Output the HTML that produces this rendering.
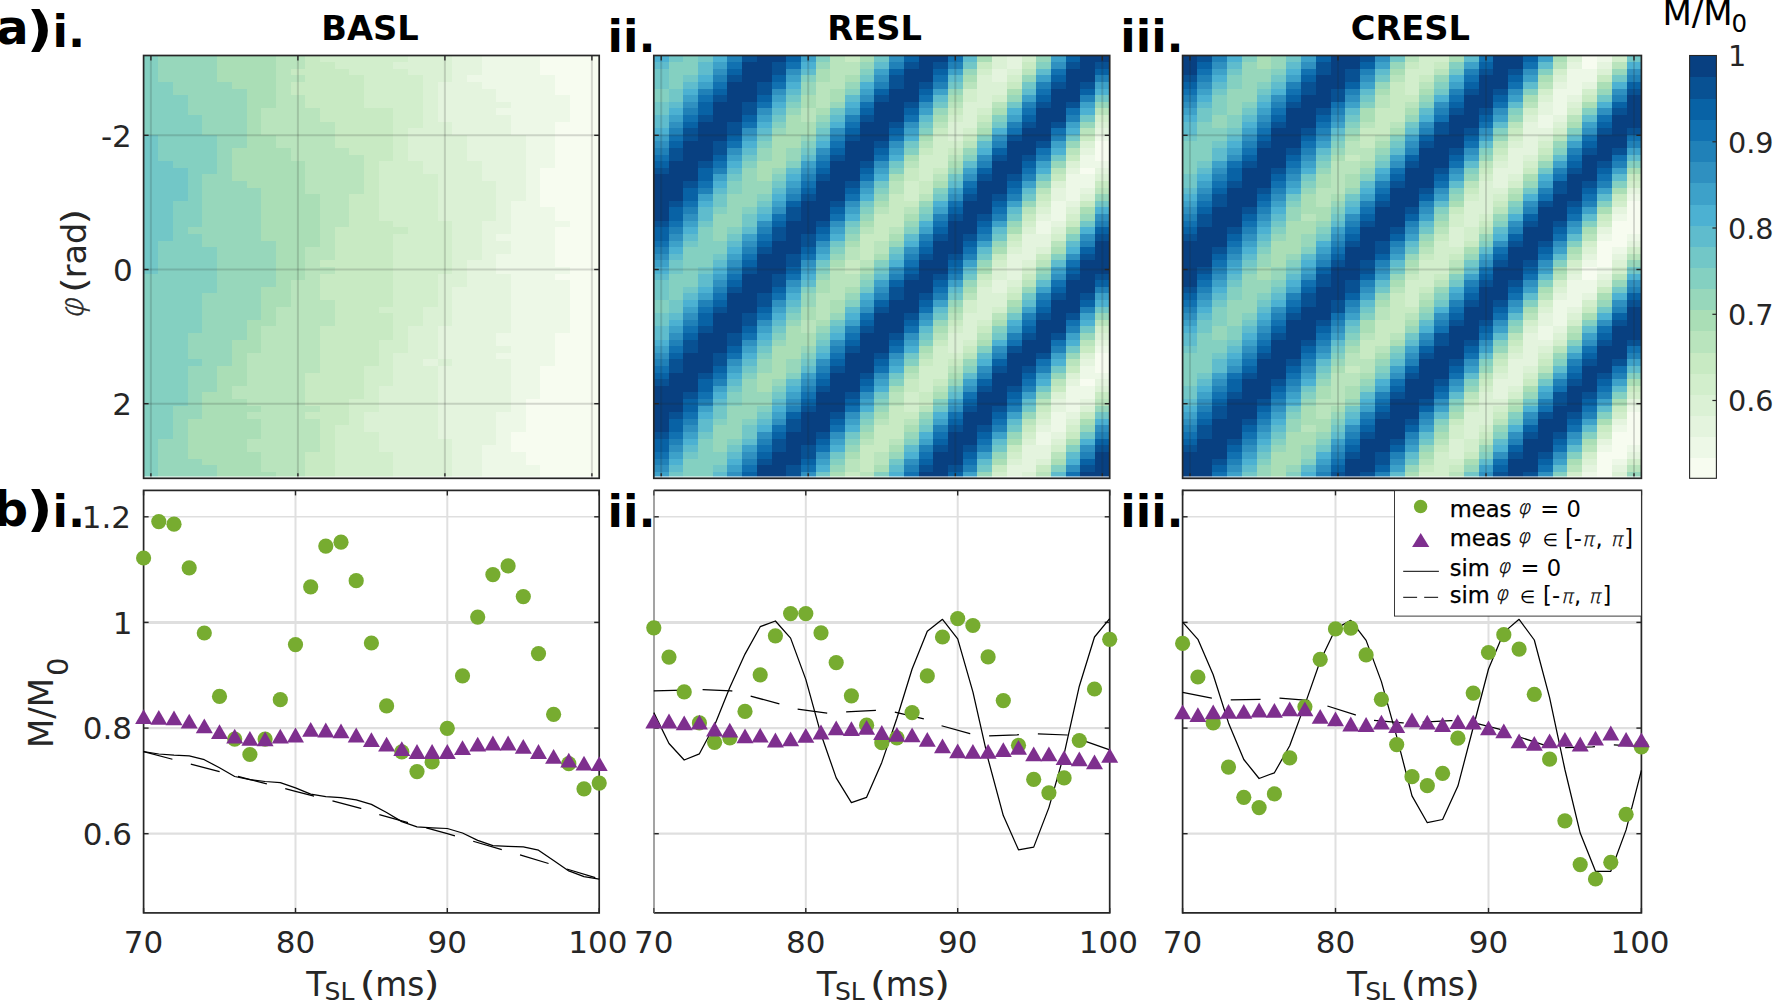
<!DOCTYPE html>
<html lang="en"><head><meta charset="utf-8"><title>Spin-lock figure</title>
<style>html,body{margin:0;padding:0;background:#fff}body{width:1773px;height:1003px;overflow:hidden}svg{display:block}text{font-family:'DejaVu Sans','Liberation Sans',sans-serif}</style>
</head><body>
<svg width="1773" height="1003" viewBox="0 0 1773 1003">
<rect width="1773" height="1003" fill="#fff"/>
<!-- heatmap BASL -->
<g shape-rendering="crispEdges">
<rect x="143.6" y="55.5" width="15.0" height="6.9" fill="#84d0c1"/>
<rect x="158.3" y="55.5" width="59.1" height="6.9" fill="#97d7bb"/>
<rect x="217.1" y="55.5" width="59.1" height="6.9" fill="#aadeb6"/>
<rect x="275.9" y="55.5" width="29.7" height="6.9" fill="#b9e4bd"/>
<rect x="305.3" y="55.5" width="15.0" height="6.9" fill="#c8eac3"/>
<rect x="320.0" y="55.5" width="88.5" height="6.9" fill="#d2eecc"/>
<rect x="408.1" y="55.5" width="44.4" height="6.9" fill="#dbf1d5"/>
<rect x="452.2" y="55.5" width="29.7" height="6.9" fill="#e4f4de"/>
<rect x="481.6" y="55.5" width="59.1" height="6.9" fill="#edf8e7"/>
<rect x="540.4" y="55.5" width="59.1" height="6.9" fill="#f7fcf0"/>
<rect x="143.6" y="62.1" width="15.0" height="6.9" fill="#84d0c1"/>
<rect x="158.3" y="62.1" width="59.1" height="6.9" fill="#97d7bb"/>
<rect x="217.1" y="62.1" width="59.1" height="6.9" fill="#aadeb6"/>
<rect x="275.9" y="62.1" width="29.7" height="6.9" fill="#b9e4bd"/>
<rect x="305.3" y="62.1" width="29.7" height="6.9" fill="#c8eac3"/>
<rect x="334.7" y="62.1" width="59.1" height="6.9" fill="#d2eecc"/>
<rect x="393.4" y="62.1" width="59.1" height="6.9" fill="#dbf1d5"/>
<rect x="452.2" y="62.1" width="29.7" height="6.9" fill="#e4f4de"/>
<rect x="481.6" y="62.1" width="59.1" height="6.9" fill="#edf8e7"/>
<rect x="540.4" y="62.1" width="59.1" height="6.9" fill="#f7fcf0"/>
<rect x="143.6" y="68.7" width="15.0" height="6.9" fill="#84d0c1"/>
<rect x="158.3" y="68.7" width="59.1" height="6.9" fill="#97d7bb"/>
<rect x="217.1" y="68.7" width="59.1" height="6.9" fill="#aadeb6"/>
<rect x="275.9" y="68.7" width="15.0" height="6.9" fill="#b9e4bd"/>
<rect x="290.6" y="68.7" width="59.1" height="6.9" fill="#c8eac3"/>
<rect x="349.4" y="68.7" width="59.1" height="6.9" fill="#d2eecc"/>
<rect x="408.1" y="68.7" width="44.4" height="6.9" fill="#dbf1d5"/>
<rect x="452.2" y="68.7" width="29.7" height="6.9" fill="#e4f4de"/>
<rect x="481.6" y="68.7" width="59.1" height="6.9" fill="#edf8e7"/>
<rect x="540.4" y="68.7" width="59.1" height="6.9" fill="#f7fcf0"/>
<rect x="143.6" y="75.3" width="15.0" height="6.9" fill="#84d0c1"/>
<rect x="158.3" y="75.3" width="59.1" height="6.9" fill="#97d7bb"/>
<rect x="217.1" y="75.3" width="59.1" height="6.9" fill="#aadeb6"/>
<rect x="275.9" y="75.3" width="29.7" height="6.9" fill="#b9e4bd"/>
<rect x="305.3" y="75.3" width="59.1" height="6.9" fill="#c8eac3"/>
<rect x="364.1" y="75.3" width="59.1" height="6.9" fill="#d2eecc"/>
<rect x="422.8" y="75.3" width="29.7" height="6.9" fill="#dbf1d5"/>
<rect x="452.2" y="75.3" width="15.0" height="6.9" fill="#e4f4de"/>
<rect x="466.9" y="75.3" width="88.5" height="6.9" fill="#edf8e7"/>
<rect x="555.1" y="75.3" width="44.4" height="6.9" fill="#f7fcf0"/>
<rect x="143.6" y="81.9" width="29.7" height="6.9" fill="#84d0c1"/>
<rect x="173.0" y="81.9" width="59.1" height="6.9" fill="#97d7bb"/>
<rect x="231.8" y="81.9" width="44.4" height="6.9" fill="#aadeb6"/>
<rect x="275.9" y="81.9" width="15.0" height="6.9" fill="#b9e4bd"/>
<rect x="290.6" y="81.9" width="73.8" height="6.9" fill="#c8eac3"/>
<rect x="364.1" y="81.9" width="59.1" height="6.9" fill="#d2eecc"/>
<rect x="422.8" y="81.9" width="15.0" height="6.9" fill="#dbf1d5"/>
<rect x="437.5" y="81.9" width="44.4" height="6.9" fill="#e4f4de"/>
<rect x="481.6" y="81.9" width="73.8" height="6.9" fill="#edf8e7"/>
<rect x="555.1" y="81.9" width="44.4" height="6.9" fill="#f7fcf0"/>
<rect x="143.6" y="88.5" width="29.7" height="6.9" fill="#84d0c1"/>
<rect x="173.0" y="88.5" width="73.8" height="6.9" fill="#97d7bb"/>
<rect x="246.5" y="88.5" width="29.7" height="6.9" fill="#aadeb6"/>
<rect x="275.9" y="88.5" width="15.0" height="6.9" fill="#b9e4bd"/>
<rect x="290.6" y="88.5" width="73.8" height="6.9" fill="#c8eac3"/>
<rect x="364.1" y="88.5" width="59.1" height="6.9" fill="#d2eecc"/>
<rect x="422.8" y="88.5" width="15.0" height="6.9" fill="#dbf1d5"/>
<rect x="437.5" y="88.5" width="59.1" height="6.9" fill="#e4f4de"/>
<rect x="496.3" y="88.5" width="59.1" height="6.9" fill="#edf8e7"/>
<rect x="555.1" y="88.5" width="44.4" height="6.9" fill="#f7fcf0"/>
<rect x="143.6" y="95.1" width="44.4" height="6.9" fill="#84d0c1"/>
<rect x="187.7" y="95.1" width="59.1" height="6.9" fill="#97d7bb"/>
<rect x="246.5" y="95.1" width="29.7" height="6.9" fill="#aadeb6"/>
<rect x="275.9" y="95.1" width="29.7" height="6.9" fill="#b9e4bd"/>
<rect x="305.3" y="95.1" width="59.1" height="6.9" fill="#c8eac3"/>
<rect x="364.1" y="95.1" width="59.1" height="6.9" fill="#d2eecc"/>
<rect x="422.8" y="95.1" width="15.0" height="6.9" fill="#dbf1d5"/>
<rect x="437.5" y="95.1" width="59.1" height="6.9" fill="#e4f4de"/>
<rect x="496.3" y="95.1" width="73.8" height="6.9" fill="#edf8e7"/>
<rect x="569.8" y="95.1" width="29.7" height="6.9" fill="#f7fcf0"/>
<rect x="143.6" y="101.7" width="44.4" height="6.9" fill="#84d0c1"/>
<rect x="187.7" y="101.7" width="59.1" height="6.9" fill="#97d7bb"/>
<rect x="246.5" y="101.7" width="29.7" height="6.9" fill="#aadeb6"/>
<rect x="275.9" y="101.7" width="29.7" height="6.9" fill="#b9e4bd"/>
<rect x="305.3" y="101.7" width="59.1" height="6.9" fill="#c8eac3"/>
<rect x="364.1" y="101.7" width="59.1" height="6.9" fill="#d2eecc"/>
<rect x="422.8" y="101.7" width="15.0" height="6.9" fill="#dbf1d5"/>
<rect x="437.5" y="101.7" width="73.8" height="6.9" fill="#e4f4de"/>
<rect x="511.0" y="101.7" width="59.1" height="6.9" fill="#edf8e7"/>
<rect x="569.8" y="101.7" width="29.7" height="6.9" fill="#f7fcf0"/>
<rect x="143.6" y="108.3" width="44.4" height="6.9" fill="#84d0c1"/>
<rect x="187.7" y="108.3" width="59.1" height="6.9" fill="#97d7bb"/>
<rect x="246.5" y="108.3" width="15.0" height="6.9" fill="#aadeb6"/>
<rect x="261.2" y="108.3" width="59.1" height="6.9" fill="#b9e4bd"/>
<rect x="320.0" y="108.3" width="73.8" height="6.9" fill="#c8eac3"/>
<rect x="393.4" y="108.3" width="29.7" height="6.9" fill="#d2eecc"/>
<rect x="422.8" y="108.3" width="15.0" height="6.9" fill="#dbf1d5"/>
<rect x="437.5" y="108.3" width="59.1" height="6.9" fill="#e4f4de"/>
<rect x="496.3" y="108.3" width="73.8" height="6.9" fill="#edf8e7"/>
<rect x="569.8" y="108.3" width="29.7" height="6.9" fill="#f7fcf0"/>
<rect x="143.6" y="115.0" width="59.1" height="6.9" fill="#84d0c1"/>
<rect x="202.4" y="115.0" width="44.4" height="6.9" fill="#97d7bb"/>
<rect x="246.5" y="115.0" width="15.0" height="6.9" fill="#aadeb6"/>
<rect x="261.2" y="115.0" width="59.1" height="6.9" fill="#b9e4bd"/>
<rect x="320.0" y="115.0" width="73.8" height="6.9" fill="#c8eac3"/>
<rect x="393.4" y="115.0" width="29.7" height="6.9" fill="#d2eecc"/>
<rect x="422.8" y="115.0" width="15.0" height="6.9" fill="#dbf1d5"/>
<rect x="437.5" y="115.0" width="73.8" height="6.9" fill="#e4f4de"/>
<rect x="511.0" y="115.0" width="59.1" height="6.9" fill="#edf8e7"/>
<rect x="569.8" y="115.0" width="29.7" height="6.9" fill="#f7fcf0"/>
<rect x="143.6" y="121.6" width="59.1" height="6.9" fill="#84d0c1"/>
<rect x="202.4" y="121.6" width="44.4" height="6.9" fill="#97d7bb"/>
<rect x="246.5" y="121.6" width="15.0" height="6.9" fill="#aadeb6"/>
<rect x="261.2" y="121.6" width="73.8" height="6.9" fill="#b9e4bd"/>
<rect x="334.7" y="121.6" width="59.1" height="6.9" fill="#c8eac3"/>
<rect x="393.4" y="121.6" width="29.7" height="6.9" fill="#d2eecc"/>
<rect x="422.8" y="121.6" width="29.7" height="6.9" fill="#dbf1d5"/>
<rect x="452.2" y="121.6" width="59.1" height="6.9" fill="#e4f4de"/>
<rect x="511.0" y="121.6" width="44.4" height="6.9" fill="#edf8e7"/>
<rect x="555.1" y="121.6" width="44.4" height="6.9" fill="#f7fcf0"/>
<rect x="143.6" y="128.2" width="59.1" height="6.9" fill="#84d0c1"/>
<rect x="202.4" y="128.2" width="44.4" height="6.9" fill="#97d7bb"/>
<rect x="246.5" y="128.2" width="15.0" height="6.9" fill="#aadeb6"/>
<rect x="261.2" y="128.2" width="73.8" height="6.9" fill="#b9e4bd"/>
<rect x="334.7" y="128.2" width="59.1" height="6.9" fill="#c8eac3"/>
<rect x="393.4" y="128.2" width="15.0" height="6.9" fill="#d2eecc"/>
<rect x="408.1" y="128.2" width="44.4" height="6.9" fill="#dbf1d5"/>
<rect x="452.2" y="128.2" width="59.1" height="6.9" fill="#e4f4de"/>
<rect x="511.0" y="128.2" width="44.4" height="6.9" fill="#edf8e7"/>
<rect x="555.1" y="128.2" width="44.4" height="6.9" fill="#f7fcf0"/>
<rect x="143.6" y="134.8" width="15.0" height="6.9" fill="#72c7c7"/>
<rect x="158.3" y="134.8" width="59.1" height="6.9" fill="#84d0c1"/>
<rect x="217.1" y="134.8" width="29.7" height="6.9" fill="#97d7bb"/>
<rect x="246.5" y="134.8" width="29.7" height="6.9" fill="#aadeb6"/>
<rect x="275.9" y="134.8" width="59.1" height="6.9" fill="#b9e4bd"/>
<rect x="334.7" y="134.8" width="59.1" height="6.9" fill="#c8eac3"/>
<rect x="393.4" y="134.8" width="15.0" height="6.9" fill="#d2eecc"/>
<rect x="408.1" y="134.8" width="59.1" height="6.9" fill="#dbf1d5"/>
<rect x="466.9" y="134.8" width="59.1" height="6.9" fill="#e4f4de"/>
<rect x="525.7" y="134.8" width="29.7" height="6.9" fill="#edf8e7"/>
<rect x="555.1" y="134.8" width="44.4" height="6.9" fill="#f7fcf0"/>
<rect x="143.6" y="141.4" width="15.0" height="6.9" fill="#72c7c7"/>
<rect x="158.3" y="141.4" width="59.1" height="6.9" fill="#84d0c1"/>
<rect x="217.1" y="141.4" width="29.7" height="6.9" fill="#97d7bb"/>
<rect x="246.5" y="141.4" width="29.7" height="6.9" fill="#aadeb6"/>
<rect x="275.9" y="141.4" width="59.1" height="6.9" fill="#b9e4bd"/>
<rect x="334.7" y="141.4" width="59.1" height="6.9" fill="#c8eac3"/>
<rect x="393.4" y="141.4" width="15.0" height="6.9" fill="#d2eecc"/>
<rect x="408.1" y="141.4" width="59.1" height="6.9" fill="#dbf1d5"/>
<rect x="466.9" y="141.4" width="59.1" height="6.9" fill="#e4f4de"/>
<rect x="525.7" y="141.4" width="29.7" height="6.9" fill="#edf8e7"/>
<rect x="555.1" y="141.4" width="44.4" height="6.9" fill="#f7fcf0"/>
<rect x="143.6" y="148.0" width="15.0" height="6.9" fill="#72c7c7"/>
<rect x="158.3" y="148.0" width="59.1" height="6.9" fill="#84d0c1"/>
<rect x="217.1" y="148.0" width="15.0" height="6.9" fill="#97d7bb"/>
<rect x="231.8" y="148.0" width="59.1" height="6.9" fill="#aadeb6"/>
<rect x="290.6" y="148.0" width="59.1" height="6.9" fill="#b9e4bd"/>
<rect x="349.4" y="148.0" width="44.4" height="6.9" fill="#c8eac3"/>
<rect x="393.4" y="148.0" width="15.0" height="6.9" fill="#d2eecc"/>
<rect x="408.1" y="148.0" width="59.1" height="6.9" fill="#dbf1d5"/>
<rect x="466.9" y="148.0" width="59.1" height="6.9" fill="#e4f4de"/>
<rect x="525.7" y="148.0" width="29.7" height="6.9" fill="#edf8e7"/>
<rect x="555.1" y="148.0" width="44.4" height="6.9" fill="#f7fcf0"/>
<rect x="143.6" y="154.6" width="15.0" height="6.9" fill="#72c7c7"/>
<rect x="158.3" y="154.6" width="59.1" height="6.9" fill="#84d0c1"/>
<rect x="217.1" y="154.6" width="15.0" height="6.9" fill="#97d7bb"/>
<rect x="231.8" y="154.6" width="59.1" height="6.9" fill="#aadeb6"/>
<rect x="290.6" y="154.6" width="73.8" height="6.9" fill="#b9e4bd"/>
<rect x="364.1" y="154.6" width="29.7" height="6.9" fill="#c8eac3"/>
<rect x="393.4" y="154.6" width="15.0" height="6.9" fill="#d2eecc"/>
<rect x="408.1" y="154.6" width="59.1" height="6.9" fill="#dbf1d5"/>
<rect x="466.9" y="154.6" width="59.1" height="6.9" fill="#e4f4de"/>
<rect x="525.7" y="154.6" width="29.7" height="6.9" fill="#edf8e7"/>
<rect x="555.1" y="154.6" width="44.4" height="6.9" fill="#f7fcf0"/>
<rect x="143.6" y="161.2" width="29.7" height="6.9" fill="#72c7c7"/>
<rect x="173.0" y="161.2" width="44.4" height="6.9" fill="#84d0c1"/>
<rect x="217.1" y="161.2" width="15.0" height="6.9" fill="#97d7bb"/>
<rect x="231.8" y="161.2" width="73.8" height="6.9" fill="#aadeb6"/>
<rect x="305.3" y="161.2" width="59.1" height="6.9" fill="#b9e4bd"/>
<rect x="364.1" y="161.2" width="15.0" height="6.9" fill="#c8eac3"/>
<rect x="378.7" y="161.2" width="44.4" height="6.9" fill="#d2eecc"/>
<rect x="422.8" y="161.2" width="59.1" height="6.9" fill="#dbf1d5"/>
<rect x="481.6" y="161.2" width="44.4" height="6.9" fill="#e4f4de"/>
<rect x="525.7" y="161.2" width="29.7" height="6.9" fill="#edf8e7"/>
<rect x="555.1" y="161.2" width="44.4" height="6.9" fill="#f7fcf0"/>
<rect x="143.6" y="167.8" width="44.4" height="6.9" fill="#72c7c7"/>
<rect x="187.7" y="167.8" width="29.7" height="6.9" fill="#84d0c1"/>
<rect x="217.1" y="167.8" width="15.0" height="6.9" fill="#97d7bb"/>
<rect x="231.8" y="167.8" width="73.8" height="6.9" fill="#aadeb6"/>
<rect x="305.3" y="167.8" width="59.1" height="6.9" fill="#b9e4bd"/>
<rect x="364.1" y="167.8" width="15.0" height="6.9" fill="#c8eac3"/>
<rect x="378.7" y="167.8" width="44.4" height="6.9" fill="#d2eecc"/>
<rect x="422.8" y="167.8" width="59.1" height="6.9" fill="#dbf1d5"/>
<rect x="481.6" y="167.8" width="44.4" height="6.9" fill="#e4f4de"/>
<rect x="525.7" y="167.8" width="15.0" height="6.9" fill="#edf8e7"/>
<rect x="540.4" y="167.8" width="59.1" height="6.9" fill="#f7fcf0"/>
<rect x="143.6" y="174.4" width="44.4" height="6.9" fill="#72c7c7"/>
<rect x="187.7" y="174.4" width="15.0" height="6.9" fill="#84d0c1"/>
<rect x="202.4" y="174.4" width="29.7" height="6.9" fill="#97d7bb"/>
<rect x="231.8" y="174.4" width="73.8" height="6.9" fill="#aadeb6"/>
<rect x="305.3" y="174.4" width="59.1" height="6.9" fill="#b9e4bd"/>
<rect x="364.1" y="174.4" width="15.0" height="6.9" fill="#c8eac3"/>
<rect x="378.7" y="174.4" width="59.1" height="6.9" fill="#d2eecc"/>
<rect x="437.5" y="174.4" width="44.4" height="6.9" fill="#dbf1d5"/>
<rect x="481.6" y="174.4" width="44.4" height="6.9" fill="#e4f4de"/>
<rect x="525.7" y="174.4" width="15.0" height="6.9" fill="#edf8e7"/>
<rect x="540.4" y="174.4" width="59.1" height="6.9" fill="#f7fcf0"/>
<rect x="143.6" y="181.0" width="44.4" height="6.9" fill="#72c7c7"/>
<rect x="187.7" y="181.0" width="15.0" height="6.9" fill="#84d0c1"/>
<rect x="202.4" y="181.0" width="44.4" height="6.9" fill="#97d7bb"/>
<rect x="246.5" y="181.0" width="59.1" height="6.9" fill="#aadeb6"/>
<rect x="305.3" y="181.0" width="59.1" height="6.9" fill="#b9e4bd"/>
<rect x="364.1" y="181.0" width="15.0" height="6.9" fill="#c8eac3"/>
<rect x="378.7" y="181.0" width="59.1" height="6.9" fill="#d2eecc"/>
<rect x="437.5" y="181.0" width="59.1" height="6.9" fill="#dbf1d5"/>
<rect x="496.3" y="181.0" width="29.7" height="6.9" fill="#e4f4de"/>
<rect x="525.7" y="181.0" width="15.0" height="6.9" fill="#edf8e7"/>
<rect x="540.4" y="181.0" width="59.1" height="6.9" fill="#f7fcf0"/>
<rect x="143.6" y="187.6" width="44.4" height="6.9" fill="#72c7c7"/>
<rect x="187.7" y="187.6" width="15.0" height="6.9" fill="#84d0c1"/>
<rect x="202.4" y="187.6" width="59.1" height="6.9" fill="#97d7bb"/>
<rect x="261.2" y="187.6" width="44.4" height="6.9" fill="#aadeb6"/>
<rect x="305.3" y="187.6" width="59.1" height="6.9" fill="#b9e4bd"/>
<rect x="364.1" y="187.6" width="15.0" height="6.9" fill="#c8eac3"/>
<rect x="378.7" y="187.6" width="59.1" height="6.9" fill="#d2eecc"/>
<rect x="437.5" y="187.6" width="59.1" height="6.9" fill="#dbf1d5"/>
<rect x="496.3" y="187.6" width="29.7" height="6.9" fill="#e4f4de"/>
<rect x="525.7" y="187.6" width="15.0" height="6.9" fill="#edf8e7"/>
<rect x="540.4" y="187.6" width="59.1" height="6.9" fill="#f7fcf0"/>
<rect x="143.6" y="194.2" width="44.4" height="6.9" fill="#72c7c7"/>
<rect x="187.7" y="194.2" width="15.0" height="6.9" fill="#84d0c1"/>
<rect x="202.4" y="194.2" width="59.1" height="6.9" fill="#97d7bb"/>
<rect x="261.2" y="194.2" width="59.1" height="6.9" fill="#aadeb6"/>
<rect x="320.0" y="194.2" width="29.7" height="6.9" fill="#b9e4bd"/>
<rect x="349.4" y="194.2" width="29.7" height="6.9" fill="#c8eac3"/>
<rect x="378.7" y="194.2" width="59.1" height="6.9" fill="#d2eecc"/>
<rect x="437.5" y="194.2" width="59.1" height="6.9" fill="#dbf1d5"/>
<rect x="496.3" y="194.2" width="29.7" height="6.9" fill="#e4f4de"/>
<rect x="525.7" y="194.2" width="15.0" height="6.9" fill="#edf8e7"/>
<rect x="540.4" y="194.2" width="59.1" height="6.9" fill="#f7fcf0"/>
<rect x="143.6" y="200.8" width="29.7" height="6.9" fill="#72c7c7"/>
<rect x="173.0" y="200.8" width="29.7" height="6.9" fill="#84d0c1"/>
<rect x="202.4" y="200.8" width="59.1" height="6.9" fill="#97d7bb"/>
<rect x="261.2" y="200.8" width="59.1" height="6.9" fill="#aadeb6"/>
<rect x="320.0" y="200.8" width="29.7" height="6.9" fill="#b9e4bd"/>
<rect x="349.4" y="200.8" width="29.7" height="6.9" fill="#c8eac3"/>
<rect x="378.7" y="200.8" width="59.1" height="6.9" fill="#d2eecc"/>
<rect x="437.5" y="200.8" width="59.1" height="6.9" fill="#dbf1d5"/>
<rect x="496.3" y="200.8" width="15.0" height="6.9" fill="#e4f4de"/>
<rect x="511.0" y="200.8" width="29.7" height="6.9" fill="#edf8e7"/>
<rect x="540.4" y="200.8" width="59.1" height="6.9" fill="#f7fcf0"/>
<rect x="143.6" y="207.4" width="29.7" height="6.9" fill="#72c7c7"/>
<rect x="173.0" y="207.4" width="29.7" height="6.9" fill="#84d0c1"/>
<rect x="202.4" y="207.4" width="59.1" height="6.9" fill="#97d7bb"/>
<rect x="261.2" y="207.4" width="59.1" height="6.9" fill="#aadeb6"/>
<rect x="320.0" y="207.4" width="29.7" height="6.9" fill="#b9e4bd"/>
<rect x="349.4" y="207.4" width="29.7" height="6.9" fill="#c8eac3"/>
<rect x="378.7" y="207.4" width="59.1" height="6.9" fill="#d2eecc"/>
<rect x="437.5" y="207.4" width="59.1" height="6.9" fill="#dbf1d5"/>
<rect x="496.3" y="207.4" width="15.0" height="6.9" fill="#e4f4de"/>
<rect x="511.0" y="207.4" width="44.4" height="6.9" fill="#edf8e7"/>
<rect x="555.1" y="207.4" width="44.4" height="6.9" fill="#f7fcf0"/>
<rect x="143.6" y="214.1" width="29.7" height="6.9" fill="#72c7c7"/>
<rect x="173.0" y="214.1" width="29.7" height="6.9" fill="#84d0c1"/>
<rect x="202.4" y="214.1" width="59.1" height="6.9" fill="#97d7bb"/>
<rect x="261.2" y="214.1" width="59.1" height="6.9" fill="#aadeb6"/>
<rect x="320.0" y="214.1" width="29.7" height="6.9" fill="#b9e4bd"/>
<rect x="349.4" y="214.1" width="29.7" height="6.9" fill="#c8eac3"/>
<rect x="378.7" y="214.1" width="59.1" height="6.9" fill="#d2eecc"/>
<rect x="437.5" y="214.1" width="59.1" height="6.9" fill="#dbf1d5"/>
<rect x="496.3" y="214.1" width="15.0" height="6.9" fill="#e4f4de"/>
<rect x="511.0" y="214.1" width="44.4" height="6.9" fill="#edf8e7"/>
<rect x="555.1" y="214.1" width="44.4" height="6.9" fill="#f7fcf0"/>
<rect x="143.6" y="220.7" width="29.7" height="6.9" fill="#72c7c7"/>
<rect x="173.0" y="220.7" width="29.7" height="6.9" fill="#84d0c1"/>
<rect x="202.4" y="220.7" width="59.1" height="6.9" fill="#97d7bb"/>
<rect x="261.2" y="220.7" width="59.1" height="6.9" fill="#aadeb6"/>
<rect x="320.0" y="220.7" width="29.7" height="6.9" fill="#b9e4bd"/>
<rect x="349.4" y="220.7" width="44.4" height="6.9" fill="#c8eac3"/>
<rect x="393.4" y="220.7" width="59.1" height="6.9" fill="#d2eecc"/>
<rect x="452.2" y="220.7" width="29.7" height="6.9" fill="#dbf1d5"/>
<rect x="481.6" y="220.7" width="29.7" height="6.9" fill="#e4f4de"/>
<rect x="511.0" y="220.7" width="59.1" height="6.9" fill="#edf8e7"/>
<rect x="569.8" y="220.7" width="29.7" height="6.9" fill="#f7fcf0"/>
<rect x="143.6" y="227.3" width="29.7" height="6.9" fill="#72c7c7"/>
<rect x="173.0" y="227.3" width="15.0" height="6.9" fill="#84d0c1"/>
<rect x="187.7" y="227.3" width="73.8" height="6.9" fill="#97d7bb"/>
<rect x="261.2" y="227.3" width="59.1" height="6.9" fill="#aadeb6"/>
<rect x="320.0" y="227.3" width="15.0" height="6.9" fill="#b9e4bd"/>
<rect x="334.7" y="227.3" width="73.8" height="6.9" fill="#c8eac3"/>
<rect x="408.1" y="227.3" width="44.4" height="6.9" fill="#d2eecc"/>
<rect x="452.2" y="227.3" width="29.7" height="6.9" fill="#dbf1d5"/>
<rect x="481.6" y="227.3" width="29.7" height="6.9" fill="#e4f4de"/>
<rect x="511.0" y="227.3" width="44.4" height="6.9" fill="#edf8e7"/>
<rect x="555.1" y="227.3" width="44.4" height="6.9" fill="#f7fcf0"/>
<rect x="143.6" y="233.9" width="29.7" height="6.9" fill="#72c7c7"/>
<rect x="173.0" y="233.9" width="29.7" height="6.9" fill="#84d0c1"/>
<rect x="202.4" y="233.9" width="59.1" height="6.9" fill="#97d7bb"/>
<rect x="261.2" y="233.9" width="59.1" height="6.9" fill="#aadeb6"/>
<rect x="320.0" y="233.9" width="15.0" height="6.9" fill="#b9e4bd"/>
<rect x="334.7" y="233.9" width="59.1" height="6.9" fill="#c8eac3"/>
<rect x="393.4" y="233.9" width="59.1" height="6.9" fill="#d2eecc"/>
<rect x="452.2" y="233.9" width="29.7" height="6.9" fill="#dbf1d5"/>
<rect x="481.6" y="233.9" width="15.0" height="6.9" fill="#e4f4de"/>
<rect x="496.3" y="233.9" width="59.1" height="6.9" fill="#edf8e7"/>
<rect x="555.1" y="233.9" width="44.4" height="6.9" fill="#f7fcf0"/>
<rect x="143.6" y="240.5" width="15.0" height="6.9" fill="#72c7c7"/>
<rect x="158.3" y="240.5" width="44.4" height="6.9" fill="#84d0c1"/>
<rect x="202.4" y="240.5" width="73.8" height="6.9" fill="#97d7bb"/>
<rect x="275.9" y="240.5" width="44.4" height="6.9" fill="#aadeb6"/>
<rect x="320.0" y="240.5" width="15.0" height="6.9" fill="#b9e4bd"/>
<rect x="334.7" y="240.5" width="59.1" height="6.9" fill="#c8eac3"/>
<rect x="393.4" y="240.5" width="59.1" height="6.9" fill="#d2eecc"/>
<rect x="452.2" y="240.5" width="29.7" height="6.9" fill="#dbf1d5"/>
<rect x="481.6" y="240.5" width="29.7" height="6.9" fill="#e4f4de"/>
<rect x="511.0" y="240.5" width="44.4" height="6.9" fill="#edf8e7"/>
<rect x="555.1" y="240.5" width="44.4" height="6.9" fill="#f7fcf0"/>
<rect x="143.6" y="247.1" width="15.0" height="6.9" fill="#72c7c7"/>
<rect x="158.3" y="247.1" width="59.1" height="6.9" fill="#84d0c1"/>
<rect x="217.1" y="247.1" width="59.1" height="6.9" fill="#97d7bb"/>
<rect x="275.9" y="247.1" width="29.7" height="6.9" fill="#aadeb6"/>
<rect x="305.3" y="247.1" width="29.7" height="6.9" fill="#b9e4bd"/>
<rect x="334.7" y="247.1" width="59.1" height="6.9" fill="#c8eac3"/>
<rect x="393.4" y="247.1" width="59.1" height="6.9" fill="#d2eecc"/>
<rect x="452.2" y="247.1" width="29.7" height="6.9" fill="#dbf1d5"/>
<rect x="481.6" y="247.1" width="29.7" height="6.9" fill="#e4f4de"/>
<rect x="511.0" y="247.1" width="44.4" height="6.9" fill="#edf8e7"/>
<rect x="555.1" y="247.1" width="44.4" height="6.9" fill="#f7fcf0"/>
<rect x="143.6" y="253.7" width="15.0" height="6.9" fill="#72c7c7"/>
<rect x="158.3" y="253.7" width="59.1" height="6.9" fill="#84d0c1"/>
<rect x="217.1" y="253.7" width="59.1" height="6.9" fill="#97d7bb"/>
<rect x="275.9" y="253.7" width="29.7" height="6.9" fill="#aadeb6"/>
<rect x="305.3" y="253.7" width="29.7" height="6.9" fill="#b9e4bd"/>
<rect x="334.7" y="253.7" width="59.1" height="6.9" fill="#c8eac3"/>
<rect x="393.4" y="253.7" width="59.1" height="6.9" fill="#d2eecc"/>
<rect x="452.2" y="253.7" width="29.7" height="6.9" fill="#dbf1d5"/>
<rect x="481.6" y="253.7" width="15.0" height="6.9" fill="#e4f4de"/>
<rect x="496.3" y="253.7" width="59.1" height="6.9" fill="#edf8e7"/>
<rect x="555.1" y="253.7" width="44.4" height="6.9" fill="#f7fcf0"/>
<rect x="143.6" y="260.3" width="15.0" height="6.9" fill="#72c7c7"/>
<rect x="158.3" y="260.3" width="59.1" height="6.9" fill="#84d0c1"/>
<rect x="217.1" y="260.3" width="59.1" height="6.9" fill="#97d7bb"/>
<rect x="275.9" y="260.3" width="29.7" height="6.9" fill="#aadeb6"/>
<rect x="305.3" y="260.3" width="15.0" height="6.9" fill="#b9e4bd"/>
<rect x="320.0" y="260.3" width="73.8" height="6.9" fill="#c8eac3"/>
<rect x="393.4" y="260.3" width="59.1" height="6.9" fill="#d2eecc"/>
<rect x="452.2" y="260.3" width="15.0" height="6.9" fill="#dbf1d5"/>
<rect x="466.9" y="260.3" width="29.7" height="6.9" fill="#e4f4de"/>
<rect x="496.3" y="260.3" width="59.1" height="6.9" fill="#edf8e7"/>
<rect x="555.1" y="260.3" width="44.4" height="6.9" fill="#f7fcf0"/>
<rect x="143.6" y="266.9" width="15.0" height="6.9" fill="#72c7c7"/>
<rect x="158.3" y="266.9" width="59.1" height="6.9" fill="#84d0c1"/>
<rect x="217.1" y="266.9" width="59.1" height="6.9" fill="#97d7bb"/>
<rect x="275.9" y="266.9" width="29.7" height="6.9" fill="#aadeb6"/>
<rect x="305.3" y="266.9" width="29.7" height="6.9" fill="#b9e4bd"/>
<rect x="334.7" y="266.9" width="59.1" height="6.9" fill="#c8eac3"/>
<rect x="393.4" y="266.9" width="59.1" height="6.9" fill="#d2eecc"/>
<rect x="452.2" y="266.9" width="15.0" height="6.9" fill="#dbf1d5"/>
<rect x="466.9" y="266.9" width="29.7" height="6.9" fill="#e4f4de"/>
<rect x="496.3" y="266.9" width="73.8" height="6.9" fill="#edf8e7"/>
<rect x="569.8" y="266.9" width="29.7" height="6.9" fill="#f7fcf0"/>
<rect x="143.6" y="273.5" width="73.8" height="6.9" fill="#84d0c1"/>
<rect x="217.1" y="273.5" width="59.1" height="6.9" fill="#97d7bb"/>
<rect x="275.9" y="273.5" width="29.7" height="6.9" fill="#aadeb6"/>
<rect x="305.3" y="273.5" width="15.0" height="6.9" fill="#b9e4bd"/>
<rect x="320.0" y="273.5" width="73.8" height="6.9" fill="#c8eac3"/>
<rect x="393.4" y="273.5" width="44.4" height="6.9" fill="#d2eecc"/>
<rect x="437.5" y="273.5" width="29.7" height="6.9" fill="#dbf1d5"/>
<rect x="466.9" y="273.5" width="44.4" height="6.9" fill="#e4f4de"/>
<rect x="511.0" y="273.5" width="44.4" height="6.9" fill="#edf8e7"/>
<rect x="555.1" y="273.5" width="44.4" height="6.9" fill="#f7fcf0"/>
<rect x="143.6" y="280.1" width="73.8" height="6.9" fill="#84d0c1"/>
<rect x="217.1" y="280.1" width="59.1" height="6.9" fill="#97d7bb"/>
<rect x="275.9" y="280.1" width="15.0" height="6.9" fill="#aadeb6"/>
<rect x="290.6" y="280.1" width="29.7" height="6.9" fill="#b9e4bd"/>
<rect x="320.0" y="280.1" width="73.8" height="6.9" fill="#c8eac3"/>
<rect x="393.4" y="280.1" width="44.4" height="6.9" fill="#d2eecc"/>
<rect x="437.5" y="280.1" width="29.7" height="6.9" fill="#dbf1d5"/>
<rect x="466.9" y="280.1" width="44.4" height="6.9" fill="#e4f4de"/>
<rect x="511.0" y="280.1" width="59.1" height="6.9" fill="#edf8e7"/>
<rect x="569.8" y="280.1" width="29.7" height="6.9" fill="#f7fcf0"/>
<rect x="143.6" y="286.7" width="73.8" height="6.9" fill="#84d0c1"/>
<rect x="217.1" y="286.7" width="44.4" height="6.9" fill="#97d7bb"/>
<rect x="261.2" y="286.7" width="29.7" height="6.9" fill="#aadeb6"/>
<rect x="290.6" y="286.7" width="29.7" height="6.9" fill="#b9e4bd"/>
<rect x="320.0" y="286.7" width="73.8" height="6.9" fill="#c8eac3"/>
<rect x="393.4" y="286.7" width="44.4" height="6.9" fill="#d2eecc"/>
<rect x="437.5" y="286.7" width="15.0" height="6.9" fill="#dbf1d5"/>
<rect x="452.2" y="286.7" width="59.1" height="6.9" fill="#e4f4de"/>
<rect x="511.0" y="286.7" width="59.1" height="6.9" fill="#edf8e7"/>
<rect x="569.8" y="286.7" width="29.7" height="6.9" fill="#f7fcf0"/>
<rect x="143.6" y="293.3" width="59.1" height="6.9" fill="#84d0c1"/>
<rect x="202.4" y="293.3" width="59.1" height="6.9" fill="#97d7bb"/>
<rect x="261.2" y="293.3" width="29.7" height="6.9" fill="#aadeb6"/>
<rect x="290.6" y="293.3" width="29.7" height="6.9" fill="#b9e4bd"/>
<rect x="320.0" y="293.3" width="73.8" height="6.9" fill="#c8eac3"/>
<rect x="393.4" y="293.3" width="44.4" height="6.9" fill="#d2eecc"/>
<rect x="437.5" y="293.3" width="15.0" height="6.9" fill="#dbf1d5"/>
<rect x="452.2" y="293.3" width="59.1" height="6.9" fill="#e4f4de"/>
<rect x="511.0" y="293.3" width="59.1" height="6.9" fill="#edf8e7"/>
<rect x="569.8" y="293.3" width="29.7" height="6.9" fill="#f7fcf0"/>
<rect x="143.6" y="299.9" width="59.1" height="6.9" fill="#84d0c1"/>
<rect x="202.4" y="299.9" width="59.1" height="6.9" fill="#97d7bb"/>
<rect x="261.2" y="299.9" width="29.7" height="6.9" fill="#aadeb6"/>
<rect x="290.6" y="299.9" width="44.4" height="6.9" fill="#b9e4bd"/>
<rect x="334.7" y="299.9" width="59.1" height="6.9" fill="#c8eac3"/>
<rect x="393.4" y="299.9" width="44.4" height="6.9" fill="#d2eecc"/>
<rect x="437.5" y="299.9" width="15.0" height="6.9" fill="#dbf1d5"/>
<rect x="452.2" y="299.9" width="59.1" height="6.9" fill="#e4f4de"/>
<rect x="511.0" y="299.9" width="59.1" height="6.9" fill="#edf8e7"/>
<rect x="569.8" y="299.9" width="29.7" height="6.9" fill="#f7fcf0"/>
<rect x="143.6" y="306.5" width="59.1" height="6.9" fill="#84d0c1"/>
<rect x="202.4" y="306.5" width="59.1" height="6.9" fill="#97d7bb"/>
<rect x="261.2" y="306.5" width="15.0" height="6.9" fill="#aadeb6"/>
<rect x="275.9" y="306.5" width="59.1" height="6.9" fill="#b9e4bd"/>
<rect x="334.7" y="306.5" width="44.4" height="6.9" fill="#c8eac3"/>
<rect x="378.7" y="306.5" width="44.4" height="6.9" fill="#d2eecc"/>
<rect x="422.8" y="306.5" width="29.7" height="6.9" fill="#dbf1d5"/>
<rect x="452.2" y="306.5" width="59.1" height="6.9" fill="#e4f4de"/>
<rect x="511.0" y="306.5" width="59.1" height="6.9" fill="#edf8e7"/>
<rect x="569.8" y="306.5" width="29.7" height="6.9" fill="#f7fcf0"/>
<rect x="143.6" y="313.1" width="59.1" height="6.9" fill="#84d0c1"/>
<rect x="202.4" y="313.1" width="59.1" height="6.9" fill="#97d7bb"/>
<rect x="261.2" y="313.1" width="15.0" height="6.9" fill="#aadeb6"/>
<rect x="275.9" y="313.1" width="59.1" height="6.9" fill="#b9e4bd"/>
<rect x="334.7" y="313.1" width="59.1" height="6.9" fill="#c8eac3"/>
<rect x="393.4" y="313.1" width="29.7" height="6.9" fill="#d2eecc"/>
<rect x="422.8" y="313.1" width="29.7" height="6.9" fill="#dbf1d5"/>
<rect x="452.2" y="313.1" width="59.1" height="6.9" fill="#e4f4de"/>
<rect x="511.0" y="313.1" width="59.1" height="6.9" fill="#edf8e7"/>
<rect x="569.8" y="313.1" width="29.7" height="6.9" fill="#f7fcf0"/>
<rect x="143.6" y="319.8" width="59.1" height="6.9" fill="#84d0c1"/>
<rect x="202.4" y="319.8" width="44.4" height="6.9" fill="#97d7bb"/>
<rect x="246.5" y="319.8" width="29.7" height="6.9" fill="#aadeb6"/>
<rect x="275.9" y="319.8" width="59.1" height="6.9" fill="#b9e4bd"/>
<rect x="334.7" y="319.8" width="59.1" height="6.9" fill="#c8eac3"/>
<rect x="393.4" y="319.8" width="29.7" height="6.9" fill="#d2eecc"/>
<rect x="422.8" y="319.8" width="29.7" height="6.9" fill="#dbf1d5"/>
<rect x="452.2" y="319.8" width="59.1" height="6.9" fill="#e4f4de"/>
<rect x="511.0" y="319.8" width="59.1" height="6.9" fill="#edf8e7"/>
<rect x="569.8" y="319.8" width="29.7" height="6.9" fill="#f7fcf0"/>
<rect x="143.6" y="326.4" width="59.1" height="6.9" fill="#84d0c1"/>
<rect x="202.4" y="326.4" width="44.4" height="6.9" fill="#97d7bb"/>
<rect x="246.5" y="326.4" width="15.0" height="6.9" fill="#aadeb6"/>
<rect x="261.2" y="326.4" width="59.1" height="6.9" fill="#b9e4bd"/>
<rect x="320.0" y="326.4" width="73.8" height="6.9" fill="#c8eac3"/>
<rect x="393.4" y="326.4" width="15.0" height="6.9" fill="#d2eecc"/>
<rect x="408.1" y="326.4" width="29.7" height="6.9" fill="#dbf1d5"/>
<rect x="437.5" y="326.4" width="73.8" height="6.9" fill="#e4f4de"/>
<rect x="511.0" y="326.4" width="59.1" height="6.9" fill="#edf8e7"/>
<rect x="569.8" y="326.4" width="29.7" height="6.9" fill="#f7fcf0"/>
<rect x="143.6" y="333.0" width="44.4" height="6.9" fill="#84d0c1"/>
<rect x="187.7" y="333.0" width="59.1" height="6.9" fill="#97d7bb"/>
<rect x="246.5" y="333.0" width="15.0" height="6.9" fill="#aadeb6"/>
<rect x="261.2" y="333.0" width="59.1" height="6.9" fill="#b9e4bd"/>
<rect x="320.0" y="333.0" width="73.8" height="6.9" fill="#c8eac3"/>
<rect x="393.4" y="333.0" width="15.0" height="6.9" fill="#d2eecc"/>
<rect x="408.1" y="333.0" width="29.7" height="6.9" fill="#dbf1d5"/>
<rect x="437.5" y="333.0" width="59.1" height="6.9" fill="#e4f4de"/>
<rect x="496.3" y="333.0" width="59.1" height="6.9" fill="#edf8e7"/>
<rect x="555.1" y="333.0" width="44.4" height="6.9" fill="#f7fcf0"/>
<rect x="143.6" y="339.6" width="44.4" height="6.9" fill="#84d0c1"/>
<rect x="187.7" y="339.6" width="44.4" height="6.9" fill="#97d7bb"/>
<rect x="231.8" y="339.6" width="29.7" height="6.9" fill="#aadeb6"/>
<rect x="261.2" y="339.6" width="59.1" height="6.9" fill="#b9e4bd"/>
<rect x="320.0" y="339.6" width="59.1" height="6.9" fill="#c8eac3"/>
<rect x="378.7" y="339.6" width="29.7" height="6.9" fill="#d2eecc"/>
<rect x="408.1" y="339.6" width="29.7" height="6.9" fill="#dbf1d5"/>
<rect x="437.5" y="339.6" width="59.1" height="6.9" fill="#e4f4de"/>
<rect x="496.3" y="339.6" width="59.1" height="6.9" fill="#edf8e7"/>
<rect x="555.1" y="339.6" width="44.4" height="6.9" fill="#f7fcf0"/>
<rect x="143.6" y="346.2" width="44.4" height="6.9" fill="#84d0c1"/>
<rect x="187.7" y="346.2" width="44.4" height="6.9" fill="#97d7bb"/>
<rect x="231.8" y="346.2" width="29.7" height="6.9" fill="#aadeb6"/>
<rect x="261.2" y="346.2" width="59.1" height="6.9" fill="#b9e4bd"/>
<rect x="320.0" y="346.2" width="59.1" height="6.9" fill="#c8eac3"/>
<rect x="378.7" y="346.2" width="29.7" height="6.9" fill="#d2eecc"/>
<rect x="408.1" y="346.2" width="29.7" height="6.9" fill="#dbf1d5"/>
<rect x="437.5" y="346.2" width="73.8" height="6.9" fill="#e4f4de"/>
<rect x="511.0" y="346.2" width="44.4" height="6.9" fill="#edf8e7"/>
<rect x="555.1" y="346.2" width="44.4" height="6.9" fill="#f7fcf0"/>
<rect x="143.6" y="352.8" width="44.4" height="6.9" fill="#84d0c1"/>
<rect x="187.7" y="352.8" width="44.4" height="6.9" fill="#97d7bb"/>
<rect x="231.8" y="352.8" width="15.0" height="6.9" fill="#aadeb6"/>
<rect x="246.5" y="352.8" width="73.8" height="6.9" fill="#b9e4bd"/>
<rect x="320.0" y="352.8" width="59.1" height="6.9" fill="#c8eac3"/>
<rect x="378.7" y="352.8" width="15.0" height="6.9" fill="#d2eecc"/>
<rect x="393.4" y="352.8" width="44.4" height="6.9" fill="#dbf1d5"/>
<rect x="437.5" y="352.8" width="59.1" height="6.9" fill="#e4f4de"/>
<rect x="496.3" y="352.8" width="59.1" height="6.9" fill="#edf8e7"/>
<rect x="555.1" y="352.8" width="44.4" height="6.9" fill="#f7fcf0"/>
<rect x="143.6" y="359.4" width="59.1" height="6.9" fill="#84d0c1"/>
<rect x="202.4" y="359.4" width="29.7" height="6.9" fill="#97d7bb"/>
<rect x="231.8" y="359.4" width="15.0" height="6.9" fill="#aadeb6"/>
<rect x="246.5" y="359.4" width="73.8" height="6.9" fill="#b9e4bd"/>
<rect x="320.0" y="359.4" width="59.1" height="6.9" fill="#c8eac3"/>
<rect x="378.7" y="359.4" width="15.0" height="6.9" fill="#d2eecc"/>
<rect x="393.4" y="359.4" width="29.7" height="6.9" fill="#dbf1d5"/>
<rect x="422.8" y="359.4" width="15.0" height="6.9" fill="#e4f4de"/>
<rect x="437.5" y="359.4" width="15.0" height="6.9" fill="#dbf1d5"/>
<rect x="452.2" y="359.4" width="59.1" height="6.9" fill="#e4f4de"/>
<rect x="511.0" y="359.4" width="44.4" height="6.9" fill="#edf8e7"/>
<rect x="555.1" y="359.4" width="44.4" height="6.9" fill="#f7fcf0"/>
<rect x="143.6" y="366.0" width="44.4" height="6.9" fill="#84d0c1"/>
<rect x="187.7" y="366.0" width="29.7" height="6.9" fill="#97d7bb"/>
<rect x="217.1" y="366.0" width="29.7" height="6.9" fill="#aadeb6"/>
<rect x="246.5" y="366.0" width="73.8" height="6.9" fill="#b9e4bd"/>
<rect x="320.0" y="366.0" width="44.4" height="6.9" fill="#c8eac3"/>
<rect x="364.1" y="366.0" width="29.7" height="6.9" fill="#d2eecc"/>
<rect x="393.4" y="366.0" width="44.4" height="6.9" fill="#dbf1d5"/>
<rect x="437.5" y="366.0" width="73.8" height="6.9" fill="#e4f4de"/>
<rect x="511.0" y="366.0" width="29.7" height="6.9" fill="#edf8e7"/>
<rect x="540.4" y="366.0" width="59.1" height="6.9" fill="#f7fcf0"/>
<rect x="143.6" y="372.6" width="44.4" height="6.9" fill="#84d0c1"/>
<rect x="187.7" y="372.6" width="29.7" height="6.9" fill="#97d7bb"/>
<rect x="217.1" y="372.6" width="29.7" height="6.9" fill="#aadeb6"/>
<rect x="246.5" y="372.6" width="59.1" height="6.9" fill="#b9e4bd"/>
<rect x="305.3" y="372.6" width="59.1" height="6.9" fill="#c8eac3"/>
<rect x="364.1" y="372.6" width="29.7" height="6.9" fill="#d2eecc"/>
<rect x="393.4" y="372.6" width="44.4" height="6.9" fill="#dbf1d5"/>
<rect x="437.5" y="372.6" width="73.8" height="6.9" fill="#e4f4de"/>
<rect x="511.0" y="372.6" width="29.7" height="6.9" fill="#edf8e7"/>
<rect x="540.4" y="372.6" width="59.1" height="6.9" fill="#f7fcf0"/>
<rect x="143.6" y="379.2" width="44.4" height="6.9" fill="#84d0c1"/>
<rect x="187.7" y="379.2" width="29.7" height="6.9" fill="#97d7bb"/>
<rect x="217.1" y="379.2" width="29.7" height="6.9" fill="#aadeb6"/>
<rect x="246.5" y="379.2" width="59.1" height="6.9" fill="#b9e4bd"/>
<rect x="305.3" y="379.2" width="59.1" height="6.9" fill="#c8eac3"/>
<rect x="364.1" y="379.2" width="29.7" height="6.9" fill="#d2eecc"/>
<rect x="393.4" y="379.2" width="44.4" height="6.9" fill="#dbf1d5"/>
<rect x="437.5" y="379.2" width="73.8" height="6.9" fill="#e4f4de"/>
<rect x="511.0" y="379.2" width="29.7" height="6.9" fill="#edf8e7"/>
<rect x="540.4" y="379.2" width="59.1" height="6.9" fill="#f7fcf0"/>
<rect x="143.6" y="385.8" width="44.4" height="6.9" fill="#84d0c1"/>
<rect x="187.7" y="385.8" width="29.7" height="6.9" fill="#97d7bb"/>
<rect x="217.1" y="385.8" width="15.0" height="6.9" fill="#aadeb6"/>
<rect x="231.8" y="385.8" width="73.8" height="6.9" fill="#b9e4bd"/>
<rect x="305.3" y="385.8" width="59.1" height="6.9" fill="#c8eac3"/>
<rect x="364.1" y="385.8" width="15.0" height="6.9" fill="#d2eecc"/>
<rect x="378.7" y="385.8" width="59.1" height="6.9" fill="#dbf1d5"/>
<rect x="437.5" y="385.8" width="73.8" height="6.9" fill="#e4f4de"/>
<rect x="511.0" y="385.8" width="29.7" height="6.9" fill="#edf8e7"/>
<rect x="540.4" y="385.8" width="59.1" height="6.9" fill="#f7fcf0"/>
<rect x="143.6" y="392.4" width="44.4" height="6.9" fill="#84d0c1"/>
<rect x="187.7" y="392.4" width="15.0" height="6.9" fill="#97d7bb"/>
<rect x="202.4" y="392.4" width="29.7" height="6.9" fill="#aadeb6"/>
<rect x="231.8" y="392.4" width="73.8" height="6.9" fill="#b9e4bd"/>
<rect x="305.3" y="392.4" width="59.1" height="6.9" fill="#c8eac3"/>
<rect x="364.1" y="392.4" width="15.0" height="6.9" fill="#d2eecc"/>
<rect x="378.7" y="392.4" width="59.1" height="6.9" fill="#dbf1d5"/>
<rect x="437.5" y="392.4" width="73.8" height="6.9" fill="#e4f4de"/>
<rect x="511.0" y="392.4" width="29.7" height="6.9" fill="#edf8e7"/>
<rect x="540.4" y="392.4" width="59.1" height="6.9" fill="#f7fcf0"/>
<rect x="143.6" y="399.0" width="44.4" height="6.9" fill="#84d0c1"/>
<rect x="187.7" y="399.0" width="15.0" height="6.9" fill="#97d7bb"/>
<rect x="202.4" y="399.0" width="44.4" height="6.9" fill="#aadeb6"/>
<rect x="246.5" y="399.0" width="59.1" height="6.9" fill="#b9e4bd"/>
<rect x="305.3" y="399.0" width="44.4" height="6.9" fill="#c8eac3"/>
<rect x="349.4" y="399.0" width="29.7" height="6.9" fill="#d2eecc"/>
<rect x="378.7" y="399.0" width="59.1" height="6.9" fill="#dbf1d5"/>
<rect x="437.5" y="399.0" width="73.8" height="6.9" fill="#e4f4de"/>
<rect x="511.0" y="399.0" width="15.0" height="6.9" fill="#edf8e7"/>
<rect x="525.7" y="399.0" width="73.8" height="6.9" fill="#f7fcf0"/>
<rect x="143.6" y="405.6" width="29.7" height="6.9" fill="#84d0c1"/>
<rect x="173.0" y="405.6" width="29.7" height="6.9" fill="#97d7bb"/>
<rect x="202.4" y="405.6" width="59.1" height="6.9" fill="#aadeb6"/>
<rect x="261.2" y="405.6" width="59.1" height="6.9" fill="#b9e4bd"/>
<rect x="320.0" y="405.6" width="29.7" height="6.9" fill="#c8eac3"/>
<rect x="349.4" y="405.6" width="29.7" height="6.9" fill="#d2eecc"/>
<rect x="378.7" y="405.6" width="59.1" height="6.9" fill="#dbf1d5"/>
<rect x="437.5" y="405.6" width="73.8" height="6.9" fill="#e4f4de"/>
<rect x="511.0" y="405.6" width="15.0" height="6.9" fill="#edf8e7"/>
<rect x="525.7" y="405.6" width="73.8" height="6.9" fill="#f7fcf0"/>
<rect x="143.6" y="412.2" width="29.7" height="6.9" fill="#84d0c1"/>
<rect x="173.0" y="412.2" width="29.7" height="6.9" fill="#97d7bb"/>
<rect x="202.4" y="412.2" width="44.4" height="6.9" fill="#aadeb6"/>
<rect x="246.5" y="412.2" width="59.1" height="6.9" fill="#b9e4bd"/>
<rect x="305.3" y="412.2" width="44.4" height="6.9" fill="#c8eac3"/>
<rect x="349.4" y="412.2" width="15.0" height="6.9" fill="#d2eecc"/>
<rect x="364.1" y="412.2" width="73.8" height="6.9" fill="#dbf1d5"/>
<rect x="437.5" y="412.2" width="59.1" height="6.9" fill="#e4f4de"/>
<rect x="496.3" y="412.2" width="29.7" height="6.9" fill="#edf8e7"/>
<rect x="525.7" y="412.2" width="73.8" height="6.9" fill="#f7fcf0"/>
<rect x="143.6" y="418.8" width="29.7" height="6.9" fill="#84d0c1"/>
<rect x="173.0" y="418.8" width="15.0" height="6.9" fill="#97d7bb"/>
<rect x="187.7" y="418.8" width="73.8" height="6.9" fill="#aadeb6"/>
<rect x="261.2" y="418.8" width="59.1" height="6.9" fill="#b9e4bd"/>
<rect x="320.0" y="418.8" width="29.7" height="6.9" fill="#c8eac3"/>
<rect x="349.4" y="418.8" width="15.0" height="6.9" fill="#d2eecc"/>
<rect x="364.1" y="418.8" width="73.8" height="6.9" fill="#dbf1d5"/>
<rect x="437.5" y="418.8" width="59.1" height="6.9" fill="#e4f4de"/>
<rect x="496.3" y="418.8" width="29.7" height="6.9" fill="#edf8e7"/>
<rect x="525.7" y="418.8" width="73.8" height="6.9" fill="#f7fcf0"/>
<rect x="143.6" y="425.4" width="29.7" height="6.9" fill="#84d0c1"/>
<rect x="173.0" y="425.4" width="15.0" height="6.9" fill="#97d7bb"/>
<rect x="187.7" y="425.4" width="73.8" height="6.9" fill="#aadeb6"/>
<rect x="261.2" y="425.4" width="59.1" height="6.9" fill="#b9e4bd"/>
<rect x="320.0" y="425.4" width="15.0" height="6.9" fill="#c8eac3"/>
<rect x="334.7" y="425.4" width="29.7" height="6.9" fill="#d2eecc"/>
<rect x="364.1" y="425.4" width="73.8" height="6.9" fill="#dbf1d5"/>
<rect x="437.5" y="425.4" width="59.1" height="6.9" fill="#e4f4de"/>
<rect x="496.3" y="425.4" width="29.7" height="6.9" fill="#edf8e7"/>
<rect x="525.7" y="425.4" width="73.8" height="6.9" fill="#f7fcf0"/>
<rect x="143.6" y="432.1" width="29.7" height="6.9" fill="#84d0c1"/>
<rect x="173.0" y="432.1" width="15.0" height="6.9" fill="#97d7bb"/>
<rect x="187.7" y="432.1" width="73.8" height="6.9" fill="#aadeb6"/>
<rect x="261.2" y="432.1" width="59.1" height="6.9" fill="#b9e4bd"/>
<rect x="320.0" y="432.1" width="15.0" height="6.9" fill="#c8eac3"/>
<rect x="334.7" y="432.1" width="44.4" height="6.9" fill="#d2eecc"/>
<rect x="378.7" y="432.1" width="59.1" height="6.9" fill="#dbf1d5"/>
<rect x="437.5" y="432.1" width="59.1" height="6.9" fill="#e4f4de"/>
<rect x="496.3" y="432.1" width="15.0" height="6.9" fill="#edf8e7"/>
<rect x="511.0" y="432.1" width="88.5" height="6.9" fill="#f7fcf0"/>
<rect x="143.6" y="438.7" width="15.0" height="6.9" fill="#84d0c1"/>
<rect x="158.3" y="438.7" width="29.7" height="6.9" fill="#97d7bb"/>
<rect x="187.7" y="438.7" width="59.1" height="6.9" fill="#aadeb6"/>
<rect x="246.5" y="438.7" width="73.8" height="6.9" fill="#b9e4bd"/>
<rect x="320.0" y="438.7" width="15.0" height="6.9" fill="#c8eac3"/>
<rect x="334.7" y="438.7" width="44.4" height="6.9" fill="#d2eecc"/>
<rect x="378.7" y="438.7" width="73.8" height="6.9" fill="#dbf1d5"/>
<rect x="452.2" y="438.7" width="44.4" height="6.9" fill="#e4f4de"/>
<rect x="496.3" y="438.7" width="15.0" height="6.9" fill="#edf8e7"/>
<rect x="511.0" y="438.7" width="88.5" height="6.9" fill="#f7fcf0"/>
<rect x="143.6" y="445.3" width="15.0" height="6.9" fill="#84d0c1"/>
<rect x="158.3" y="445.3" width="29.7" height="6.9" fill="#97d7bb"/>
<rect x="187.7" y="445.3" width="59.1" height="6.9" fill="#aadeb6"/>
<rect x="246.5" y="445.3" width="73.8" height="6.9" fill="#b9e4bd"/>
<rect x="320.0" y="445.3" width="15.0" height="6.9" fill="#c8eac3"/>
<rect x="334.7" y="445.3" width="44.4" height="6.9" fill="#d2eecc"/>
<rect x="378.7" y="445.3" width="73.8" height="6.9" fill="#dbf1d5"/>
<rect x="452.2" y="445.3" width="29.7" height="6.9" fill="#e4f4de"/>
<rect x="481.6" y="445.3" width="29.7" height="6.9" fill="#edf8e7"/>
<rect x="511.0" y="445.3" width="88.5" height="6.9" fill="#f7fcf0"/>
<rect x="143.6" y="451.9" width="15.0" height="6.9" fill="#84d0c1"/>
<rect x="158.3" y="451.9" width="29.7" height="6.9" fill="#97d7bb"/>
<rect x="187.7" y="451.9" width="73.8" height="6.9" fill="#aadeb6"/>
<rect x="261.2" y="451.9" width="44.4" height="6.9" fill="#b9e4bd"/>
<rect x="305.3" y="451.9" width="29.7" height="6.9" fill="#c8eac3"/>
<rect x="334.7" y="451.9" width="59.1" height="6.9" fill="#d2eecc"/>
<rect x="393.4" y="451.9" width="59.1" height="6.9" fill="#dbf1d5"/>
<rect x="452.2" y="451.9" width="29.7" height="6.9" fill="#e4f4de"/>
<rect x="481.6" y="451.9" width="44.4" height="6.9" fill="#edf8e7"/>
<rect x="525.7" y="451.9" width="73.8" height="6.9" fill="#f7fcf0"/>
<rect x="143.6" y="458.5" width="15.0" height="6.9" fill="#84d0c1"/>
<rect x="158.3" y="458.5" width="44.4" height="6.9" fill="#97d7bb"/>
<rect x="202.4" y="458.5" width="59.1" height="6.9" fill="#aadeb6"/>
<rect x="261.2" y="458.5" width="44.4" height="6.9" fill="#b9e4bd"/>
<rect x="305.3" y="458.5" width="29.7" height="6.9" fill="#c8eac3"/>
<rect x="334.7" y="458.5" width="59.1" height="6.9" fill="#d2eecc"/>
<rect x="393.4" y="458.5" width="59.1" height="6.9" fill="#dbf1d5"/>
<rect x="452.2" y="458.5" width="29.7" height="6.9" fill="#e4f4de"/>
<rect x="481.6" y="458.5" width="44.4" height="6.9" fill="#edf8e7"/>
<rect x="525.7" y="458.5" width="73.8" height="6.9" fill="#f7fcf0"/>
<rect x="143.6" y="465.1" width="15.0" height="6.9" fill="#84d0c1"/>
<rect x="158.3" y="465.1" width="59.1" height="6.9" fill="#97d7bb"/>
<rect x="217.1" y="465.1" width="44.4" height="6.9" fill="#aadeb6"/>
<rect x="261.2" y="465.1" width="44.4" height="6.9" fill="#b9e4bd"/>
<rect x="305.3" y="465.1" width="29.7" height="6.9" fill="#c8eac3"/>
<rect x="334.7" y="465.1" width="59.1" height="6.9" fill="#d2eecc"/>
<rect x="393.4" y="465.1" width="59.1" height="6.9" fill="#dbf1d5"/>
<rect x="452.2" y="465.1" width="29.7" height="6.9" fill="#e4f4de"/>
<rect x="481.6" y="465.1" width="59.1" height="6.9" fill="#edf8e7"/>
<rect x="540.4" y="465.1" width="59.1" height="6.9" fill="#f7fcf0"/>
<rect x="143.6" y="471.7" width="15.0" height="6.9" fill="#84d0c1"/>
<rect x="158.3" y="471.7" width="59.1" height="6.9" fill="#97d7bb"/>
<rect x="217.1" y="471.7" width="59.1" height="6.9" fill="#aadeb6"/>
<rect x="275.9" y="471.7" width="29.7" height="6.9" fill="#b9e4bd"/>
<rect x="305.3" y="471.7" width="29.7" height="6.9" fill="#c8eac3"/>
<rect x="334.7" y="471.7" width="59.1" height="6.9" fill="#d2eecc"/>
<rect x="393.4" y="471.7" width="59.1" height="6.9" fill="#dbf1d5"/>
<rect x="452.2" y="471.7" width="29.7" height="6.9" fill="#e4f4de"/>
<rect x="481.6" y="471.7" width="59.1" height="6.9" fill="#edf8e7"/>
<rect x="540.4" y="471.7" width="59.1" height="6.9" fill="#f7fcf0"/>
</g>
<line x1="150.9" y1="55.5" x2="150.9" y2="478.3" stroke="#262626" stroke-opacity="0.17" stroke-width="2"/>
<line x1="150.9" y1="478.3" x2="150.9" y2="473.3" stroke="#262626" stroke-width="1.4"/>
<line x1="150.9" y1="55.5" x2="150.9" y2="60.5" stroke="#262626" stroke-width="1.4"/>
<line x1="297.9" y1="55.5" x2="297.9" y2="478.3" stroke="#262626" stroke-opacity="0.17" stroke-width="2"/>
<line x1="297.9" y1="478.3" x2="297.9" y2="473.3" stroke="#262626" stroke-width="1.4"/>
<line x1="297.9" y1="55.5" x2="297.9" y2="60.5" stroke="#262626" stroke-width="1.4"/>
<line x1="444.9" y1="55.5" x2="444.9" y2="478.3" stroke="#262626" stroke-opacity="0.17" stroke-width="2"/>
<line x1="444.9" y1="478.3" x2="444.9" y2="473.3" stroke="#262626" stroke-width="1.4"/>
<line x1="444.9" y1="55.5" x2="444.9" y2="60.5" stroke="#262626" stroke-width="1.4"/>
<line x1="591.9" y1="55.5" x2="591.9" y2="478.3" stroke="#262626" stroke-opacity="0.17" stroke-width="2"/>
<line x1="591.9" y1="478.3" x2="591.9" y2="473.3" stroke="#262626" stroke-width="1.4"/>
<line x1="591.9" y1="55.5" x2="591.9" y2="60.5" stroke="#262626" stroke-width="1.4"/>
<line x1="143.6" y1="135.3" x2="599.2" y2="135.3" stroke="#262626" stroke-opacity="0.17" stroke-width="2"/>
<line x1="143.6" y1="135.3" x2="148.6" y2="135.3" stroke="#262626" stroke-width="1.4"/>
<line x1="599.2" y1="135.3" x2="594.2" y2="135.3" stroke="#262626" stroke-width="1.4"/>
<text x="131.8" y="146.8" text-anchor="end" font-size="31" fill="#262626">-2</text>
<line x1="143.6" y1="269.5" x2="599.2" y2="269.5" stroke="#262626" stroke-opacity="0.17" stroke-width="2"/>
<line x1="143.6" y1="269.5" x2="148.6" y2="269.5" stroke="#262626" stroke-width="1.4"/>
<line x1="599.2" y1="269.5" x2="594.2" y2="269.5" stroke="#262626" stroke-width="1.4"/>
<text x="132.7" y="281.0" text-anchor="end" font-size="31" fill="#262626">0</text>
<line x1="143.6" y1="403.7" x2="599.2" y2="403.7" stroke="#262626" stroke-opacity="0.17" stroke-width="2"/>
<line x1="143.6" y1="403.7" x2="148.6" y2="403.7" stroke="#262626" stroke-width="1.4"/>
<line x1="599.2" y1="403.7" x2="594.2" y2="403.7" stroke="#262626" stroke-width="1.4"/>
<text x="132.1" y="415.2" text-anchor="end" font-size="31" fill="#262626">2</text>
<line x1="143.6" y1="477.1" x2="599.2" y2="477.1" stroke="#fff" stroke-width="1.2"/>
<rect x="143.6" y="55.5" width="455.6" height="422.8" fill="none" stroke="#262626" stroke-width="1.7"/>
<text x="370.1" y="40.4" text-anchor="middle" font-size="33.7" font-weight="bold" fill="#000">BASL</text>
<!-- heatmap RESL -->
<g shape-rendering="crispEdges">
<rect x="653.8" y="55.5" width="15.0" height="6.9" fill="#4cb1d2"/>
<rect x="668.5" y="55.5" width="15.0" height="6.9" fill="#72c7c7"/>
<rect x="683.2" y="55.5" width="15.0" height="6.9" fill="#84d0c1"/>
<rect x="697.9" y="55.5" width="15.0" height="6.9" fill="#72c7c7"/>
<rect x="712.6" y="55.5" width="15.0" height="6.9" fill="#4cb1d2"/>
<rect x="727.3" y="55.5" width="15.0" height="6.9" fill="#2081b8"/>
<rect x="742.0" y="55.5" width="15.0" height="6.9" fill="#085193"/>
<rect x="756.7" y="55.5" width="29.7" height="6.9" fill="#084081"/>
<rect x="786.2" y="55.5" width="15.0" height="6.9" fill="#0862a5"/>
<rect x="800.9" y="55.5" width="15.0" height="6.9" fill="#3da1c9"/>
<rect x="815.6" y="55.5" width="15.0" height="6.9" fill="#84d0c1"/>
<rect x="830.3" y="55.5" width="15.0" height="6.9" fill="#b9e4bd"/>
<rect x="845.0" y="55.5" width="15.0" height="6.9" fill="#c8eac3"/>
<rect x="859.7" y="55.5" width="15.0" height="6.9" fill="#aadeb6"/>
<rect x="874.4" y="55.5" width="15.0" height="6.9" fill="#72c7c7"/>
<rect x="889.1" y="55.5" width="15.0" height="6.9" fill="#2f90c0"/>
<rect x="903.8" y="55.5" width="15.0" height="6.9" fill="#0862a5"/>
<rect x="918.5" y="55.5" width="29.7" height="6.9" fill="#084081"/>
<rect x="947.9" y="55.5" width="15.0" height="6.9" fill="#1171b1"/>
<rect x="962.6" y="55.5" width="15.0" height="6.9" fill="#5fbccd"/>
<rect x="977.3" y="55.5" width="15.0" height="6.9" fill="#aadeb6"/>
<rect x="992.0" y="55.5" width="15.0" height="6.9" fill="#dbf1d5"/>
<rect x="1006.8" y="55.5" width="15.0" height="6.9" fill="#e4f4de"/>
<rect x="1021.5" y="55.5" width="15.0" height="6.9" fill="#d2eecc"/>
<rect x="1036.2" y="55.5" width="15.0" height="6.9" fill="#97d7bb"/>
<rect x="1050.9" y="55.5" width="15.0" height="6.9" fill="#3da1c9"/>
<rect x="1065.6" y="55.5" width="15.0" height="6.9" fill="#0862a5"/>
<rect x="1080.3" y="55.5" width="29.7" height="6.9" fill="#084081"/>
<rect x="653.8" y="62.1" width="15.0" height="6.9" fill="#5fbccd"/>
<rect x="668.5" y="62.1" width="29.7" height="6.9" fill="#84d0c1"/>
<rect x="697.9" y="62.1" width="15.0" height="6.9" fill="#5fbccd"/>
<rect x="712.6" y="62.1" width="15.0" height="6.9" fill="#3da1c9"/>
<rect x="727.3" y="62.1" width="15.0" height="6.9" fill="#1171b1"/>
<rect x="742.0" y="62.1" width="29.7" height="6.9" fill="#084081"/>
<rect x="771.5" y="62.1" width="15.0" height="6.9" fill="#085193"/>
<rect x="786.2" y="62.1" width="15.0" height="6.9" fill="#1171b1"/>
<rect x="800.9" y="62.1" width="15.0" height="6.9" fill="#4cb1d2"/>
<rect x="815.6" y="62.1" width="15.0" height="6.9" fill="#97d7bb"/>
<rect x="830.3" y="62.1" width="29.7" height="6.9" fill="#b9e4bd"/>
<rect x="859.7" y="62.1" width="15.0" height="6.9" fill="#97d7bb"/>
<rect x="874.4" y="62.1" width="15.0" height="6.9" fill="#5fbccd"/>
<rect x="889.1" y="62.1" width="15.0" height="6.9" fill="#2081b8"/>
<rect x="903.8" y="62.1" width="15.0" height="6.9" fill="#085193"/>
<rect x="918.5" y="62.1" width="15.0" height="6.9" fill="#084081"/>
<rect x="933.2" y="62.1" width="15.0" height="6.9" fill="#085193"/>
<rect x="947.9" y="62.1" width="15.0" height="6.9" fill="#2081b8"/>
<rect x="962.6" y="62.1" width="15.0" height="6.9" fill="#72c7c7"/>
<rect x="977.3" y="62.1" width="15.0" height="6.9" fill="#c8eac3"/>
<rect x="992.0" y="62.1" width="15.0" height="6.9" fill="#dbf1d5"/>
<rect x="1006.8" y="62.1" width="15.0" height="6.9" fill="#e4f4de"/>
<rect x="1021.5" y="62.1" width="15.0" height="6.9" fill="#c8eac3"/>
<rect x="1036.2" y="62.1" width="15.0" height="6.9" fill="#84d0c1"/>
<rect x="1050.9" y="62.1" width="15.0" height="6.9" fill="#2f90c0"/>
<rect x="1065.6" y="62.1" width="15.0" height="6.9" fill="#085193"/>
<rect x="1080.3" y="62.1" width="15.0" height="6.9" fill="#084081"/>
<rect x="1095.0" y="62.1" width="15.0" height="6.9" fill="#085193"/>
<rect x="653.8" y="68.7" width="15.0" height="6.9" fill="#72c7c7"/>
<rect x="668.5" y="68.7" width="29.7" height="6.9" fill="#84d0c1"/>
<rect x="697.9" y="68.7" width="15.0" height="6.9" fill="#5fbccd"/>
<rect x="712.6" y="68.7" width="15.0" height="6.9" fill="#2f90c0"/>
<rect x="727.3" y="68.7" width="15.0" height="6.9" fill="#0862a5"/>
<rect x="742.0" y="68.7" width="29.7" height="6.9" fill="#084081"/>
<rect x="771.5" y="68.7" width="15.0" height="6.9" fill="#085193"/>
<rect x="786.2" y="68.7" width="15.0" height="6.9" fill="#2f90c0"/>
<rect x="800.9" y="68.7" width="15.0" height="6.9" fill="#5fbccd"/>
<rect x="815.6" y="68.7" width="15.0" height="6.9" fill="#aadeb6"/>
<rect x="830.3" y="68.7" width="29.7" height="6.9" fill="#b9e4bd"/>
<rect x="859.7" y="68.7" width="15.0" height="6.9" fill="#84d0c1"/>
<rect x="874.4" y="68.7" width="15.0" height="6.9" fill="#3da1c9"/>
<rect x="889.1" y="68.7" width="15.0" height="6.9" fill="#0862a5"/>
<rect x="903.8" y="68.7" width="29.7" height="6.9" fill="#084081"/>
<rect x="933.2" y="68.7" width="15.0" height="6.9" fill="#0862a5"/>
<rect x="947.9" y="68.7" width="15.0" height="6.9" fill="#3da1c9"/>
<rect x="962.6" y="68.7" width="15.0" height="6.9" fill="#97d7bb"/>
<rect x="977.3" y="68.7" width="15.0" height="6.9" fill="#d2eecc"/>
<rect x="992.0" y="68.7" width="15.0" height="6.9" fill="#e4f4de"/>
<rect x="1006.8" y="68.7" width="15.0" height="6.9" fill="#dbf1d5"/>
<rect x="1021.5" y="68.7" width="15.0" height="6.9" fill="#b9e4bd"/>
<rect x="1036.2" y="68.7" width="15.0" height="6.9" fill="#5fbccd"/>
<rect x="1050.9" y="68.7" width="15.0" height="6.9" fill="#1171b1"/>
<rect x="1065.6" y="68.7" width="29.7" height="6.9" fill="#084081"/>
<rect x="1095.0" y="68.7" width="15.0" height="6.9" fill="#0862a5"/>
<rect x="653.8" y="75.3" width="15.0" height="6.9" fill="#72c7c7"/>
<rect x="668.5" y="75.3" width="15.0" height="6.9" fill="#84d0c1"/>
<rect x="683.2" y="75.3" width="15.0" height="6.9" fill="#72c7c7"/>
<rect x="697.9" y="75.3" width="15.0" height="6.9" fill="#4cb1d2"/>
<rect x="712.6" y="75.3" width="15.0" height="6.9" fill="#2081b8"/>
<rect x="727.3" y="75.3" width="15.0" height="6.9" fill="#085193"/>
<rect x="742.0" y="75.3" width="29.7" height="6.9" fill="#084081"/>
<rect x="771.5" y="75.3" width="15.0" height="6.9" fill="#0862a5"/>
<rect x="786.2" y="75.3" width="15.0" height="6.9" fill="#3da1c9"/>
<rect x="800.9" y="75.3" width="15.0" height="6.9" fill="#84d0c1"/>
<rect x="815.6" y="75.3" width="15.0" height="6.9" fill="#aadeb6"/>
<rect x="830.3" y="75.3" width="15.0" height="6.9" fill="#b9e4bd"/>
<rect x="845.0" y="75.3" width="15.0" height="6.9" fill="#aadeb6"/>
<rect x="859.7" y="75.3" width="15.0" height="6.9" fill="#72c7c7"/>
<rect x="874.4" y="75.3" width="15.0" height="6.9" fill="#2f90c0"/>
<rect x="889.1" y="75.3" width="15.0" height="6.9" fill="#085193"/>
<rect x="903.8" y="75.3" width="29.7" height="6.9" fill="#084081"/>
<rect x="933.2" y="75.3" width="15.0" height="6.9" fill="#1171b1"/>
<rect x="947.9" y="75.3" width="15.0" height="6.9" fill="#5fbccd"/>
<rect x="962.6" y="75.3" width="15.0" height="6.9" fill="#aadeb6"/>
<rect x="977.3" y="75.3" width="15.0" height="6.9" fill="#dbf1d5"/>
<rect x="992.0" y="75.3" width="15.0" height="6.9" fill="#e4f4de"/>
<rect x="1006.8" y="75.3" width="15.0" height="6.9" fill="#d2eecc"/>
<rect x="1021.5" y="75.3" width="15.0" height="6.9" fill="#97d7bb"/>
<rect x="1036.2" y="75.3" width="15.0" height="6.9" fill="#3da1c9"/>
<rect x="1050.9" y="75.3" width="15.0" height="6.9" fill="#0862a5"/>
<rect x="1065.6" y="75.3" width="29.7" height="6.9" fill="#084081"/>
<rect x="1095.0" y="75.3" width="15.0" height="6.9" fill="#2081b8"/>
<rect x="653.8" y="81.9" width="15.0" height="6.9" fill="#72c7c7"/>
<rect x="668.5" y="81.9" width="15.0" height="6.9" fill="#84d0c1"/>
<rect x="683.2" y="81.9" width="15.0" height="6.9" fill="#5fbccd"/>
<rect x="697.9" y="81.9" width="15.0" height="6.9" fill="#3da1c9"/>
<rect x="712.6" y="81.9" width="15.0" height="6.9" fill="#1171b1"/>
<rect x="727.3" y="81.9" width="29.7" height="6.9" fill="#084081"/>
<rect x="756.7" y="81.9" width="15.0" height="6.9" fill="#085193"/>
<rect x="771.5" y="81.9" width="15.0" height="6.9" fill="#1171b1"/>
<rect x="786.2" y="81.9" width="15.0" height="6.9" fill="#4cb1d2"/>
<rect x="800.9" y="81.9" width="15.0" height="6.9" fill="#97d7bb"/>
<rect x="815.6" y="81.9" width="29.7" height="6.9" fill="#b9e4bd"/>
<rect x="845.0" y="81.9" width="15.0" height="6.9" fill="#97d7bb"/>
<rect x="859.7" y="81.9" width="15.0" height="6.9" fill="#4cb1d2"/>
<rect x="874.4" y="81.9" width="15.0" height="6.9" fill="#2081b8"/>
<rect x="889.1" y="81.9" width="15.0" height="6.9" fill="#085193"/>
<rect x="903.8" y="81.9" width="15.0" height="6.9" fill="#084081"/>
<rect x="918.5" y="81.9" width="15.0" height="6.9" fill="#085193"/>
<rect x="933.2" y="81.9" width="15.0" height="6.9" fill="#2081b8"/>
<rect x="947.9" y="81.9" width="15.0" height="6.9" fill="#72c7c7"/>
<rect x="962.6" y="81.9" width="15.0" height="6.9" fill="#b9e4bd"/>
<rect x="977.3" y="81.9" width="29.7" height="6.9" fill="#dbf1d5"/>
<rect x="1006.8" y="81.9" width="15.0" height="6.9" fill="#c8eac3"/>
<rect x="1021.5" y="81.9" width="15.0" height="6.9" fill="#72c7c7"/>
<rect x="1036.2" y="81.9" width="15.0" height="6.9" fill="#2081b8"/>
<rect x="1050.9" y="81.9" width="15.0" height="6.9" fill="#085193"/>
<rect x="1065.6" y="81.9" width="15.0" height="6.9" fill="#084081"/>
<rect x="1080.3" y="81.9" width="15.0" height="6.9" fill="#085193"/>
<rect x="1095.0" y="81.9" width="15.0" height="6.9" fill="#3da1c9"/>
<rect x="653.8" y="88.5" width="15.0" height="6.9" fill="#84d0c1"/>
<rect x="668.5" y="88.5" width="15.0" height="6.9" fill="#72c7c7"/>
<rect x="683.2" y="88.5" width="15.0" height="6.9" fill="#4cb1d2"/>
<rect x="697.9" y="88.5" width="15.0" height="6.9" fill="#2081b8"/>
<rect x="712.6" y="88.5" width="15.0" height="6.9" fill="#0862a5"/>
<rect x="727.3" y="88.5" width="29.7" height="6.9" fill="#084081"/>
<rect x="756.7" y="88.5" width="15.0" height="6.9" fill="#085193"/>
<rect x="771.5" y="88.5" width="15.0" height="6.9" fill="#2f90c0"/>
<rect x="786.2" y="88.5" width="15.0" height="6.9" fill="#5fbccd"/>
<rect x="800.9" y="88.5" width="15.0" height="6.9" fill="#97d7bb"/>
<rect x="815.6" y="88.5" width="15.0" height="6.9" fill="#b9e4bd"/>
<rect x="830.3" y="88.5" width="15.0" height="6.9" fill="#aadeb6"/>
<rect x="845.0" y="88.5" width="15.0" height="6.9" fill="#84d0c1"/>
<rect x="859.7" y="88.5" width="15.0" height="6.9" fill="#3da1c9"/>
<rect x="874.4" y="88.5" width="15.0" height="6.9" fill="#0862a5"/>
<rect x="889.1" y="88.5" width="29.7" height="6.9" fill="#084081"/>
<rect x="918.5" y="88.5" width="15.0" height="6.9" fill="#0862a5"/>
<rect x="933.2" y="88.5" width="15.0" height="6.9" fill="#3da1c9"/>
<rect x="947.9" y="88.5" width="15.0" height="6.9" fill="#97d7bb"/>
<rect x="962.6" y="88.5" width="15.0" height="6.9" fill="#d2eecc"/>
<rect x="977.3" y="88.5" width="29.7" height="6.9" fill="#dbf1d5"/>
<rect x="1006.8" y="88.5" width="15.0" height="6.9" fill="#aadeb6"/>
<rect x="1021.5" y="88.5" width="15.0" height="6.9" fill="#5fbccd"/>
<rect x="1036.2" y="88.5" width="15.0" height="6.9" fill="#1171b1"/>
<rect x="1050.9" y="88.5" width="29.7" height="6.9" fill="#084081"/>
<rect x="1080.3" y="88.5" width="15.0" height="6.9" fill="#0862a5"/>
<rect x="1095.0" y="88.5" width="15.0" height="6.9" fill="#4cb1d2"/>
<rect x="653.8" y="95.1" width="15.0" height="6.9" fill="#84d0c1"/>
<rect x="668.5" y="95.1" width="15.0" height="6.9" fill="#72c7c7"/>
<rect x="683.2" y="95.1" width="15.0" height="6.9" fill="#3da1c9"/>
<rect x="697.9" y="95.1" width="15.0" height="6.9" fill="#1171b1"/>
<rect x="712.6" y="95.1" width="15.0" height="6.9" fill="#085193"/>
<rect x="727.3" y="95.1" width="29.7" height="6.9" fill="#084081"/>
<rect x="756.7" y="95.1" width="15.0" height="6.9" fill="#0862a5"/>
<rect x="771.5" y="95.1" width="15.0" height="6.9" fill="#3da1c9"/>
<rect x="786.2" y="95.1" width="15.0" height="6.9" fill="#72c7c7"/>
<rect x="800.9" y="95.1" width="15.0" height="6.9" fill="#aadeb6"/>
<rect x="815.6" y="95.1" width="15.0" height="6.9" fill="#b9e4bd"/>
<rect x="830.3" y="95.1" width="15.0" height="6.9" fill="#aadeb6"/>
<rect x="845.0" y="95.1" width="15.0" height="6.9" fill="#5fbccd"/>
<rect x="859.7" y="95.1" width="15.0" height="6.9" fill="#2f90c0"/>
<rect x="874.4" y="95.1" width="15.0" height="6.9" fill="#085193"/>
<rect x="889.1" y="95.1" width="29.7" height="6.9" fill="#084081"/>
<rect x="918.5" y="95.1" width="15.0" height="6.9" fill="#1171b1"/>
<rect x="933.2" y="95.1" width="15.0" height="6.9" fill="#5fbccd"/>
<rect x="947.9" y="95.1" width="15.0" height="6.9" fill="#aadeb6"/>
<rect x="962.6" y="95.1" width="15.0" height="6.9" fill="#d2eecc"/>
<rect x="977.3" y="95.1" width="15.0" height="6.9" fill="#dbf1d5"/>
<rect x="992.0" y="95.1" width="15.0" height="6.9" fill="#d2eecc"/>
<rect x="1006.8" y="95.1" width="15.0" height="6.9" fill="#97d7bb"/>
<rect x="1021.5" y="95.1" width="15.0" height="6.9" fill="#3da1c9"/>
<rect x="1036.2" y="95.1" width="15.0" height="6.9" fill="#0862a5"/>
<rect x="1050.9" y="95.1" width="29.7" height="6.9" fill="#084081"/>
<rect x="1080.3" y="95.1" width="15.0" height="6.9" fill="#2081b8"/>
<rect x="1095.0" y="95.1" width="15.0" height="6.9" fill="#72c7c7"/>
<rect x="653.8" y="101.7" width="15.0" height="6.9" fill="#72c7c7"/>
<rect x="668.5" y="101.7" width="15.0" height="6.9" fill="#5fbccd"/>
<rect x="683.2" y="101.7" width="15.0" height="6.9" fill="#2f90c0"/>
<rect x="697.9" y="101.7" width="15.0" height="6.9" fill="#0862a5"/>
<rect x="712.6" y="101.7" width="29.7" height="6.9" fill="#084081"/>
<rect x="742.0" y="101.7" width="15.0" height="6.9" fill="#085193"/>
<rect x="756.7" y="101.7" width="15.0" height="6.9" fill="#1171b1"/>
<rect x="771.5" y="101.7" width="15.0" height="6.9" fill="#4cb1d2"/>
<rect x="786.2" y="101.7" width="15.0" height="6.9" fill="#84d0c1"/>
<rect x="800.9" y="101.7" width="15.0" height="6.9" fill="#aadeb6"/>
<rect x="815.6" y="101.7" width="15.0" height="6.9" fill="#b9e4bd"/>
<rect x="830.3" y="101.7" width="15.0" height="6.9" fill="#97d7bb"/>
<rect x="845.0" y="101.7" width="15.0" height="6.9" fill="#4cb1d2"/>
<rect x="859.7" y="101.7" width="15.0" height="6.9" fill="#1171b1"/>
<rect x="874.4" y="101.7" width="29.7" height="6.9" fill="#084081"/>
<rect x="903.8" y="101.7" width="15.0" height="6.9" fill="#085193"/>
<rect x="918.5" y="101.7" width="15.0" height="6.9" fill="#2f90c0"/>
<rect x="933.2" y="101.7" width="15.0" height="6.9" fill="#72c7c7"/>
<rect x="947.9" y="101.7" width="15.0" height="6.9" fill="#b9e4bd"/>
<rect x="962.6" y="101.7" width="29.7" height="6.9" fill="#dbf1d5"/>
<rect x="992.0" y="101.7" width="15.0" height="6.9" fill="#b9e4bd"/>
<rect x="1006.8" y="101.7" width="15.0" height="6.9" fill="#72c7c7"/>
<rect x="1021.5" y="101.7" width="15.0" height="6.9" fill="#2081b8"/>
<rect x="1036.2" y="101.7" width="15.0" height="6.9" fill="#085193"/>
<rect x="1050.9" y="101.7" width="15.0" height="6.9" fill="#084081"/>
<rect x="1065.6" y="101.7" width="15.0" height="6.9" fill="#085193"/>
<rect x="1080.3" y="101.7" width="15.0" height="6.9" fill="#3da1c9"/>
<rect x="1095.0" y="101.7" width="15.0" height="6.9" fill="#97d7bb"/>
<rect x="653.8" y="108.3" width="15.0" height="6.9" fill="#72c7c7"/>
<rect x="668.5" y="108.3" width="15.0" height="6.9" fill="#4cb1d2"/>
<rect x="683.2" y="108.3" width="15.0" height="6.9" fill="#2081b8"/>
<rect x="697.9" y="108.3" width="15.0" height="6.9" fill="#0862a5"/>
<rect x="712.6" y="108.3" width="29.7" height="6.9" fill="#084081"/>
<rect x="742.0" y="108.3" width="15.0" height="6.9" fill="#085193"/>
<rect x="756.7" y="108.3" width="15.0" height="6.9" fill="#2f90c0"/>
<rect x="771.5" y="108.3" width="15.0" height="6.9" fill="#5fbccd"/>
<rect x="786.2" y="108.3" width="15.0" height="6.9" fill="#97d7bb"/>
<rect x="800.9" y="108.3" width="15.0" height="6.9" fill="#b9e4bd"/>
<rect x="815.6" y="108.3" width="15.0" height="6.9" fill="#aadeb6"/>
<rect x="830.3" y="108.3" width="15.0" height="6.9" fill="#72c7c7"/>
<rect x="845.0" y="108.3" width="15.0" height="6.9" fill="#3da1c9"/>
<rect x="859.7" y="108.3" width="15.0" height="6.9" fill="#0862a5"/>
<rect x="874.4" y="108.3" width="29.7" height="6.9" fill="#084081"/>
<rect x="903.8" y="108.3" width="15.0" height="6.9" fill="#0862a5"/>
<rect x="918.5" y="108.3" width="15.0" height="6.9" fill="#3da1c9"/>
<rect x="933.2" y="108.3" width="15.0" height="6.9" fill="#97d7bb"/>
<rect x="947.9" y="108.3" width="15.0" height="6.9" fill="#c8eac3"/>
<rect x="962.6" y="108.3" width="15.0" height="6.9" fill="#dbf1d5"/>
<rect x="977.3" y="108.3" width="15.0" height="6.9" fill="#d2eecc"/>
<rect x="992.0" y="108.3" width="15.0" height="6.9" fill="#aadeb6"/>
<rect x="1006.8" y="108.3" width="15.0" height="6.9" fill="#4cb1d2"/>
<rect x="1021.5" y="108.3" width="15.0" height="6.9" fill="#1171b1"/>
<rect x="1036.2" y="108.3" width="29.7" height="6.9" fill="#084081"/>
<rect x="1065.6" y="108.3" width="15.0" height="6.9" fill="#1171b1"/>
<rect x="1080.3" y="108.3" width="15.0" height="6.9" fill="#4cb1d2"/>
<rect x="1095.0" y="108.3" width="15.0" height="6.9" fill="#b9e4bd"/>
<rect x="653.8" y="115.0" width="15.0" height="6.9" fill="#5fbccd"/>
<rect x="668.5" y="115.0" width="15.0" height="6.9" fill="#3da1c9"/>
<rect x="683.2" y="115.0" width="15.0" height="6.9" fill="#1171b1"/>
<rect x="697.9" y="115.0" width="15.0" height="6.9" fill="#085193"/>
<rect x="712.6" y="115.0" width="29.7" height="6.9" fill="#084081"/>
<rect x="742.0" y="115.0" width="15.0" height="6.9" fill="#0862a5"/>
<rect x="756.7" y="115.0" width="15.0" height="6.9" fill="#3da1c9"/>
<rect x="771.5" y="115.0" width="15.0" height="6.9" fill="#72c7c7"/>
<rect x="786.2" y="115.0" width="15.0" height="6.9" fill="#aadeb6"/>
<rect x="800.9" y="115.0" width="15.0" height="6.9" fill="#b9e4bd"/>
<rect x="815.6" y="115.0" width="15.0" height="6.9" fill="#97d7bb"/>
<rect x="830.3" y="115.0" width="15.0" height="6.9" fill="#5fbccd"/>
<rect x="845.0" y="115.0" width="15.0" height="6.9" fill="#2081b8"/>
<rect x="859.7" y="115.0" width="15.0" height="6.9" fill="#085193"/>
<rect x="874.4" y="115.0" width="29.7" height="6.9" fill="#084081"/>
<rect x="903.8" y="115.0" width="15.0" height="6.9" fill="#1171b1"/>
<rect x="918.5" y="115.0" width="15.0" height="6.9" fill="#5fbccd"/>
<rect x="933.2" y="115.0" width="15.0" height="6.9" fill="#aadeb6"/>
<rect x="947.9" y="115.0" width="15.0" height="6.9" fill="#d2eecc"/>
<rect x="962.6" y="115.0" width="15.0" height="6.9" fill="#dbf1d5"/>
<rect x="977.3" y="115.0" width="15.0" height="6.9" fill="#c8eac3"/>
<rect x="992.0" y="115.0" width="15.0" height="6.9" fill="#84d0c1"/>
<rect x="1006.8" y="115.0" width="15.0" height="6.9" fill="#3da1c9"/>
<rect x="1021.5" y="115.0" width="15.0" height="6.9" fill="#0862a5"/>
<rect x="1036.2" y="115.0" width="29.7" height="6.9" fill="#084081"/>
<rect x="1065.6" y="115.0" width="15.0" height="6.9" fill="#2081b8"/>
<rect x="1080.3" y="115.0" width="15.0" height="6.9" fill="#72c7c7"/>
<rect x="1095.0" y="115.0" width="15.0" height="6.9" fill="#d2eecc"/>
<rect x="653.8" y="121.6" width="15.0" height="6.9" fill="#5fbccd"/>
<rect x="668.5" y="121.6" width="15.0" height="6.9" fill="#2f90c0"/>
<rect x="683.2" y="121.6" width="15.0" height="6.9" fill="#0862a5"/>
<rect x="697.9" y="121.6" width="29.7" height="6.9" fill="#084081"/>
<rect x="727.3" y="121.6" width="15.0" height="6.9" fill="#085193"/>
<rect x="742.0" y="121.6" width="15.0" height="6.9" fill="#1171b1"/>
<rect x="756.7" y="121.6" width="15.0" height="6.9" fill="#4cb1d2"/>
<rect x="771.5" y="121.6" width="15.0" height="6.9" fill="#84d0c1"/>
<rect x="786.2" y="121.6" width="29.7" height="6.9" fill="#aadeb6"/>
<rect x="815.6" y="121.6" width="15.0" height="6.9" fill="#84d0c1"/>
<rect x="830.3" y="121.6" width="15.0" height="6.9" fill="#4cb1d2"/>
<rect x="845.0" y="121.6" width="15.0" height="6.9" fill="#1171b1"/>
<rect x="859.7" y="121.6" width="29.7" height="6.9" fill="#084081"/>
<rect x="889.1" y="121.6" width="15.0" height="6.9" fill="#085193"/>
<rect x="903.8" y="121.6" width="15.0" height="6.9" fill="#2f90c0"/>
<rect x="918.5" y="121.6" width="15.0" height="6.9" fill="#72c7c7"/>
<rect x="933.2" y="121.6" width="15.0" height="6.9" fill="#b9e4bd"/>
<rect x="947.9" y="121.6" width="29.7" height="6.9" fill="#dbf1d5"/>
<rect x="977.3" y="121.6" width="15.0" height="6.9" fill="#b9e4bd"/>
<rect x="992.0" y="121.6" width="15.0" height="6.9" fill="#72c7c7"/>
<rect x="1006.8" y="121.6" width="15.0" height="6.9" fill="#2081b8"/>
<rect x="1021.5" y="121.6" width="15.0" height="6.9" fill="#085193"/>
<rect x="1036.2" y="121.6" width="15.0" height="6.9" fill="#084081"/>
<rect x="1050.9" y="121.6" width="15.0" height="6.9" fill="#085193"/>
<rect x="1065.6" y="121.6" width="15.0" height="6.9" fill="#3da1c9"/>
<rect x="1080.3" y="121.6" width="15.0" height="6.9" fill="#97d7bb"/>
<rect x="1095.0" y="121.6" width="15.0" height="6.9" fill="#dbf1d5"/>
<rect x="653.8" y="128.2" width="15.0" height="6.9" fill="#4cb1d2"/>
<rect x="668.5" y="128.2" width="15.0" height="6.9" fill="#2081b8"/>
<rect x="683.2" y="128.2" width="15.0" height="6.9" fill="#085193"/>
<rect x="697.9" y="128.2" width="29.7" height="6.9" fill="#084081"/>
<rect x="727.3" y="128.2" width="15.0" height="6.9" fill="#085193"/>
<rect x="742.0" y="128.2" width="15.0" height="6.9" fill="#2f90c0"/>
<rect x="756.7" y="128.2" width="15.0" height="6.9" fill="#5fbccd"/>
<rect x="771.5" y="128.2" width="15.0" height="6.9" fill="#97d7bb"/>
<rect x="786.2" y="128.2" width="29.7" height="6.9" fill="#aadeb6"/>
<rect x="815.6" y="128.2" width="15.0" height="6.9" fill="#72c7c7"/>
<rect x="830.3" y="128.2" width="15.0" height="6.9" fill="#2f90c0"/>
<rect x="845.0" y="128.2" width="15.0" height="6.9" fill="#0862a5"/>
<rect x="859.7" y="128.2" width="29.7" height="6.9" fill="#084081"/>
<rect x="889.1" y="128.2" width="15.0" height="6.9" fill="#0862a5"/>
<rect x="903.8" y="128.2" width="15.0" height="6.9" fill="#3da1c9"/>
<rect x="918.5" y="128.2" width="15.0" height="6.9" fill="#84d0c1"/>
<rect x="933.2" y="128.2" width="15.0" height="6.9" fill="#c8eac3"/>
<rect x="947.9" y="128.2" width="15.0" height="6.9" fill="#dbf1d5"/>
<rect x="962.6" y="128.2" width="15.0" height="6.9" fill="#d2eecc"/>
<rect x="977.3" y="128.2" width="15.0" height="6.9" fill="#aadeb6"/>
<rect x="992.0" y="128.2" width="15.0" height="6.9" fill="#4cb1d2"/>
<rect x="1006.8" y="128.2" width="15.0" height="6.9" fill="#1171b1"/>
<rect x="1021.5" y="128.2" width="29.7" height="6.9" fill="#084081"/>
<rect x="1050.9" y="128.2" width="15.0" height="6.9" fill="#1171b1"/>
<rect x="1065.6" y="128.2" width="15.0" height="6.9" fill="#4cb1d2"/>
<rect x="1080.3" y="128.2" width="15.0" height="6.9" fill="#b9e4bd"/>
<rect x="1095.0" y="128.2" width="15.0" height="6.9" fill="#e4f4de"/>
<rect x="653.8" y="134.8" width="15.0" height="6.9" fill="#3da1c9"/>
<rect x="668.5" y="134.8" width="15.0" height="6.9" fill="#1171b1"/>
<rect x="683.2" y="134.8" width="15.0" height="6.9" fill="#085193"/>
<rect x="697.9" y="134.8" width="29.7" height="6.9" fill="#084081"/>
<rect x="727.3" y="134.8" width="15.0" height="6.9" fill="#0862a5"/>
<rect x="742.0" y="134.8" width="15.0" height="6.9" fill="#3da1c9"/>
<rect x="756.7" y="134.8" width="15.0" height="6.9" fill="#72c7c7"/>
<rect x="771.5" y="134.8" width="29.7" height="6.9" fill="#aadeb6"/>
<rect x="800.9" y="134.8" width="15.0" height="6.9" fill="#97d7bb"/>
<rect x="815.6" y="134.8" width="15.0" height="6.9" fill="#5fbccd"/>
<rect x="830.3" y="134.8" width="15.0" height="6.9" fill="#2081b8"/>
<rect x="845.0" y="134.8" width="15.0" height="6.9" fill="#085193"/>
<rect x="859.7" y="134.8" width="29.7" height="6.9" fill="#084081"/>
<rect x="889.1" y="134.8" width="15.0" height="6.9" fill="#1171b1"/>
<rect x="903.8" y="134.8" width="15.0" height="6.9" fill="#4cb1d2"/>
<rect x="918.5" y="134.8" width="15.0" height="6.9" fill="#aadeb6"/>
<rect x="933.2" y="134.8" width="15.0" height="6.9" fill="#d2eecc"/>
<rect x="947.9" y="134.8" width="15.0" height="6.9" fill="#dbf1d5"/>
<rect x="962.6" y="134.8" width="15.0" height="6.9" fill="#c8eac3"/>
<rect x="977.3" y="134.8" width="15.0" height="6.9" fill="#84d0c1"/>
<rect x="992.0" y="134.8" width="15.0" height="6.9" fill="#2f90c0"/>
<rect x="1006.8" y="134.8" width="15.0" height="6.9" fill="#085193"/>
<rect x="1021.5" y="134.8" width="29.7" height="6.9" fill="#084081"/>
<rect x="1050.9" y="134.8" width="15.0" height="6.9" fill="#2081b8"/>
<rect x="1065.6" y="134.8" width="15.0" height="6.9" fill="#72c7c7"/>
<rect x="1080.3" y="134.8" width="15.0" height="6.9" fill="#c8eac3"/>
<rect x="1095.0" y="134.8" width="15.0" height="6.9" fill="#edf8e7"/>
<rect x="653.8" y="141.4" width="15.0" height="6.9" fill="#2f90c0"/>
<rect x="668.5" y="141.4" width="15.0" height="6.9" fill="#0862a5"/>
<rect x="683.2" y="141.4" width="29.7" height="6.9" fill="#084081"/>
<rect x="712.6" y="141.4" width="15.0" height="6.9" fill="#085193"/>
<rect x="727.3" y="141.4" width="15.0" height="6.9" fill="#1171b1"/>
<rect x="742.0" y="141.4" width="15.0" height="6.9" fill="#4cb1d2"/>
<rect x="756.7" y="141.4" width="15.0" height="6.9" fill="#84d0c1"/>
<rect x="771.5" y="141.4" width="29.7" height="6.9" fill="#aadeb6"/>
<rect x="800.9" y="141.4" width="15.0" height="6.9" fill="#84d0c1"/>
<rect x="815.6" y="141.4" width="15.0" height="6.9" fill="#4cb1d2"/>
<rect x="830.3" y="141.4" width="15.0" height="6.9" fill="#1171b1"/>
<rect x="845.0" y="141.4" width="29.7" height="6.9" fill="#084081"/>
<rect x="874.4" y="141.4" width="15.0" height="6.9" fill="#085193"/>
<rect x="889.1" y="141.4" width="15.0" height="6.9" fill="#2f90c0"/>
<rect x="903.8" y="141.4" width="15.0" height="6.9" fill="#72c7c7"/>
<rect x="918.5" y="141.4" width="15.0" height="6.9" fill="#b9e4bd"/>
<rect x="933.2" y="141.4" width="29.7" height="6.9" fill="#d2eecc"/>
<rect x="962.6" y="141.4" width="15.0" height="6.9" fill="#b9e4bd"/>
<rect x="977.3" y="141.4" width="15.0" height="6.9" fill="#5fbccd"/>
<rect x="992.0" y="141.4" width="15.0" height="6.9" fill="#2081b8"/>
<rect x="1006.8" y="141.4" width="29.7" height="6.9" fill="#084081"/>
<rect x="1036.2" y="141.4" width="15.0" height="6.9" fill="#085193"/>
<rect x="1050.9" y="141.4" width="15.0" height="6.9" fill="#3da1c9"/>
<rect x="1065.6" y="141.4" width="15.0" height="6.9" fill="#97d7bb"/>
<rect x="1080.3" y="141.4" width="15.0" height="6.9" fill="#dbf1d5"/>
<rect x="1095.0" y="141.4" width="15.0" height="6.9" fill="#f7fcf0"/>
<rect x="653.8" y="148.0" width="15.0" height="6.9" fill="#2081b8"/>
<rect x="668.5" y="148.0" width="15.0" height="6.9" fill="#085193"/>
<rect x="683.2" y="148.0" width="29.7" height="6.9" fill="#084081"/>
<rect x="712.6" y="148.0" width="15.0" height="6.9" fill="#085193"/>
<rect x="727.3" y="148.0" width="15.0" height="6.9" fill="#2f90c0"/>
<rect x="742.0" y="148.0" width="15.0" height="6.9" fill="#5fbccd"/>
<rect x="756.7" y="148.0" width="15.0" height="6.9" fill="#97d7bb"/>
<rect x="771.5" y="148.0" width="15.0" height="6.9" fill="#aadeb6"/>
<rect x="786.2" y="148.0" width="15.0" height="6.9" fill="#97d7bb"/>
<rect x="800.9" y="148.0" width="15.0" height="6.9" fill="#72c7c7"/>
<rect x="815.6" y="148.0" width="15.0" height="6.9" fill="#2f90c0"/>
<rect x="830.3" y="148.0" width="15.0" height="6.9" fill="#0862a5"/>
<rect x="845.0" y="148.0" width="29.7" height="6.9" fill="#084081"/>
<rect x="874.4" y="148.0" width="15.0" height="6.9" fill="#0862a5"/>
<rect x="889.1" y="148.0" width="15.0" height="6.9" fill="#3da1c9"/>
<rect x="903.8" y="148.0" width="15.0" height="6.9" fill="#84d0c1"/>
<rect x="918.5" y="148.0" width="15.0" height="6.9" fill="#c8eac3"/>
<rect x="933.2" y="148.0" width="15.0" height="6.9" fill="#d2eecc"/>
<rect x="947.9" y="148.0" width="15.0" height="6.9" fill="#c8eac3"/>
<rect x="962.6" y="148.0" width="15.0" height="6.9" fill="#97d7bb"/>
<rect x="977.3" y="148.0" width="15.0" height="6.9" fill="#4cb1d2"/>
<rect x="992.0" y="148.0" width="15.0" height="6.9" fill="#0862a5"/>
<rect x="1006.8" y="148.0" width="29.7" height="6.9" fill="#084081"/>
<rect x="1036.2" y="148.0" width="15.0" height="6.9" fill="#1171b1"/>
<rect x="1050.9" y="148.0" width="15.0" height="6.9" fill="#4cb1d2"/>
<rect x="1065.6" y="148.0" width="15.0" height="6.9" fill="#b9e4bd"/>
<rect x="1080.3" y="148.0" width="15.0" height="6.9" fill="#e4f4de"/>
<rect x="1095.0" y="148.0" width="15.0" height="6.9" fill="#f7fcf0"/>
<rect x="653.8" y="154.6" width="15.0" height="6.9" fill="#1171b1"/>
<rect x="668.5" y="154.6" width="15.0" height="6.9" fill="#085193"/>
<rect x="683.2" y="154.6" width="29.7" height="6.9" fill="#084081"/>
<rect x="712.6" y="154.6" width="15.0" height="6.9" fill="#0862a5"/>
<rect x="727.3" y="154.6" width="15.0" height="6.9" fill="#3da1c9"/>
<rect x="742.0" y="154.6" width="15.0" height="6.9" fill="#72c7c7"/>
<rect x="756.7" y="154.6" width="15.0" height="6.9" fill="#97d7bb"/>
<rect x="771.5" y="154.6" width="15.0" height="6.9" fill="#aadeb6"/>
<rect x="786.2" y="154.6" width="15.0" height="6.9" fill="#97d7bb"/>
<rect x="800.9" y="154.6" width="15.0" height="6.9" fill="#5fbccd"/>
<rect x="815.6" y="154.6" width="15.0" height="6.9" fill="#2081b8"/>
<rect x="830.3" y="154.6" width="15.0" height="6.9" fill="#085193"/>
<rect x="845.0" y="154.6" width="29.7" height="6.9" fill="#084081"/>
<rect x="874.4" y="154.6" width="15.0" height="6.9" fill="#1171b1"/>
<rect x="889.1" y="154.6" width="15.0" height="6.9" fill="#4cb1d2"/>
<rect x="903.8" y="154.6" width="15.0" height="6.9" fill="#aadeb6"/>
<rect x="918.5" y="154.6" width="29.7" height="6.9" fill="#d2eecc"/>
<rect x="947.9" y="154.6" width="15.0" height="6.9" fill="#b9e4bd"/>
<rect x="962.6" y="154.6" width="15.0" height="6.9" fill="#84d0c1"/>
<rect x="977.3" y="154.6" width="15.0" height="6.9" fill="#2f90c0"/>
<rect x="992.0" y="154.6" width="15.0" height="6.9" fill="#085193"/>
<rect x="1006.8" y="154.6" width="15.0" height="6.9" fill="#084081"/>
<rect x="1021.5" y="154.6" width="15.0" height="6.9" fill="#085193"/>
<rect x="1036.2" y="154.6" width="15.0" height="6.9" fill="#2081b8"/>
<rect x="1050.9" y="154.6" width="15.0" height="6.9" fill="#72c7c7"/>
<rect x="1065.6" y="154.6" width="15.0" height="6.9" fill="#c8eac3"/>
<rect x="1080.3" y="154.6" width="15.0" height="6.9" fill="#edf8e7"/>
<rect x="1095.0" y="154.6" width="15.0" height="6.9" fill="#f7fcf0"/>
<rect x="653.8" y="161.2" width="15.0" height="6.9" fill="#0862a5"/>
<rect x="668.5" y="161.2" width="29.7" height="6.9" fill="#084081"/>
<rect x="697.9" y="161.2" width="15.0" height="6.9" fill="#085193"/>
<rect x="712.6" y="161.2" width="15.0" height="6.9" fill="#1171b1"/>
<rect x="727.3" y="161.2" width="15.0" height="6.9" fill="#4cb1d2"/>
<rect x="742.0" y="161.2" width="15.0" height="6.9" fill="#84d0c1"/>
<rect x="756.7" y="161.2" width="29.7" height="6.9" fill="#aadeb6"/>
<rect x="786.2" y="161.2" width="15.0" height="6.9" fill="#84d0c1"/>
<rect x="800.9" y="161.2" width="15.0" height="6.9" fill="#3da1c9"/>
<rect x="815.6" y="161.2" width="15.0" height="6.9" fill="#1171b1"/>
<rect x="830.3" y="161.2" width="29.7" height="6.9" fill="#084081"/>
<rect x="859.7" y="161.2" width="15.0" height="6.9" fill="#085193"/>
<rect x="874.4" y="161.2" width="15.0" height="6.9" fill="#2f90c0"/>
<rect x="889.1" y="161.2" width="15.0" height="6.9" fill="#72c7c7"/>
<rect x="903.8" y="161.2" width="15.0" height="6.9" fill="#b9e4bd"/>
<rect x="918.5" y="161.2" width="29.7" height="6.9" fill="#d2eecc"/>
<rect x="947.9" y="161.2" width="15.0" height="6.9" fill="#aadeb6"/>
<rect x="962.6" y="161.2" width="15.0" height="6.9" fill="#5fbccd"/>
<rect x="977.3" y="161.2" width="15.0" height="6.9" fill="#2081b8"/>
<rect x="992.0" y="161.2" width="29.7" height="6.9" fill="#084081"/>
<rect x="1021.5" y="161.2" width="15.0" height="6.9" fill="#0862a5"/>
<rect x="1036.2" y="161.2" width="15.0" height="6.9" fill="#3da1c9"/>
<rect x="1050.9" y="161.2" width="15.0" height="6.9" fill="#97d7bb"/>
<rect x="1065.6" y="161.2" width="15.0" height="6.9" fill="#dbf1d5"/>
<rect x="1080.3" y="161.2" width="29.7" height="6.9" fill="#edf8e7"/>
<rect x="653.8" y="167.8" width="15.0" height="6.9" fill="#085193"/>
<rect x="668.5" y="167.8" width="29.7" height="6.9" fill="#084081"/>
<rect x="697.9" y="167.8" width="15.0" height="6.9" fill="#0862a5"/>
<rect x="712.6" y="167.8" width="15.0" height="6.9" fill="#2081b8"/>
<rect x="727.3" y="167.8" width="15.0" height="6.9" fill="#5fbccd"/>
<rect x="742.0" y="167.8" width="15.0" height="6.9" fill="#97d7bb"/>
<rect x="756.7" y="167.8" width="15.0" height="6.9" fill="#aadeb6"/>
<rect x="771.5" y="167.8" width="15.0" height="6.9" fill="#97d7bb"/>
<rect x="786.2" y="167.8" width="15.0" height="6.9" fill="#5fbccd"/>
<rect x="800.9" y="167.8" width="15.0" height="6.9" fill="#2f90c0"/>
<rect x="815.6" y="167.8" width="15.0" height="6.9" fill="#0862a5"/>
<rect x="830.3" y="167.8" width="29.7" height="6.9" fill="#084081"/>
<rect x="859.7" y="167.8" width="15.0" height="6.9" fill="#0862a5"/>
<rect x="874.4" y="167.8" width="15.0" height="6.9" fill="#3da1c9"/>
<rect x="889.1" y="167.8" width="15.0" height="6.9" fill="#84d0c1"/>
<rect x="903.8" y="167.8" width="15.0" height="6.9" fill="#c8eac3"/>
<rect x="918.5" y="167.8" width="15.0" height="6.9" fill="#d2eecc"/>
<rect x="933.2" y="167.8" width="15.0" height="6.9" fill="#c8eac3"/>
<rect x="947.9" y="167.8" width="15.0" height="6.9" fill="#97d7bb"/>
<rect x="962.6" y="167.8" width="15.0" height="6.9" fill="#3da1c9"/>
<rect x="977.3" y="167.8" width="15.0" height="6.9" fill="#0862a5"/>
<rect x="992.0" y="167.8" width="29.7" height="6.9" fill="#084081"/>
<rect x="1021.5" y="167.8" width="15.0" height="6.9" fill="#1171b1"/>
<rect x="1036.2" y="167.8" width="15.0" height="6.9" fill="#4cb1d2"/>
<rect x="1050.9" y="167.8" width="15.0" height="6.9" fill="#b9e4bd"/>
<rect x="1065.6" y="167.8" width="15.0" height="6.9" fill="#e4f4de"/>
<rect x="1080.3" y="167.8" width="15.0" height="6.9" fill="#f7fcf0"/>
<rect x="1095.0" y="167.8" width="15.0" height="6.9" fill="#e4f4de"/>
<rect x="653.8" y="174.4" width="44.4" height="6.9" fill="#084081"/>
<rect x="697.9" y="174.4" width="15.0" height="6.9" fill="#0862a5"/>
<rect x="712.6" y="174.4" width="15.0" height="6.9" fill="#3da1c9"/>
<rect x="727.3" y="174.4" width="15.0" height="6.9" fill="#72c7c7"/>
<rect x="742.0" y="174.4" width="15.0" height="6.9" fill="#97d7bb"/>
<rect x="756.7" y="174.4" width="15.0" height="6.9" fill="#aadeb6"/>
<rect x="771.5" y="174.4" width="15.0" height="6.9" fill="#84d0c1"/>
<rect x="786.2" y="174.4" width="15.0" height="6.9" fill="#4cb1d2"/>
<rect x="800.9" y="174.4" width="15.0" height="6.9" fill="#2081b8"/>
<rect x="815.6" y="174.4" width="15.0" height="6.9" fill="#085193"/>
<rect x="830.3" y="174.4" width="29.7" height="6.9" fill="#084081"/>
<rect x="859.7" y="174.4" width="15.0" height="6.9" fill="#1171b1"/>
<rect x="874.4" y="174.4" width="15.0" height="6.9" fill="#4cb1d2"/>
<rect x="889.1" y="174.4" width="15.0" height="6.9" fill="#aadeb6"/>
<rect x="903.8" y="174.4" width="15.0" height="6.9" fill="#c8eac3"/>
<rect x="918.5" y="174.4" width="15.0" height="6.9" fill="#d2eecc"/>
<rect x="933.2" y="174.4" width="15.0" height="6.9" fill="#b9e4bd"/>
<rect x="947.9" y="174.4" width="15.0" height="6.9" fill="#72c7c7"/>
<rect x="962.6" y="174.4" width="15.0" height="6.9" fill="#2f90c0"/>
<rect x="977.3" y="174.4" width="15.0" height="6.9" fill="#085193"/>
<rect x="992.0" y="174.4" width="15.0" height="6.9" fill="#084081"/>
<rect x="1006.8" y="174.4" width="15.0" height="6.9" fill="#085193"/>
<rect x="1021.5" y="174.4" width="15.0" height="6.9" fill="#2081b8"/>
<rect x="1036.2" y="174.4" width="15.0" height="6.9" fill="#72c7c7"/>
<rect x="1050.9" y="174.4" width="15.0" height="6.9" fill="#c8eac3"/>
<rect x="1065.6" y="174.4" width="29.7" height="6.9" fill="#edf8e7"/>
<rect x="1095.0" y="174.4" width="15.0" height="6.9" fill="#dbf1d5"/>
<rect x="653.8" y="181.0" width="29.7" height="6.9" fill="#084081"/>
<rect x="683.2" y="181.0" width="15.0" height="6.9" fill="#085193"/>
<rect x="697.9" y="181.0" width="15.0" height="6.9" fill="#1171b1"/>
<rect x="712.6" y="181.0" width="15.0" height="6.9" fill="#4cb1d2"/>
<rect x="727.3" y="181.0" width="15.0" height="6.9" fill="#84d0c1"/>
<rect x="742.0" y="181.0" width="29.7" height="6.9" fill="#97d7bb"/>
<rect x="771.5" y="181.0" width="15.0" height="6.9" fill="#72c7c7"/>
<rect x="786.2" y="181.0" width="15.0" height="6.9" fill="#3da1c9"/>
<rect x="800.9" y="181.0" width="15.0" height="6.9" fill="#1171b1"/>
<rect x="815.6" y="181.0" width="29.7" height="6.9" fill="#084081"/>
<rect x="845.0" y="181.0" width="15.0" height="6.9" fill="#085193"/>
<rect x="859.7" y="181.0" width="15.0" height="6.9" fill="#2f90c0"/>
<rect x="874.4" y="181.0" width="15.0" height="6.9" fill="#72c7c7"/>
<rect x="889.1" y="181.0" width="15.0" height="6.9" fill="#b9e4bd"/>
<rect x="903.8" y="181.0" width="15.0" height="6.9" fill="#d2eecc"/>
<rect x="918.5" y="181.0" width="15.0" height="6.9" fill="#c8eac3"/>
<rect x="933.2" y="181.0" width="15.0" height="6.9" fill="#aadeb6"/>
<rect x="947.9" y="181.0" width="15.0" height="6.9" fill="#5fbccd"/>
<rect x="962.6" y="181.0" width="15.0" height="6.9" fill="#1171b1"/>
<rect x="977.3" y="181.0" width="29.7" height="6.9" fill="#084081"/>
<rect x="1006.8" y="181.0" width="15.0" height="6.9" fill="#0862a5"/>
<rect x="1021.5" y="181.0" width="15.0" height="6.9" fill="#3da1c9"/>
<rect x="1036.2" y="181.0" width="15.0" height="6.9" fill="#97d7bb"/>
<rect x="1050.9" y="181.0" width="15.0" height="6.9" fill="#dbf1d5"/>
<rect x="1065.6" y="181.0" width="29.7" height="6.9" fill="#edf8e7"/>
<rect x="1095.0" y="181.0" width="15.0" height="6.9" fill="#c8eac3"/>
<rect x="653.8" y="187.6" width="29.7" height="6.9" fill="#084081"/>
<rect x="683.2" y="187.6" width="15.0" height="6.9" fill="#0862a5"/>
<rect x="697.9" y="187.6" width="15.0" height="6.9" fill="#2081b8"/>
<rect x="712.6" y="187.6" width="15.0" height="6.9" fill="#5fbccd"/>
<rect x="727.3" y="187.6" width="15.0" height="6.9" fill="#84d0c1"/>
<rect x="742.0" y="187.6" width="29.7" height="6.9" fill="#97d7bb"/>
<rect x="771.5" y="187.6" width="15.0" height="6.9" fill="#5fbccd"/>
<rect x="786.2" y="187.6" width="15.0" height="6.9" fill="#2f90c0"/>
<rect x="800.9" y="187.6" width="15.0" height="6.9" fill="#0862a5"/>
<rect x="815.6" y="187.6" width="29.7" height="6.9" fill="#084081"/>
<rect x="845.0" y="187.6" width="15.0" height="6.9" fill="#0862a5"/>
<rect x="859.7" y="187.6" width="15.0" height="6.9" fill="#3da1c9"/>
<rect x="874.4" y="187.6" width="15.0" height="6.9" fill="#84d0c1"/>
<rect x="889.1" y="187.6" width="15.0" height="6.9" fill="#b9e4bd"/>
<rect x="903.8" y="187.6" width="15.0" height="6.9" fill="#d2eecc"/>
<rect x="918.5" y="187.6" width="15.0" height="6.9" fill="#c8eac3"/>
<rect x="933.2" y="187.6" width="15.0" height="6.9" fill="#84d0c1"/>
<rect x="947.9" y="187.6" width="15.0" height="6.9" fill="#3da1c9"/>
<rect x="962.6" y="187.6" width="15.0" height="6.9" fill="#0862a5"/>
<rect x="977.3" y="187.6" width="29.7" height="6.9" fill="#084081"/>
<rect x="1006.8" y="187.6" width="15.0" height="6.9" fill="#1171b1"/>
<rect x="1021.5" y="187.6" width="15.0" height="6.9" fill="#5fbccd"/>
<rect x="1036.2" y="187.6" width="15.0" height="6.9" fill="#b9e4bd"/>
<rect x="1050.9" y="187.6" width="15.0" height="6.9" fill="#e4f4de"/>
<rect x="1065.6" y="187.6" width="15.0" height="6.9" fill="#edf8e7"/>
<rect x="1080.3" y="187.6" width="15.0" height="6.9" fill="#e4f4de"/>
<rect x="1095.0" y="187.6" width="15.0" height="6.9" fill="#b9e4bd"/>
<rect x="653.8" y="194.2" width="29.7" height="6.9" fill="#084081"/>
<rect x="683.2" y="194.2" width="15.0" height="6.9" fill="#0862a5"/>
<rect x="697.9" y="194.2" width="15.0" height="6.9" fill="#3da1c9"/>
<rect x="712.6" y="194.2" width="15.0" height="6.9" fill="#72c7c7"/>
<rect x="727.3" y="194.2" width="29.7" height="6.9" fill="#97d7bb"/>
<rect x="756.7" y="194.2" width="15.0" height="6.9" fill="#84d0c1"/>
<rect x="771.5" y="194.2" width="15.0" height="6.9" fill="#4cb1d2"/>
<rect x="786.2" y="194.2" width="15.0" height="6.9" fill="#2081b8"/>
<rect x="800.9" y="194.2" width="15.0" height="6.9" fill="#085193"/>
<rect x="815.6" y="194.2" width="29.7" height="6.9" fill="#084081"/>
<rect x="845.0" y="194.2" width="15.0" height="6.9" fill="#1171b1"/>
<rect x="859.7" y="194.2" width="15.0" height="6.9" fill="#4cb1d2"/>
<rect x="874.4" y="194.2" width="15.0" height="6.9" fill="#97d7bb"/>
<rect x="889.1" y="194.2" width="15.0" height="6.9" fill="#c8eac3"/>
<rect x="903.8" y="194.2" width="15.0" height="6.9" fill="#d2eecc"/>
<rect x="918.5" y="194.2" width="15.0" height="6.9" fill="#b9e4bd"/>
<rect x="933.2" y="194.2" width="15.0" height="6.9" fill="#72c7c7"/>
<rect x="947.9" y="194.2" width="15.0" height="6.9" fill="#2f90c0"/>
<rect x="962.6" y="194.2" width="15.0" height="6.9" fill="#085193"/>
<rect x="977.3" y="194.2" width="15.0" height="6.9" fill="#084081"/>
<rect x="992.0" y="194.2" width="15.0" height="6.9" fill="#085193"/>
<rect x="1006.8" y="194.2" width="15.0" height="6.9" fill="#2081b8"/>
<rect x="1021.5" y="194.2" width="15.0" height="6.9" fill="#72c7c7"/>
<rect x="1036.2" y="194.2" width="15.0" height="6.9" fill="#c8eac3"/>
<rect x="1050.9" y="194.2" width="15.0" height="6.9" fill="#e4f4de"/>
<rect x="1065.6" y="194.2" width="15.0" height="6.9" fill="#edf8e7"/>
<rect x="1080.3" y="194.2" width="15.0" height="6.9" fill="#dbf1d5"/>
<rect x="1095.0" y="194.2" width="15.0" height="6.9" fill="#97d7bb"/>
<rect x="653.8" y="200.8" width="15.0" height="6.9" fill="#084081"/>
<rect x="668.5" y="200.8" width="15.0" height="6.9" fill="#085193"/>
<rect x="683.2" y="200.8" width="15.0" height="6.9" fill="#1171b1"/>
<rect x="697.9" y="200.8" width="15.0" height="6.9" fill="#4cb1d2"/>
<rect x="712.6" y="200.8" width="15.0" height="6.9" fill="#72c7c7"/>
<rect x="727.3" y="200.8" width="29.7" height="6.9" fill="#97d7bb"/>
<rect x="756.7" y="200.8" width="15.0" height="6.9" fill="#72c7c7"/>
<rect x="771.5" y="200.8" width="15.0" height="6.9" fill="#3da1c9"/>
<rect x="786.2" y="200.8" width="15.0" height="6.9" fill="#0862a5"/>
<rect x="800.9" y="200.8" width="29.7" height="6.9" fill="#084081"/>
<rect x="830.3" y="200.8" width="15.0" height="6.9" fill="#085193"/>
<rect x="845.0" y="200.8" width="15.0" height="6.9" fill="#2f90c0"/>
<rect x="859.7" y="200.8" width="15.0" height="6.9" fill="#72c7c7"/>
<rect x="874.4" y="200.8" width="15.0" height="6.9" fill="#aadeb6"/>
<rect x="889.1" y="200.8" width="29.7" height="6.9" fill="#c8eac3"/>
<rect x="918.5" y="200.8" width="15.0" height="6.9" fill="#97d7bb"/>
<rect x="933.2" y="200.8" width="15.0" height="6.9" fill="#4cb1d2"/>
<rect x="947.9" y="200.8" width="15.0" height="6.9" fill="#1171b1"/>
<rect x="962.6" y="200.8" width="29.7" height="6.9" fill="#084081"/>
<rect x="992.0" y="200.8" width="15.0" height="6.9" fill="#0862a5"/>
<rect x="1006.8" y="200.8" width="15.0" height="6.9" fill="#3da1c9"/>
<rect x="1021.5" y="200.8" width="15.0" height="6.9" fill="#97d7bb"/>
<rect x="1036.2" y="200.8" width="15.0" height="6.9" fill="#d2eecc"/>
<rect x="1050.9" y="200.8" width="15.0" height="6.9" fill="#edf8e7"/>
<rect x="1065.6" y="200.8" width="15.0" height="6.9" fill="#e4f4de"/>
<rect x="1080.3" y="200.8" width="15.0" height="6.9" fill="#c8eac3"/>
<rect x="1095.0" y="200.8" width="15.0" height="6.9" fill="#72c7c7"/>
<rect x="653.8" y="207.4" width="15.0" height="6.9" fill="#084081"/>
<rect x="668.5" y="207.4" width="15.0" height="6.9" fill="#0862a5"/>
<rect x="683.2" y="207.4" width="15.0" height="6.9" fill="#2081b8"/>
<rect x="697.9" y="207.4" width="15.0" height="6.9" fill="#5fbccd"/>
<rect x="712.6" y="207.4" width="15.0" height="6.9" fill="#84d0c1"/>
<rect x="727.3" y="207.4" width="15.0" height="6.9" fill="#97d7bb"/>
<rect x="742.0" y="207.4" width="15.0" height="6.9" fill="#84d0c1"/>
<rect x="756.7" y="207.4" width="15.0" height="6.9" fill="#5fbccd"/>
<rect x="771.5" y="207.4" width="15.0" height="6.9" fill="#2f90c0"/>
<rect x="786.2" y="207.4" width="15.0" height="6.9" fill="#085193"/>
<rect x="800.9" y="207.4" width="29.7" height="6.9" fill="#084081"/>
<rect x="830.3" y="207.4" width="15.0" height="6.9" fill="#0862a5"/>
<rect x="845.0" y="207.4" width="15.0" height="6.9" fill="#3da1c9"/>
<rect x="859.7" y="207.4" width="15.0" height="6.9" fill="#84d0c1"/>
<rect x="874.4" y="207.4" width="15.0" height="6.9" fill="#b9e4bd"/>
<rect x="889.1" y="207.4" width="15.0" height="6.9" fill="#c8eac3"/>
<rect x="903.8" y="207.4" width="15.0" height="6.9" fill="#b9e4bd"/>
<rect x="918.5" y="207.4" width="15.0" height="6.9" fill="#84d0c1"/>
<rect x="933.2" y="207.4" width="15.0" height="6.9" fill="#3da1c9"/>
<rect x="947.9" y="207.4" width="15.0" height="6.9" fill="#0862a5"/>
<rect x="962.6" y="207.4" width="29.7" height="6.9" fill="#084081"/>
<rect x="992.0" y="207.4" width="15.0" height="6.9" fill="#1171b1"/>
<rect x="1006.8" y="207.4" width="15.0" height="6.9" fill="#5fbccd"/>
<rect x="1021.5" y="207.4" width="15.0" height="6.9" fill="#b9e4bd"/>
<rect x="1036.2" y="207.4" width="15.0" height="6.9" fill="#dbf1d5"/>
<rect x="1050.9" y="207.4" width="15.0" height="6.9" fill="#edf8e7"/>
<rect x="1065.6" y="207.4" width="15.0" height="6.9" fill="#dbf1d5"/>
<rect x="1080.3" y="207.4" width="15.0" height="6.9" fill="#aadeb6"/>
<rect x="1095.0" y="207.4" width="15.0" height="6.9" fill="#4cb1d2"/>
<rect x="653.8" y="214.1" width="15.0" height="6.9" fill="#084081"/>
<rect x="668.5" y="214.1" width="15.0" height="6.9" fill="#0862a5"/>
<rect x="683.2" y="214.1" width="15.0" height="6.9" fill="#2f90c0"/>
<rect x="697.9" y="214.1" width="15.0" height="6.9" fill="#5fbccd"/>
<rect x="712.6" y="214.1" width="29.7" height="6.9" fill="#97d7bb"/>
<rect x="742.0" y="214.1" width="15.0" height="6.9" fill="#72c7c7"/>
<rect x="756.7" y="214.1" width="15.0" height="6.9" fill="#4cb1d2"/>
<rect x="771.5" y="214.1" width="15.0" height="6.9" fill="#1171b1"/>
<rect x="786.2" y="214.1" width="15.0" height="6.9" fill="#085193"/>
<rect x="800.9" y="214.1" width="29.7" height="6.9" fill="#084081"/>
<rect x="830.3" y="214.1" width="15.0" height="6.9" fill="#1171b1"/>
<rect x="845.0" y="214.1" width="15.0" height="6.9" fill="#4cb1d2"/>
<rect x="859.7" y="214.1" width="15.0" height="6.9" fill="#97d7bb"/>
<rect x="874.4" y="214.1" width="29.7" height="6.9" fill="#c8eac3"/>
<rect x="903.8" y="214.1" width="15.0" height="6.9" fill="#aadeb6"/>
<rect x="918.5" y="214.1" width="15.0" height="6.9" fill="#72c7c7"/>
<rect x="933.2" y="214.1" width="15.0" height="6.9" fill="#2081b8"/>
<rect x="947.9" y="214.1" width="15.0" height="6.9" fill="#085193"/>
<rect x="962.6" y="214.1" width="15.0" height="6.9" fill="#084081"/>
<rect x="977.3" y="214.1" width="15.0" height="6.9" fill="#085193"/>
<rect x="992.0" y="214.1" width="15.0" height="6.9" fill="#2081b8"/>
<rect x="1006.8" y="214.1" width="15.0" height="6.9" fill="#72c7c7"/>
<rect x="1021.5" y="214.1" width="15.0" height="6.9" fill="#c8eac3"/>
<rect x="1036.2" y="214.1" width="15.0" height="6.9" fill="#e4f4de"/>
<rect x="1050.9" y="214.1" width="15.0" height="6.9" fill="#edf8e7"/>
<rect x="1065.6" y="214.1" width="15.0" height="6.9" fill="#d2eecc"/>
<rect x="1080.3" y="214.1" width="15.0" height="6.9" fill="#97d7bb"/>
<rect x="1095.0" y="214.1" width="15.0" height="6.9" fill="#2f90c0"/>
<rect x="653.8" y="220.7" width="15.0" height="6.9" fill="#085193"/>
<rect x="668.5" y="220.7" width="15.0" height="6.9" fill="#1171b1"/>
<rect x="683.2" y="220.7" width="15.0" height="6.9" fill="#3da1c9"/>
<rect x="697.9" y="220.7" width="15.0" height="6.9" fill="#72c7c7"/>
<rect x="712.6" y="220.7" width="29.7" height="6.9" fill="#97d7bb"/>
<rect x="742.0" y="220.7" width="15.0" height="6.9" fill="#72c7c7"/>
<rect x="756.7" y="220.7" width="15.0" height="6.9" fill="#2f90c0"/>
<rect x="771.5" y="220.7" width="15.0" height="6.9" fill="#0862a5"/>
<rect x="786.2" y="220.7" width="29.7" height="6.9" fill="#084081"/>
<rect x="815.6" y="220.7" width="15.0" height="6.9" fill="#085193"/>
<rect x="830.3" y="220.7" width="15.0" height="6.9" fill="#2f90c0"/>
<rect x="845.0" y="220.7" width="15.0" height="6.9" fill="#72c7c7"/>
<rect x="859.7" y="220.7" width="15.0" height="6.9" fill="#aadeb6"/>
<rect x="874.4" y="220.7" width="29.7" height="6.9" fill="#c8eac3"/>
<rect x="903.8" y="220.7" width="15.0" height="6.9" fill="#97d7bb"/>
<rect x="918.5" y="220.7" width="15.0" height="6.9" fill="#4cb1d2"/>
<rect x="933.2" y="220.7" width="15.0" height="6.9" fill="#1171b1"/>
<rect x="947.9" y="220.7" width="29.7" height="6.9" fill="#084081"/>
<rect x="977.3" y="220.7" width="15.0" height="6.9" fill="#0862a5"/>
<rect x="992.0" y="220.7" width="15.0" height="6.9" fill="#3da1c9"/>
<rect x="1006.8" y="220.7" width="15.0" height="6.9" fill="#97d7bb"/>
<rect x="1021.5" y="220.7" width="15.0" height="6.9" fill="#d2eecc"/>
<rect x="1036.2" y="220.7" width="15.0" height="6.9" fill="#edf8e7"/>
<rect x="1050.9" y="220.7" width="15.0" height="6.9" fill="#e4f4de"/>
<rect x="1065.6" y="220.7" width="15.0" height="6.9" fill="#c8eac3"/>
<rect x="1080.3" y="220.7" width="15.0" height="6.9" fill="#72c7c7"/>
<rect x="1095.0" y="220.7" width="15.0" height="6.9" fill="#2081b8"/>
<rect x="653.8" y="227.3" width="15.0" height="6.9" fill="#0862a5"/>
<rect x="668.5" y="227.3" width="15.0" height="6.9" fill="#2081b8"/>
<rect x="683.2" y="227.3" width="15.0" height="6.9" fill="#4cb1d2"/>
<rect x="697.9" y="227.3" width="15.0" height="6.9" fill="#84d0c1"/>
<rect x="712.6" y="227.3" width="15.0" height="6.9" fill="#97d7bb"/>
<rect x="727.3" y="227.3" width="15.0" height="6.9" fill="#84d0c1"/>
<rect x="742.0" y="227.3" width="15.0" height="6.9" fill="#5fbccd"/>
<rect x="756.7" y="227.3" width="15.0" height="6.9" fill="#2081b8"/>
<rect x="771.5" y="227.3" width="15.0" height="6.9" fill="#085193"/>
<rect x="786.2" y="227.3" width="29.7" height="6.9" fill="#084081"/>
<rect x="815.6" y="227.3" width="15.0" height="6.9" fill="#0862a5"/>
<rect x="830.3" y="227.3" width="15.0" height="6.9" fill="#3da1c9"/>
<rect x="845.0" y="227.3" width="15.0" height="6.9" fill="#84d0c1"/>
<rect x="859.7" y="227.3" width="15.0" height="6.9" fill="#b9e4bd"/>
<rect x="874.4" y="227.3" width="15.0" height="6.9" fill="#c8eac3"/>
<rect x="889.1" y="227.3" width="15.0" height="6.9" fill="#b9e4bd"/>
<rect x="903.8" y="227.3" width="15.0" height="6.9" fill="#84d0c1"/>
<rect x="918.5" y="227.3" width="15.0" height="6.9" fill="#3da1c9"/>
<rect x="933.2" y="227.3" width="15.0" height="6.9" fill="#0862a5"/>
<rect x="947.9" y="227.3" width="29.7" height="6.9" fill="#084081"/>
<rect x="977.3" y="227.3" width="15.0" height="6.9" fill="#1171b1"/>
<rect x="992.0" y="227.3" width="15.0" height="6.9" fill="#5fbccd"/>
<rect x="1006.8" y="227.3" width="15.0" height="6.9" fill="#aadeb6"/>
<rect x="1021.5" y="227.3" width="15.0" height="6.9" fill="#dbf1d5"/>
<rect x="1036.2" y="227.3" width="15.0" height="6.9" fill="#edf8e7"/>
<rect x="1050.9" y="227.3" width="15.0" height="6.9" fill="#dbf1d5"/>
<rect x="1065.6" y="227.3" width="15.0" height="6.9" fill="#aadeb6"/>
<rect x="1080.3" y="227.3" width="15.0" height="6.9" fill="#4cb1d2"/>
<rect x="1095.0" y="227.3" width="15.0" height="6.9" fill="#0862a5"/>
<rect x="653.8" y="233.9" width="15.0" height="6.9" fill="#0862a5"/>
<rect x="668.5" y="233.9" width="15.0" height="6.9" fill="#2f90c0"/>
<rect x="683.2" y="233.9" width="15.0" height="6.9" fill="#5fbccd"/>
<rect x="697.9" y="233.9" width="15.0" height="6.9" fill="#84d0c1"/>
<rect x="712.6" y="233.9" width="15.0" height="6.9" fill="#97d7bb"/>
<rect x="727.3" y="233.9" width="15.0" height="6.9" fill="#72c7c7"/>
<rect x="742.0" y="233.9" width="15.0" height="6.9" fill="#3da1c9"/>
<rect x="756.7" y="233.9" width="15.0" height="6.9" fill="#1171b1"/>
<rect x="771.5" y="233.9" width="15.0" height="6.9" fill="#085193"/>
<rect x="786.2" y="233.9" width="15.0" height="6.9" fill="#084081"/>
<rect x="800.9" y="233.9" width="15.0" height="6.9" fill="#085193"/>
<rect x="815.6" y="233.9" width="15.0" height="6.9" fill="#1171b1"/>
<rect x="830.3" y="233.9" width="15.0" height="6.9" fill="#4cb1d2"/>
<rect x="845.0" y="233.9" width="15.0" height="6.9" fill="#97d7bb"/>
<rect x="859.7" y="233.9" width="29.7" height="6.9" fill="#c8eac3"/>
<rect x="889.1" y="233.9" width="15.0" height="6.9" fill="#aadeb6"/>
<rect x="903.8" y="233.9" width="15.0" height="6.9" fill="#5fbccd"/>
<rect x="918.5" y="233.9" width="15.0" height="6.9" fill="#2081b8"/>
<rect x="933.2" y="233.9" width="15.0" height="6.9" fill="#085193"/>
<rect x="947.9" y="233.9" width="15.0" height="6.9" fill="#084081"/>
<rect x="962.6" y="233.9" width="15.0" height="6.9" fill="#085193"/>
<rect x="977.3" y="233.9" width="15.0" height="6.9" fill="#2081b8"/>
<rect x="992.0" y="233.9" width="15.0" height="6.9" fill="#72c7c7"/>
<rect x="1006.8" y="233.9" width="15.0" height="6.9" fill="#c8eac3"/>
<rect x="1021.5" y="233.9" width="29.7" height="6.9" fill="#e4f4de"/>
<rect x="1050.9" y="233.9" width="15.0" height="6.9" fill="#d2eecc"/>
<rect x="1065.6" y="233.9" width="15.0" height="6.9" fill="#84d0c1"/>
<rect x="1080.3" y="233.9" width="15.0" height="6.9" fill="#2f90c0"/>
<rect x="1095.0" y="233.9" width="15.0" height="6.9" fill="#085193"/>
<rect x="653.8" y="240.5" width="15.0" height="6.9" fill="#1171b1"/>
<rect x="668.5" y="240.5" width="15.0" height="6.9" fill="#3da1c9"/>
<rect x="683.2" y="240.5" width="15.0" height="6.9" fill="#72c7c7"/>
<rect x="697.9" y="240.5" width="29.7" height="6.9" fill="#84d0c1"/>
<rect x="727.3" y="240.5" width="15.0" height="6.9" fill="#5fbccd"/>
<rect x="742.0" y="240.5" width="15.0" height="6.9" fill="#2f90c0"/>
<rect x="756.7" y="240.5" width="15.0" height="6.9" fill="#0862a5"/>
<rect x="771.5" y="240.5" width="29.7" height="6.9" fill="#084081"/>
<rect x="800.9" y="240.5" width="15.0" height="6.9" fill="#085193"/>
<rect x="815.6" y="240.5" width="15.0" height="6.9" fill="#2f90c0"/>
<rect x="830.3" y="240.5" width="15.0" height="6.9" fill="#72c7c7"/>
<rect x="845.0" y="240.5" width="15.0" height="6.9" fill="#aadeb6"/>
<rect x="859.7" y="240.5" width="15.0" height="6.9" fill="#c8eac3"/>
<rect x="874.4" y="240.5" width="15.0" height="6.9" fill="#b9e4bd"/>
<rect x="889.1" y="240.5" width="15.0" height="6.9" fill="#97d7bb"/>
<rect x="903.8" y="240.5" width="15.0" height="6.9" fill="#4cb1d2"/>
<rect x="918.5" y="240.5" width="15.0" height="6.9" fill="#1171b1"/>
<rect x="933.2" y="240.5" width="29.7" height="6.9" fill="#084081"/>
<rect x="962.6" y="240.5" width="15.0" height="6.9" fill="#0862a5"/>
<rect x="977.3" y="240.5" width="15.0" height="6.9" fill="#3da1c9"/>
<rect x="992.0" y="240.5" width="15.0" height="6.9" fill="#97d7bb"/>
<rect x="1006.8" y="240.5" width="15.0" height="6.9" fill="#d2eecc"/>
<rect x="1021.5" y="240.5" width="29.7" height="6.9" fill="#e4f4de"/>
<rect x="1050.9" y="240.5" width="15.0" height="6.9" fill="#b9e4bd"/>
<rect x="1065.6" y="240.5" width="15.0" height="6.9" fill="#5fbccd"/>
<rect x="1080.3" y="240.5" width="15.0" height="6.9" fill="#2081b8"/>
<rect x="1095.0" y="240.5" width="15.0" height="6.9" fill="#084081"/>
<rect x="653.8" y="247.1" width="15.0" height="6.9" fill="#2081b8"/>
<rect x="668.5" y="247.1" width="15.0" height="6.9" fill="#4cb1d2"/>
<rect x="683.2" y="247.1" width="44.4" height="6.9" fill="#84d0c1"/>
<rect x="727.3" y="247.1" width="15.0" height="6.9" fill="#4cb1d2"/>
<rect x="742.0" y="247.1" width="15.0" height="6.9" fill="#2081b8"/>
<rect x="756.7" y="247.1" width="15.0" height="6.9" fill="#085193"/>
<rect x="771.5" y="247.1" width="29.7" height="6.9" fill="#084081"/>
<rect x="800.9" y="247.1" width="15.0" height="6.9" fill="#0862a5"/>
<rect x="815.6" y="247.1" width="15.0" height="6.9" fill="#3da1c9"/>
<rect x="830.3" y="247.1" width="15.0" height="6.9" fill="#84d0c1"/>
<rect x="845.0" y="247.1" width="15.0" height="6.9" fill="#b9e4bd"/>
<rect x="859.7" y="247.1" width="15.0" height="6.9" fill="#c8eac3"/>
<rect x="874.4" y="247.1" width="15.0" height="6.9" fill="#b9e4bd"/>
<rect x="889.1" y="247.1" width="15.0" height="6.9" fill="#72c7c7"/>
<rect x="903.8" y="247.1" width="15.0" height="6.9" fill="#2f90c0"/>
<rect x="918.5" y="247.1" width="15.0" height="6.9" fill="#0862a5"/>
<rect x="933.2" y="247.1" width="29.7" height="6.9" fill="#084081"/>
<rect x="962.6" y="247.1" width="15.0" height="6.9" fill="#1171b1"/>
<rect x="977.3" y="247.1" width="15.0" height="6.9" fill="#5fbccd"/>
<rect x="992.0" y="247.1" width="15.0" height="6.9" fill="#aadeb6"/>
<rect x="1006.8" y="247.1" width="15.0" height="6.9" fill="#dbf1d5"/>
<rect x="1021.5" y="247.1" width="15.0" height="6.9" fill="#e4f4de"/>
<rect x="1036.2" y="247.1" width="15.0" height="6.9" fill="#dbf1d5"/>
<rect x="1050.9" y="247.1" width="15.0" height="6.9" fill="#aadeb6"/>
<rect x="1065.6" y="247.1" width="15.0" height="6.9" fill="#4cb1d2"/>
<rect x="1080.3" y="247.1" width="15.0" height="6.9" fill="#0862a5"/>
<rect x="1095.0" y="247.1" width="15.0" height="6.9" fill="#084081"/>
<rect x="653.8" y="253.7" width="15.0" height="6.9" fill="#2f90c0"/>
<rect x="668.5" y="253.7" width="15.0" height="6.9" fill="#5fbccd"/>
<rect x="683.2" y="253.7" width="29.7" height="6.9" fill="#84d0c1"/>
<rect x="712.6" y="253.7" width="15.0" height="6.9" fill="#72c7c7"/>
<rect x="727.3" y="253.7" width="15.0" height="6.9" fill="#3da1c9"/>
<rect x="742.0" y="253.7" width="15.0" height="6.9" fill="#1171b1"/>
<rect x="756.7" y="253.7" width="29.7" height="6.9" fill="#084081"/>
<rect x="786.2" y="253.7" width="15.0" height="6.9" fill="#085193"/>
<rect x="800.9" y="253.7" width="15.0" height="6.9" fill="#1171b1"/>
<rect x="815.6" y="253.7" width="15.0" height="6.9" fill="#4cb1d2"/>
<rect x="830.3" y="253.7" width="15.0" height="6.9" fill="#97d7bb"/>
<rect x="845.0" y="253.7" width="15.0" height="6.9" fill="#b9e4bd"/>
<rect x="859.7" y="253.7" width="15.0" height="6.9" fill="#c8eac3"/>
<rect x="874.4" y="253.7" width="15.0" height="6.9" fill="#aadeb6"/>
<rect x="889.1" y="253.7" width="15.0" height="6.9" fill="#5fbccd"/>
<rect x="903.8" y="253.7" width="15.0" height="6.9" fill="#2081b8"/>
<rect x="918.5" y="253.7" width="15.0" height="6.9" fill="#085193"/>
<rect x="933.2" y="253.7" width="15.0" height="6.9" fill="#084081"/>
<rect x="947.9" y="253.7" width="15.0" height="6.9" fill="#085193"/>
<rect x="962.6" y="253.7" width="15.0" height="6.9" fill="#2081b8"/>
<rect x="977.3" y="253.7" width="15.0" height="6.9" fill="#72c7c7"/>
<rect x="992.0" y="253.7" width="15.0" height="6.9" fill="#c8eac3"/>
<rect x="1006.8" y="253.7" width="29.7" height="6.9" fill="#e4f4de"/>
<rect x="1036.2" y="253.7" width="15.0" height="6.9" fill="#c8eac3"/>
<rect x="1050.9" y="253.7" width="15.0" height="6.9" fill="#84d0c1"/>
<rect x="1065.6" y="253.7" width="15.0" height="6.9" fill="#2f90c0"/>
<rect x="1080.3" y="253.7" width="15.0" height="6.9" fill="#085193"/>
<rect x="1095.0" y="253.7" width="15.0" height="6.9" fill="#084081"/>
<rect x="653.8" y="260.3" width="15.0" height="6.9" fill="#3da1c9"/>
<rect x="668.5" y="260.3" width="15.0" height="6.9" fill="#72c7c7"/>
<rect x="683.2" y="260.3" width="29.7" height="6.9" fill="#84d0c1"/>
<rect x="712.6" y="260.3" width="15.0" height="6.9" fill="#5fbccd"/>
<rect x="727.3" y="260.3" width="15.0" height="6.9" fill="#2f90c0"/>
<rect x="742.0" y="260.3" width="15.0" height="6.9" fill="#0862a5"/>
<rect x="756.7" y="260.3" width="29.7" height="6.9" fill="#084081"/>
<rect x="786.2" y="260.3" width="15.0" height="6.9" fill="#085193"/>
<rect x="800.9" y="260.3" width="15.0" height="6.9" fill="#2f90c0"/>
<rect x="815.6" y="260.3" width="15.0" height="6.9" fill="#72c7c7"/>
<rect x="830.3" y="260.3" width="15.0" height="6.9" fill="#aadeb6"/>
<rect x="845.0" y="260.3" width="15.0" height="6.9" fill="#c8eac3"/>
<rect x="859.7" y="260.3" width="15.0" height="6.9" fill="#b9e4bd"/>
<rect x="874.4" y="260.3" width="15.0" height="6.9" fill="#84d0c1"/>
<rect x="889.1" y="260.3" width="15.0" height="6.9" fill="#4cb1d2"/>
<rect x="903.8" y="260.3" width="15.0" height="6.9" fill="#1171b1"/>
<rect x="918.5" y="260.3" width="29.7" height="6.9" fill="#084081"/>
<rect x="947.9" y="260.3" width="15.0" height="6.9" fill="#0862a5"/>
<rect x="962.6" y="260.3" width="15.0" height="6.9" fill="#3da1c9"/>
<rect x="977.3" y="260.3" width="15.0" height="6.9" fill="#97d7bb"/>
<rect x="992.0" y="260.3" width="15.0" height="6.9" fill="#d2eecc"/>
<rect x="1006.8" y="260.3" width="15.0" height="6.9" fill="#e4f4de"/>
<rect x="1021.5" y="260.3" width="15.0" height="6.9" fill="#dbf1d5"/>
<rect x="1036.2" y="260.3" width="15.0" height="6.9" fill="#b9e4bd"/>
<rect x="1050.9" y="260.3" width="15.0" height="6.9" fill="#5fbccd"/>
<rect x="1065.6" y="260.3" width="15.0" height="6.9" fill="#1171b1"/>
<rect x="1080.3" y="260.3" width="29.7" height="6.9" fill="#084081"/>
<rect x="653.8" y="266.9" width="15.0" height="6.9" fill="#4cb1d2"/>
<rect x="668.5" y="266.9" width="15.0" height="6.9" fill="#72c7c7"/>
<rect x="683.2" y="266.9" width="15.0" height="6.9" fill="#84d0c1"/>
<rect x="697.9" y="266.9" width="15.0" height="6.9" fill="#72c7c7"/>
<rect x="712.6" y="266.9" width="15.0" height="6.9" fill="#4cb1d2"/>
<rect x="727.3" y="266.9" width="15.0" height="6.9" fill="#2081b8"/>
<rect x="742.0" y="266.9" width="15.0" height="6.9" fill="#085193"/>
<rect x="756.7" y="266.9" width="29.7" height="6.9" fill="#084081"/>
<rect x="786.2" y="266.9" width="15.0" height="6.9" fill="#0862a5"/>
<rect x="800.9" y="266.9" width="15.0" height="6.9" fill="#3da1c9"/>
<rect x="815.6" y="266.9" width="15.0" height="6.9" fill="#84d0c1"/>
<rect x="830.3" y="266.9" width="15.0" height="6.9" fill="#b9e4bd"/>
<rect x="845.0" y="266.9" width="15.0" height="6.9" fill="#c8eac3"/>
<rect x="859.7" y="266.9" width="15.0" height="6.9" fill="#aadeb6"/>
<rect x="874.4" y="266.9" width="15.0" height="6.9" fill="#72c7c7"/>
<rect x="889.1" y="266.9" width="15.0" height="6.9" fill="#2f90c0"/>
<rect x="903.8" y="266.9" width="15.0" height="6.9" fill="#0862a5"/>
<rect x="918.5" y="266.9" width="29.7" height="6.9" fill="#084081"/>
<rect x="947.9" y="266.9" width="15.0" height="6.9" fill="#1171b1"/>
<rect x="962.6" y="266.9" width="15.0" height="6.9" fill="#5fbccd"/>
<rect x="977.3" y="266.9" width="15.0" height="6.9" fill="#aadeb6"/>
<rect x="992.0" y="266.9" width="15.0" height="6.9" fill="#dbf1d5"/>
<rect x="1006.8" y="266.9" width="15.0" height="6.9" fill="#e4f4de"/>
<rect x="1021.5" y="266.9" width="15.0" height="6.9" fill="#d2eecc"/>
<rect x="1036.2" y="266.9" width="15.0" height="6.9" fill="#97d7bb"/>
<rect x="1050.9" y="266.9" width="15.0" height="6.9" fill="#3da1c9"/>
<rect x="1065.6" y="266.9" width="15.0" height="6.9" fill="#0862a5"/>
<rect x="1080.3" y="266.9" width="29.7" height="6.9" fill="#084081"/>
<rect x="653.8" y="273.5" width="15.0" height="6.9" fill="#5fbccd"/>
<rect x="668.5" y="273.5" width="29.7" height="6.9" fill="#84d0c1"/>
<rect x="697.9" y="273.5" width="15.0" height="6.9" fill="#5fbccd"/>
<rect x="712.6" y="273.5" width="15.0" height="6.9" fill="#3da1c9"/>
<rect x="727.3" y="273.5" width="15.0" height="6.9" fill="#1171b1"/>
<rect x="742.0" y="273.5" width="29.7" height="6.9" fill="#084081"/>
<rect x="771.5" y="273.5" width="15.0" height="6.9" fill="#085193"/>
<rect x="786.2" y="273.5" width="15.0" height="6.9" fill="#1171b1"/>
<rect x="800.9" y="273.5" width="15.0" height="6.9" fill="#4cb1d2"/>
<rect x="815.6" y="273.5" width="15.0" height="6.9" fill="#97d7bb"/>
<rect x="830.3" y="273.5" width="29.7" height="6.9" fill="#b9e4bd"/>
<rect x="859.7" y="273.5" width="15.0" height="6.9" fill="#97d7bb"/>
<rect x="874.4" y="273.5" width="15.0" height="6.9" fill="#5fbccd"/>
<rect x="889.1" y="273.5" width="15.0" height="6.9" fill="#2081b8"/>
<rect x="903.8" y="273.5" width="15.0" height="6.9" fill="#085193"/>
<rect x="918.5" y="273.5" width="15.0" height="6.9" fill="#084081"/>
<rect x="933.2" y="273.5" width="15.0" height="6.9" fill="#085193"/>
<rect x="947.9" y="273.5" width="15.0" height="6.9" fill="#2081b8"/>
<rect x="962.6" y="273.5" width="15.0" height="6.9" fill="#72c7c7"/>
<rect x="977.3" y="273.5" width="15.0" height="6.9" fill="#c8eac3"/>
<rect x="992.0" y="273.5" width="15.0" height="6.9" fill="#dbf1d5"/>
<rect x="1006.8" y="273.5" width="15.0" height="6.9" fill="#e4f4de"/>
<rect x="1021.5" y="273.5" width="15.0" height="6.9" fill="#c8eac3"/>
<rect x="1036.2" y="273.5" width="15.0" height="6.9" fill="#84d0c1"/>
<rect x="1050.9" y="273.5" width="15.0" height="6.9" fill="#2f90c0"/>
<rect x="1065.6" y="273.5" width="15.0" height="6.9" fill="#085193"/>
<rect x="1080.3" y="273.5" width="15.0" height="6.9" fill="#084081"/>
<rect x="1095.0" y="273.5" width="15.0" height="6.9" fill="#085193"/>
<rect x="653.8" y="280.1" width="15.0" height="6.9" fill="#72c7c7"/>
<rect x="668.5" y="280.1" width="29.7" height="6.9" fill="#84d0c1"/>
<rect x="697.9" y="280.1" width="15.0" height="6.9" fill="#5fbccd"/>
<rect x="712.6" y="280.1" width="15.0" height="6.9" fill="#2f90c0"/>
<rect x="727.3" y="280.1" width="15.0" height="6.9" fill="#0862a5"/>
<rect x="742.0" y="280.1" width="29.7" height="6.9" fill="#084081"/>
<rect x="771.5" y="280.1" width="15.0" height="6.9" fill="#085193"/>
<rect x="786.2" y="280.1" width="15.0" height="6.9" fill="#2f90c0"/>
<rect x="800.9" y="280.1" width="15.0" height="6.9" fill="#5fbccd"/>
<rect x="815.6" y="280.1" width="15.0" height="6.9" fill="#aadeb6"/>
<rect x="830.3" y="280.1" width="29.7" height="6.9" fill="#b9e4bd"/>
<rect x="859.7" y="280.1" width="15.0" height="6.9" fill="#84d0c1"/>
<rect x="874.4" y="280.1" width="15.0" height="6.9" fill="#3da1c9"/>
<rect x="889.1" y="280.1" width="15.0" height="6.9" fill="#0862a5"/>
<rect x="903.8" y="280.1" width="29.7" height="6.9" fill="#084081"/>
<rect x="933.2" y="280.1" width="15.0" height="6.9" fill="#0862a5"/>
<rect x="947.9" y="280.1" width="15.0" height="6.9" fill="#3da1c9"/>
<rect x="962.6" y="280.1" width="15.0" height="6.9" fill="#97d7bb"/>
<rect x="977.3" y="280.1" width="15.0" height="6.9" fill="#d2eecc"/>
<rect x="992.0" y="280.1" width="15.0" height="6.9" fill="#e4f4de"/>
<rect x="1006.8" y="280.1" width="15.0" height="6.9" fill="#dbf1d5"/>
<rect x="1021.5" y="280.1" width="15.0" height="6.9" fill="#b9e4bd"/>
<rect x="1036.2" y="280.1" width="15.0" height="6.9" fill="#5fbccd"/>
<rect x="1050.9" y="280.1" width="15.0" height="6.9" fill="#1171b1"/>
<rect x="1065.6" y="280.1" width="29.7" height="6.9" fill="#084081"/>
<rect x="1095.0" y="280.1" width="15.0" height="6.9" fill="#0862a5"/>
<rect x="653.8" y="286.7" width="15.0" height="6.9" fill="#72c7c7"/>
<rect x="668.5" y="286.7" width="15.0" height="6.9" fill="#84d0c1"/>
<rect x="683.2" y="286.7" width="15.0" height="6.9" fill="#72c7c7"/>
<rect x="697.9" y="286.7" width="15.0" height="6.9" fill="#4cb1d2"/>
<rect x="712.6" y="286.7" width="15.0" height="6.9" fill="#2081b8"/>
<rect x="727.3" y="286.7" width="15.0" height="6.9" fill="#085193"/>
<rect x="742.0" y="286.7" width="29.7" height="6.9" fill="#084081"/>
<rect x="771.5" y="286.7" width="15.0" height="6.9" fill="#0862a5"/>
<rect x="786.2" y="286.7" width="15.0" height="6.9" fill="#3da1c9"/>
<rect x="800.9" y="286.7" width="15.0" height="6.9" fill="#84d0c1"/>
<rect x="815.6" y="286.7" width="15.0" height="6.9" fill="#aadeb6"/>
<rect x="830.3" y="286.7" width="15.0" height="6.9" fill="#b9e4bd"/>
<rect x="845.0" y="286.7" width="15.0" height="6.9" fill="#aadeb6"/>
<rect x="859.7" y="286.7" width="15.0" height="6.9" fill="#72c7c7"/>
<rect x="874.4" y="286.7" width="15.0" height="6.9" fill="#2f90c0"/>
<rect x="889.1" y="286.7" width="15.0" height="6.9" fill="#085193"/>
<rect x="903.8" y="286.7" width="29.7" height="6.9" fill="#084081"/>
<rect x="933.2" y="286.7" width="15.0" height="6.9" fill="#1171b1"/>
<rect x="947.9" y="286.7" width="15.0" height="6.9" fill="#5fbccd"/>
<rect x="962.6" y="286.7" width="15.0" height="6.9" fill="#aadeb6"/>
<rect x="977.3" y="286.7" width="15.0" height="6.9" fill="#dbf1d5"/>
<rect x="992.0" y="286.7" width="15.0" height="6.9" fill="#e4f4de"/>
<rect x="1006.8" y="286.7" width="15.0" height="6.9" fill="#d2eecc"/>
<rect x="1021.5" y="286.7" width="15.0" height="6.9" fill="#97d7bb"/>
<rect x="1036.2" y="286.7" width="15.0" height="6.9" fill="#3da1c9"/>
<rect x="1050.9" y="286.7" width="15.0" height="6.9" fill="#0862a5"/>
<rect x="1065.6" y="286.7" width="29.7" height="6.9" fill="#084081"/>
<rect x="1095.0" y="286.7" width="15.0" height="6.9" fill="#2081b8"/>
<rect x="653.8" y="293.3" width="15.0" height="6.9" fill="#72c7c7"/>
<rect x="668.5" y="293.3" width="15.0" height="6.9" fill="#84d0c1"/>
<rect x="683.2" y="293.3" width="15.0" height="6.9" fill="#5fbccd"/>
<rect x="697.9" y="293.3" width="15.0" height="6.9" fill="#3da1c9"/>
<rect x="712.6" y="293.3" width="15.0" height="6.9" fill="#1171b1"/>
<rect x="727.3" y="293.3" width="29.7" height="6.9" fill="#084081"/>
<rect x="756.7" y="293.3" width="15.0" height="6.9" fill="#085193"/>
<rect x="771.5" y="293.3" width="15.0" height="6.9" fill="#1171b1"/>
<rect x="786.2" y="293.3" width="15.0" height="6.9" fill="#4cb1d2"/>
<rect x="800.9" y="293.3" width="15.0" height="6.9" fill="#97d7bb"/>
<rect x="815.6" y="293.3" width="29.7" height="6.9" fill="#b9e4bd"/>
<rect x="845.0" y="293.3" width="15.0" height="6.9" fill="#97d7bb"/>
<rect x="859.7" y="293.3" width="15.0" height="6.9" fill="#4cb1d2"/>
<rect x="874.4" y="293.3" width="15.0" height="6.9" fill="#2081b8"/>
<rect x="889.1" y="293.3" width="15.0" height="6.9" fill="#085193"/>
<rect x="903.8" y="293.3" width="15.0" height="6.9" fill="#084081"/>
<rect x="918.5" y="293.3" width="15.0" height="6.9" fill="#085193"/>
<rect x="933.2" y="293.3" width="15.0" height="6.9" fill="#2081b8"/>
<rect x="947.9" y="293.3" width="15.0" height="6.9" fill="#72c7c7"/>
<rect x="962.6" y="293.3" width="15.0" height="6.9" fill="#b9e4bd"/>
<rect x="977.3" y="293.3" width="29.7" height="6.9" fill="#dbf1d5"/>
<rect x="1006.8" y="293.3" width="15.0" height="6.9" fill="#c8eac3"/>
<rect x="1021.5" y="293.3" width="15.0" height="6.9" fill="#72c7c7"/>
<rect x="1036.2" y="293.3" width="15.0" height="6.9" fill="#2081b8"/>
<rect x="1050.9" y="293.3" width="15.0" height="6.9" fill="#085193"/>
<rect x="1065.6" y="293.3" width="15.0" height="6.9" fill="#084081"/>
<rect x="1080.3" y="293.3" width="15.0" height="6.9" fill="#085193"/>
<rect x="1095.0" y="293.3" width="15.0" height="6.9" fill="#3da1c9"/>
<rect x="653.8" y="299.9" width="15.0" height="6.9" fill="#84d0c1"/>
<rect x="668.5" y="299.9" width="15.0" height="6.9" fill="#72c7c7"/>
<rect x="683.2" y="299.9" width="15.0" height="6.9" fill="#4cb1d2"/>
<rect x="697.9" y="299.9" width="15.0" height="6.9" fill="#2081b8"/>
<rect x="712.6" y="299.9" width="15.0" height="6.9" fill="#0862a5"/>
<rect x="727.3" y="299.9" width="29.7" height="6.9" fill="#084081"/>
<rect x="756.7" y="299.9" width="15.0" height="6.9" fill="#085193"/>
<rect x="771.5" y="299.9" width="15.0" height="6.9" fill="#2f90c0"/>
<rect x="786.2" y="299.9" width="15.0" height="6.9" fill="#5fbccd"/>
<rect x="800.9" y="299.9" width="15.0" height="6.9" fill="#97d7bb"/>
<rect x="815.6" y="299.9" width="15.0" height="6.9" fill="#b9e4bd"/>
<rect x="830.3" y="299.9" width="15.0" height="6.9" fill="#aadeb6"/>
<rect x="845.0" y="299.9" width="15.0" height="6.9" fill="#84d0c1"/>
<rect x="859.7" y="299.9" width="15.0" height="6.9" fill="#3da1c9"/>
<rect x="874.4" y="299.9" width="15.0" height="6.9" fill="#0862a5"/>
<rect x="889.1" y="299.9" width="29.7" height="6.9" fill="#084081"/>
<rect x="918.5" y="299.9" width="15.0" height="6.9" fill="#0862a5"/>
<rect x="933.2" y="299.9" width="15.0" height="6.9" fill="#3da1c9"/>
<rect x="947.9" y="299.9" width="15.0" height="6.9" fill="#97d7bb"/>
<rect x="962.6" y="299.9" width="15.0" height="6.9" fill="#d2eecc"/>
<rect x="977.3" y="299.9" width="29.7" height="6.9" fill="#dbf1d5"/>
<rect x="1006.8" y="299.9" width="15.0" height="6.9" fill="#aadeb6"/>
<rect x="1021.5" y="299.9" width="15.0" height="6.9" fill="#5fbccd"/>
<rect x="1036.2" y="299.9" width="15.0" height="6.9" fill="#1171b1"/>
<rect x="1050.9" y="299.9" width="29.7" height="6.9" fill="#084081"/>
<rect x="1080.3" y="299.9" width="15.0" height="6.9" fill="#0862a5"/>
<rect x="1095.0" y="299.9" width="15.0" height="6.9" fill="#4cb1d2"/>
<rect x="653.8" y="306.5" width="15.0" height="6.9" fill="#84d0c1"/>
<rect x="668.5" y="306.5" width="15.0" height="6.9" fill="#72c7c7"/>
<rect x="683.2" y="306.5" width="15.0" height="6.9" fill="#3da1c9"/>
<rect x="697.9" y="306.5" width="15.0" height="6.9" fill="#1171b1"/>
<rect x="712.6" y="306.5" width="15.0" height="6.9" fill="#085193"/>
<rect x="727.3" y="306.5" width="29.7" height="6.9" fill="#084081"/>
<rect x="756.7" y="306.5" width="15.0" height="6.9" fill="#0862a5"/>
<rect x="771.5" y="306.5" width="15.0" height="6.9" fill="#3da1c9"/>
<rect x="786.2" y="306.5" width="15.0" height="6.9" fill="#72c7c7"/>
<rect x="800.9" y="306.5" width="15.0" height="6.9" fill="#aadeb6"/>
<rect x="815.6" y="306.5" width="15.0" height="6.9" fill="#b9e4bd"/>
<rect x="830.3" y="306.5" width="15.0" height="6.9" fill="#aadeb6"/>
<rect x="845.0" y="306.5" width="15.0" height="6.9" fill="#5fbccd"/>
<rect x="859.7" y="306.5" width="15.0" height="6.9" fill="#2f90c0"/>
<rect x="874.4" y="306.5" width="15.0" height="6.9" fill="#085193"/>
<rect x="889.1" y="306.5" width="29.7" height="6.9" fill="#084081"/>
<rect x="918.5" y="306.5" width="15.0" height="6.9" fill="#1171b1"/>
<rect x="933.2" y="306.5" width="15.0" height="6.9" fill="#5fbccd"/>
<rect x="947.9" y="306.5" width="15.0" height="6.9" fill="#aadeb6"/>
<rect x="962.6" y="306.5" width="15.0" height="6.9" fill="#d2eecc"/>
<rect x="977.3" y="306.5" width="15.0" height="6.9" fill="#dbf1d5"/>
<rect x="992.0" y="306.5" width="15.0" height="6.9" fill="#d2eecc"/>
<rect x="1006.8" y="306.5" width="15.0" height="6.9" fill="#97d7bb"/>
<rect x="1021.5" y="306.5" width="15.0" height="6.9" fill="#3da1c9"/>
<rect x="1036.2" y="306.5" width="15.0" height="6.9" fill="#0862a5"/>
<rect x="1050.9" y="306.5" width="29.7" height="6.9" fill="#084081"/>
<rect x="1080.3" y="306.5" width="15.0" height="6.9" fill="#2081b8"/>
<rect x="1095.0" y="306.5" width="15.0" height="6.9" fill="#72c7c7"/>
<rect x="653.8" y="313.1" width="15.0" height="6.9" fill="#72c7c7"/>
<rect x="668.5" y="313.1" width="15.0" height="6.9" fill="#5fbccd"/>
<rect x="683.2" y="313.1" width="15.0" height="6.9" fill="#2f90c0"/>
<rect x="697.9" y="313.1" width="15.0" height="6.9" fill="#0862a5"/>
<rect x="712.6" y="313.1" width="29.7" height="6.9" fill="#084081"/>
<rect x="742.0" y="313.1" width="15.0" height="6.9" fill="#085193"/>
<rect x="756.7" y="313.1" width="15.0" height="6.9" fill="#1171b1"/>
<rect x="771.5" y="313.1" width="15.0" height="6.9" fill="#4cb1d2"/>
<rect x="786.2" y="313.1" width="15.0" height="6.9" fill="#84d0c1"/>
<rect x="800.9" y="313.1" width="15.0" height="6.9" fill="#aadeb6"/>
<rect x="815.6" y="313.1" width="15.0" height="6.9" fill="#b9e4bd"/>
<rect x="830.3" y="313.1" width="15.0" height="6.9" fill="#97d7bb"/>
<rect x="845.0" y="313.1" width="15.0" height="6.9" fill="#4cb1d2"/>
<rect x="859.7" y="313.1" width="15.0" height="6.9" fill="#1171b1"/>
<rect x="874.4" y="313.1" width="29.7" height="6.9" fill="#084081"/>
<rect x="903.8" y="313.1" width="15.0" height="6.9" fill="#085193"/>
<rect x="918.5" y="313.1" width="15.0" height="6.9" fill="#2f90c0"/>
<rect x="933.2" y="313.1" width="15.0" height="6.9" fill="#72c7c7"/>
<rect x="947.9" y="313.1" width="15.0" height="6.9" fill="#b9e4bd"/>
<rect x="962.6" y="313.1" width="29.7" height="6.9" fill="#dbf1d5"/>
<rect x="992.0" y="313.1" width="15.0" height="6.9" fill="#b9e4bd"/>
<rect x="1006.8" y="313.1" width="15.0" height="6.9" fill="#72c7c7"/>
<rect x="1021.5" y="313.1" width="15.0" height="6.9" fill="#2081b8"/>
<rect x="1036.2" y="313.1" width="15.0" height="6.9" fill="#085193"/>
<rect x="1050.9" y="313.1" width="15.0" height="6.9" fill="#084081"/>
<rect x="1065.6" y="313.1" width="15.0" height="6.9" fill="#085193"/>
<rect x="1080.3" y="313.1" width="15.0" height="6.9" fill="#3da1c9"/>
<rect x="1095.0" y="313.1" width="15.0" height="6.9" fill="#97d7bb"/>
<rect x="653.8" y="319.8" width="15.0" height="6.9" fill="#72c7c7"/>
<rect x="668.5" y="319.8" width="15.0" height="6.9" fill="#4cb1d2"/>
<rect x="683.2" y="319.8" width="15.0" height="6.9" fill="#2081b8"/>
<rect x="697.9" y="319.8" width="15.0" height="6.9" fill="#0862a5"/>
<rect x="712.6" y="319.8" width="29.7" height="6.9" fill="#084081"/>
<rect x="742.0" y="319.8" width="15.0" height="6.9" fill="#085193"/>
<rect x="756.7" y="319.8" width="15.0" height="6.9" fill="#2f90c0"/>
<rect x="771.5" y="319.8" width="15.0" height="6.9" fill="#5fbccd"/>
<rect x="786.2" y="319.8" width="15.0" height="6.9" fill="#97d7bb"/>
<rect x="800.9" y="319.8" width="15.0" height="6.9" fill="#b9e4bd"/>
<rect x="815.6" y="319.8" width="15.0" height="6.9" fill="#aadeb6"/>
<rect x="830.3" y="319.8" width="15.0" height="6.9" fill="#72c7c7"/>
<rect x="845.0" y="319.8" width="15.0" height="6.9" fill="#3da1c9"/>
<rect x="859.7" y="319.8" width="15.0" height="6.9" fill="#0862a5"/>
<rect x="874.4" y="319.8" width="29.7" height="6.9" fill="#084081"/>
<rect x="903.8" y="319.8" width="15.0" height="6.9" fill="#0862a5"/>
<rect x="918.5" y="319.8" width="15.0" height="6.9" fill="#3da1c9"/>
<rect x="933.2" y="319.8" width="15.0" height="6.9" fill="#97d7bb"/>
<rect x="947.9" y="319.8" width="15.0" height="6.9" fill="#c8eac3"/>
<rect x="962.6" y="319.8" width="15.0" height="6.9" fill="#dbf1d5"/>
<rect x="977.3" y="319.8" width="15.0" height="6.9" fill="#d2eecc"/>
<rect x="992.0" y="319.8" width="15.0" height="6.9" fill="#aadeb6"/>
<rect x="1006.8" y="319.8" width="15.0" height="6.9" fill="#4cb1d2"/>
<rect x="1021.5" y="319.8" width="15.0" height="6.9" fill="#1171b1"/>
<rect x="1036.2" y="319.8" width="29.7" height="6.9" fill="#084081"/>
<rect x="1065.6" y="319.8" width="15.0" height="6.9" fill="#1171b1"/>
<rect x="1080.3" y="319.8" width="15.0" height="6.9" fill="#4cb1d2"/>
<rect x="1095.0" y="319.8" width="15.0" height="6.9" fill="#b9e4bd"/>
<rect x="653.8" y="326.4" width="15.0" height="6.9" fill="#5fbccd"/>
<rect x="668.5" y="326.4" width="15.0" height="6.9" fill="#3da1c9"/>
<rect x="683.2" y="326.4" width="15.0" height="6.9" fill="#1171b1"/>
<rect x="697.9" y="326.4" width="15.0" height="6.9" fill="#085193"/>
<rect x="712.6" y="326.4" width="29.7" height="6.9" fill="#084081"/>
<rect x="742.0" y="326.4" width="15.0" height="6.9" fill="#0862a5"/>
<rect x="756.7" y="326.4" width="15.0" height="6.9" fill="#3da1c9"/>
<rect x="771.5" y="326.4" width="15.0" height="6.9" fill="#72c7c7"/>
<rect x="786.2" y="326.4" width="15.0" height="6.9" fill="#aadeb6"/>
<rect x="800.9" y="326.4" width="15.0" height="6.9" fill="#b9e4bd"/>
<rect x="815.6" y="326.4" width="15.0" height="6.9" fill="#97d7bb"/>
<rect x="830.3" y="326.4" width="15.0" height="6.9" fill="#5fbccd"/>
<rect x="845.0" y="326.4" width="15.0" height="6.9" fill="#2081b8"/>
<rect x="859.7" y="326.4" width="15.0" height="6.9" fill="#085193"/>
<rect x="874.4" y="326.4" width="29.7" height="6.9" fill="#084081"/>
<rect x="903.8" y="326.4" width="15.0" height="6.9" fill="#1171b1"/>
<rect x="918.5" y="326.4" width="15.0" height="6.9" fill="#5fbccd"/>
<rect x="933.2" y="326.4" width="15.0" height="6.9" fill="#aadeb6"/>
<rect x="947.9" y="326.4" width="15.0" height="6.9" fill="#d2eecc"/>
<rect x="962.6" y="326.4" width="15.0" height="6.9" fill="#dbf1d5"/>
<rect x="977.3" y="326.4" width="15.0" height="6.9" fill="#c8eac3"/>
<rect x="992.0" y="326.4" width="15.0" height="6.9" fill="#84d0c1"/>
<rect x="1006.8" y="326.4" width="15.0" height="6.9" fill="#3da1c9"/>
<rect x="1021.5" y="326.4" width="15.0" height="6.9" fill="#0862a5"/>
<rect x="1036.2" y="326.4" width="29.7" height="6.9" fill="#084081"/>
<rect x="1065.6" y="326.4" width="15.0" height="6.9" fill="#2081b8"/>
<rect x="1080.3" y="326.4" width="15.0" height="6.9" fill="#72c7c7"/>
<rect x="1095.0" y="326.4" width="15.0" height="6.9" fill="#d2eecc"/>
<rect x="653.8" y="333.0" width="15.0" height="6.9" fill="#5fbccd"/>
<rect x="668.5" y="333.0" width="15.0" height="6.9" fill="#2f90c0"/>
<rect x="683.2" y="333.0" width="15.0" height="6.9" fill="#0862a5"/>
<rect x="697.9" y="333.0" width="29.7" height="6.9" fill="#084081"/>
<rect x="727.3" y="333.0" width="15.0" height="6.9" fill="#085193"/>
<rect x="742.0" y="333.0" width="15.0" height="6.9" fill="#1171b1"/>
<rect x="756.7" y="333.0" width="15.0" height="6.9" fill="#4cb1d2"/>
<rect x="771.5" y="333.0" width="15.0" height="6.9" fill="#84d0c1"/>
<rect x="786.2" y="333.0" width="29.7" height="6.9" fill="#aadeb6"/>
<rect x="815.6" y="333.0" width="15.0" height="6.9" fill="#84d0c1"/>
<rect x="830.3" y="333.0" width="15.0" height="6.9" fill="#4cb1d2"/>
<rect x="845.0" y="333.0" width="15.0" height="6.9" fill="#1171b1"/>
<rect x="859.7" y="333.0" width="29.7" height="6.9" fill="#084081"/>
<rect x="889.1" y="333.0" width="15.0" height="6.9" fill="#085193"/>
<rect x="903.8" y="333.0" width="15.0" height="6.9" fill="#2f90c0"/>
<rect x="918.5" y="333.0" width="15.0" height="6.9" fill="#72c7c7"/>
<rect x="933.2" y="333.0" width="15.0" height="6.9" fill="#b9e4bd"/>
<rect x="947.9" y="333.0" width="29.7" height="6.9" fill="#dbf1d5"/>
<rect x="977.3" y="333.0" width="15.0" height="6.9" fill="#b9e4bd"/>
<rect x="992.0" y="333.0" width="15.0" height="6.9" fill="#72c7c7"/>
<rect x="1006.8" y="333.0" width="15.0" height="6.9" fill="#2081b8"/>
<rect x="1021.5" y="333.0" width="15.0" height="6.9" fill="#085193"/>
<rect x="1036.2" y="333.0" width="15.0" height="6.9" fill="#084081"/>
<rect x="1050.9" y="333.0" width="15.0" height="6.9" fill="#085193"/>
<rect x="1065.6" y="333.0" width="15.0" height="6.9" fill="#3da1c9"/>
<rect x="1080.3" y="333.0" width="15.0" height="6.9" fill="#97d7bb"/>
<rect x="1095.0" y="333.0" width="15.0" height="6.9" fill="#dbf1d5"/>
<rect x="653.8" y="339.6" width="15.0" height="6.9" fill="#4cb1d2"/>
<rect x="668.5" y="339.6" width="15.0" height="6.9" fill="#2081b8"/>
<rect x="683.2" y="339.6" width="15.0" height="6.9" fill="#085193"/>
<rect x="697.9" y="339.6" width="29.7" height="6.9" fill="#084081"/>
<rect x="727.3" y="339.6" width="15.0" height="6.9" fill="#085193"/>
<rect x="742.0" y="339.6" width="15.0" height="6.9" fill="#2f90c0"/>
<rect x="756.7" y="339.6" width="15.0" height="6.9" fill="#5fbccd"/>
<rect x="771.5" y="339.6" width="15.0" height="6.9" fill="#97d7bb"/>
<rect x="786.2" y="339.6" width="29.7" height="6.9" fill="#aadeb6"/>
<rect x="815.6" y="339.6" width="15.0" height="6.9" fill="#72c7c7"/>
<rect x="830.3" y="339.6" width="15.0" height="6.9" fill="#2f90c0"/>
<rect x="845.0" y="339.6" width="15.0" height="6.9" fill="#0862a5"/>
<rect x="859.7" y="339.6" width="29.7" height="6.9" fill="#084081"/>
<rect x="889.1" y="339.6" width="15.0" height="6.9" fill="#0862a5"/>
<rect x="903.8" y="339.6" width="15.0" height="6.9" fill="#3da1c9"/>
<rect x="918.5" y="339.6" width="15.0" height="6.9" fill="#84d0c1"/>
<rect x="933.2" y="339.6" width="15.0" height="6.9" fill="#c8eac3"/>
<rect x="947.9" y="339.6" width="15.0" height="6.9" fill="#dbf1d5"/>
<rect x="962.6" y="339.6" width="15.0" height="6.9" fill="#d2eecc"/>
<rect x="977.3" y="339.6" width="15.0" height="6.9" fill="#aadeb6"/>
<rect x="992.0" y="339.6" width="15.0" height="6.9" fill="#4cb1d2"/>
<rect x="1006.8" y="339.6" width="15.0" height="6.9" fill="#1171b1"/>
<rect x="1021.5" y="339.6" width="29.7" height="6.9" fill="#084081"/>
<rect x="1050.9" y="339.6" width="15.0" height="6.9" fill="#1171b1"/>
<rect x="1065.6" y="339.6" width="15.0" height="6.9" fill="#4cb1d2"/>
<rect x="1080.3" y="339.6" width="15.0" height="6.9" fill="#b9e4bd"/>
<rect x="1095.0" y="339.6" width="15.0" height="6.9" fill="#e4f4de"/>
<rect x="653.8" y="346.2" width="15.0" height="6.9" fill="#3da1c9"/>
<rect x="668.5" y="346.2" width="15.0" height="6.9" fill="#1171b1"/>
<rect x="683.2" y="346.2" width="15.0" height="6.9" fill="#085193"/>
<rect x="697.9" y="346.2" width="29.7" height="6.9" fill="#084081"/>
<rect x="727.3" y="346.2" width="15.0" height="6.9" fill="#0862a5"/>
<rect x="742.0" y="346.2" width="15.0" height="6.9" fill="#3da1c9"/>
<rect x="756.7" y="346.2" width="15.0" height="6.9" fill="#72c7c7"/>
<rect x="771.5" y="346.2" width="29.7" height="6.9" fill="#aadeb6"/>
<rect x="800.9" y="346.2" width="15.0" height="6.9" fill="#97d7bb"/>
<rect x="815.6" y="346.2" width="15.0" height="6.9" fill="#5fbccd"/>
<rect x="830.3" y="346.2" width="15.0" height="6.9" fill="#2081b8"/>
<rect x="845.0" y="346.2" width="15.0" height="6.9" fill="#085193"/>
<rect x="859.7" y="346.2" width="29.7" height="6.9" fill="#084081"/>
<rect x="889.1" y="346.2" width="15.0" height="6.9" fill="#1171b1"/>
<rect x="903.8" y="346.2" width="15.0" height="6.9" fill="#4cb1d2"/>
<rect x="918.5" y="346.2" width="15.0" height="6.9" fill="#aadeb6"/>
<rect x="933.2" y="346.2" width="15.0" height="6.9" fill="#d2eecc"/>
<rect x="947.9" y="346.2" width="15.0" height="6.9" fill="#dbf1d5"/>
<rect x="962.6" y="346.2" width="15.0" height="6.9" fill="#c8eac3"/>
<rect x="977.3" y="346.2" width="15.0" height="6.9" fill="#84d0c1"/>
<rect x="992.0" y="346.2" width="15.0" height="6.9" fill="#2f90c0"/>
<rect x="1006.8" y="346.2" width="15.0" height="6.9" fill="#085193"/>
<rect x="1021.5" y="346.2" width="29.7" height="6.9" fill="#084081"/>
<rect x="1050.9" y="346.2" width="15.0" height="6.9" fill="#2081b8"/>
<rect x="1065.6" y="346.2" width="15.0" height="6.9" fill="#72c7c7"/>
<rect x="1080.3" y="346.2" width="15.0" height="6.9" fill="#c8eac3"/>
<rect x="1095.0" y="346.2" width="15.0" height="6.9" fill="#edf8e7"/>
<rect x="653.8" y="352.8" width="15.0" height="6.9" fill="#2f90c0"/>
<rect x="668.5" y="352.8" width="15.0" height="6.9" fill="#0862a5"/>
<rect x="683.2" y="352.8" width="29.7" height="6.9" fill="#084081"/>
<rect x="712.6" y="352.8" width="15.0" height="6.9" fill="#085193"/>
<rect x="727.3" y="352.8" width="15.0" height="6.9" fill="#1171b1"/>
<rect x="742.0" y="352.8" width="15.0" height="6.9" fill="#4cb1d2"/>
<rect x="756.7" y="352.8" width="15.0" height="6.9" fill="#84d0c1"/>
<rect x="771.5" y="352.8" width="29.7" height="6.9" fill="#aadeb6"/>
<rect x="800.9" y="352.8" width="15.0" height="6.9" fill="#84d0c1"/>
<rect x="815.6" y="352.8" width="15.0" height="6.9" fill="#4cb1d2"/>
<rect x="830.3" y="352.8" width="15.0" height="6.9" fill="#1171b1"/>
<rect x="845.0" y="352.8" width="29.7" height="6.9" fill="#084081"/>
<rect x="874.4" y="352.8" width="15.0" height="6.9" fill="#085193"/>
<rect x="889.1" y="352.8" width="15.0" height="6.9" fill="#2f90c0"/>
<rect x="903.8" y="352.8" width="15.0" height="6.9" fill="#72c7c7"/>
<rect x="918.5" y="352.8" width="15.0" height="6.9" fill="#b9e4bd"/>
<rect x="933.2" y="352.8" width="29.7" height="6.9" fill="#d2eecc"/>
<rect x="962.6" y="352.8" width="15.0" height="6.9" fill="#b9e4bd"/>
<rect x="977.3" y="352.8" width="15.0" height="6.9" fill="#5fbccd"/>
<rect x="992.0" y="352.8" width="15.0" height="6.9" fill="#2081b8"/>
<rect x="1006.8" y="352.8" width="29.7" height="6.9" fill="#084081"/>
<rect x="1036.2" y="352.8" width="15.0" height="6.9" fill="#085193"/>
<rect x="1050.9" y="352.8" width="15.0" height="6.9" fill="#3da1c9"/>
<rect x="1065.6" y="352.8" width="15.0" height="6.9" fill="#97d7bb"/>
<rect x="1080.3" y="352.8" width="15.0" height="6.9" fill="#dbf1d5"/>
<rect x="1095.0" y="352.8" width="15.0" height="6.9" fill="#f7fcf0"/>
<rect x="653.8" y="359.4" width="15.0" height="6.9" fill="#2081b8"/>
<rect x="668.5" y="359.4" width="15.0" height="6.9" fill="#085193"/>
<rect x="683.2" y="359.4" width="29.7" height="6.9" fill="#084081"/>
<rect x="712.6" y="359.4" width="15.0" height="6.9" fill="#085193"/>
<rect x="727.3" y="359.4" width="15.0" height="6.9" fill="#2f90c0"/>
<rect x="742.0" y="359.4" width="15.0" height="6.9" fill="#5fbccd"/>
<rect x="756.7" y="359.4" width="15.0" height="6.9" fill="#97d7bb"/>
<rect x="771.5" y="359.4" width="15.0" height="6.9" fill="#aadeb6"/>
<rect x="786.2" y="359.4" width="15.0" height="6.9" fill="#97d7bb"/>
<rect x="800.9" y="359.4" width="15.0" height="6.9" fill="#72c7c7"/>
<rect x="815.6" y="359.4" width="15.0" height="6.9" fill="#2f90c0"/>
<rect x="830.3" y="359.4" width="15.0" height="6.9" fill="#0862a5"/>
<rect x="845.0" y="359.4" width="29.7" height="6.9" fill="#084081"/>
<rect x="874.4" y="359.4" width="15.0" height="6.9" fill="#0862a5"/>
<rect x="889.1" y="359.4" width="15.0" height="6.9" fill="#3da1c9"/>
<rect x="903.8" y="359.4" width="15.0" height="6.9" fill="#84d0c1"/>
<rect x="918.5" y="359.4" width="15.0" height="6.9" fill="#c8eac3"/>
<rect x="933.2" y="359.4" width="15.0" height="6.9" fill="#d2eecc"/>
<rect x="947.9" y="359.4" width="15.0" height="6.9" fill="#c8eac3"/>
<rect x="962.6" y="359.4" width="15.0" height="6.9" fill="#97d7bb"/>
<rect x="977.3" y="359.4" width="15.0" height="6.9" fill="#4cb1d2"/>
<rect x="992.0" y="359.4" width="15.0" height="6.9" fill="#0862a5"/>
<rect x="1006.8" y="359.4" width="29.7" height="6.9" fill="#084081"/>
<rect x="1036.2" y="359.4" width="15.0" height="6.9" fill="#1171b1"/>
<rect x="1050.9" y="359.4" width="15.0" height="6.9" fill="#4cb1d2"/>
<rect x="1065.6" y="359.4" width="15.0" height="6.9" fill="#b9e4bd"/>
<rect x="1080.3" y="359.4" width="15.0" height="6.9" fill="#e4f4de"/>
<rect x="1095.0" y="359.4" width="15.0" height="6.9" fill="#f7fcf0"/>
<rect x="653.8" y="366.0" width="15.0" height="6.9" fill="#1171b1"/>
<rect x="668.5" y="366.0" width="15.0" height="6.9" fill="#085193"/>
<rect x="683.2" y="366.0" width="29.7" height="6.9" fill="#084081"/>
<rect x="712.6" y="366.0" width="15.0" height="6.9" fill="#0862a5"/>
<rect x="727.3" y="366.0" width="15.0" height="6.9" fill="#3da1c9"/>
<rect x="742.0" y="366.0" width="15.0" height="6.9" fill="#72c7c7"/>
<rect x="756.7" y="366.0" width="15.0" height="6.9" fill="#97d7bb"/>
<rect x="771.5" y="366.0" width="15.0" height="6.9" fill="#aadeb6"/>
<rect x="786.2" y="366.0" width="15.0" height="6.9" fill="#97d7bb"/>
<rect x="800.9" y="366.0" width="15.0" height="6.9" fill="#5fbccd"/>
<rect x="815.6" y="366.0" width="15.0" height="6.9" fill="#2081b8"/>
<rect x="830.3" y="366.0" width="15.0" height="6.9" fill="#085193"/>
<rect x="845.0" y="366.0" width="29.7" height="6.9" fill="#084081"/>
<rect x="874.4" y="366.0" width="15.0" height="6.9" fill="#1171b1"/>
<rect x="889.1" y="366.0" width="15.0" height="6.9" fill="#4cb1d2"/>
<rect x="903.8" y="366.0" width="15.0" height="6.9" fill="#aadeb6"/>
<rect x="918.5" y="366.0" width="29.7" height="6.9" fill="#d2eecc"/>
<rect x="947.9" y="366.0" width="15.0" height="6.9" fill="#b9e4bd"/>
<rect x="962.6" y="366.0" width="15.0" height="6.9" fill="#84d0c1"/>
<rect x="977.3" y="366.0" width="15.0" height="6.9" fill="#2f90c0"/>
<rect x="992.0" y="366.0" width="15.0" height="6.9" fill="#085193"/>
<rect x="1006.8" y="366.0" width="15.0" height="6.9" fill="#084081"/>
<rect x="1021.5" y="366.0" width="15.0" height="6.9" fill="#085193"/>
<rect x="1036.2" y="366.0" width="15.0" height="6.9" fill="#2081b8"/>
<rect x="1050.9" y="366.0" width="15.0" height="6.9" fill="#72c7c7"/>
<rect x="1065.6" y="366.0" width="15.0" height="6.9" fill="#c8eac3"/>
<rect x="1080.3" y="366.0" width="15.0" height="6.9" fill="#edf8e7"/>
<rect x="1095.0" y="366.0" width="15.0" height="6.9" fill="#f7fcf0"/>
<rect x="653.8" y="372.6" width="15.0" height="6.9" fill="#0862a5"/>
<rect x="668.5" y="372.6" width="29.7" height="6.9" fill="#084081"/>
<rect x="697.9" y="372.6" width="15.0" height="6.9" fill="#085193"/>
<rect x="712.6" y="372.6" width="15.0" height="6.9" fill="#1171b1"/>
<rect x="727.3" y="372.6" width="15.0" height="6.9" fill="#4cb1d2"/>
<rect x="742.0" y="372.6" width="15.0" height="6.9" fill="#84d0c1"/>
<rect x="756.7" y="372.6" width="29.7" height="6.9" fill="#aadeb6"/>
<rect x="786.2" y="372.6" width="15.0" height="6.9" fill="#84d0c1"/>
<rect x="800.9" y="372.6" width="15.0" height="6.9" fill="#3da1c9"/>
<rect x="815.6" y="372.6" width="15.0" height="6.9" fill="#1171b1"/>
<rect x="830.3" y="372.6" width="29.7" height="6.9" fill="#084081"/>
<rect x="859.7" y="372.6" width="15.0" height="6.9" fill="#085193"/>
<rect x="874.4" y="372.6" width="15.0" height="6.9" fill="#2f90c0"/>
<rect x="889.1" y="372.6" width="15.0" height="6.9" fill="#72c7c7"/>
<rect x="903.8" y="372.6" width="15.0" height="6.9" fill="#b9e4bd"/>
<rect x="918.5" y="372.6" width="29.7" height="6.9" fill="#d2eecc"/>
<rect x="947.9" y="372.6" width="15.0" height="6.9" fill="#aadeb6"/>
<rect x="962.6" y="372.6" width="15.0" height="6.9" fill="#5fbccd"/>
<rect x="977.3" y="372.6" width="15.0" height="6.9" fill="#2081b8"/>
<rect x="992.0" y="372.6" width="29.7" height="6.9" fill="#084081"/>
<rect x="1021.5" y="372.6" width="15.0" height="6.9" fill="#0862a5"/>
<rect x="1036.2" y="372.6" width="15.0" height="6.9" fill="#3da1c9"/>
<rect x="1050.9" y="372.6" width="15.0" height="6.9" fill="#97d7bb"/>
<rect x="1065.6" y="372.6" width="15.0" height="6.9" fill="#dbf1d5"/>
<rect x="1080.3" y="372.6" width="29.7" height="6.9" fill="#edf8e7"/>
<rect x="653.8" y="379.2" width="15.0" height="6.9" fill="#085193"/>
<rect x="668.5" y="379.2" width="29.7" height="6.9" fill="#084081"/>
<rect x="697.9" y="379.2" width="15.0" height="6.9" fill="#0862a5"/>
<rect x="712.6" y="379.2" width="15.0" height="6.9" fill="#2081b8"/>
<rect x="727.3" y="379.2" width="15.0" height="6.9" fill="#5fbccd"/>
<rect x="742.0" y="379.2" width="15.0" height="6.9" fill="#97d7bb"/>
<rect x="756.7" y="379.2" width="15.0" height="6.9" fill="#aadeb6"/>
<rect x="771.5" y="379.2" width="15.0" height="6.9" fill="#97d7bb"/>
<rect x="786.2" y="379.2" width="15.0" height="6.9" fill="#5fbccd"/>
<rect x="800.9" y="379.2" width="15.0" height="6.9" fill="#2f90c0"/>
<rect x="815.6" y="379.2" width="15.0" height="6.9" fill="#0862a5"/>
<rect x="830.3" y="379.2" width="29.7" height="6.9" fill="#084081"/>
<rect x="859.7" y="379.2" width="15.0" height="6.9" fill="#0862a5"/>
<rect x="874.4" y="379.2" width="15.0" height="6.9" fill="#3da1c9"/>
<rect x="889.1" y="379.2" width="15.0" height="6.9" fill="#84d0c1"/>
<rect x="903.8" y="379.2" width="15.0" height="6.9" fill="#c8eac3"/>
<rect x="918.5" y="379.2" width="15.0" height="6.9" fill="#d2eecc"/>
<rect x="933.2" y="379.2" width="15.0" height="6.9" fill="#c8eac3"/>
<rect x="947.9" y="379.2" width="15.0" height="6.9" fill="#97d7bb"/>
<rect x="962.6" y="379.2" width="15.0" height="6.9" fill="#3da1c9"/>
<rect x="977.3" y="379.2" width="15.0" height="6.9" fill="#0862a5"/>
<rect x="992.0" y="379.2" width="29.7" height="6.9" fill="#084081"/>
<rect x="1021.5" y="379.2" width="15.0" height="6.9" fill="#1171b1"/>
<rect x="1036.2" y="379.2" width="15.0" height="6.9" fill="#4cb1d2"/>
<rect x="1050.9" y="379.2" width="15.0" height="6.9" fill="#b9e4bd"/>
<rect x="1065.6" y="379.2" width="15.0" height="6.9" fill="#e4f4de"/>
<rect x="1080.3" y="379.2" width="15.0" height="6.9" fill="#f7fcf0"/>
<rect x="1095.0" y="379.2" width="15.0" height="6.9" fill="#e4f4de"/>
<rect x="653.8" y="385.8" width="44.4" height="6.9" fill="#084081"/>
<rect x="697.9" y="385.8" width="15.0" height="6.9" fill="#0862a5"/>
<rect x="712.6" y="385.8" width="15.0" height="6.9" fill="#3da1c9"/>
<rect x="727.3" y="385.8" width="15.0" height="6.9" fill="#72c7c7"/>
<rect x="742.0" y="385.8" width="15.0" height="6.9" fill="#97d7bb"/>
<rect x="756.7" y="385.8" width="15.0" height="6.9" fill="#aadeb6"/>
<rect x="771.5" y="385.8" width="15.0" height="6.9" fill="#84d0c1"/>
<rect x="786.2" y="385.8" width="15.0" height="6.9" fill="#4cb1d2"/>
<rect x="800.9" y="385.8" width="15.0" height="6.9" fill="#2081b8"/>
<rect x="815.6" y="385.8" width="15.0" height="6.9" fill="#085193"/>
<rect x="830.3" y="385.8" width="29.7" height="6.9" fill="#084081"/>
<rect x="859.7" y="385.8" width="15.0" height="6.9" fill="#1171b1"/>
<rect x="874.4" y="385.8" width="15.0" height="6.9" fill="#4cb1d2"/>
<rect x="889.1" y="385.8" width="15.0" height="6.9" fill="#aadeb6"/>
<rect x="903.8" y="385.8" width="15.0" height="6.9" fill="#c8eac3"/>
<rect x="918.5" y="385.8" width="15.0" height="6.9" fill="#d2eecc"/>
<rect x="933.2" y="385.8" width="15.0" height="6.9" fill="#b9e4bd"/>
<rect x="947.9" y="385.8" width="15.0" height="6.9" fill="#72c7c7"/>
<rect x="962.6" y="385.8" width="15.0" height="6.9" fill="#2f90c0"/>
<rect x="977.3" y="385.8" width="15.0" height="6.9" fill="#085193"/>
<rect x="992.0" y="385.8" width="15.0" height="6.9" fill="#084081"/>
<rect x="1006.8" y="385.8" width="15.0" height="6.9" fill="#085193"/>
<rect x="1021.5" y="385.8" width="15.0" height="6.9" fill="#2081b8"/>
<rect x="1036.2" y="385.8" width="15.0" height="6.9" fill="#72c7c7"/>
<rect x="1050.9" y="385.8" width="15.0" height="6.9" fill="#c8eac3"/>
<rect x="1065.6" y="385.8" width="29.7" height="6.9" fill="#edf8e7"/>
<rect x="1095.0" y="385.8" width="15.0" height="6.9" fill="#dbf1d5"/>
<rect x="653.8" y="392.4" width="29.7" height="6.9" fill="#084081"/>
<rect x="683.2" y="392.4" width="15.0" height="6.9" fill="#085193"/>
<rect x="697.9" y="392.4" width="15.0" height="6.9" fill="#1171b1"/>
<rect x="712.6" y="392.4" width="15.0" height="6.9" fill="#4cb1d2"/>
<rect x="727.3" y="392.4" width="15.0" height="6.9" fill="#84d0c1"/>
<rect x="742.0" y="392.4" width="29.7" height="6.9" fill="#97d7bb"/>
<rect x="771.5" y="392.4" width="15.0" height="6.9" fill="#72c7c7"/>
<rect x="786.2" y="392.4" width="15.0" height="6.9" fill="#3da1c9"/>
<rect x="800.9" y="392.4" width="15.0" height="6.9" fill="#1171b1"/>
<rect x="815.6" y="392.4" width="29.7" height="6.9" fill="#084081"/>
<rect x="845.0" y="392.4" width="15.0" height="6.9" fill="#085193"/>
<rect x="859.7" y="392.4" width="15.0" height="6.9" fill="#2f90c0"/>
<rect x="874.4" y="392.4" width="15.0" height="6.9" fill="#72c7c7"/>
<rect x="889.1" y="392.4" width="15.0" height="6.9" fill="#b9e4bd"/>
<rect x="903.8" y="392.4" width="15.0" height="6.9" fill="#d2eecc"/>
<rect x="918.5" y="392.4" width="15.0" height="6.9" fill="#c8eac3"/>
<rect x="933.2" y="392.4" width="15.0" height="6.9" fill="#aadeb6"/>
<rect x="947.9" y="392.4" width="15.0" height="6.9" fill="#5fbccd"/>
<rect x="962.6" y="392.4" width="15.0" height="6.9" fill="#1171b1"/>
<rect x="977.3" y="392.4" width="29.7" height="6.9" fill="#084081"/>
<rect x="1006.8" y="392.4" width="15.0" height="6.9" fill="#0862a5"/>
<rect x="1021.5" y="392.4" width="15.0" height="6.9" fill="#3da1c9"/>
<rect x="1036.2" y="392.4" width="15.0" height="6.9" fill="#97d7bb"/>
<rect x="1050.9" y="392.4" width="15.0" height="6.9" fill="#dbf1d5"/>
<rect x="1065.6" y="392.4" width="29.7" height="6.9" fill="#edf8e7"/>
<rect x="1095.0" y="392.4" width="15.0" height="6.9" fill="#c8eac3"/>
<rect x="653.8" y="399.0" width="29.7" height="6.9" fill="#084081"/>
<rect x="683.2" y="399.0" width="15.0" height="6.9" fill="#0862a5"/>
<rect x="697.9" y="399.0" width="15.0" height="6.9" fill="#2081b8"/>
<rect x="712.6" y="399.0" width="15.0" height="6.9" fill="#5fbccd"/>
<rect x="727.3" y="399.0" width="15.0" height="6.9" fill="#84d0c1"/>
<rect x="742.0" y="399.0" width="29.7" height="6.9" fill="#97d7bb"/>
<rect x="771.5" y="399.0" width="15.0" height="6.9" fill="#5fbccd"/>
<rect x="786.2" y="399.0" width="15.0" height="6.9" fill="#2f90c0"/>
<rect x="800.9" y="399.0" width="15.0" height="6.9" fill="#0862a5"/>
<rect x="815.6" y="399.0" width="29.7" height="6.9" fill="#084081"/>
<rect x="845.0" y="399.0" width="15.0" height="6.9" fill="#0862a5"/>
<rect x="859.7" y="399.0" width="15.0" height="6.9" fill="#3da1c9"/>
<rect x="874.4" y="399.0" width="15.0" height="6.9" fill="#84d0c1"/>
<rect x="889.1" y="399.0" width="15.0" height="6.9" fill="#b9e4bd"/>
<rect x="903.8" y="399.0" width="15.0" height="6.9" fill="#d2eecc"/>
<rect x="918.5" y="399.0" width="15.0" height="6.9" fill="#c8eac3"/>
<rect x="933.2" y="399.0" width="15.0" height="6.9" fill="#84d0c1"/>
<rect x="947.9" y="399.0" width="15.0" height="6.9" fill="#3da1c9"/>
<rect x="962.6" y="399.0" width="15.0" height="6.9" fill="#0862a5"/>
<rect x="977.3" y="399.0" width="29.7" height="6.9" fill="#084081"/>
<rect x="1006.8" y="399.0" width="15.0" height="6.9" fill="#1171b1"/>
<rect x="1021.5" y="399.0" width="15.0" height="6.9" fill="#5fbccd"/>
<rect x="1036.2" y="399.0" width="15.0" height="6.9" fill="#b9e4bd"/>
<rect x="1050.9" y="399.0" width="15.0" height="6.9" fill="#e4f4de"/>
<rect x="1065.6" y="399.0" width="15.0" height="6.9" fill="#edf8e7"/>
<rect x="1080.3" y="399.0" width="15.0" height="6.9" fill="#e4f4de"/>
<rect x="1095.0" y="399.0" width="15.0" height="6.9" fill="#b9e4bd"/>
<rect x="653.8" y="405.6" width="29.7" height="6.9" fill="#084081"/>
<rect x="683.2" y="405.6" width="15.0" height="6.9" fill="#0862a5"/>
<rect x="697.9" y="405.6" width="15.0" height="6.9" fill="#3da1c9"/>
<rect x="712.6" y="405.6" width="15.0" height="6.9" fill="#72c7c7"/>
<rect x="727.3" y="405.6" width="29.7" height="6.9" fill="#97d7bb"/>
<rect x="756.7" y="405.6" width="15.0" height="6.9" fill="#84d0c1"/>
<rect x="771.5" y="405.6" width="15.0" height="6.9" fill="#4cb1d2"/>
<rect x="786.2" y="405.6" width="15.0" height="6.9" fill="#2081b8"/>
<rect x="800.9" y="405.6" width="15.0" height="6.9" fill="#085193"/>
<rect x="815.6" y="405.6" width="29.7" height="6.9" fill="#084081"/>
<rect x="845.0" y="405.6" width="15.0" height="6.9" fill="#1171b1"/>
<rect x="859.7" y="405.6" width="15.0" height="6.9" fill="#4cb1d2"/>
<rect x="874.4" y="405.6" width="15.0" height="6.9" fill="#97d7bb"/>
<rect x="889.1" y="405.6" width="15.0" height="6.9" fill="#c8eac3"/>
<rect x="903.8" y="405.6" width="15.0" height="6.9" fill="#d2eecc"/>
<rect x="918.5" y="405.6" width="15.0" height="6.9" fill="#b9e4bd"/>
<rect x="933.2" y="405.6" width="15.0" height="6.9" fill="#72c7c7"/>
<rect x="947.9" y="405.6" width="15.0" height="6.9" fill="#2f90c0"/>
<rect x="962.6" y="405.6" width="15.0" height="6.9" fill="#085193"/>
<rect x="977.3" y="405.6" width="15.0" height="6.9" fill="#084081"/>
<rect x="992.0" y="405.6" width="15.0" height="6.9" fill="#085193"/>
<rect x="1006.8" y="405.6" width="15.0" height="6.9" fill="#2081b8"/>
<rect x="1021.5" y="405.6" width="15.0" height="6.9" fill="#72c7c7"/>
<rect x="1036.2" y="405.6" width="15.0" height="6.9" fill="#c8eac3"/>
<rect x="1050.9" y="405.6" width="15.0" height="6.9" fill="#e4f4de"/>
<rect x="1065.6" y="405.6" width="15.0" height="6.9" fill="#edf8e7"/>
<rect x="1080.3" y="405.6" width="15.0" height="6.9" fill="#dbf1d5"/>
<rect x="1095.0" y="405.6" width="15.0" height="6.9" fill="#97d7bb"/>
<rect x="653.8" y="412.2" width="15.0" height="6.9" fill="#084081"/>
<rect x="668.5" y="412.2" width="15.0" height="6.9" fill="#085193"/>
<rect x="683.2" y="412.2" width="15.0" height="6.9" fill="#1171b1"/>
<rect x="697.9" y="412.2" width="15.0" height="6.9" fill="#4cb1d2"/>
<rect x="712.6" y="412.2" width="15.0" height="6.9" fill="#72c7c7"/>
<rect x="727.3" y="412.2" width="29.7" height="6.9" fill="#97d7bb"/>
<rect x="756.7" y="412.2" width="15.0" height="6.9" fill="#72c7c7"/>
<rect x="771.5" y="412.2" width="15.0" height="6.9" fill="#3da1c9"/>
<rect x="786.2" y="412.2" width="15.0" height="6.9" fill="#0862a5"/>
<rect x="800.9" y="412.2" width="29.7" height="6.9" fill="#084081"/>
<rect x="830.3" y="412.2" width="15.0" height="6.9" fill="#085193"/>
<rect x="845.0" y="412.2" width="15.0" height="6.9" fill="#2f90c0"/>
<rect x="859.7" y="412.2" width="15.0" height="6.9" fill="#72c7c7"/>
<rect x="874.4" y="412.2" width="15.0" height="6.9" fill="#aadeb6"/>
<rect x="889.1" y="412.2" width="29.7" height="6.9" fill="#c8eac3"/>
<rect x="918.5" y="412.2" width="15.0" height="6.9" fill="#97d7bb"/>
<rect x="933.2" y="412.2" width="15.0" height="6.9" fill="#4cb1d2"/>
<rect x="947.9" y="412.2" width="15.0" height="6.9" fill="#1171b1"/>
<rect x="962.6" y="412.2" width="29.7" height="6.9" fill="#084081"/>
<rect x="992.0" y="412.2" width="15.0" height="6.9" fill="#0862a5"/>
<rect x="1006.8" y="412.2" width="15.0" height="6.9" fill="#3da1c9"/>
<rect x="1021.5" y="412.2" width="15.0" height="6.9" fill="#97d7bb"/>
<rect x="1036.2" y="412.2" width="15.0" height="6.9" fill="#d2eecc"/>
<rect x="1050.9" y="412.2" width="15.0" height="6.9" fill="#edf8e7"/>
<rect x="1065.6" y="412.2" width="15.0" height="6.9" fill="#e4f4de"/>
<rect x="1080.3" y="412.2" width="15.0" height="6.9" fill="#c8eac3"/>
<rect x="1095.0" y="412.2" width="15.0" height="6.9" fill="#72c7c7"/>
<rect x="653.8" y="418.8" width="15.0" height="6.9" fill="#084081"/>
<rect x="668.5" y="418.8" width="15.0" height="6.9" fill="#0862a5"/>
<rect x="683.2" y="418.8" width="15.0" height="6.9" fill="#2081b8"/>
<rect x="697.9" y="418.8" width="15.0" height="6.9" fill="#5fbccd"/>
<rect x="712.6" y="418.8" width="15.0" height="6.9" fill="#84d0c1"/>
<rect x="727.3" y="418.8" width="15.0" height="6.9" fill="#97d7bb"/>
<rect x="742.0" y="418.8" width="15.0" height="6.9" fill="#84d0c1"/>
<rect x="756.7" y="418.8" width="15.0" height="6.9" fill="#5fbccd"/>
<rect x="771.5" y="418.8" width="15.0" height="6.9" fill="#2f90c0"/>
<rect x="786.2" y="418.8" width="15.0" height="6.9" fill="#085193"/>
<rect x="800.9" y="418.8" width="29.7" height="6.9" fill="#084081"/>
<rect x="830.3" y="418.8" width="15.0" height="6.9" fill="#0862a5"/>
<rect x="845.0" y="418.8" width="15.0" height="6.9" fill="#3da1c9"/>
<rect x="859.7" y="418.8" width="15.0" height="6.9" fill="#84d0c1"/>
<rect x="874.4" y="418.8" width="15.0" height="6.9" fill="#b9e4bd"/>
<rect x="889.1" y="418.8" width="15.0" height="6.9" fill="#c8eac3"/>
<rect x="903.8" y="418.8" width="15.0" height="6.9" fill="#b9e4bd"/>
<rect x="918.5" y="418.8" width="15.0" height="6.9" fill="#84d0c1"/>
<rect x="933.2" y="418.8" width="15.0" height="6.9" fill="#3da1c9"/>
<rect x="947.9" y="418.8" width="15.0" height="6.9" fill="#0862a5"/>
<rect x="962.6" y="418.8" width="29.7" height="6.9" fill="#084081"/>
<rect x="992.0" y="418.8" width="15.0" height="6.9" fill="#1171b1"/>
<rect x="1006.8" y="418.8" width="15.0" height="6.9" fill="#5fbccd"/>
<rect x="1021.5" y="418.8" width="15.0" height="6.9" fill="#b9e4bd"/>
<rect x="1036.2" y="418.8" width="15.0" height="6.9" fill="#dbf1d5"/>
<rect x="1050.9" y="418.8" width="15.0" height="6.9" fill="#edf8e7"/>
<rect x="1065.6" y="418.8" width="15.0" height="6.9" fill="#dbf1d5"/>
<rect x="1080.3" y="418.8" width="15.0" height="6.9" fill="#aadeb6"/>
<rect x="1095.0" y="418.8" width="15.0" height="6.9" fill="#4cb1d2"/>
<rect x="653.8" y="425.4" width="15.0" height="6.9" fill="#084081"/>
<rect x="668.5" y="425.4" width="15.0" height="6.9" fill="#0862a5"/>
<rect x="683.2" y="425.4" width="15.0" height="6.9" fill="#2f90c0"/>
<rect x="697.9" y="425.4" width="15.0" height="6.9" fill="#5fbccd"/>
<rect x="712.6" y="425.4" width="29.7" height="6.9" fill="#97d7bb"/>
<rect x="742.0" y="425.4" width="15.0" height="6.9" fill="#72c7c7"/>
<rect x="756.7" y="425.4" width="15.0" height="6.9" fill="#4cb1d2"/>
<rect x="771.5" y="425.4" width="15.0" height="6.9" fill="#1171b1"/>
<rect x="786.2" y="425.4" width="15.0" height="6.9" fill="#085193"/>
<rect x="800.9" y="425.4" width="29.7" height="6.9" fill="#084081"/>
<rect x="830.3" y="425.4" width="15.0" height="6.9" fill="#1171b1"/>
<rect x="845.0" y="425.4" width="15.0" height="6.9" fill="#4cb1d2"/>
<rect x="859.7" y="425.4" width="15.0" height="6.9" fill="#97d7bb"/>
<rect x="874.4" y="425.4" width="29.7" height="6.9" fill="#c8eac3"/>
<rect x="903.8" y="425.4" width="15.0" height="6.9" fill="#aadeb6"/>
<rect x="918.5" y="425.4" width="15.0" height="6.9" fill="#72c7c7"/>
<rect x="933.2" y="425.4" width="15.0" height="6.9" fill="#2081b8"/>
<rect x="947.9" y="425.4" width="15.0" height="6.9" fill="#085193"/>
<rect x="962.6" y="425.4" width="15.0" height="6.9" fill="#084081"/>
<rect x="977.3" y="425.4" width="15.0" height="6.9" fill="#085193"/>
<rect x="992.0" y="425.4" width="15.0" height="6.9" fill="#2081b8"/>
<rect x="1006.8" y="425.4" width="15.0" height="6.9" fill="#72c7c7"/>
<rect x="1021.5" y="425.4" width="15.0" height="6.9" fill="#c8eac3"/>
<rect x="1036.2" y="425.4" width="15.0" height="6.9" fill="#e4f4de"/>
<rect x="1050.9" y="425.4" width="15.0" height="6.9" fill="#edf8e7"/>
<rect x="1065.6" y="425.4" width="15.0" height="6.9" fill="#d2eecc"/>
<rect x="1080.3" y="425.4" width="15.0" height="6.9" fill="#97d7bb"/>
<rect x="1095.0" y="425.4" width="15.0" height="6.9" fill="#2f90c0"/>
<rect x="653.8" y="432.1" width="15.0" height="6.9" fill="#085193"/>
<rect x="668.5" y="432.1" width="15.0" height="6.9" fill="#1171b1"/>
<rect x="683.2" y="432.1" width="15.0" height="6.9" fill="#3da1c9"/>
<rect x="697.9" y="432.1" width="15.0" height="6.9" fill="#72c7c7"/>
<rect x="712.6" y="432.1" width="29.7" height="6.9" fill="#97d7bb"/>
<rect x="742.0" y="432.1" width="15.0" height="6.9" fill="#72c7c7"/>
<rect x="756.7" y="432.1" width="15.0" height="6.9" fill="#2f90c0"/>
<rect x="771.5" y="432.1" width="15.0" height="6.9" fill="#0862a5"/>
<rect x="786.2" y="432.1" width="29.7" height="6.9" fill="#084081"/>
<rect x="815.6" y="432.1" width="15.0" height="6.9" fill="#085193"/>
<rect x="830.3" y="432.1" width="15.0" height="6.9" fill="#2f90c0"/>
<rect x="845.0" y="432.1" width="15.0" height="6.9" fill="#72c7c7"/>
<rect x="859.7" y="432.1" width="15.0" height="6.9" fill="#aadeb6"/>
<rect x="874.4" y="432.1" width="29.7" height="6.9" fill="#c8eac3"/>
<rect x="903.8" y="432.1" width="15.0" height="6.9" fill="#97d7bb"/>
<rect x="918.5" y="432.1" width="15.0" height="6.9" fill="#4cb1d2"/>
<rect x="933.2" y="432.1" width="15.0" height="6.9" fill="#1171b1"/>
<rect x="947.9" y="432.1" width="29.7" height="6.9" fill="#084081"/>
<rect x="977.3" y="432.1" width="15.0" height="6.9" fill="#0862a5"/>
<rect x="992.0" y="432.1" width="15.0" height="6.9" fill="#3da1c9"/>
<rect x="1006.8" y="432.1" width="15.0" height="6.9" fill="#97d7bb"/>
<rect x="1021.5" y="432.1" width="15.0" height="6.9" fill="#d2eecc"/>
<rect x="1036.2" y="432.1" width="15.0" height="6.9" fill="#edf8e7"/>
<rect x="1050.9" y="432.1" width="15.0" height="6.9" fill="#e4f4de"/>
<rect x="1065.6" y="432.1" width="15.0" height="6.9" fill="#c8eac3"/>
<rect x="1080.3" y="432.1" width="15.0" height="6.9" fill="#72c7c7"/>
<rect x="1095.0" y="432.1" width="15.0" height="6.9" fill="#2081b8"/>
<rect x="653.8" y="438.7" width="15.0" height="6.9" fill="#0862a5"/>
<rect x="668.5" y="438.7" width="15.0" height="6.9" fill="#2081b8"/>
<rect x="683.2" y="438.7" width="15.0" height="6.9" fill="#4cb1d2"/>
<rect x="697.9" y="438.7" width="15.0" height="6.9" fill="#84d0c1"/>
<rect x="712.6" y="438.7" width="15.0" height="6.9" fill="#97d7bb"/>
<rect x="727.3" y="438.7" width="15.0" height="6.9" fill="#84d0c1"/>
<rect x="742.0" y="438.7" width="15.0" height="6.9" fill="#5fbccd"/>
<rect x="756.7" y="438.7" width="15.0" height="6.9" fill="#2081b8"/>
<rect x="771.5" y="438.7" width="15.0" height="6.9" fill="#085193"/>
<rect x="786.2" y="438.7" width="29.7" height="6.9" fill="#084081"/>
<rect x="815.6" y="438.7" width="15.0" height="6.9" fill="#0862a5"/>
<rect x="830.3" y="438.7" width="15.0" height="6.9" fill="#3da1c9"/>
<rect x="845.0" y="438.7" width="15.0" height="6.9" fill="#84d0c1"/>
<rect x="859.7" y="438.7" width="15.0" height="6.9" fill="#b9e4bd"/>
<rect x="874.4" y="438.7" width="15.0" height="6.9" fill="#c8eac3"/>
<rect x="889.1" y="438.7" width="15.0" height="6.9" fill="#b9e4bd"/>
<rect x="903.8" y="438.7" width="15.0" height="6.9" fill="#84d0c1"/>
<rect x="918.5" y="438.7" width="15.0" height="6.9" fill="#3da1c9"/>
<rect x="933.2" y="438.7" width="15.0" height="6.9" fill="#0862a5"/>
<rect x="947.9" y="438.7" width="29.7" height="6.9" fill="#084081"/>
<rect x="977.3" y="438.7" width="15.0" height="6.9" fill="#1171b1"/>
<rect x="992.0" y="438.7" width="15.0" height="6.9" fill="#5fbccd"/>
<rect x="1006.8" y="438.7" width="15.0" height="6.9" fill="#aadeb6"/>
<rect x="1021.5" y="438.7" width="15.0" height="6.9" fill="#dbf1d5"/>
<rect x="1036.2" y="438.7" width="15.0" height="6.9" fill="#edf8e7"/>
<rect x="1050.9" y="438.7" width="15.0" height="6.9" fill="#dbf1d5"/>
<rect x="1065.6" y="438.7" width="15.0" height="6.9" fill="#aadeb6"/>
<rect x="1080.3" y="438.7" width="15.0" height="6.9" fill="#4cb1d2"/>
<rect x="1095.0" y="438.7" width="15.0" height="6.9" fill="#0862a5"/>
<rect x="653.8" y="445.3" width="15.0" height="6.9" fill="#0862a5"/>
<rect x="668.5" y="445.3" width="15.0" height="6.9" fill="#2f90c0"/>
<rect x="683.2" y="445.3" width="15.0" height="6.9" fill="#5fbccd"/>
<rect x="697.9" y="445.3" width="15.0" height="6.9" fill="#84d0c1"/>
<rect x="712.6" y="445.3" width="15.0" height="6.9" fill="#97d7bb"/>
<rect x="727.3" y="445.3" width="15.0" height="6.9" fill="#72c7c7"/>
<rect x="742.0" y="445.3" width="15.0" height="6.9" fill="#3da1c9"/>
<rect x="756.7" y="445.3" width="15.0" height="6.9" fill="#1171b1"/>
<rect x="771.5" y="445.3" width="15.0" height="6.9" fill="#085193"/>
<rect x="786.2" y="445.3" width="15.0" height="6.9" fill="#084081"/>
<rect x="800.9" y="445.3" width="15.0" height="6.9" fill="#085193"/>
<rect x="815.6" y="445.3" width="15.0" height="6.9" fill="#1171b1"/>
<rect x="830.3" y="445.3" width="15.0" height="6.9" fill="#4cb1d2"/>
<rect x="845.0" y="445.3" width="15.0" height="6.9" fill="#97d7bb"/>
<rect x="859.7" y="445.3" width="29.7" height="6.9" fill="#c8eac3"/>
<rect x="889.1" y="445.3" width="15.0" height="6.9" fill="#aadeb6"/>
<rect x="903.8" y="445.3" width="15.0" height="6.9" fill="#5fbccd"/>
<rect x="918.5" y="445.3" width="15.0" height="6.9" fill="#2081b8"/>
<rect x="933.2" y="445.3" width="15.0" height="6.9" fill="#085193"/>
<rect x="947.9" y="445.3" width="15.0" height="6.9" fill="#084081"/>
<rect x="962.6" y="445.3" width="15.0" height="6.9" fill="#085193"/>
<rect x="977.3" y="445.3" width="15.0" height="6.9" fill="#2081b8"/>
<rect x="992.0" y="445.3" width="15.0" height="6.9" fill="#72c7c7"/>
<rect x="1006.8" y="445.3" width="15.0" height="6.9" fill="#c8eac3"/>
<rect x="1021.5" y="445.3" width="29.7" height="6.9" fill="#e4f4de"/>
<rect x="1050.9" y="445.3" width="15.0" height="6.9" fill="#d2eecc"/>
<rect x="1065.6" y="445.3" width="15.0" height="6.9" fill="#84d0c1"/>
<rect x="1080.3" y="445.3" width="15.0" height="6.9" fill="#2f90c0"/>
<rect x="1095.0" y="445.3" width="15.0" height="6.9" fill="#085193"/>
<rect x="653.8" y="451.9" width="15.0" height="6.9" fill="#1171b1"/>
<rect x="668.5" y="451.9" width="15.0" height="6.9" fill="#3da1c9"/>
<rect x="683.2" y="451.9" width="15.0" height="6.9" fill="#72c7c7"/>
<rect x="697.9" y="451.9" width="29.7" height="6.9" fill="#84d0c1"/>
<rect x="727.3" y="451.9" width="15.0" height="6.9" fill="#5fbccd"/>
<rect x="742.0" y="451.9" width="15.0" height="6.9" fill="#2f90c0"/>
<rect x="756.7" y="451.9" width="15.0" height="6.9" fill="#0862a5"/>
<rect x="771.5" y="451.9" width="29.7" height="6.9" fill="#084081"/>
<rect x="800.9" y="451.9" width="15.0" height="6.9" fill="#085193"/>
<rect x="815.6" y="451.9" width="15.0" height="6.9" fill="#2f90c0"/>
<rect x="830.3" y="451.9" width="15.0" height="6.9" fill="#72c7c7"/>
<rect x="845.0" y="451.9" width="15.0" height="6.9" fill="#aadeb6"/>
<rect x="859.7" y="451.9" width="15.0" height="6.9" fill="#c8eac3"/>
<rect x="874.4" y="451.9" width="15.0" height="6.9" fill="#b9e4bd"/>
<rect x="889.1" y="451.9" width="15.0" height="6.9" fill="#97d7bb"/>
<rect x="903.8" y="451.9" width="15.0" height="6.9" fill="#4cb1d2"/>
<rect x="918.5" y="451.9" width="15.0" height="6.9" fill="#1171b1"/>
<rect x="933.2" y="451.9" width="29.7" height="6.9" fill="#084081"/>
<rect x="962.6" y="451.9" width="15.0" height="6.9" fill="#0862a5"/>
<rect x="977.3" y="451.9" width="15.0" height="6.9" fill="#3da1c9"/>
<rect x="992.0" y="451.9" width="15.0" height="6.9" fill="#97d7bb"/>
<rect x="1006.8" y="451.9" width="15.0" height="6.9" fill="#d2eecc"/>
<rect x="1021.5" y="451.9" width="29.7" height="6.9" fill="#e4f4de"/>
<rect x="1050.9" y="451.9" width="15.0" height="6.9" fill="#b9e4bd"/>
<rect x="1065.6" y="451.9" width="15.0" height="6.9" fill="#5fbccd"/>
<rect x="1080.3" y="451.9" width="15.0" height="6.9" fill="#2081b8"/>
<rect x="1095.0" y="451.9" width="15.0" height="6.9" fill="#084081"/>
<rect x="653.8" y="458.5" width="15.0" height="6.9" fill="#2081b8"/>
<rect x="668.5" y="458.5" width="15.0" height="6.9" fill="#4cb1d2"/>
<rect x="683.2" y="458.5" width="44.4" height="6.9" fill="#84d0c1"/>
<rect x="727.3" y="458.5" width="15.0" height="6.9" fill="#4cb1d2"/>
<rect x="742.0" y="458.5" width="15.0" height="6.9" fill="#2081b8"/>
<rect x="756.7" y="458.5" width="15.0" height="6.9" fill="#085193"/>
<rect x="771.5" y="458.5" width="29.7" height="6.9" fill="#084081"/>
<rect x="800.9" y="458.5" width="15.0" height="6.9" fill="#0862a5"/>
<rect x="815.6" y="458.5" width="15.0" height="6.9" fill="#3da1c9"/>
<rect x="830.3" y="458.5" width="15.0" height="6.9" fill="#84d0c1"/>
<rect x="845.0" y="458.5" width="15.0" height="6.9" fill="#b9e4bd"/>
<rect x="859.7" y="458.5" width="15.0" height="6.9" fill="#c8eac3"/>
<rect x="874.4" y="458.5" width="15.0" height="6.9" fill="#b9e4bd"/>
<rect x="889.1" y="458.5" width="15.0" height="6.9" fill="#72c7c7"/>
<rect x="903.8" y="458.5" width="15.0" height="6.9" fill="#2f90c0"/>
<rect x="918.5" y="458.5" width="15.0" height="6.9" fill="#0862a5"/>
<rect x="933.2" y="458.5" width="29.7" height="6.9" fill="#084081"/>
<rect x="962.6" y="458.5" width="15.0" height="6.9" fill="#1171b1"/>
<rect x="977.3" y="458.5" width="15.0" height="6.9" fill="#5fbccd"/>
<rect x="992.0" y="458.5" width="15.0" height="6.9" fill="#aadeb6"/>
<rect x="1006.8" y="458.5" width="15.0" height="6.9" fill="#dbf1d5"/>
<rect x="1021.5" y="458.5" width="15.0" height="6.9" fill="#e4f4de"/>
<rect x="1036.2" y="458.5" width="15.0" height="6.9" fill="#dbf1d5"/>
<rect x="1050.9" y="458.5" width="15.0" height="6.9" fill="#aadeb6"/>
<rect x="1065.6" y="458.5" width="15.0" height="6.9" fill="#4cb1d2"/>
<rect x="1080.3" y="458.5" width="15.0" height="6.9" fill="#0862a5"/>
<rect x="1095.0" y="458.5" width="15.0" height="6.9" fill="#084081"/>
<rect x="653.8" y="465.1" width="15.0" height="6.9" fill="#2f90c0"/>
<rect x="668.5" y="465.1" width="15.0" height="6.9" fill="#5fbccd"/>
<rect x="683.2" y="465.1" width="29.7" height="6.9" fill="#84d0c1"/>
<rect x="712.6" y="465.1" width="15.0" height="6.9" fill="#72c7c7"/>
<rect x="727.3" y="465.1" width="15.0" height="6.9" fill="#3da1c9"/>
<rect x="742.0" y="465.1" width="15.0" height="6.9" fill="#1171b1"/>
<rect x="756.7" y="465.1" width="29.7" height="6.9" fill="#084081"/>
<rect x="786.2" y="465.1" width="15.0" height="6.9" fill="#085193"/>
<rect x="800.9" y="465.1" width="15.0" height="6.9" fill="#1171b1"/>
<rect x="815.6" y="465.1" width="15.0" height="6.9" fill="#4cb1d2"/>
<rect x="830.3" y="465.1" width="15.0" height="6.9" fill="#97d7bb"/>
<rect x="845.0" y="465.1" width="15.0" height="6.9" fill="#b9e4bd"/>
<rect x="859.7" y="465.1" width="15.0" height="6.9" fill="#c8eac3"/>
<rect x="874.4" y="465.1" width="15.0" height="6.9" fill="#aadeb6"/>
<rect x="889.1" y="465.1" width="15.0" height="6.9" fill="#5fbccd"/>
<rect x="903.8" y="465.1" width="15.0" height="6.9" fill="#2081b8"/>
<rect x="918.5" y="465.1" width="15.0" height="6.9" fill="#085193"/>
<rect x="933.2" y="465.1" width="15.0" height="6.9" fill="#084081"/>
<rect x="947.9" y="465.1" width="15.0" height="6.9" fill="#085193"/>
<rect x="962.6" y="465.1" width="15.0" height="6.9" fill="#2081b8"/>
<rect x="977.3" y="465.1" width="15.0" height="6.9" fill="#72c7c7"/>
<rect x="992.0" y="465.1" width="15.0" height="6.9" fill="#c8eac3"/>
<rect x="1006.8" y="465.1" width="29.7" height="6.9" fill="#e4f4de"/>
<rect x="1036.2" y="465.1" width="15.0" height="6.9" fill="#c8eac3"/>
<rect x="1050.9" y="465.1" width="15.0" height="6.9" fill="#84d0c1"/>
<rect x="1065.6" y="465.1" width="15.0" height="6.9" fill="#2f90c0"/>
<rect x="1080.3" y="465.1" width="15.0" height="6.9" fill="#085193"/>
<rect x="1095.0" y="465.1" width="15.0" height="6.9" fill="#084081"/>
<rect x="653.8" y="471.7" width="15.0" height="6.9" fill="#3da1c9"/>
<rect x="668.5" y="471.7" width="15.0" height="6.9" fill="#72c7c7"/>
<rect x="683.2" y="471.7" width="29.7" height="6.9" fill="#84d0c1"/>
<rect x="712.6" y="471.7" width="15.0" height="6.9" fill="#5fbccd"/>
<rect x="727.3" y="471.7" width="15.0" height="6.9" fill="#2f90c0"/>
<rect x="742.0" y="471.7" width="15.0" height="6.9" fill="#0862a5"/>
<rect x="756.7" y="471.7" width="29.7" height="6.9" fill="#084081"/>
<rect x="786.2" y="471.7" width="15.0" height="6.9" fill="#085193"/>
<rect x="800.9" y="471.7" width="15.0" height="6.9" fill="#2f90c0"/>
<rect x="815.6" y="471.7" width="15.0" height="6.9" fill="#72c7c7"/>
<rect x="830.3" y="471.7" width="15.0" height="6.9" fill="#aadeb6"/>
<rect x="845.0" y="471.7" width="15.0" height="6.9" fill="#c8eac3"/>
<rect x="859.7" y="471.7" width="15.0" height="6.9" fill="#b9e4bd"/>
<rect x="874.4" y="471.7" width="15.0" height="6.9" fill="#84d0c1"/>
<rect x="889.1" y="471.7" width="15.0" height="6.9" fill="#4cb1d2"/>
<rect x="903.8" y="471.7" width="15.0" height="6.9" fill="#1171b1"/>
<rect x="918.5" y="471.7" width="29.7" height="6.9" fill="#084081"/>
<rect x="947.9" y="471.7" width="15.0" height="6.9" fill="#0862a5"/>
<rect x="962.6" y="471.7" width="15.0" height="6.9" fill="#3da1c9"/>
<rect x="977.3" y="471.7" width="15.0" height="6.9" fill="#97d7bb"/>
<rect x="992.0" y="471.7" width="15.0" height="6.9" fill="#d2eecc"/>
<rect x="1006.8" y="471.7" width="15.0" height="6.9" fill="#e4f4de"/>
<rect x="1021.5" y="471.7" width="15.0" height="6.9" fill="#dbf1d5"/>
<rect x="1036.2" y="471.7" width="15.0" height="6.9" fill="#b9e4bd"/>
<rect x="1050.9" y="471.7" width="15.0" height="6.9" fill="#5fbccd"/>
<rect x="1065.6" y="471.7" width="15.0" height="6.9" fill="#1171b1"/>
<rect x="1080.3" y="471.7" width="29.7" height="6.9" fill="#084081"/>
</g>
<line x1="661.2" y1="55.5" x2="661.2" y2="478.3" stroke="#262626" stroke-opacity="0.17" stroke-width="2"/>
<line x1="661.2" y1="478.3" x2="661.2" y2="473.3" stroke="#262626" stroke-width="1.4"/>
<line x1="661.2" y1="55.5" x2="661.2" y2="60.5" stroke="#262626" stroke-width="1.4"/>
<line x1="808.2" y1="55.5" x2="808.2" y2="478.3" stroke="#262626" stroke-opacity="0.17" stroke-width="2"/>
<line x1="808.2" y1="478.3" x2="808.2" y2="473.3" stroke="#262626" stroke-width="1.4"/>
<line x1="808.2" y1="55.5" x2="808.2" y2="60.5" stroke="#262626" stroke-width="1.4"/>
<line x1="955.3" y1="55.5" x2="955.3" y2="478.3" stroke="#262626" stroke-opacity="0.17" stroke-width="2"/>
<line x1="955.3" y1="478.3" x2="955.3" y2="473.3" stroke="#262626" stroke-width="1.4"/>
<line x1="955.3" y1="55.5" x2="955.3" y2="60.5" stroke="#262626" stroke-width="1.4"/>
<line x1="1102.3" y1="55.5" x2="1102.3" y2="478.3" stroke="#262626" stroke-opacity="0.17" stroke-width="2"/>
<line x1="1102.3" y1="478.3" x2="1102.3" y2="473.3" stroke="#262626" stroke-width="1.4"/>
<line x1="1102.3" y1="55.5" x2="1102.3" y2="60.5" stroke="#262626" stroke-width="1.4"/>
<line x1="653.8" y1="135.3" x2="1109.7" y2="135.3" stroke="#262626" stroke-opacity="0.17" stroke-width="2"/>
<line x1="653.8" y1="135.3" x2="658.8" y2="135.3" stroke="#262626" stroke-width="1.4"/>
<line x1="1109.7" y1="135.3" x2="1104.7" y2="135.3" stroke="#262626" stroke-width="1.4"/>
<line x1="653.8" y1="269.5" x2="1109.7" y2="269.5" stroke="#262626" stroke-opacity="0.17" stroke-width="2"/>
<line x1="653.8" y1="269.5" x2="658.8" y2="269.5" stroke="#262626" stroke-width="1.4"/>
<line x1="1109.7" y1="269.5" x2="1104.7" y2="269.5" stroke="#262626" stroke-width="1.4"/>
<line x1="653.8" y1="403.7" x2="1109.7" y2="403.7" stroke="#262626" stroke-opacity="0.17" stroke-width="2"/>
<line x1="653.8" y1="403.7" x2="658.8" y2="403.7" stroke="#262626" stroke-width="1.4"/>
<line x1="1109.7" y1="403.7" x2="1104.7" y2="403.7" stroke="#262626" stroke-width="1.4"/>
<line x1="653.8" y1="477.1" x2="1109.7" y2="477.1" stroke="#fff" stroke-width="1.2"/>
<rect x="653.8" y="55.5" width="455.9" height="422.8" fill="none" stroke="#262626" stroke-width="1.7"/>
<text x="874.6" y="40.4" text-anchor="middle" font-size="33.7" font-weight="bold" fill="#000">RESL</text>
<!-- heatmap CRESL -->
<g shape-rendering="crispEdges">
<rect x="1182.6" y="55.5" width="15.1" height="6.9" fill="#084081"/>
<rect x="1197.4" y="55.5" width="15.1" height="6.9" fill="#085193"/>
<rect x="1212.2" y="55.5" width="15.1" height="6.9" fill="#2081b8"/>
<rect x="1227.0" y="55.5" width="15.1" height="6.9" fill="#4cb1d2"/>
<rect x="1241.8" y="55.5" width="15.1" height="6.9" fill="#84d0c1"/>
<rect x="1256.6" y="55.5" width="15.1" height="6.9" fill="#aadeb6"/>
<rect x="1271.4" y="55.5" width="15.1" height="6.9" fill="#97d7bb"/>
<rect x="1286.2" y="55.5" width="15.1" height="6.9" fill="#72c7c7"/>
<rect x="1301.0" y="55.5" width="15.1" height="6.9" fill="#3da1c9"/>
<rect x="1315.8" y="55.5" width="15.1" height="6.9" fill="#0862a5"/>
<rect x="1330.6" y="55.5" width="29.9" height="6.9" fill="#084081"/>
<rect x="1360.2" y="55.5" width="15.1" height="6.9" fill="#085193"/>
<rect x="1375.0" y="55.5" width="15.1" height="6.9" fill="#2f90c0"/>
<rect x="1389.8" y="55.5" width="15.1" height="6.9" fill="#72c7c7"/>
<rect x="1404.6" y="55.5" width="15.1" height="6.9" fill="#b9e4bd"/>
<rect x="1419.4" y="55.5" width="29.9" height="6.9" fill="#d2eecc"/>
<rect x="1449.0" y="55.5" width="15.1" height="6.9" fill="#aadeb6"/>
<rect x="1463.8" y="55.5" width="15.1" height="6.9" fill="#5fbccd"/>
<rect x="1478.6" y="55.5" width="15.1" height="6.9" fill="#1171b1"/>
<rect x="1493.4" y="55.5" width="29.9" height="6.9" fill="#084081"/>
<rect x="1523.0" y="55.5" width="15.1" height="6.9" fill="#0862a5"/>
<rect x="1537.8" y="55.5" width="15.1" height="6.9" fill="#3da1c9"/>
<rect x="1552.6" y="55.5" width="15.1" height="6.9" fill="#aadeb6"/>
<rect x="1567.4" y="55.5" width="15.1" height="6.9" fill="#dbf1d5"/>
<rect x="1582.2" y="55.5" width="15.1" height="6.9" fill="#f7fcf0"/>
<rect x="1597.0" y="55.5" width="15.1" height="6.9" fill="#edf8e7"/>
<rect x="1611.8" y="55.5" width="15.1" height="6.9" fill="#d2eecc"/>
<rect x="1626.6" y="55.5" width="15.1" height="6.9" fill="#72c7c7"/>
<rect x="1182.6" y="62.1" width="15.1" height="6.9" fill="#084081"/>
<rect x="1197.4" y="62.1" width="15.1" height="6.9" fill="#0862a5"/>
<rect x="1212.2" y="62.1" width="15.1" height="6.9" fill="#2f90c0"/>
<rect x="1227.0" y="62.1" width="15.1" height="6.9" fill="#5fbccd"/>
<rect x="1241.8" y="62.1" width="15.1" height="6.9" fill="#97d7bb"/>
<rect x="1256.6" y="62.1" width="15.1" height="6.9" fill="#aadeb6"/>
<rect x="1271.4" y="62.1" width="15.1" height="6.9" fill="#97d7bb"/>
<rect x="1286.2" y="62.1" width="15.1" height="6.9" fill="#5fbccd"/>
<rect x="1301.0" y="62.1" width="15.1" height="6.9" fill="#2f90c0"/>
<rect x="1315.8" y="62.1" width="15.1" height="6.9" fill="#085193"/>
<rect x="1330.6" y="62.1" width="29.9" height="6.9" fill="#084081"/>
<rect x="1360.2" y="62.1" width="15.1" height="6.9" fill="#0862a5"/>
<rect x="1375.0" y="62.1" width="15.1" height="6.9" fill="#3da1c9"/>
<rect x="1389.8" y="62.1" width="15.1" height="6.9" fill="#97d7bb"/>
<rect x="1404.6" y="62.1" width="15.1" height="6.9" fill="#c8eac3"/>
<rect x="1419.4" y="62.1" width="15.1" height="6.9" fill="#d2eecc"/>
<rect x="1434.2" y="62.1" width="15.1" height="6.9" fill="#c8eac3"/>
<rect x="1449.0" y="62.1" width="15.1" height="6.9" fill="#84d0c1"/>
<rect x="1463.8" y="62.1" width="15.1" height="6.9" fill="#3da1c9"/>
<rect x="1478.6" y="62.1" width="15.1" height="6.9" fill="#0862a5"/>
<rect x="1493.4" y="62.1" width="29.9" height="6.9" fill="#084081"/>
<rect x="1523.0" y="62.1" width="15.1" height="6.9" fill="#1171b1"/>
<rect x="1537.8" y="62.1" width="15.1" height="6.9" fill="#5fbccd"/>
<rect x="1552.6" y="62.1" width="15.1" height="6.9" fill="#b9e4bd"/>
<rect x="1567.4" y="62.1" width="15.1" height="6.9" fill="#e4f4de"/>
<rect x="1582.2" y="62.1" width="15.1" height="6.9" fill="#f7fcf0"/>
<rect x="1597.0" y="62.1" width="15.1" height="6.9" fill="#e4f4de"/>
<rect x="1611.8" y="62.1" width="15.1" height="6.9" fill="#b9e4bd"/>
<rect x="1626.6" y="62.1" width="15.1" height="6.9" fill="#4cb1d2"/>
<rect x="1182.6" y="68.7" width="15.1" height="6.9" fill="#084081"/>
<rect x="1197.4" y="68.7" width="15.1" height="6.9" fill="#1171b1"/>
<rect x="1212.2" y="68.7" width="15.1" height="6.9" fill="#3da1c9"/>
<rect x="1227.0" y="68.7" width="15.1" height="6.9" fill="#72c7c7"/>
<rect x="1241.8" y="68.7" width="29.9" height="6.9" fill="#97d7bb"/>
<rect x="1271.4" y="68.7" width="15.1" height="6.9" fill="#84d0c1"/>
<rect x="1286.2" y="68.7" width="15.1" height="6.9" fill="#4cb1d2"/>
<rect x="1301.0" y="68.7" width="15.1" height="6.9" fill="#1171b1"/>
<rect x="1315.8" y="68.7" width="15.1" height="6.9" fill="#085193"/>
<rect x="1330.6" y="68.7" width="15.1" height="6.9" fill="#084081"/>
<rect x="1345.4" y="68.7" width="15.1" height="6.9" fill="#085193"/>
<rect x="1360.2" y="68.7" width="15.1" height="6.9" fill="#2081b8"/>
<rect x="1375.0" y="68.7" width="15.1" height="6.9" fill="#5fbccd"/>
<rect x="1389.8" y="68.7" width="15.1" height="6.9" fill="#aadeb6"/>
<rect x="1404.6" y="68.7" width="29.9" height="6.9" fill="#d2eecc"/>
<rect x="1434.2" y="68.7" width="15.1" height="6.9" fill="#b9e4bd"/>
<rect x="1449.0" y="68.7" width="15.1" height="6.9" fill="#72c7c7"/>
<rect x="1463.8" y="68.7" width="15.1" height="6.9" fill="#2081b8"/>
<rect x="1478.6" y="68.7" width="15.1" height="6.9" fill="#085193"/>
<rect x="1493.4" y="68.7" width="15.1" height="6.9" fill="#084081"/>
<rect x="1508.2" y="68.7" width="15.1" height="6.9" fill="#085193"/>
<rect x="1523.0" y="68.7" width="15.1" height="6.9" fill="#2f90c0"/>
<rect x="1537.8" y="68.7" width="15.1" height="6.9" fill="#84d0c1"/>
<rect x="1552.6" y="68.7" width="15.1" height="6.9" fill="#d2eecc"/>
<rect x="1567.4" y="68.7" width="29.9" height="6.9" fill="#edf8e7"/>
<rect x="1597.0" y="68.7" width="15.1" height="6.9" fill="#dbf1d5"/>
<rect x="1611.8" y="68.7" width="15.1" height="6.9" fill="#97d7bb"/>
<rect x="1626.6" y="68.7" width="15.1" height="6.9" fill="#2f90c0"/>
<rect x="1182.6" y="75.3" width="15.1" height="6.9" fill="#085193"/>
<rect x="1197.4" y="75.3" width="15.1" height="6.9" fill="#2081b8"/>
<rect x="1212.2" y="75.3" width="15.1" height="6.9" fill="#4cb1d2"/>
<rect x="1227.0" y="75.3" width="15.1" height="6.9" fill="#84d0c1"/>
<rect x="1241.8" y="75.3" width="29.9" height="6.9" fill="#97d7bb"/>
<rect x="1271.4" y="75.3" width="15.1" height="6.9" fill="#72c7c7"/>
<rect x="1286.2" y="75.3" width="15.1" height="6.9" fill="#3da1c9"/>
<rect x="1301.0" y="75.3" width="15.1" height="6.9" fill="#0862a5"/>
<rect x="1315.8" y="75.3" width="29.9" height="6.9" fill="#084081"/>
<rect x="1345.4" y="75.3" width="15.1" height="6.9" fill="#085193"/>
<rect x="1360.2" y="75.3" width="15.1" height="6.9" fill="#2f90c0"/>
<rect x="1375.0" y="75.3" width="15.1" height="6.9" fill="#72c7c7"/>
<rect x="1389.8" y="75.3" width="15.1" height="6.9" fill="#b9e4bd"/>
<rect x="1404.6" y="75.3" width="15.1" height="6.9" fill="#d2eecc"/>
<rect x="1419.4" y="75.3" width="15.1" height="6.9" fill="#c8eac3"/>
<rect x="1434.2" y="75.3" width="15.1" height="6.9" fill="#97d7bb"/>
<rect x="1449.0" y="75.3" width="15.1" height="6.9" fill="#4cb1d2"/>
<rect x="1463.8" y="75.3" width="15.1" height="6.9" fill="#1171b1"/>
<rect x="1478.6" y="75.3" width="29.9" height="6.9" fill="#084081"/>
<rect x="1508.2" y="75.3" width="15.1" height="6.9" fill="#0862a5"/>
<rect x="1523.0" y="75.3" width="15.1" height="6.9" fill="#3da1c9"/>
<rect x="1537.8" y="75.3" width="15.1" height="6.9" fill="#aadeb6"/>
<rect x="1552.6" y="75.3" width="15.1" height="6.9" fill="#dbf1d5"/>
<rect x="1567.4" y="75.3" width="29.9" height="6.9" fill="#edf8e7"/>
<rect x="1597.0" y="75.3" width="15.1" height="6.9" fill="#c8eac3"/>
<rect x="1611.8" y="75.3" width="15.1" height="6.9" fill="#72c7c7"/>
<rect x="1626.6" y="75.3" width="15.1" height="6.9" fill="#2081b8"/>
<rect x="1182.6" y="81.9" width="15.1" height="6.9" fill="#0862a5"/>
<rect x="1197.4" y="81.9" width="15.1" height="6.9" fill="#2f90c0"/>
<rect x="1212.2" y="81.9" width="15.1" height="6.9" fill="#5fbccd"/>
<rect x="1227.0" y="81.9" width="15.1" height="6.9" fill="#84d0c1"/>
<rect x="1241.8" y="81.9" width="15.1" height="6.9" fill="#97d7bb"/>
<rect x="1256.6" y="81.9" width="15.1" height="6.9" fill="#84d0c1"/>
<rect x="1271.4" y="81.9" width="15.1" height="6.9" fill="#5fbccd"/>
<rect x="1286.2" y="81.9" width="15.1" height="6.9" fill="#2081b8"/>
<rect x="1301.0" y="81.9" width="15.1" height="6.9" fill="#085193"/>
<rect x="1315.8" y="81.9" width="29.9" height="6.9" fill="#084081"/>
<rect x="1345.4" y="81.9" width="15.1" height="6.9" fill="#0862a5"/>
<rect x="1360.2" y="81.9" width="15.1" height="6.9" fill="#3da1c9"/>
<rect x="1375.0" y="81.9" width="15.1" height="6.9" fill="#97d7bb"/>
<rect x="1389.8" y="81.9" width="15.1" height="6.9" fill="#c8eac3"/>
<rect x="1404.6" y="81.9" width="15.1" height="6.9" fill="#d2eecc"/>
<rect x="1419.4" y="81.9" width="15.1" height="6.9" fill="#b9e4bd"/>
<rect x="1434.2" y="81.9" width="15.1" height="6.9" fill="#84d0c1"/>
<rect x="1449.0" y="81.9" width="15.1" height="6.9" fill="#3da1c9"/>
<rect x="1463.8" y="81.9" width="15.1" height="6.9" fill="#0862a5"/>
<rect x="1478.6" y="81.9" width="29.9" height="6.9" fill="#084081"/>
<rect x="1508.2" y="81.9" width="15.1" height="6.9" fill="#1171b1"/>
<rect x="1523.0" y="81.9" width="15.1" height="6.9" fill="#5fbccd"/>
<rect x="1537.8" y="81.9" width="15.1" height="6.9" fill="#b9e4bd"/>
<rect x="1552.6" y="81.9" width="15.1" height="6.9" fill="#e4f4de"/>
<rect x="1567.4" y="81.9" width="15.1" height="6.9" fill="#edf8e7"/>
<rect x="1582.2" y="81.9" width="15.1" height="6.9" fill="#e4f4de"/>
<rect x="1597.0" y="81.9" width="15.1" height="6.9" fill="#aadeb6"/>
<rect x="1611.8" y="81.9" width="15.1" height="6.9" fill="#4cb1d2"/>
<rect x="1626.6" y="81.9" width="15.1" height="6.9" fill="#0862a5"/>
<rect x="1182.6" y="88.5" width="15.1" height="6.9" fill="#1171b1"/>
<rect x="1197.4" y="88.5" width="15.1" height="6.9" fill="#3da1c9"/>
<rect x="1212.2" y="88.5" width="15.1" height="6.9" fill="#72c7c7"/>
<rect x="1227.0" y="88.5" width="29.9" height="6.9" fill="#97d7bb"/>
<rect x="1256.6" y="88.5" width="15.1" height="6.9" fill="#72c7c7"/>
<rect x="1271.4" y="88.5" width="15.1" height="6.9" fill="#4cb1d2"/>
<rect x="1286.2" y="88.5" width="15.1" height="6.9" fill="#1171b1"/>
<rect x="1301.0" y="88.5" width="15.1" height="6.9" fill="#085193"/>
<rect x="1315.8" y="88.5" width="15.1" height="6.9" fill="#084081"/>
<rect x="1330.6" y="88.5" width="15.1" height="6.9" fill="#085193"/>
<rect x="1345.4" y="88.5" width="15.1" height="6.9" fill="#2081b8"/>
<rect x="1360.2" y="88.5" width="15.1" height="6.9" fill="#5fbccd"/>
<rect x="1375.0" y="88.5" width="15.1" height="6.9" fill="#aadeb6"/>
<rect x="1389.8" y="88.5" width="15.1" height="6.9" fill="#c8eac3"/>
<rect x="1404.6" y="88.5" width="15.1" height="6.9" fill="#d2eecc"/>
<rect x="1419.4" y="88.5" width="15.1" height="6.9" fill="#aadeb6"/>
<rect x="1434.2" y="88.5" width="15.1" height="6.9" fill="#72c7c7"/>
<rect x="1449.0" y="88.5" width="15.1" height="6.9" fill="#2081b8"/>
<rect x="1463.8" y="88.5" width="15.1" height="6.9" fill="#085193"/>
<rect x="1478.6" y="88.5" width="15.1" height="6.9" fill="#084081"/>
<rect x="1493.4" y="88.5" width="15.1" height="6.9" fill="#085193"/>
<rect x="1508.2" y="88.5" width="15.1" height="6.9" fill="#2f90c0"/>
<rect x="1523.0" y="88.5" width="15.1" height="6.9" fill="#84d0c1"/>
<rect x="1537.8" y="88.5" width="15.1" height="6.9" fill="#d2eecc"/>
<rect x="1552.6" y="88.5" width="29.9" height="6.9" fill="#edf8e7"/>
<rect x="1582.2" y="88.5" width="15.1" height="6.9" fill="#d2eecc"/>
<rect x="1597.0" y="88.5" width="15.1" height="6.9" fill="#97d7bb"/>
<rect x="1611.8" y="88.5" width="15.1" height="6.9" fill="#2f90c0"/>
<rect x="1626.6" y="88.5" width="15.1" height="6.9" fill="#085193"/>
<rect x="1182.6" y="95.1" width="15.1" height="6.9" fill="#2081b8"/>
<rect x="1197.4" y="95.1" width="15.1" height="6.9" fill="#4cb1d2"/>
<rect x="1212.2" y="95.1" width="15.1" height="6.9" fill="#84d0c1"/>
<rect x="1227.0" y="95.1" width="29.9" height="6.9" fill="#97d7bb"/>
<rect x="1256.6" y="95.1" width="15.1" height="6.9" fill="#5fbccd"/>
<rect x="1271.4" y="95.1" width="15.1" height="6.9" fill="#2f90c0"/>
<rect x="1286.2" y="95.1" width="15.1" height="6.9" fill="#0862a5"/>
<rect x="1301.0" y="95.1" width="29.9" height="6.9" fill="#084081"/>
<rect x="1330.6" y="95.1" width="15.1" height="6.9" fill="#085193"/>
<rect x="1345.4" y="95.1" width="15.1" height="6.9" fill="#2f90c0"/>
<rect x="1360.2" y="95.1" width="15.1" height="6.9" fill="#72c7c7"/>
<rect x="1375.0" y="95.1" width="15.1" height="6.9" fill="#b9e4bd"/>
<rect x="1389.8" y="95.1" width="29.9" height="6.9" fill="#c8eac3"/>
<rect x="1419.4" y="95.1" width="15.1" height="6.9" fill="#97d7bb"/>
<rect x="1434.2" y="95.1" width="15.1" height="6.9" fill="#4cb1d2"/>
<rect x="1449.0" y="95.1" width="15.1" height="6.9" fill="#1171b1"/>
<rect x="1463.8" y="95.1" width="29.9" height="6.9" fill="#084081"/>
<rect x="1493.4" y="95.1" width="15.1" height="6.9" fill="#0862a5"/>
<rect x="1508.2" y="95.1" width="15.1" height="6.9" fill="#3da1c9"/>
<rect x="1523.0" y="95.1" width="15.1" height="6.9" fill="#aadeb6"/>
<rect x="1537.8" y="95.1" width="15.1" height="6.9" fill="#dbf1d5"/>
<rect x="1552.6" y="95.1" width="15.1" height="6.9" fill="#edf8e7"/>
<rect x="1567.4" y="95.1" width="15.1" height="6.9" fill="#e4f4de"/>
<rect x="1582.2" y="95.1" width="15.1" height="6.9" fill="#c8eac3"/>
<rect x="1597.0" y="95.1" width="15.1" height="6.9" fill="#72c7c7"/>
<rect x="1611.8" y="95.1" width="15.1" height="6.9" fill="#2081b8"/>
<rect x="1626.6" y="95.1" width="15.1" height="6.9" fill="#084081"/>
<rect x="1182.6" y="101.7" width="15.1" height="6.9" fill="#2f90c0"/>
<rect x="1197.4" y="101.7" width="15.1" height="6.9" fill="#5fbccd"/>
<rect x="1212.2" y="101.7" width="15.1" height="6.9" fill="#84d0c1"/>
<rect x="1227.0" y="101.7" width="15.1" height="6.9" fill="#97d7bb"/>
<rect x="1241.8" y="101.7" width="15.1" height="6.9" fill="#84d0c1"/>
<rect x="1256.6" y="101.7" width="15.1" height="6.9" fill="#4cb1d2"/>
<rect x="1271.4" y="101.7" width="15.1" height="6.9" fill="#2081b8"/>
<rect x="1286.2" y="101.7" width="15.1" height="6.9" fill="#085193"/>
<rect x="1301.0" y="101.7" width="29.9" height="6.9" fill="#084081"/>
<rect x="1330.6" y="101.7" width="15.1" height="6.9" fill="#1171b1"/>
<rect x="1345.4" y="101.7" width="15.1" height="6.9" fill="#3da1c9"/>
<rect x="1360.2" y="101.7" width="15.1" height="6.9" fill="#84d0c1"/>
<rect x="1375.0" y="101.7" width="15.1" height="6.9" fill="#b9e4bd"/>
<rect x="1389.8" y="101.7" width="15.1" height="6.9" fill="#c8eac3"/>
<rect x="1404.6" y="101.7" width="15.1" height="6.9" fill="#b9e4bd"/>
<rect x="1419.4" y="101.7" width="15.1" height="6.9" fill="#84d0c1"/>
<rect x="1434.2" y="101.7" width="15.1" height="6.9" fill="#2f90c0"/>
<rect x="1449.0" y="101.7" width="15.1" height="6.9" fill="#0862a5"/>
<rect x="1463.8" y="101.7" width="29.9" height="6.9" fill="#084081"/>
<rect x="1493.4" y="101.7" width="15.1" height="6.9" fill="#1171b1"/>
<rect x="1508.2" y="101.7" width="15.1" height="6.9" fill="#5fbccd"/>
<rect x="1523.0" y="101.7" width="15.1" height="6.9" fill="#b9e4bd"/>
<rect x="1537.8" y="101.7" width="15.1" height="6.9" fill="#e4f4de"/>
<rect x="1552.6" y="101.7" width="15.1" height="6.9" fill="#edf8e7"/>
<rect x="1567.4" y="101.7" width="15.1" height="6.9" fill="#dbf1d5"/>
<rect x="1582.2" y="101.7" width="15.1" height="6.9" fill="#aadeb6"/>
<rect x="1597.0" y="101.7" width="15.1" height="6.9" fill="#4cb1d2"/>
<rect x="1611.8" y="101.7" width="15.1" height="6.9" fill="#0862a5"/>
<rect x="1626.6" y="101.7" width="15.1" height="6.9" fill="#084081"/>
<rect x="1182.6" y="108.3" width="15.1" height="6.9" fill="#3da1c9"/>
<rect x="1197.4" y="108.3" width="15.1" height="6.9" fill="#72c7c7"/>
<rect x="1212.2" y="108.3" width="15.1" height="6.9" fill="#84d0c1"/>
<rect x="1227.0" y="108.3" width="15.1" height="6.9" fill="#97d7bb"/>
<rect x="1241.8" y="108.3" width="15.1" height="6.9" fill="#72c7c7"/>
<rect x="1256.6" y="108.3" width="15.1" height="6.9" fill="#3da1c9"/>
<rect x="1271.4" y="108.3" width="15.1" height="6.9" fill="#1171b1"/>
<rect x="1286.2" y="108.3" width="29.9" height="6.9" fill="#084081"/>
<rect x="1315.8" y="108.3" width="15.1" height="6.9" fill="#085193"/>
<rect x="1330.6" y="108.3" width="15.1" height="6.9" fill="#2081b8"/>
<rect x="1345.4" y="108.3" width="15.1" height="6.9" fill="#5fbccd"/>
<rect x="1360.2" y="108.3" width="15.1" height="6.9" fill="#aadeb6"/>
<rect x="1375.0" y="108.3" width="29.9" height="6.9" fill="#c8eac3"/>
<rect x="1404.6" y="108.3" width="15.1" height="6.9" fill="#aadeb6"/>
<rect x="1419.4" y="108.3" width="15.1" height="6.9" fill="#5fbccd"/>
<rect x="1434.2" y="108.3" width="15.1" height="6.9" fill="#2081b8"/>
<rect x="1449.0" y="108.3" width="15.1" height="6.9" fill="#085193"/>
<rect x="1463.8" y="108.3" width="15.1" height="6.9" fill="#084081"/>
<rect x="1478.6" y="108.3" width="15.1" height="6.9" fill="#085193"/>
<rect x="1493.4" y="108.3" width="15.1" height="6.9" fill="#2f90c0"/>
<rect x="1508.2" y="108.3" width="15.1" height="6.9" fill="#84d0c1"/>
<rect x="1523.0" y="108.3" width="15.1" height="6.9" fill="#d2eecc"/>
<rect x="1537.8" y="108.3" width="15.1" height="6.9" fill="#e4f4de"/>
<rect x="1552.6" y="108.3" width="15.1" height="6.9" fill="#edf8e7"/>
<rect x="1567.4" y="108.3" width="15.1" height="6.9" fill="#d2eecc"/>
<rect x="1582.2" y="108.3" width="15.1" height="6.9" fill="#84d0c1"/>
<rect x="1597.0" y="108.3" width="15.1" height="6.9" fill="#2f90c0"/>
<rect x="1611.8" y="108.3" width="15.1" height="6.9" fill="#085193"/>
<rect x="1626.6" y="108.3" width="15.1" height="6.9" fill="#084081"/>
<rect x="1182.6" y="115.0" width="15.1" height="6.9" fill="#4cb1d2"/>
<rect x="1197.4" y="115.0" width="15.1" height="6.9" fill="#72c7c7"/>
<rect x="1212.2" y="115.0" width="15.1" height="6.9" fill="#97d7bb"/>
<rect x="1227.0" y="115.0" width="15.1" height="6.9" fill="#84d0c1"/>
<rect x="1241.8" y="115.0" width="15.1" height="6.9" fill="#5fbccd"/>
<rect x="1256.6" y="115.0" width="15.1" height="6.9" fill="#2f90c0"/>
<rect x="1271.4" y="115.0" width="15.1" height="6.9" fill="#0862a5"/>
<rect x="1286.2" y="115.0" width="29.9" height="6.9" fill="#084081"/>
<rect x="1315.8" y="115.0" width="15.1" height="6.9" fill="#0862a5"/>
<rect x="1330.6" y="115.0" width="15.1" height="6.9" fill="#2f90c0"/>
<rect x="1345.4" y="115.0" width="15.1" height="6.9" fill="#72c7c7"/>
<rect x="1360.2" y="115.0" width="15.1" height="6.9" fill="#aadeb6"/>
<rect x="1375.0" y="115.0" width="29.9" height="6.9" fill="#c8eac3"/>
<rect x="1404.6" y="115.0" width="15.1" height="6.9" fill="#97d7bb"/>
<rect x="1419.4" y="115.0" width="15.1" height="6.9" fill="#4cb1d2"/>
<rect x="1434.2" y="115.0" width="15.1" height="6.9" fill="#1171b1"/>
<rect x="1449.0" y="115.0" width="29.9" height="6.9" fill="#084081"/>
<rect x="1478.6" y="115.0" width="15.1" height="6.9" fill="#0862a5"/>
<rect x="1493.4" y="115.0" width="15.1" height="6.9" fill="#3da1c9"/>
<rect x="1508.2" y="115.0" width="15.1" height="6.9" fill="#97d7bb"/>
<rect x="1523.0" y="115.0" width="15.1" height="6.9" fill="#dbf1d5"/>
<rect x="1537.8" y="115.0" width="15.1" height="6.9" fill="#edf8e7"/>
<rect x="1552.6" y="115.0" width="15.1" height="6.9" fill="#e4f4de"/>
<rect x="1567.4" y="115.0" width="15.1" height="6.9" fill="#b9e4bd"/>
<rect x="1582.2" y="115.0" width="15.1" height="6.9" fill="#5fbccd"/>
<rect x="1597.0" y="115.0" width="15.1" height="6.9" fill="#1171b1"/>
<rect x="1611.8" y="115.0" width="29.9" height="6.9" fill="#084081"/>
<rect x="1182.6" y="121.6" width="15.1" height="6.9" fill="#5fbccd"/>
<rect x="1197.4" y="121.6" width="15.1" height="6.9" fill="#84d0c1"/>
<rect x="1212.2" y="121.6" width="15.1" height="6.9" fill="#97d7bb"/>
<rect x="1227.0" y="121.6" width="15.1" height="6.9" fill="#84d0c1"/>
<rect x="1241.8" y="121.6" width="15.1" height="6.9" fill="#4cb1d2"/>
<rect x="1256.6" y="121.6" width="15.1" height="6.9" fill="#2081b8"/>
<rect x="1271.4" y="121.6" width="15.1" height="6.9" fill="#085193"/>
<rect x="1286.2" y="121.6" width="29.9" height="6.9" fill="#084081"/>
<rect x="1315.8" y="121.6" width="15.1" height="6.9" fill="#1171b1"/>
<rect x="1330.6" y="121.6" width="15.1" height="6.9" fill="#3da1c9"/>
<rect x="1345.4" y="121.6" width="15.1" height="6.9" fill="#84d0c1"/>
<rect x="1360.2" y="121.6" width="15.1" height="6.9" fill="#b9e4bd"/>
<rect x="1375.0" y="121.6" width="15.1" height="6.9" fill="#c8eac3"/>
<rect x="1389.8" y="121.6" width="15.1" height="6.9" fill="#b9e4bd"/>
<rect x="1404.6" y="121.6" width="15.1" height="6.9" fill="#72c7c7"/>
<rect x="1419.4" y="121.6" width="15.1" height="6.9" fill="#2f90c0"/>
<rect x="1434.2" y="121.6" width="15.1" height="6.9" fill="#085193"/>
<rect x="1449.0" y="121.6" width="29.9" height="6.9" fill="#084081"/>
<rect x="1478.6" y="121.6" width="15.1" height="6.9" fill="#1171b1"/>
<rect x="1493.4" y="121.6" width="15.1" height="6.9" fill="#5fbccd"/>
<rect x="1508.2" y="121.6" width="15.1" height="6.9" fill="#b9e4bd"/>
<rect x="1523.0" y="121.6" width="15.1" height="6.9" fill="#e4f4de"/>
<rect x="1537.8" y="121.6" width="15.1" height="6.9" fill="#edf8e7"/>
<rect x="1552.6" y="121.6" width="15.1" height="6.9" fill="#dbf1d5"/>
<rect x="1567.4" y="121.6" width="15.1" height="6.9" fill="#aadeb6"/>
<rect x="1582.2" y="121.6" width="15.1" height="6.9" fill="#3da1c9"/>
<rect x="1597.0" y="121.6" width="15.1" height="6.9" fill="#0862a5"/>
<rect x="1611.8" y="121.6" width="29.9" height="6.9" fill="#084081"/>
<rect x="1182.6" y="128.2" width="15.1" height="6.9" fill="#5fbccd"/>
<rect x="1197.4" y="128.2" width="29.9" height="6.9" fill="#84d0c1"/>
<rect x="1227.0" y="128.2" width="15.1" height="6.9" fill="#72c7c7"/>
<rect x="1241.8" y="128.2" width="15.1" height="6.9" fill="#3da1c9"/>
<rect x="1256.6" y="128.2" width="15.1" height="6.9" fill="#1171b1"/>
<rect x="1271.4" y="128.2" width="29.9" height="6.9" fill="#084081"/>
<rect x="1301.0" y="128.2" width="15.1" height="6.9" fill="#085193"/>
<rect x="1315.8" y="128.2" width="15.1" height="6.9" fill="#2081b8"/>
<rect x="1330.6" y="128.2" width="15.1" height="6.9" fill="#5fbccd"/>
<rect x="1345.4" y="128.2" width="15.1" height="6.9" fill="#97d7bb"/>
<rect x="1360.2" y="128.2" width="29.9" height="6.9" fill="#c8eac3"/>
<rect x="1389.8" y="128.2" width="15.1" height="6.9" fill="#aadeb6"/>
<rect x="1404.6" y="128.2" width="15.1" height="6.9" fill="#5fbccd"/>
<rect x="1419.4" y="128.2" width="15.1" height="6.9" fill="#2081b8"/>
<rect x="1434.2" y="128.2" width="15.1" height="6.9" fill="#085193"/>
<rect x="1449.0" y="128.2" width="15.1" height="6.9" fill="#084081"/>
<rect x="1463.8" y="128.2" width="15.1" height="6.9" fill="#085193"/>
<rect x="1478.6" y="128.2" width="15.1" height="6.9" fill="#2f90c0"/>
<rect x="1493.4" y="128.2" width="15.1" height="6.9" fill="#84d0c1"/>
<rect x="1508.2" y="128.2" width="15.1" height="6.9" fill="#c8eac3"/>
<rect x="1523.0" y="128.2" width="29.9" height="6.9" fill="#e4f4de"/>
<rect x="1552.6" y="128.2" width="15.1" height="6.9" fill="#d2eecc"/>
<rect x="1567.4" y="128.2" width="15.1" height="6.9" fill="#84d0c1"/>
<rect x="1582.2" y="128.2" width="15.1" height="6.9" fill="#2f90c0"/>
<rect x="1597.0" y="128.2" width="15.1" height="6.9" fill="#085193"/>
<rect x="1611.8" y="128.2" width="15.1" height="6.9" fill="#084081"/>
<rect x="1626.6" y="128.2" width="15.1" height="6.9" fill="#085193"/>
<rect x="1182.6" y="134.8" width="15.1" height="6.9" fill="#72c7c7"/>
<rect x="1197.4" y="134.8" width="29.9" height="6.9" fill="#84d0c1"/>
<rect x="1227.0" y="134.8" width="15.1" height="6.9" fill="#5fbccd"/>
<rect x="1241.8" y="134.8" width="15.1" height="6.9" fill="#2f90c0"/>
<rect x="1256.6" y="134.8" width="15.1" height="6.9" fill="#0862a5"/>
<rect x="1271.4" y="134.8" width="29.9" height="6.9" fill="#084081"/>
<rect x="1301.0" y="134.8" width="15.1" height="6.9" fill="#0862a5"/>
<rect x="1315.8" y="134.8" width="15.1" height="6.9" fill="#2f90c0"/>
<rect x="1330.6" y="134.8" width="15.1" height="6.9" fill="#72c7c7"/>
<rect x="1345.4" y="134.8" width="15.1" height="6.9" fill="#aadeb6"/>
<rect x="1360.2" y="134.8" width="15.1" height="6.9" fill="#c8eac3"/>
<rect x="1375.0" y="134.8" width="15.1" height="6.9" fill="#b9e4bd"/>
<rect x="1389.8" y="134.8" width="15.1" height="6.9" fill="#84d0c1"/>
<rect x="1404.6" y="134.8" width="15.1" height="6.9" fill="#3da1c9"/>
<rect x="1419.4" y="134.8" width="15.1" height="6.9" fill="#0862a5"/>
<rect x="1434.2" y="134.8" width="29.9" height="6.9" fill="#084081"/>
<rect x="1463.8" y="134.8" width="15.1" height="6.9" fill="#0862a5"/>
<rect x="1478.6" y="134.8" width="15.1" height="6.9" fill="#3da1c9"/>
<rect x="1493.4" y="134.8" width="15.1" height="6.9" fill="#97d7bb"/>
<rect x="1508.2" y="134.8" width="15.1" height="6.9" fill="#d2eecc"/>
<rect x="1523.0" y="134.8" width="15.1" height="6.9" fill="#e4f4de"/>
<rect x="1537.8" y="134.8" width="15.1" height="6.9" fill="#dbf1d5"/>
<rect x="1552.6" y="134.8" width="15.1" height="6.9" fill="#b9e4bd"/>
<rect x="1567.4" y="134.8" width="15.1" height="6.9" fill="#5fbccd"/>
<rect x="1582.2" y="134.8" width="15.1" height="6.9" fill="#1171b1"/>
<rect x="1597.0" y="134.8" width="29.9" height="6.9" fill="#084081"/>
<rect x="1626.6" y="134.8" width="15.1" height="6.9" fill="#1171b1"/>
<rect x="1182.6" y="141.4" width="29.9" height="6.9" fill="#84d0c1"/>
<rect x="1212.2" y="141.4" width="15.1" height="6.9" fill="#72c7c7"/>
<rect x="1227.0" y="141.4" width="15.1" height="6.9" fill="#4cb1d2"/>
<rect x="1241.8" y="141.4" width="15.1" height="6.9" fill="#2081b8"/>
<rect x="1256.6" y="141.4" width="15.1" height="6.9" fill="#085193"/>
<rect x="1271.4" y="141.4" width="29.9" height="6.9" fill="#084081"/>
<rect x="1301.0" y="141.4" width="15.1" height="6.9" fill="#1171b1"/>
<rect x="1315.8" y="141.4" width="15.1" height="6.9" fill="#3da1c9"/>
<rect x="1330.6" y="141.4" width="15.1" height="6.9" fill="#84d0c1"/>
<rect x="1345.4" y="141.4" width="15.1" height="6.9" fill="#b9e4bd"/>
<rect x="1360.2" y="141.4" width="15.1" height="6.9" fill="#c8eac3"/>
<rect x="1375.0" y="141.4" width="15.1" height="6.9" fill="#aadeb6"/>
<rect x="1389.8" y="141.4" width="15.1" height="6.9" fill="#72c7c7"/>
<rect x="1404.6" y="141.4" width="15.1" height="6.9" fill="#2f90c0"/>
<rect x="1419.4" y="141.4" width="15.1" height="6.9" fill="#085193"/>
<rect x="1434.2" y="141.4" width="29.9" height="6.9" fill="#084081"/>
<rect x="1463.8" y="141.4" width="15.1" height="6.9" fill="#1171b1"/>
<rect x="1478.6" y="141.4" width="15.1" height="6.9" fill="#5fbccd"/>
<rect x="1493.4" y="141.4" width="15.1" height="6.9" fill="#b9e4bd"/>
<rect x="1508.2" y="141.4" width="15.1" height="6.9" fill="#dbf1d5"/>
<rect x="1523.0" y="141.4" width="15.1" height="6.9" fill="#e4f4de"/>
<rect x="1537.8" y="141.4" width="15.1" height="6.9" fill="#d2eecc"/>
<rect x="1552.6" y="141.4" width="15.1" height="6.9" fill="#97d7bb"/>
<rect x="1567.4" y="141.4" width="15.1" height="6.9" fill="#3da1c9"/>
<rect x="1582.2" y="141.4" width="15.1" height="6.9" fill="#0862a5"/>
<rect x="1597.0" y="141.4" width="29.9" height="6.9" fill="#084081"/>
<rect x="1626.6" y="141.4" width="15.1" height="6.9" fill="#2081b8"/>
<rect x="1182.6" y="148.0" width="29.9" height="6.9" fill="#84d0c1"/>
<rect x="1212.2" y="148.0" width="15.1" height="6.9" fill="#5fbccd"/>
<rect x="1227.0" y="148.0" width="15.1" height="6.9" fill="#3da1c9"/>
<rect x="1241.8" y="148.0" width="15.1" height="6.9" fill="#1171b1"/>
<rect x="1256.6" y="148.0" width="29.9" height="6.9" fill="#084081"/>
<rect x="1286.2" y="148.0" width="15.1" height="6.9" fill="#085193"/>
<rect x="1301.0" y="148.0" width="15.1" height="6.9" fill="#2081b8"/>
<rect x="1315.8" y="148.0" width="15.1" height="6.9" fill="#5fbccd"/>
<rect x="1330.6" y="148.0" width="15.1" height="6.9" fill="#97d7bb"/>
<rect x="1345.4" y="148.0" width="29.9" height="6.9" fill="#b9e4bd"/>
<rect x="1375.0" y="148.0" width="15.1" height="6.9" fill="#97d7bb"/>
<rect x="1389.8" y="148.0" width="15.1" height="6.9" fill="#5fbccd"/>
<rect x="1404.6" y="148.0" width="15.1" height="6.9" fill="#2081b8"/>
<rect x="1419.4" y="148.0" width="29.9" height="6.9" fill="#084081"/>
<rect x="1449.0" y="148.0" width="15.1" height="6.9" fill="#085193"/>
<rect x="1463.8" y="148.0" width="15.1" height="6.9" fill="#2f90c0"/>
<rect x="1478.6" y="148.0" width="15.1" height="6.9" fill="#84d0c1"/>
<rect x="1493.4" y="148.0" width="15.1" height="6.9" fill="#c8eac3"/>
<rect x="1508.2" y="148.0" width="29.9" height="6.9" fill="#e4f4de"/>
<rect x="1537.8" y="148.0" width="15.1" height="6.9" fill="#c8eac3"/>
<rect x="1552.6" y="148.0" width="15.1" height="6.9" fill="#84d0c1"/>
<rect x="1567.4" y="148.0" width="15.1" height="6.9" fill="#2081b8"/>
<rect x="1582.2" y="148.0" width="15.1" height="6.9" fill="#085193"/>
<rect x="1597.0" y="148.0" width="15.1" height="6.9" fill="#084081"/>
<rect x="1611.8" y="148.0" width="15.1" height="6.9" fill="#085193"/>
<rect x="1626.6" y="148.0" width="15.1" height="6.9" fill="#3da1c9"/>
<rect x="1182.6" y="154.6" width="29.9" height="6.9" fill="#84d0c1"/>
<rect x="1212.2" y="154.6" width="15.1" height="6.9" fill="#5fbccd"/>
<rect x="1227.0" y="154.6" width="15.1" height="6.9" fill="#2f90c0"/>
<rect x="1241.8" y="154.6" width="15.1" height="6.9" fill="#0862a5"/>
<rect x="1256.6" y="154.6" width="29.9" height="6.9" fill="#084081"/>
<rect x="1286.2" y="154.6" width="15.1" height="6.9" fill="#0862a5"/>
<rect x="1301.0" y="154.6" width="15.1" height="6.9" fill="#2f90c0"/>
<rect x="1315.8" y="154.6" width="15.1" height="6.9" fill="#72c7c7"/>
<rect x="1330.6" y="154.6" width="15.1" height="6.9" fill="#aadeb6"/>
<rect x="1345.4" y="154.6" width="15.1" height="6.9" fill="#c8eac3"/>
<rect x="1360.2" y="154.6" width="15.1" height="6.9" fill="#b9e4bd"/>
<rect x="1375.0" y="154.6" width="15.1" height="6.9" fill="#84d0c1"/>
<rect x="1389.8" y="154.6" width="15.1" height="6.9" fill="#3da1c9"/>
<rect x="1404.6" y="154.6" width="15.1" height="6.9" fill="#0862a5"/>
<rect x="1419.4" y="154.6" width="29.9" height="6.9" fill="#084081"/>
<rect x="1449.0" y="154.6" width="15.1" height="6.9" fill="#0862a5"/>
<rect x="1463.8" y="154.6" width="15.1" height="6.9" fill="#3da1c9"/>
<rect x="1478.6" y="154.6" width="15.1" height="6.9" fill="#97d7bb"/>
<rect x="1493.4" y="154.6" width="15.1" height="6.9" fill="#d2eecc"/>
<rect x="1508.2" y="154.6" width="15.1" height="6.9" fill="#e4f4de"/>
<rect x="1523.0" y="154.6" width="15.1" height="6.9" fill="#dbf1d5"/>
<rect x="1537.8" y="154.6" width="15.1" height="6.9" fill="#b9e4bd"/>
<rect x="1552.6" y="154.6" width="15.1" height="6.9" fill="#5fbccd"/>
<rect x="1567.4" y="154.6" width="15.1" height="6.9" fill="#1171b1"/>
<rect x="1582.2" y="154.6" width="29.9" height="6.9" fill="#084081"/>
<rect x="1611.8" y="154.6" width="15.1" height="6.9" fill="#1171b1"/>
<rect x="1626.6" y="154.6" width="15.1" height="6.9" fill="#5fbccd"/>
<rect x="1182.6" y="161.2" width="15.1" height="6.9" fill="#84d0c1"/>
<rect x="1197.4" y="161.2" width="15.1" height="6.9" fill="#72c7c7"/>
<rect x="1212.2" y="161.2" width="15.1" height="6.9" fill="#3da1c9"/>
<rect x="1227.0" y="161.2" width="15.1" height="6.9" fill="#1171b1"/>
<rect x="1241.8" y="161.2" width="15.1" height="6.9" fill="#085193"/>
<rect x="1256.6" y="161.2" width="29.9" height="6.9" fill="#084081"/>
<rect x="1286.2" y="161.2" width="15.1" height="6.9" fill="#1171b1"/>
<rect x="1301.0" y="161.2" width="15.1" height="6.9" fill="#3da1c9"/>
<rect x="1315.8" y="161.2" width="15.1" height="6.9" fill="#84d0c1"/>
<rect x="1330.6" y="161.2" width="29.9" height="6.9" fill="#b9e4bd"/>
<rect x="1360.2" y="161.2" width="15.1" height="6.9" fill="#aadeb6"/>
<rect x="1375.0" y="161.2" width="15.1" height="6.9" fill="#72c7c7"/>
<rect x="1389.8" y="161.2" width="15.1" height="6.9" fill="#2f90c0"/>
<rect x="1404.6" y="161.2" width="15.1" height="6.9" fill="#085193"/>
<rect x="1419.4" y="161.2" width="29.9" height="6.9" fill="#084081"/>
<rect x="1449.0" y="161.2" width="15.1" height="6.9" fill="#1171b1"/>
<rect x="1463.8" y="161.2" width="15.1" height="6.9" fill="#5fbccd"/>
<rect x="1478.6" y="161.2" width="15.1" height="6.9" fill="#b9e4bd"/>
<rect x="1493.4" y="161.2" width="15.1" height="6.9" fill="#dbf1d5"/>
<rect x="1508.2" y="161.2" width="15.1" height="6.9" fill="#e4f4de"/>
<rect x="1523.0" y="161.2" width="15.1" height="6.9" fill="#d2eecc"/>
<rect x="1537.8" y="161.2" width="15.1" height="6.9" fill="#97d7bb"/>
<rect x="1552.6" y="161.2" width="15.1" height="6.9" fill="#3da1c9"/>
<rect x="1567.4" y="161.2" width="15.1" height="6.9" fill="#0862a5"/>
<rect x="1582.2" y="161.2" width="15.1" height="6.9" fill="#084081"/>
<rect x="1597.0" y="161.2" width="15.1" height="6.9" fill="#085193"/>
<rect x="1611.8" y="161.2" width="15.1" height="6.9" fill="#2081b8"/>
<rect x="1626.6" y="161.2" width="15.1" height="6.9" fill="#84d0c1"/>
<rect x="1182.6" y="167.8" width="15.1" height="6.9" fill="#84d0c1"/>
<rect x="1197.4" y="167.8" width="15.1" height="6.9" fill="#5fbccd"/>
<rect x="1212.2" y="167.8" width="15.1" height="6.9" fill="#2f90c0"/>
<rect x="1227.0" y="167.8" width="15.1" height="6.9" fill="#0862a5"/>
<rect x="1241.8" y="167.8" width="29.9" height="6.9" fill="#084081"/>
<rect x="1271.4" y="167.8" width="15.1" height="6.9" fill="#085193"/>
<rect x="1286.2" y="167.8" width="15.1" height="6.9" fill="#2081b8"/>
<rect x="1301.0" y="167.8" width="15.1" height="6.9" fill="#4cb1d2"/>
<rect x="1315.8" y="167.8" width="15.1" height="6.9" fill="#97d7bb"/>
<rect x="1330.6" y="167.8" width="29.9" height="6.9" fill="#b9e4bd"/>
<rect x="1360.2" y="167.8" width="15.1" height="6.9" fill="#97d7bb"/>
<rect x="1375.0" y="167.8" width="15.1" height="6.9" fill="#4cb1d2"/>
<rect x="1389.8" y="167.8" width="15.1" height="6.9" fill="#1171b1"/>
<rect x="1404.6" y="167.8" width="29.9" height="6.9" fill="#084081"/>
<rect x="1434.2" y="167.8" width="15.1" height="6.9" fill="#085193"/>
<rect x="1449.0" y="167.8" width="15.1" height="6.9" fill="#2f90c0"/>
<rect x="1463.8" y="167.8" width="15.1" height="6.9" fill="#84d0c1"/>
<rect x="1478.6" y="167.8" width="15.1" height="6.9" fill="#c8eac3"/>
<rect x="1493.4" y="167.8" width="29.9" height="6.9" fill="#e4f4de"/>
<rect x="1523.0" y="167.8" width="15.1" height="6.9" fill="#c8eac3"/>
<rect x="1537.8" y="167.8" width="15.1" height="6.9" fill="#72c7c7"/>
<rect x="1552.6" y="167.8" width="15.1" height="6.9" fill="#2081b8"/>
<rect x="1567.4" y="167.8" width="15.1" height="6.9" fill="#085193"/>
<rect x="1582.2" y="167.8" width="15.1" height="6.9" fill="#084081"/>
<rect x="1597.0" y="167.8" width="15.1" height="6.9" fill="#0862a5"/>
<rect x="1611.8" y="167.8" width="15.1" height="6.9" fill="#3da1c9"/>
<rect x="1626.6" y="167.8" width="15.1" height="6.9" fill="#aadeb6"/>
<rect x="1182.6" y="174.4" width="15.1" height="6.9" fill="#72c7c7"/>
<rect x="1197.4" y="174.4" width="15.1" height="6.9" fill="#4cb1d2"/>
<rect x="1212.2" y="174.4" width="15.1" height="6.9" fill="#2081b8"/>
<rect x="1227.0" y="174.4" width="15.1" height="6.9" fill="#0862a5"/>
<rect x="1241.8" y="174.4" width="29.9" height="6.9" fill="#084081"/>
<rect x="1271.4" y="174.4" width="15.1" height="6.9" fill="#0862a5"/>
<rect x="1286.2" y="174.4" width="15.1" height="6.9" fill="#2f90c0"/>
<rect x="1301.0" y="174.4" width="15.1" height="6.9" fill="#72c7c7"/>
<rect x="1315.8" y="174.4" width="15.1" height="6.9" fill="#aadeb6"/>
<rect x="1330.6" y="174.4" width="15.1" height="6.9" fill="#b9e4bd"/>
<rect x="1345.4" y="174.4" width="15.1" height="6.9" fill="#aadeb6"/>
<rect x="1360.2" y="174.4" width="15.1" height="6.9" fill="#84d0c1"/>
<rect x="1375.0" y="174.4" width="15.1" height="6.9" fill="#3da1c9"/>
<rect x="1389.8" y="174.4" width="15.1" height="6.9" fill="#0862a5"/>
<rect x="1404.6" y="174.4" width="29.9" height="6.9" fill="#084081"/>
<rect x="1434.2" y="174.4" width="15.1" height="6.9" fill="#0862a5"/>
<rect x="1449.0" y="174.4" width="15.1" height="6.9" fill="#3da1c9"/>
<rect x="1463.8" y="174.4" width="15.1" height="6.9" fill="#97d7bb"/>
<rect x="1478.6" y="174.4" width="15.1" height="6.9" fill="#d2eecc"/>
<rect x="1493.4" y="174.4" width="15.1" height="6.9" fill="#e4f4de"/>
<rect x="1508.2" y="174.4" width="15.1" height="6.9" fill="#dbf1d5"/>
<rect x="1523.0" y="174.4" width="15.1" height="6.9" fill="#aadeb6"/>
<rect x="1537.8" y="174.4" width="15.1" height="6.9" fill="#4cb1d2"/>
<rect x="1552.6" y="174.4" width="15.1" height="6.9" fill="#1171b1"/>
<rect x="1567.4" y="174.4" width="29.9" height="6.9" fill="#084081"/>
<rect x="1597.0" y="174.4" width="15.1" height="6.9" fill="#1171b1"/>
<rect x="1611.8" y="174.4" width="15.1" height="6.9" fill="#5fbccd"/>
<rect x="1626.6" y="174.4" width="15.1" height="6.9" fill="#c8eac3"/>
<rect x="1182.6" y="181.0" width="15.1" height="6.9" fill="#72c7c7"/>
<rect x="1197.4" y="181.0" width="15.1" height="6.9" fill="#3da1c9"/>
<rect x="1212.2" y="181.0" width="15.1" height="6.9" fill="#1171b1"/>
<rect x="1227.0" y="181.0" width="15.1" height="6.9" fill="#085193"/>
<rect x="1241.8" y="181.0" width="29.9" height="6.9" fill="#084081"/>
<rect x="1271.4" y="181.0" width="15.1" height="6.9" fill="#1171b1"/>
<rect x="1286.2" y="181.0" width="15.1" height="6.9" fill="#3da1c9"/>
<rect x="1301.0" y="181.0" width="15.1" height="6.9" fill="#84d0c1"/>
<rect x="1315.8" y="181.0" width="15.1" height="6.9" fill="#aadeb6"/>
<rect x="1330.6" y="181.0" width="15.1" height="6.9" fill="#b9e4bd"/>
<rect x="1345.4" y="181.0" width="15.1" height="6.9" fill="#aadeb6"/>
<rect x="1360.2" y="181.0" width="15.1" height="6.9" fill="#5fbccd"/>
<rect x="1375.0" y="181.0" width="15.1" height="6.9" fill="#2081b8"/>
<rect x="1389.8" y="181.0" width="15.1" height="6.9" fill="#085193"/>
<rect x="1404.6" y="181.0" width="29.9" height="6.9" fill="#084081"/>
<rect x="1434.2" y="181.0" width="15.1" height="6.9" fill="#1171b1"/>
<rect x="1449.0" y="181.0" width="15.1" height="6.9" fill="#5fbccd"/>
<rect x="1463.8" y="181.0" width="15.1" height="6.9" fill="#b9e4bd"/>
<rect x="1478.6" y="181.0" width="15.1" height="6.9" fill="#dbf1d5"/>
<rect x="1493.4" y="181.0" width="15.1" height="6.9" fill="#e4f4de"/>
<rect x="1508.2" y="181.0" width="15.1" height="6.9" fill="#d2eecc"/>
<rect x="1523.0" y="181.0" width="15.1" height="6.9" fill="#97d7bb"/>
<rect x="1537.8" y="181.0" width="15.1" height="6.9" fill="#3da1c9"/>
<rect x="1552.6" y="181.0" width="15.1" height="6.9" fill="#085193"/>
<rect x="1567.4" y="181.0" width="15.1" height="6.9" fill="#084081"/>
<rect x="1582.2" y="181.0" width="15.1" height="6.9" fill="#085193"/>
<rect x="1597.0" y="181.0" width="15.1" height="6.9" fill="#2081b8"/>
<rect x="1611.8" y="181.0" width="15.1" height="6.9" fill="#84d0c1"/>
<rect x="1626.6" y="181.0" width="15.1" height="6.9" fill="#d2eecc"/>
<rect x="1182.6" y="187.6" width="15.1" height="6.9" fill="#5fbccd"/>
<rect x="1197.4" y="187.6" width="15.1" height="6.9" fill="#2f90c0"/>
<rect x="1212.2" y="187.6" width="15.1" height="6.9" fill="#0862a5"/>
<rect x="1227.0" y="187.6" width="29.9" height="6.9" fill="#084081"/>
<rect x="1256.6" y="187.6" width="15.1" height="6.9" fill="#085193"/>
<rect x="1271.4" y="187.6" width="15.1" height="6.9" fill="#2081b8"/>
<rect x="1286.2" y="187.6" width="15.1" height="6.9" fill="#4cb1d2"/>
<rect x="1301.0" y="187.6" width="15.1" height="6.9" fill="#97d7bb"/>
<rect x="1315.8" y="187.6" width="29.9" height="6.9" fill="#b9e4bd"/>
<rect x="1345.4" y="187.6" width="15.1" height="6.9" fill="#97d7bb"/>
<rect x="1360.2" y="187.6" width="15.1" height="6.9" fill="#4cb1d2"/>
<rect x="1375.0" y="187.6" width="15.1" height="6.9" fill="#1171b1"/>
<rect x="1389.8" y="187.6" width="29.9" height="6.9" fill="#084081"/>
<rect x="1419.4" y="187.6" width="15.1" height="6.9" fill="#085193"/>
<rect x="1434.2" y="187.6" width="15.1" height="6.9" fill="#2f90c0"/>
<rect x="1449.0" y="187.6" width="15.1" height="6.9" fill="#84d0c1"/>
<rect x="1463.8" y="187.6" width="15.1" height="6.9" fill="#c8eac3"/>
<rect x="1478.6" y="187.6" width="29.9" height="6.9" fill="#dbf1d5"/>
<rect x="1508.2" y="187.6" width="15.1" height="6.9" fill="#b9e4bd"/>
<rect x="1523.0" y="187.6" width="15.1" height="6.9" fill="#72c7c7"/>
<rect x="1537.8" y="187.6" width="15.1" height="6.9" fill="#2081b8"/>
<rect x="1552.6" y="187.6" width="15.1" height="6.9" fill="#085193"/>
<rect x="1567.4" y="187.6" width="15.1" height="6.9" fill="#084081"/>
<rect x="1582.2" y="187.6" width="15.1" height="6.9" fill="#0862a5"/>
<rect x="1597.0" y="187.6" width="15.1" height="6.9" fill="#3da1c9"/>
<rect x="1611.8" y="187.6" width="15.1" height="6.9" fill="#aadeb6"/>
<rect x="1626.6" y="187.6" width="15.1" height="6.9" fill="#e4f4de"/>
<rect x="1182.6" y="194.2" width="15.1" height="6.9" fill="#4cb1d2"/>
<rect x="1197.4" y="194.2" width="15.1" height="6.9" fill="#2081b8"/>
<rect x="1212.2" y="194.2" width="15.1" height="6.9" fill="#085193"/>
<rect x="1227.0" y="194.2" width="29.9" height="6.9" fill="#084081"/>
<rect x="1256.6" y="194.2" width="15.1" height="6.9" fill="#0862a5"/>
<rect x="1271.4" y="194.2" width="15.1" height="6.9" fill="#2f90c0"/>
<rect x="1286.2" y="194.2" width="15.1" height="6.9" fill="#72c7c7"/>
<rect x="1301.0" y="194.2" width="15.1" height="6.9" fill="#aadeb6"/>
<rect x="1315.8" y="194.2" width="15.1" height="6.9" fill="#b9e4bd"/>
<rect x="1330.6" y="194.2" width="15.1" height="6.9" fill="#aadeb6"/>
<rect x="1345.4" y="194.2" width="15.1" height="6.9" fill="#72c7c7"/>
<rect x="1360.2" y="194.2" width="15.1" height="6.9" fill="#3da1c9"/>
<rect x="1375.0" y="194.2" width="15.1" height="6.9" fill="#0862a5"/>
<rect x="1389.8" y="194.2" width="29.9" height="6.9" fill="#084081"/>
<rect x="1419.4" y="194.2" width="15.1" height="6.9" fill="#0862a5"/>
<rect x="1434.2" y="194.2" width="15.1" height="6.9" fill="#3da1c9"/>
<rect x="1449.0" y="194.2" width="15.1" height="6.9" fill="#97d7bb"/>
<rect x="1463.8" y="194.2" width="15.1" height="6.9" fill="#d2eecc"/>
<rect x="1478.6" y="194.2" width="15.1" height="6.9" fill="#dbf1d5"/>
<rect x="1493.4" y="194.2" width="15.1" height="6.9" fill="#d2eecc"/>
<rect x="1508.2" y="194.2" width="15.1" height="6.9" fill="#aadeb6"/>
<rect x="1523.0" y="194.2" width="15.1" height="6.9" fill="#4cb1d2"/>
<rect x="1537.8" y="194.2" width="15.1" height="6.9" fill="#1171b1"/>
<rect x="1552.6" y="194.2" width="29.9" height="6.9" fill="#084081"/>
<rect x="1582.2" y="194.2" width="15.1" height="6.9" fill="#1171b1"/>
<rect x="1597.0" y="194.2" width="15.1" height="6.9" fill="#5fbccd"/>
<rect x="1611.8" y="194.2" width="15.1" height="6.9" fill="#c8eac3"/>
<rect x="1626.6" y="194.2" width="15.1" height="6.9" fill="#edf8e7"/>
<rect x="1182.6" y="200.8" width="15.1" height="6.9" fill="#3da1c9"/>
<rect x="1197.4" y="200.8" width="15.1" height="6.9" fill="#1171b1"/>
<rect x="1212.2" y="200.8" width="15.1" height="6.9" fill="#085193"/>
<rect x="1227.0" y="200.8" width="29.9" height="6.9" fill="#084081"/>
<rect x="1256.6" y="200.8" width="15.1" height="6.9" fill="#1171b1"/>
<rect x="1271.4" y="200.8" width="15.1" height="6.9" fill="#3da1c9"/>
<rect x="1286.2" y="200.8" width="15.1" height="6.9" fill="#84d0c1"/>
<rect x="1301.0" y="200.8" width="15.1" height="6.9" fill="#aadeb6"/>
<rect x="1315.8" y="200.8" width="15.1" height="6.9" fill="#b9e4bd"/>
<rect x="1330.6" y="200.8" width="15.1" height="6.9" fill="#97d7bb"/>
<rect x="1345.4" y="200.8" width="15.1" height="6.9" fill="#5fbccd"/>
<rect x="1360.2" y="200.8" width="15.1" height="6.9" fill="#2081b8"/>
<rect x="1375.0" y="200.8" width="15.1" height="6.9" fill="#085193"/>
<rect x="1389.8" y="200.8" width="29.9" height="6.9" fill="#084081"/>
<rect x="1419.4" y="200.8" width="15.1" height="6.9" fill="#2081b8"/>
<rect x="1434.2" y="200.8" width="15.1" height="6.9" fill="#5fbccd"/>
<rect x="1449.0" y="200.8" width="15.1" height="6.9" fill="#aadeb6"/>
<rect x="1463.8" y="200.8" width="29.9" height="6.9" fill="#dbf1d5"/>
<rect x="1493.4" y="200.8" width="15.1" height="6.9" fill="#c8eac3"/>
<rect x="1508.2" y="200.8" width="15.1" height="6.9" fill="#84d0c1"/>
<rect x="1523.0" y="200.8" width="15.1" height="6.9" fill="#2f90c0"/>
<rect x="1537.8" y="200.8" width="15.1" height="6.9" fill="#085193"/>
<rect x="1552.6" y="200.8" width="15.1" height="6.9" fill="#084081"/>
<rect x="1567.4" y="200.8" width="15.1" height="6.9" fill="#085193"/>
<rect x="1582.2" y="200.8" width="15.1" height="6.9" fill="#2081b8"/>
<rect x="1597.0" y="200.8" width="15.1" height="6.9" fill="#84d0c1"/>
<rect x="1611.8" y="200.8" width="15.1" height="6.9" fill="#d2eecc"/>
<rect x="1626.6" y="200.8" width="15.1" height="6.9" fill="#f7fcf0"/>
<rect x="1182.6" y="207.4" width="15.1" height="6.9" fill="#2f90c0"/>
<rect x="1197.4" y="207.4" width="15.1" height="6.9" fill="#0862a5"/>
<rect x="1212.2" y="207.4" width="29.9" height="6.9" fill="#084081"/>
<rect x="1241.8" y="207.4" width="15.1" height="6.9" fill="#085193"/>
<rect x="1256.6" y="207.4" width="15.1" height="6.9" fill="#2081b8"/>
<rect x="1271.4" y="207.4" width="15.1" height="6.9" fill="#4cb1d2"/>
<rect x="1286.2" y="207.4" width="15.1" height="6.9" fill="#97d7bb"/>
<rect x="1301.0" y="207.4" width="29.9" height="6.9" fill="#aadeb6"/>
<rect x="1330.6" y="207.4" width="15.1" height="6.9" fill="#84d0c1"/>
<rect x="1345.4" y="207.4" width="15.1" height="6.9" fill="#4cb1d2"/>
<rect x="1360.2" y="207.4" width="15.1" height="6.9" fill="#1171b1"/>
<rect x="1375.0" y="207.4" width="29.9" height="6.9" fill="#084081"/>
<rect x="1404.6" y="207.4" width="15.1" height="6.9" fill="#085193"/>
<rect x="1419.4" y="207.4" width="15.1" height="6.9" fill="#2f90c0"/>
<rect x="1434.2" y="207.4" width="15.1" height="6.9" fill="#84d0c1"/>
<rect x="1449.0" y="207.4" width="15.1" height="6.9" fill="#c8eac3"/>
<rect x="1463.8" y="207.4" width="29.9" height="6.9" fill="#dbf1d5"/>
<rect x="1493.4" y="207.4" width="15.1" height="6.9" fill="#b9e4bd"/>
<rect x="1508.2" y="207.4" width="15.1" height="6.9" fill="#72c7c7"/>
<rect x="1523.0" y="207.4" width="15.1" height="6.9" fill="#2081b8"/>
<rect x="1537.8" y="207.4" width="29.9" height="6.9" fill="#084081"/>
<rect x="1567.4" y="207.4" width="15.1" height="6.9" fill="#0862a5"/>
<rect x="1582.2" y="207.4" width="15.1" height="6.9" fill="#3da1c9"/>
<rect x="1597.0" y="207.4" width="15.1" height="6.9" fill="#aadeb6"/>
<rect x="1611.8" y="207.4" width="15.1" height="6.9" fill="#e4f4de"/>
<rect x="1626.6" y="207.4" width="15.1" height="6.9" fill="#f7fcf0"/>
<rect x="1182.6" y="214.1" width="15.1" height="6.9" fill="#2081b8"/>
<rect x="1197.4" y="214.1" width="15.1" height="6.9" fill="#085193"/>
<rect x="1212.2" y="214.1" width="29.9" height="6.9" fill="#084081"/>
<rect x="1241.8" y="214.1" width="15.1" height="6.9" fill="#0862a5"/>
<rect x="1256.6" y="214.1" width="15.1" height="6.9" fill="#2f90c0"/>
<rect x="1271.4" y="214.1" width="15.1" height="6.9" fill="#5fbccd"/>
<rect x="1286.2" y="214.1" width="15.1" height="6.9" fill="#97d7bb"/>
<rect x="1301.0" y="214.1" width="15.1" height="6.9" fill="#b9e4bd"/>
<rect x="1315.8" y="214.1" width="15.1" height="6.9" fill="#aadeb6"/>
<rect x="1330.6" y="214.1" width="15.1" height="6.9" fill="#72c7c7"/>
<rect x="1345.4" y="214.1" width="15.1" height="6.9" fill="#2f90c0"/>
<rect x="1360.2" y="214.1" width="15.1" height="6.9" fill="#0862a5"/>
<rect x="1375.0" y="214.1" width="29.9" height="6.9" fill="#084081"/>
<rect x="1404.6" y="214.1" width="15.1" height="6.9" fill="#0862a5"/>
<rect x="1419.4" y="214.1" width="15.1" height="6.9" fill="#3da1c9"/>
<rect x="1434.2" y="214.1" width="15.1" height="6.9" fill="#97d7bb"/>
<rect x="1449.0" y="214.1" width="15.1" height="6.9" fill="#d2eecc"/>
<rect x="1463.8" y="214.1" width="15.1" height="6.9" fill="#dbf1d5"/>
<rect x="1478.6" y="214.1" width="15.1" height="6.9" fill="#d2eecc"/>
<rect x="1493.4" y="214.1" width="15.1" height="6.9" fill="#97d7bb"/>
<rect x="1508.2" y="214.1" width="15.1" height="6.9" fill="#4cb1d2"/>
<rect x="1523.0" y="214.1" width="15.1" height="6.9" fill="#0862a5"/>
<rect x="1537.8" y="214.1" width="29.9" height="6.9" fill="#084081"/>
<rect x="1567.4" y="214.1" width="15.1" height="6.9" fill="#1171b1"/>
<rect x="1582.2" y="214.1" width="15.1" height="6.9" fill="#5fbccd"/>
<rect x="1597.0" y="214.1" width="15.1" height="6.9" fill="#c8eac3"/>
<rect x="1611.8" y="214.1" width="15.1" height="6.9" fill="#edf8e7"/>
<rect x="1626.6" y="214.1" width="15.1" height="6.9" fill="#f7fcf0"/>
<rect x="1182.6" y="220.7" width="15.1" height="6.9" fill="#1171b1"/>
<rect x="1197.4" y="220.7" width="15.1" height="6.9" fill="#085193"/>
<rect x="1212.2" y="220.7" width="29.9" height="6.9" fill="#084081"/>
<rect x="1241.8" y="220.7" width="15.1" height="6.9" fill="#1171b1"/>
<rect x="1256.6" y="220.7" width="15.1" height="6.9" fill="#3da1c9"/>
<rect x="1271.4" y="220.7" width="15.1" height="6.9" fill="#72c7c7"/>
<rect x="1286.2" y="220.7" width="29.9" height="6.9" fill="#aadeb6"/>
<rect x="1315.8" y="220.7" width="15.1" height="6.9" fill="#97d7bb"/>
<rect x="1330.6" y="220.7" width="15.1" height="6.9" fill="#5fbccd"/>
<rect x="1345.4" y="220.7" width="15.1" height="6.9" fill="#2081b8"/>
<rect x="1360.2" y="220.7" width="15.1" height="6.9" fill="#085193"/>
<rect x="1375.0" y="220.7" width="29.9" height="6.9" fill="#084081"/>
<rect x="1404.6" y="220.7" width="15.1" height="6.9" fill="#2081b8"/>
<rect x="1419.4" y="220.7" width="15.1" height="6.9" fill="#5fbccd"/>
<rect x="1434.2" y="220.7" width="15.1" height="6.9" fill="#aadeb6"/>
<rect x="1449.0" y="220.7" width="15.1" height="6.9" fill="#d2eecc"/>
<rect x="1463.8" y="220.7" width="15.1" height="6.9" fill="#dbf1d5"/>
<rect x="1478.6" y="220.7" width="15.1" height="6.9" fill="#c8eac3"/>
<rect x="1493.4" y="220.7" width="15.1" height="6.9" fill="#84d0c1"/>
<rect x="1508.2" y="220.7" width="15.1" height="6.9" fill="#2f90c0"/>
<rect x="1523.0" y="220.7" width="15.1" height="6.9" fill="#085193"/>
<rect x="1537.8" y="220.7" width="15.1" height="6.9" fill="#084081"/>
<rect x="1552.6" y="220.7" width="15.1" height="6.9" fill="#085193"/>
<rect x="1567.4" y="220.7" width="15.1" height="6.9" fill="#2f90c0"/>
<rect x="1582.2" y="220.7" width="15.1" height="6.9" fill="#84d0c1"/>
<rect x="1597.0" y="220.7" width="15.1" height="6.9" fill="#d2eecc"/>
<rect x="1611.8" y="220.7" width="29.9" height="6.9" fill="#f7fcf0"/>
<rect x="1182.6" y="227.3" width="15.1" height="6.9" fill="#0862a5"/>
<rect x="1197.4" y="227.3" width="29.9" height="6.9" fill="#084081"/>
<rect x="1227.0" y="227.3" width="15.1" height="6.9" fill="#085193"/>
<rect x="1241.8" y="227.3" width="15.1" height="6.9" fill="#2081b8"/>
<rect x="1256.6" y="227.3" width="15.1" height="6.9" fill="#4cb1d2"/>
<rect x="1271.4" y="227.3" width="15.1" height="6.9" fill="#84d0c1"/>
<rect x="1286.2" y="227.3" width="29.9" height="6.9" fill="#aadeb6"/>
<rect x="1315.8" y="227.3" width="15.1" height="6.9" fill="#84d0c1"/>
<rect x="1330.6" y="227.3" width="15.1" height="6.9" fill="#3da1c9"/>
<rect x="1345.4" y="227.3" width="15.1" height="6.9" fill="#1171b1"/>
<rect x="1360.2" y="227.3" width="29.9" height="6.9" fill="#084081"/>
<rect x="1389.8" y="227.3" width="15.1" height="6.9" fill="#085193"/>
<rect x="1404.6" y="227.3" width="15.1" height="6.9" fill="#2f90c0"/>
<rect x="1419.4" y="227.3" width="15.1" height="6.9" fill="#72c7c7"/>
<rect x="1434.2" y="227.3" width="15.1" height="6.9" fill="#b9e4bd"/>
<rect x="1449.0" y="227.3" width="15.1" height="6.9" fill="#dbf1d5"/>
<rect x="1463.8" y="227.3" width="15.1" height="6.9" fill="#d2eecc"/>
<rect x="1478.6" y="227.3" width="15.1" height="6.9" fill="#b9e4bd"/>
<rect x="1493.4" y="227.3" width="15.1" height="6.9" fill="#5fbccd"/>
<rect x="1508.2" y="227.3" width="15.1" height="6.9" fill="#2081b8"/>
<rect x="1523.0" y="227.3" width="29.9" height="6.9" fill="#084081"/>
<rect x="1552.6" y="227.3" width="15.1" height="6.9" fill="#0862a5"/>
<rect x="1567.4" y="227.3" width="15.1" height="6.9" fill="#3da1c9"/>
<rect x="1582.2" y="227.3" width="15.1" height="6.9" fill="#aadeb6"/>
<rect x="1597.0" y="227.3" width="15.1" height="6.9" fill="#e4f4de"/>
<rect x="1611.8" y="227.3" width="29.9" height="6.9" fill="#f7fcf0"/>
<rect x="1182.6" y="233.9" width="15.1" height="6.9" fill="#085193"/>
<rect x="1197.4" y="233.9" width="29.9" height="6.9" fill="#084081"/>
<rect x="1227.0" y="233.9" width="15.1" height="6.9" fill="#0862a5"/>
<rect x="1241.8" y="233.9" width="15.1" height="6.9" fill="#2f90c0"/>
<rect x="1256.6" y="233.9" width="15.1" height="6.9" fill="#5fbccd"/>
<rect x="1271.4" y="233.9" width="15.1" height="6.9" fill="#97d7bb"/>
<rect x="1286.2" y="233.9" width="15.1" height="6.9" fill="#aadeb6"/>
<rect x="1301.0" y="233.9" width="15.1" height="6.9" fill="#97d7bb"/>
<rect x="1315.8" y="233.9" width="15.1" height="6.9" fill="#72c7c7"/>
<rect x="1330.6" y="233.9" width="15.1" height="6.9" fill="#2f90c0"/>
<rect x="1345.4" y="233.9" width="15.1" height="6.9" fill="#0862a5"/>
<rect x="1360.2" y="233.9" width="29.9" height="6.9" fill="#084081"/>
<rect x="1389.8" y="233.9" width="15.1" height="6.9" fill="#0862a5"/>
<rect x="1404.6" y="233.9" width="15.1" height="6.9" fill="#3da1c9"/>
<rect x="1419.4" y="233.9" width="15.1" height="6.9" fill="#97d7bb"/>
<rect x="1434.2" y="233.9" width="15.1" height="6.9" fill="#c8eac3"/>
<rect x="1449.0" y="233.9" width="15.1" height="6.9" fill="#dbf1d5"/>
<rect x="1463.8" y="233.9" width="15.1" height="6.9" fill="#d2eecc"/>
<rect x="1478.6" y="233.9" width="15.1" height="6.9" fill="#97d7bb"/>
<rect x="1493.4" y="233.9" width="15.1" height="6.9" fill="#4cb1d2"/>
<rect x="1508.2" y="233.9" width="15.1" height="6.9" fill="#0862a5"/>
<rect x="1523.0" y="233.9" width="29.9" height="6.9" fill="#084081"/>
<rect x="1552.6" y="233.9" width="15.1" height="6.9" fill="#1171b1"/>
<rect x="1567.4" y="233.9" width="15.1" height="6.9" fill="#5fbccd"/>
<rect x="1582.2" y="233.9" width="15.1" height="6.9" fill="#b9e4bd"/>
<rect x="1597.0" y="233.9" width="15.1" height="6.9" fill="#edf8e7"/>
<rect x="1611.8" y="233.9" width="15.1" height="6.9" fill="#f7fcf0"/>
<rect x="1626.6" y="233.9" width="15.1" height="6.9" fill="#edf8e7"/>
<rect x="1182.6" y="240.5" width="44.7" height="6.9" fill="#084081"/>
<rect x="1227.0" y="240.5" width="15.1" height="6.9" fill="#1171b1"/>
<rect x="1241.8" y="240.5" width="15.1" height="6.9" fill="#3da1c9"/>
<rect x="1256.6" y="240.5" width="15.1" height="6.9" fill="#72c7c7"/>
<rect x="1271.4" y="240.5" width="29.9" height="6.9" fill="#aadeb6"/>
<rect x="1301.0" y="240.5" width="15.1" height="6.9" fill="#97d7bb"/>
<rect x="1315.8" y="240.5" width="15.1" height="6.9" fill="#4cb1d2"/>
<rect x="1330.6" y="240.5" width="15.1" height="6.9" fill="#2081b8"/>
<rect x="1345.4" y="240.5" width="15.1" height="6.9" fill="#085193"/>
<rect x="1360.2" y="240.5" width="15.1" height="6.9" fill="#084081"/>
<rect x="1375.0" y="240.5" width="15.1" height="6.9" fill="#085193"/>
<rect x="1389.8" y="240.5" width="15.1" height="6.9" fill="#2081b8"/>
<rect x="1404.6" y="240.5" width="15.1" height="6.9" fill="#5fbccd"/>
<rect x="1419.4" y="240.5" width="15.1" height="6.9" fill="#aadeb6"/>
<rect x="1434.2" y="240.5" width="15.1" height="6.9" fill="#d2eecc"/>
<rect x="1449.0" y="240.5" width="15.1" height="6.9" fill="#dbf1d5"/>
<rect x="1463.8" y="240.5" width="15.1" height="6.9" fill="#c8eac3"/>
<rect x="1478.6" y="240.5" width="15.1" height="6.9" fill="#84d0c1"/>
<rect x="1493.4" y="240.5" width="15.1" height="6.9" fill="#2f90c0"/>
<rect x="1508.2" y="240.5" width="15.1" height="6.9" fill="#085193"/>
<rect x="1523.0" y="240.5" width="15.1" height="6.9" fill="#084081"/>
<rect x="1537.8" y="240.5" width="15.1" height="6.9" fill="#085193"/>
<rect x="1552.6" y="240.5" width="15.1" height="6.9" fill="#2f90c0"/>
<rect x="1567.4" y="240.5" width="15.1" height="6.9" fill="#84d0c1"/>
<rect x="1582.2" y="240.5" width="15.1" height="6.9" fill="#d2eecc"/>
<rect x="1597.0" y="240.5" width="29.9" height="6.9" fill="#f7fcf0"/>
<rect x="1626.6" y="240.5" width="15.1" height="6.9" fill="#e4f4de"/>
<rect x="1182.6" y="247.1" width="29.9" height="6.9" fill="#084081"/>
<rect x="1212.2" y="247.1" width="15.1" height="6.9" fill="#085193"/>
<rect x="1227.0" y="247.1" width="15.1" height="6.9" fill="#2081b8"/>
<rect x="1241.8" y="247.1" width="15.1" height="6.9" fill="#4cb1d2"/>
<rect x="1256.6" y="247.1" width="15.1" height="6.9" fill="#84d0c1"/>
<rect x="1271.4" y="247.1" width="29.9" height="6.9" fill="#aadeb6"/>
<rect x="1301.0" y="247.1" width="15.1" height="6.9" fill="#84d0c1"/>
<rect x="1315.8" y="247.1" width="15.1" height="6.9" fill="#3da1c9"/>
<rect x="1330.6" y="247.1" width="15.1" height="6.9" fill="#1171b1"/>
<rect x="1345.4" y="247.1" width="29.9" height="6.9" fill="#084081"/>
<rect x="1375.0" y="247.1" width="15.1" height="6.9" fill="#085193"/>
<rect x="1389.8" y="247.1" width="15.1" height="6.9" fill="#2f90c0"/>
<rect x="1404.6" y="247.1" width="15.1" height="6.9" fill="#72c7c7"/>
<rect x="1419.4" y="247.1" width="15.1" height="6.9" fill="#b9e4bd"/>
<rect x="1434.2" y="247.1" width="29.9" height="6.9" fill="#d2eecc"/>
<rect x="1463.8" y="247.1" width="15.1" height="6.9" fill="#aadeb6"/>
<rect x="1478.6" y="247.1" width="15.1" height="6.9" fill="#5fbccd"/>
<rect x="1493.4" y="247.1" width="15.1" height="6.9" fill="#1171b1"/>
<rect x="1508.2" y="247.1" width="29.9" height="6.9" fill="#084081"/>
<rect x="1537.8" y="247.1" width="15.1" height="6.9" fill="#0862a5"/>
<rect x="1552.6" y="247.1" width="15.1" height="6.9" fill="#3da1c9"/>
<rect x="1567.4" y="247.1" width="15.1" height="6.9" fill="#aadeb6"/>
<rect x="1582.2" y="247.1" width="15.1" height="6.9" fill="#dbf1d5"/>
<rect x="1597.0" y="247.1" width="15.1" height="6.9" fill="#f7fcf0"/>
<rect x="1611.8" y="247.1" width="15.1" height="6.9" fill="#edf8e7"/>
<rect x="1626.6" y="247.1" width="15.1" height="6.9" fill="#d2eecc"/>
<rect x="1182.6" y="253.7" width="29.9" height="6.9" fill="#084081"/>
<rect x="1212.2" y="253.7" width="15.1" height="6.9" fill="#0862a5"/>
<rect x="1227.0" y="253.7" width="15.1" height="6.9" fill="#2f90c0"/>
<rect x="1241.8" y="253.7" width="15.1" height="6.9" fill="#5fbccd"/>
<rect x="1256.6" y="253.7" width="15.1" height="6.9" fill="#97d7bb"/>
<rect x="1271.4" y="253.7" width="15.1" height="6.9" fill="#aadeb6"/>
<rect x="1286.2" y="253.7" width="15.1" height="6.9" fill="#97d7bb"/>
<rect x="1301.0" y="253.7" width="15.1" height="6.9" fill="#5fbccd"/>
<rect x="1315.8" y="253.7" width="15.1" height="6.9" fill="#2f90c0"/>
<rect x="1330.6" y="253.7" width="15.1" height="6.9" fill="#0862a5"/>
<rect x="1345.4" y="253.7" width="29.9" height="6.9" fill="#084081"/>
<rect x="1375.0" y="253.7" width="15.1" height="6.9" fill="#0862a5"/>
<rect x="1389.8" y="253.7" width="15.1" height="6.9" fill="#3da1c9"/>
<rect x="1404.6" y="253.7" width="15.1" height="6.9" fill="#97d7bb"/>
<rect x="1419.4" y="253.7" width="15.1" height="6.9" fill="#c8eac3"/>
<rect x="1434.2" y="253.7" width="15.1" height="6.9" fill="#d2eecc"/>
<rect x="1449.0" y="253.7" width="15.1" height="6.9" fill="#c8eac3"/>
<rect x="1463.8" y="253.7" width="15.1" height="6.9" fill="#97d7bb"/>
<rect x="1478.6" y="253.7" width="15.1" height="6.9" fill="#3da1c9"/>
<rect x="1493.4" y="253.7" width="15.1" height="6.9" fill="#0862a5"/>
<rect x="1508.2" y="253.7" width="29.9" height="6.9" fill="#084081"/>
<rect x="1537.8" y="253.7" width="15.1" height="6.9" fill="#1171b1"/>
<rect x="1552.6" y="253.7" width="15.1" height="6.9" fill="#5fbccd"/>
<rect x="1567.4" y="253.7" width="15.1" height="6.9" fill="#b9e4bd"/>
<rect x="1582.2" y="253.7" width="15.1" height="6.9" fill="#e4f4de"/>
<rect x="1597.0" y="253.7" width="15.1" height="6.9" fill="#f7fcf0"/>
<rect x="1611.8" y="253.7" width="15.1" height="6.9" fill="#e4f4de"/>
<rect x="1626.6" y="253.7" width="15.1" height="6.9" fill="#b9e4bd"/>
<rect x="1182.6" y="260.3" width="29.9" height="6.9" fill="#084081"/>
<rect x="1212.2" y="260.3" width="15.1" height="6.9" fill="#1171b1"/>
<rect x="1227.0" y="260.3" width="15.1" height="6.9" fill="#3da1c9"/>
<rect x="1241.8" y="260.3" width="15.1" height="6.9" fill="#72c7c7"/>
<rect x="1256.6" y="260.3" width="15.1" height="6.9" fill="#97d7bb"/>
<rect x="1271.4" y="260.3" width="15.1" height="6.9" fill="#aadeb6"/>
<rect x="1286.2" y="260.3" width="15.1" height="6.9" fill="#84d0c1"/>
<rect x="1301.0" y="260.3" width="15.1" height="6.9" fill="#4cb1d2"/>
<rect x="1315.8" y="260.3" width="15.1" height="6.9" fill="#2081b8"/>
<rect x="1330.6" y="260.3" width="15.1" height="6.9" fill="#085193"/>
<rect x="1345.4" y="260.3" width="15.1" height="6.9" fill="#084081"/>
<rect x="1360.2" y="260.3" width="15.1" height="6.9" fill="#085193"/>
<rect x="1375.0" y="260.3" width="15.1" height="6.9" fill="#2081b8"/>
<rect x="1389.8" y="260.3" width="15.1" height="6.9" fill="#5fbccd"/>
<rect x="1404.6" y="260.3" width="15.1" height="6.9" fill="#aadeb6"/>
<rect x="1419.4" y="260.3" width="29.9" height="6.9" fill="#d2eecc"/>
<rect x="1449.0" y="260.3" width="15.1" height="6.9" fill="#b9e4bd"/>
<rect x="1463.8" y="260.3" width="15.1" height="6.9" fill="#72c7c7"/>
<rect x="1478.6" y="260.3" width="15.1" height="6.9" fill="#2f90c0"/>
<rect x="1493.4" y="260.3" width="15.1" height="6.9" fill="#085193"/>
<rect x="1508.2" y="260.3" width="15.1" height="6.9" fill="#084081"/>
<rect x="1523.0" y="260.3" width="15.1" height="6.9" fill="#085193"/>
<rect x="1537.8" y="260.3" width="15.1" height="6.9" fill="#2f90c0"/>
<rect x="1552.6" y="260.3" width="15.1" height="6.9" fill="#84d0c1"/>
<rect x="1567.4" y="260.3" width="15.1" height="6.9" fill="#d2eecc"/>
<rect x="1582.2" y="260.3" width="15.1" height="6.9" fill="#edf8e7"/>
<rect x="1597.0" y="260.3" width="15.1" height="6.9" fill="#f7fcf0"/>
<rect x="1611.8" y="260.3" width="15.1" height="6.9" fill="#dbf1d5"/>
<rect x="1626.6" y="260.3" width="15.1" height="6.9" fill="#97d7bb"/>
<rect x="1182.6" y="266.9" width="15.1" height="6.9" fill="#084081"/>
<rect x="1197.4" y="266.9" width="15.1" height="6.9" fill="#085193"/>
<rect x="1212.2" y="266.9" width="15.1" height="6.9" fill="#2081b8"/>
<rect x="1227.0" y="266.9" width="15.1" height="6.9" fill="#4cb1d2"/>
<rect x="1241.8" y="266.9" width="15.1" height="6.9" fill="#84d0c1"/>
<rect x="1256.6" y="266.9" width="15.1" height="6.9" fill="#aadeb6"/>
<rect x="1271.4" y="266.9" width="15.1" height="6.9" fill="#97d7bb"/>
<rect x="1286.2" y="266.9" width="15.1" height="6.9" fill="#72c7c7"/>
<rect x="1301.0" y="266.9" width="15.1" height="6.9" fill="#3da1c9"/>
<rect x="1315.8" y="266.9" width="15.1" height="6.9" fill="#0862a5"/>
<rect x="1330.6" y="266.9" width="29.9" height="6.9" fill="#084081"/>
<rect x="1360.2" y="266.9" width="15.1" height="6.9" fill="#085193"/>
<rect x="1375.0" y="266.9" width="15.1" height="6.9" fill="#2f90c0"/>
<rect x="1389.8" y="266.9" width="15.1" height="6.9" fill="#72c7c7"/>
<rect x="1404.6" y="266.9" width="15.1" height="6.9" fill="#b9e4bd"/>
<rect x="1419.4" y="266.9" width="29.9" height="6.9" fill="#d2eecc"/>
<rect x="1449.0" y="266.9" width="15.1" height="6.9" fill="#aadeb6"/>
<rect x="1463.8" y="266.9" width="15.1" height="6.9" fill="#5fbccd"/>
<rect x="1478.6" y="266.9" width="15.1" height="6.9" fill="#1171b1"/>
<rect x="1493.4" y="266.9" width="29.9" height="6.9" fill="#084081"/>
<rect x="1523.0" y="266.9" width="15.1" height="6.9" fill="#0862a5"/>
<rect x="1537.8" y="266.9" width="15.1" height="6.9" fill="#3da1c9"/>
<rect x="1552.6" y="266.9" width="15.1" height="6.9" fill="#aadeb6"/>
<rect x="1567.4" y="266.9" width="15.1" height="6.9" fill="#dbf1d5"/>
<rect x="1582.2" y="266.9" width="15.1" height="6.9" fill="#f7fcf0"/>
<rect x="1597.0" y="266.9" width="15.1" height="6.9" fill="#edf8e7"/>
<rect x="1611.8" y="266.9" width="15.1" height="6.9" fill="#d2eecc"/>
<rect x="1626.6" y="266.9" width="15.1" height="6.9" fill="#72c7c7"/>
<rect x="1182.6" y="273.5" width="15.1" height="6.9" fill="#084081"/>
<rect x="1197.4" y="273.5" width="15.1" height="6.9" fill="#0862a5"/>
<rect x="1212.2" y="273.5" width="15.1" height="6.9" fill="#2f90c0"/>
<rect x="1227.0" y="273.5" width="15.1" height="6.9" fill="#5fbccd"/>
<rect x="1241.8" y="273.5" width="15.1" height="6.9" fill="#97d7bb"/>
<rect x="1256.6" y="273.5" width="15.1" height="6.9" fill="#aadeb6"/>
<rect x="1271.4" y="273.5" width="15.1" height="6.9" fill="#97d7bb"/>
<rect x="1286.2" y="273.5" width="15.1" height="6.9" fill="#5fbccd"/>
<rect x="1301.0" y="273.5" width="15.1" height="6.9" fill="#2f90c0"/>
<rect x="1315.8" y="273.5" width="15.1" height="6.9" fill="#085193"/>
<rect x="1330.6" y="273.5" width="29.9" height="6.9" fill="#084081"/>
<rect x="1360.2" y="273.5" width="15.1" height="6.9" fill="#0862a5"/>
<rect x="1375.0" y="273.5" width="15.1" height="6.9" fill="#3da1c9"/>
<rect x="1389.8" y="273.5" width="15.1" height="6.9" fill="#97d7bb"/>
<rect x="1404.6" y="273.5" width="15.1" height="6.9" fill="#c8eac3"/>
<rect x="1419.4" y="273.5" width="15.1" height="6.9" fill="#d2eecc"/>
<rect x="1434.2" y="273.5" width="15.1" height="6.9" fill="#c8eac3"/>
<rect x="1449.0" y="273.5" width="15.1" height="6.9" fill="#84d0c1"/>
<rect x="1463.8" y="273.5" width="15.1" height="6.9" fill="#3da1c9"/>
<rect x="1478.6" y="273.5" width="15.1" height="6.9" fill="#0862a5"/>
<rect x="1493.4" y="273.5" width="29.9" height="6.9" fill="#084081"/>
<rect x="1523.0" y="273.5" width="15.1" height="6.9" fill="#1171b1"/>
<rect x="1537.8" y="273.5" width="15.1" height="6.9" fill="#5fbccd"/>
<rect x="1552.6" y="273.5" width="15.1" height="6.9" fill="#b9e4bd"/>
<rect x="1567.4" y="273.5" width="15.1" height="6.9" fill="#e4f4de"/>
<rect x="1582.2" y="273.5" width="15.1" height="6.9" fill="#f7fcf0"/>
<rect x="1597.0" y="273.5" width="15.1" height="6.9" fill="#e4f4de"/>
<rect x="1611.8" y="273.5" width="15.1" height="6.9" fill="#b9e4bd"/>
<rect x="1626.6" y="273.5" width="15.1" height="6.9" fill="#4cb1d2"/>
<rect x="1182.6" y="280.1" width="15.1" height="6.9" fill="#084081"/>
<rect x="1197.4" y="280.1" width="15.1" height="6.9" fill="#1171b1"/>
<rect x="1212.2" y="280.1" width="15.1" height="6.9" fill="#3da1c9"/>
<rect x="1227.0" y="280.1" width="15.1" height="6.9" fill="#72c7c7"/>
<rect x="1241.8" y="280.1" width="29.9" height="6.9" fill="#97d7bb"/>
<rect x="1271.4" y="280.1" width="15.1" height="6.9" fill="#84d0c1"/>
<rect x="1286.2" y="280.1" width="15.1" height="6.9" fill="#4cb1d2"/>
<rect x="1301.0" y="280.1" width="15.1" height="6.9" fill="#1171b1"/>
<rect x="1315.8" y="280.1" width="15.1" height="6.9" fill="#085193"/>
<rect x="1330.6" y="280.1" width="15.1" height="6.9" fill="#084081"/>
<rect x="1345.4" y="280.1" width="15.1" height="6.9" fill="#085193"/>
<rect x="1360.2" y="280.1" width="15.1" height="6.9" fill="#2081b8"/>
<rect x="1375.0" y="280.1" width="15.1" height="6.9" fill="#5fbccd"/>
<rect x="1389.8" y="280.1" width="15.1" height="6.9" fill="#aadeb6"/>
<rect x="1404.6" y="280.1" width="29.9" height="6.9" fill="#d2eecc"/>
<rect x="1434.2" y="280.1" width="15.1" height="6.9" fill="#b9e4bd"/>
<rect x="1449.0" y="280.1" width="15.1" height="6.9" fill="#72c7c7"/>
<rect x="1463.8" y="280.1" width="15.1" height="6.9" fill="#2081b8"/>
<rect x="1478.6" y="280.1" width="15.1" height="6.9" fill="#085193"/>
<rect x="1493.4" y="280.1" width="15.1" height="6.9" fill="#084081"/>
<rect x="1508.2" y="280.1" width="15.1" height="6.9" fill="#085193"/>
<rect x="1523.0" y="280.1" width="15.1" height="6.9" fill="#2f90c0"/>
<rect x="1537.8" y="280.1" width="15.1" height="6.9" fill="#84d0c1"/>
<rect x="1552.6" y="280.1" width="15.1" height="6.9" fill="#d2eecc"/>
<rect x="1567.4" y="280.1" width="29.9" height="6.9" fill="#edf8e7"/>
<rect x="1597.0" y="280.1" width="15.1" height="6.9" fill="#dbf1d5"/>
<rect x="1611.8" y="280.1" width="15.1" height="6.9" fill="#97d7bb"/>
<rect x="1626.6" y="280.1" width="15.1" height="6.9" fill="#2f90c0"/>
<rect x="1182.6" y="286.7" width="15.1" height="6.9" fill="#085193"/>
<rect x="1197.4" y="286.7" width="15.1" height="6.9" fill="#2081b8"/>
<rect x="1212.2" y="286.7" width="15.1" height="6.9" fill="#4cb1d2"/>
<rect x="1227.0" y="286.7" width="15.1" height="6.9" fill="#84d0c1"/>
<rect x="1241.8" y="286.7" width="29.9" height="6.9" fill="#97d7bb"/>
<rect x="1271.4" y="286.7" width="15.1" height="6.9" fill="#72c7c7"/>
<rect x="1286.2" y="286.7" width="15.1" height="6.9" fill="#3da1c9"/>
<rect x="1301.0" y="286.7" width="15.1" height="6.9" fill="#0862a5"/>
<rect x="1315.8" y="286.7" width="29.9" height="6.9" fill="#084081"/>
<rect x="1345.4" y="286.7" width="15.1" height="6.9" fill="#085193"/>
<rect x="1360.2" y="286.7" width="15.1" height="6.9" fill="#2f90c0"/>
<rect x="1375.0" y="286.7" width="15.1" height="6.9" fill="#72c7c7"/>
<rect x="1389.8" y="286.7" width="15.1" height="6.9" fill="#b9e4bd"/>
<rect x="1404.6" y="286.7" width="15.1" height="6.9" fill="#d2eecc"/>
<rect x="1419.4" y="286.7" width="15.1" height="6.9" fill="#c8eac3"/>
<rect x="1434.2" y="286.7" width="15.1" height="6.9" fill="#97d7bb"/>
<rect x="1449.0" y="286.7" width="15.1" height="6.9" fill="#4cb1d2"/>
<rect x="1463.8" y="286.7" width="15.1" height="6.9" fill="#1171b1"/>
<rect x="1478.6" y="286.7" width="29.9" height="6.9" fill="#084081"/>
<rect x="1508.2" y="286.7" width="15.1" height="6.9" fill="#0862a5"/>
<rect x="1523.0" y="286.7" width="15.1" height="6.9" fill="#3da1c9"/>
<rect x="1537.8" y="286.7" width="15.1" height="6.9" fill="#aadeb6"/>
<rect x="1552.6" y="286.7" width="15.1" height="6.9" fill="#dbf1d5"/>
<rect x="1567.4" y="286.7" width="29.9" height="6.9" fill="#edf8e7"/>
<rect x="1597.0" y="286.7" width="15.1" height="6.9" fill="#c8eac3"/>
<rect x="1611.8" y="286.7" width="15.1" height="6.9" fill="#72c7c7"/>
<rect x="1626.6" y="286.7" width="15.1" height="6.9" fill="#2081b8"/>
<rect x="1182.6" y="293.3" width="15.1" height="6.9" fill="#0862a5"/>
<rect x="1197.4" y="293.3" width="15.1" height="6.9" fill="#2f90c0"/>
<rect x="1212.2" y="293.3" width="15.1" height="6.9" fill="#5fbccd"/>
<rect x="1227.0" y="293.3" width="15.1" height="6.9" fill="#84d0c1"/>
<rect x="1241.8" y="293.3" width="15.1" height="6.9" fill="#97d7bb"/>
<rect x="1256.6" y="293.3" width="15.1" height="6.9" fill="#84d0c1"/>
<rect x="1271.4" y="293.3" width="15.1" height="6.9" fill="#5fbccd"/>
<rect x="1286.2" y="293.3" width="15.1" height="6.9" fill="#2081b8"/>
<rect x="1301.0" y="293.3" width="15.1" height="6.9" fill="#085193"/>
<rect x="1315.8" y="293.3" width="29.9" height="6.9" fill="#084081"/>
<rect x="1345.4" y="293.3" width="15.1" height="6.9" fill="#0862a5"/>
<rect x="1360.2" y="293.3" width="15.1" height="6.9" fill="#3da1c9"/>
<rect x="1375.0" y="293.3" width="15.1" height="6.9" fill="#97d7bb"/>
<rect x="1389.8" y="293.3" width="15.1" height="6.9" fill="#c8eac3"/>
<rect x="1404.6" y="293.3" width="15.1" height="6.9" fill="#d2eecc"/>
<rect x="1419.4" y="293.3" width="15.1" height="6.9" fill="#b9e4bd"/>
<rect x="1434.2" y="293.3" width="15.1" height="6.9" fill="#84d0c1"/>
<rect x="1449.0" y="293.3" width="15.1" height="6.9" fill="#3da1c9"/>
<rect x="1463.8" y="293.3" width="15.1" height="6.9" fill="#0862a5"/>
<rect x="1478.6" y="293.3" width="29.9" height="6.9" fill="#084081"/>
<rect x="1508.2" y="293.3" width="15.1" height="6.9" fill="#1171b1"/>
<rect x="1523.0" y="293.3" width="15.1" height="6.9" fill="#5fbccd"/>
<rect x="1537.8" y="293.3" width="15.1" height="6.9" fill="#b9e4bd"/>
<rect x="1552.6" y="293.3" width="15.1" height="6.9" fill="#e4f4de"/>
<rect x="1567.4" y="293.3" width="15.1" height="6.9" fill="#edf8e7"/>
<rect x="1582.2" y="293.3" width="15.1" height="6.9" fill="#e4f4de"/>
<rect x="1597.0" y="293.3" width="15.1" height="6.9" fill="#aadeb6"/>
<rect x="1611.8" y="293.3" width="15.1" height="6.9" fill="#4cb1d2"/>
<rect x="1626.6" y="293.3" width="15.1" height="6.9" fill="#0862a5"/>
<rect x="1182.6" y="299.9" width="15.1" height="6.9" fill="#1171b1"/>
<rect x="1197.4" y="299.9" width="15.1" height="6.9" fill="#3da1c9"/>
<rect x="1212.2" y="299.9" width="15.1" height="6.9" fill="#72c7c7"/>
<rect x="1227.0" y="299.9" width="29.9" height="6.9" fill="#97d7bb"/>
<rect x="1256.6" y="299.9" width="15.1" height="6.9" fill="#72c7c7"/>
<rect x="1271.4" y="299.9" width="15.1" height="6.9" fill="#4cb1d2"/>
<rect x="1286.2" y="299.9" width="15.1" height="6.9" fill="#1171b1"/>
<rect x="1301.0" y="299.9" width="15.1" height="6.9" fill="#085193"/>
<rect x="1315.8" y="299.9" width="15.1" height="6.9" fill="#084081"/>
<rect x="1330.6" y="299.9" width="15.1" height="6.9" fill="#085193"/>
<rect x="1345.4" y="299.9" width="15.1" height="6.9" fill="#2081b8"/>
<rect x="1360.2" y="299.9" width="15.1" height="6.9" fill="#5fbccd"/>
<rect x="1375.0" y="299.9" width="15.1" height="6.9" fill="#aadeb6"/>
<rect x="1389.8" y="299.9" width="15.1" height="6.9" fill="#c8eac3"/>
<rect x="1404.6" y="299.9" width="15.1" height="6.9" fill="#d2eecc"/>
<rect x="1419.4" y="299.9" width="15.1" height="6.9" fill="#aadeb6"/>
<rect x="1434.2" y="299.9" width="15.1" height="6.9" fill="#72c7c7"/>
<rect x="1449.0" y="299.9" width="15.1" height="6.9" fill="#2081b8"/>
<rect x="1463.8" y="299.9" width="15.1" height="6.9" fill="#085193"/>
<rect x="1478.6" y="299.9" width="15.1" height="6.9" fill="#084081"/>
<rect x="1493.4" y="299.9" width="15.1" height="6.9" fill="#085193"/>
<rect x="1508.2" y="299.9" width="15.1" height="6.9" fill="#2f90c0"/>
<rect x="1523.0" y="299.9" width="15.1" height="6.9" fill="#84d0c1"/>
<rect x="1537.8" y="299.9" width="15.1" height="6.9" fill="#d2eecc"/>
<rect x="1552.6" y="299.9" width="29.9" height="6.9" fill="#edf8e7"/>
<rect x="1582.2" y="299.9" width="15.1" height="6.9" fill="#d2eecc"/>
<rect x="1597.0" y="299.9" width="15.1" height="6.9" fill="#97d7bb"/>
<rect x="1611.8" y="299.9" width="15.1" height="6.9" fill="#2f90c0"/>
<rect x="1626.6" y="299.9" width="15.1" height="6.9" fill="#085193"/>
<rect x="1182.6" y="306.5" width="15.1" height="6.9" fill="#2081b8"/>
<rect x="1197.4" y="306.5" width="15.1" height="6.9" fill="#4cb1d2"/>
<rect x="1212.2" y="306.5" width="15.1" height="6.9" fill="#84d0c1"/>
<rect x="1227.0" y="306.5" width="29.9" height="6.9" fill="#97d7bb"/>
<rect x="1256.6" y="306.5" width="15.1" height="6.9" fill="#5fbccd"/>
<rect x="1271.4" y="306.5" width="15.1" height="6.9" fill="#2f90c0"/>
<rect x="1286.2" y="306.5" width="15.1" height="6.9" fill="#0862a5"/>
<rect x="1301.0" y="306.5" width="29.9" height="6.9" fill="#084081"/>
<rect x="1330.6" y="306.5" width="15.1" height="6.9" fill="#085193"/>
<rect x="1345.4" y="306.5" width="15.1" height="6.9" fill="#2f90c0"/>
<rect x="1360.2" y="306.5" width="15.1" height="6.9" fill="#72c7c7"/>
<rect x="1375.0" y="306.5" width="15.1" height="6.9" fill="#b9e4bd"/>
<rect x="1389.8" y="306.5" width="29.9" height="6.9" fill="#c8eac3"/>
<rect x="1419.4" y="306.5" width="15.1" height="6.9" fill="#97d7bb"/>
<rect x="1434.2" y="306.5" width="15.1" height="6.9" fill="#4cb1d2"/>
<rect x="1449.0" y="306.5" width="15.1" height="6.9" fill="#1171b1"/>
<rect x="1463.8" y="306.5" width="29.9" height="6.9" fill="#084081"/>
<rect x="1493.4" y="306.5" width="15.1" height="6.9" fill="#0862a5"/>
<rect x="1508.2" y="306.5" width="15.1" height="6.9" fill="#3da1c9"/>
<rect x="1523.0" y="306.5" width="15.1" height="6.9" fill="#aadeb6"/>
<rect x="1537.8" y="306.5" width="15.1" height="6.9" fill="#dbf1d5"/>
<rect x="1552.6" y="306.5" width="15.1" height="6.9" fill="#edf8e7"/>
<rect x="1567.4" y="306.5" width="15.1" height="6.9" fill="#e4f4de"/>
<rect x="1582.2" y="306.5" width="15.1" height="6.9" fill="#c8eac3"/>
<rect x="1597.0" y="306.5" width="15.1" height="6.9" fill="#72c7c7"/>
<rect x="1611.8" y="306.5" width="15.1" height="6.9" fill="#2081b8"/>
<rect x="1626.6" y="306.5" width="15.1" height="6.9" fill="#084081"/>
<rect x="1182.6" y="313.1" width="15.1" height="6.9" fill="#2f90c0"/>
<rect x="1197.4" y="313.1" width="15.1" height="6.9" fill="#5fbccd"/>
<rect x="1212.2" y="313.1" width="15.1" height="6.9" fill="#84d0c1"/>
<rect x="1227.0" y="313.1" width="15.1" height="6.9" fill="#97d7bb"/>
<rect x="1241.8" y="313.1" width="15.1" height="6.9" fill="#84d0c1"/>
<rect x="1256.6" y="313.1" width="15.1" height="6.9" fill="#4cb1d2"/>
<rect x="1271.4" y="313.1" width="15.1" height="6.9" fill="#2081b8"/>
<rect x="1286.2" y="313.1" width="15.1" height="6.9" fill="#085193"/>
<rect x="1301.0" y="313.1" width="29.9" height="6.9" fill="#084081"/>
<rect x="1330.6" y="313.1" width="15.1" height="6.9" fill="#1171b1"/>
<rect x="1345.4" y="313.1" width="15.1" height="6.9" fill="#3da1c9"/>
<rect x="1360.2" y="313.1" width="15.1" height="6.9" fill="#84d0c1"/>
<rect x="1375.0" y="313.1" width="15.1" height="6.9" fill="#b9e4bd"/>
<rect x="1389.8" y="313.1" width="15.1" height="6.9" fill="#c8eac3"/>
<rect x="1404.6" y="313.1" width="15.1" height="6.9" fill="#b9e4bd"/>
<rect x="1419.4" y="313.1" width="15.1" height="6.9" fill="#84d0c1"/>
<rect x="1434.2" y="313.1" width="15.1" height="6.9" fill="#2f90c0"/>
<rect x="1449.0" y="313.1" width="15.1" height="6.9" fill="#0862a5"/>
<rect x="1463.8" y="313.1" width="29.9" height="6.9" fill="#084081"/>
<rect x="1493.4" y="313.1" width="15.1" height="6.9" fill="#1171b1"/>
<rect x="1508.2" y="313.1" width="15.1" height="6.9" fill="#5fbccd"/>
<rect x="1523.0" y="313.1" width="15.1" height="6.9" fill="#b9e4bd"/>
<rect x="1537.8" y="313.1" width="15.1" height="6.9" fill="#e4f4de"/>
<rect x="1552.6" y="313.1" width="15.1" height="6.9" fill="#edf8e7"/>
<rect x="1567.4" y="313.1" width="15.1" height="6.9" fill="#dbf1d5"/>
<rect x="1582.2" y="313.1" width="15.1" height="6.9" fill="#aadeb6"/>
<rect x="1597.0" y="313.1" width="15.1" height="6.9" fill="#4cb1d2"/>
<rect x="1611.8" y="313.1" width="15.1" height="6.9" fill="#0862a5"/>
<rect x="1626.6" y="313.1" width="15.1" height="6.9" fill="#084081"/>
<rect x="1182.6" y="319.8" width="15.1" height="6.9" fill="#3da1c9"/>
<rect x="1197.4" y="319.8" width="15.1" height="6.9" fill="#72c7c7"/>
<rect x="1212.2" y="319.8" width="15.1" height="6.9" fill="#84d0c1"/>
<rect x="1227.0" y="319.8" width="15.1" height="6.9" fill="#97d7bb"/>
<rect x="1241.8" y="319.8" width="15.1" height="6.9" fill="#72c7c7"/>
<rect x="1256.6" y="319.8" width="15.1" height="6.9" fill="#3da1c9"/>
<rect x="1271.4" y="319.8" width="15.1" height="6.9" fill="#1171b1"/>
<rect x="1286.2" y="319.8" width="29.9" height="6.9" fill="#084081"/>
<rect x="1315.8" y="319.8" width="15.1" height="6.9" fill="#085193"/>
<rect x="1330.6" y="319.8" width="15.1" height="6.9" fill="#2081b8"/>
<rect x="1345.4" y="319.8" width="15.1" height="6.9" fill="#5fbccd"/>
<rect x="1360.2" y="319.8" width="15.1" height="6.9" fill="#aadeb6"/>
<rect x="1375.0" y="319.8" width="29.9" height="6.9" fill="#c8eac3"/>
<rect x="1404.6" y="319.8" width="15.1" height="6.9" fill="#aadeb6"/>
<rect x="1419.4" y="319.8" width="15.1" height="6.9" fill="#5fbccd"/>
<rect x="1434.2" y="319.8" width="15.1" height="6.9" fill="#2081b8"/>
<rect x="1449.0" y="319.8" width="15.1" height="6.9" fill="#085193"/>
<rect x="1463.8" y="319.8" width="15.1" height="6.9" fill="#084081"/>
<rect x="1478.6" y="319.8" width="15.1" height="6.9" fill="#085193"/>
<rect x="1493.4" y="319.8" width="15.1" height="6.9" fill="#2f90c0"/>
<rect x="1508.2" y="319.8" width="15.1" height="6.9" fill="#84d0c1"/>
<rect x="1523.0" y="319.8" width="15.1" height="6.9" fill="#d2eecc"/>
<rect x="1537.8" y="319.8" width="15.1" height="6.9" fill="#e4f4de"/>
<rect x="1552.6" y="319.8" width="15.1" height="6.9" fill="#edf8e7"/>
<rect x="1567.4" y="319.8" width="15.1" height="6.9" fill="#d2eecc"/>
<rect x="1582.2" y="319.8" width="15.1" height="6.9" fill="#84d0c1"/>
<rect x="1597.0" y="319.8" width="15.1" height="6.9" fill="#2f90c0"/>
<rect x="1611.8" y="319.8" width="15.1" height="6.9" fill="#085193"/>
<rect x="1626.6" y="319.8" width="15.1" height="6.9" fill="#084081"/>
<rect x="1182.6" y="326.4" width="15.1" height="6.9" fill="#4cb1d2"/>
<rect x="1197.4" y="326.4" width="15.1" height="6.9" fill="#72c7c7"/>
<rect x="1212.2" y="326.4" width="15.1" height="6.9" fill="#97d7bb"/>
<rect x="1227.0" y="326.4" width="15.1" height="6.9" fill="#84d0c1"/>
<rect x="1241.8" y="326.4" width="15.1" height="6.9" fill="#5fbccd"/>
<rect x="1256.6" y="326.4" width="15.1" height="6.9" fill="#2f90c0"/>
<rect x="1271.4" y="326.4" width="15.1" height="6.9" fill="#0862a5"/>
<rect x="1286.2" y="326.4" width="29.9" height="6.9" fill="#084081"/>
<rect x="1315.8" y="326.4" width="15.1" height="6.9" fill="#0862a5"/>
<rect x="1330.6" y="326.4" width="15.1" height="6.9" fill="#2f90c0"/>
<rect x="1345.4" y="326.4" width="15.1" height="6.9" fill="#72c7c7"/>
<rect x="1360.2" y="326.4" width="15.1" height="6.9" fill="#aadeb6"/>
<rect x="1375.0" y="326.4" width="29.9" height="6.9" fill="#c8eac3"/>
<rect x="1404.6" y="326.4" width="15.1" height="6.9" fill="#97d7bb"/>
<rect x="1419.4" y="326.4" width="15.1" height="6.9" fill="#4cb1d2"/>
<rect x="1434.2" y="326.4" width="15.1" height="6.9" fill="#1171b1"/>
<rect x="1449.0" y="326.4" width="29.9" height="6.9" fill="#084081"/>
<rect x="1478.6" y="326.4" width="15.1" height="6.9" fill="#0862a5"/>
<rect x="1493.4" y="326.4" width="15.1" height="6.9" fill="#3da1c9"/>
<rect x="1508.2" y="326.4" width="15.1" height="6.9" fill="#97d7bb"/>
<rect x="1523.0" y="326.4" width="15.1" height="6.9" fill="#dbf1d5"/>
<rect x="1537.8" y="326.4" width="15.1" height="6.9" fill="#edf8e7"/>
<rect x="1552.6" y="326.4" width="15.1" height="6.9" fill="#e4f4de"/>
<rect x="1567.4" y="326.4" width="15.1" height="6.9" fill="#b9e4bd"/>
<rect x="1582.2" y="326.4" width="15.1" height="6.9" fill="#5fbccd"/>
<rect x="1597.0" y="326.4" width="15.1" height="6.9" fill="#1171b1"/>
<rect x="1611.8" y="326.4" width="29.9" height="6.9" fill="#084081"/>
<rect x="1182.6" y="333.0" width="15.1" height="6.9" fill="#5fbccd"/>
<rect x="1197.4" y="333.0" width="15.1" height="6.9" fill="#84d0c1"/>
<rect x="1212.2" y="333.0" width="15.1" height="6.9" fill="#97d7bb"/>
<rect x="1227.0" y="333.0" width="15.1" height="6.9" fill="#84d0c1"/>
<rect x="1241.8" y="333.0" width="15.1" height="6.9" fill="#4cb1d2"/>
<rect x="1256.6" y="333.0" width="15.1" height="6.9" fill="#2081b8"/>
<rect x="1271.4" y="333.0" width="15.1" height="6.9" fill="#085193"/>
<rect x="1286.2" y="333.0" width="29.9" height="6.9" fill="#084081"/>
<rect x="1315.8" y="333.0" width="15.1" height="6.9" fill="#1171b1"/>
<rect x="1330.6" y="333.0" width="15.1" height="6.9" fill="#3da1c9"/>
<rect x="1345.4" y="333.0" width="15.1" height="6.9" fill="#84d0c1"/>
<rect x="1360.2" y="333.0" width="15.1" height="6.9" fill="#b9e4bd"/>
<rect x="1375.0" y="333.0" width="15.1" height="6.9" fill="#c8eac3"/>
<rect x="1389.8" y="333.0" width="15.1" height="6.9" fill="#b9e4bd"/>
<rect x="1404.6" y="333.0" width="15.1" height="6.9" fill="#72c7c7"/>
<rect x="1419.4" y="333.0" width="15.1" height="6.9" fill="#2f90c0"/>
<rect x="1434.2" y="333.0" width="15.1" height="6.9" fill="#085193"/>
<rect x="1449.0" y="333.0" width="29.9" height="6.9" fill="#084081"/>
<rect x="1478.6" y="333.0" width="15.1" height="6.9" fill="#1171b1"/>
<rect x="1493.4" y="333.0" width="15.1" height="6.9" fill="#5fbccd"/>
<rect x="1508.2" y="333.0" width="15.1" height="6.9" fill="#b9e4bd"/>
<rect x="1523.0" y="333.0" width="15.1" height="6.9" fill="#e4f4de"/>
<rect x="1537.8" y="333.0" width="15.1" height="6.9" fill="#edf8e7"/>
<rect x="1552.6" y="333.0" width="15.1" height="6.9" fill="#dbf1d5"/>
<rect x="1567.4" y="333.0" width="15.1" height="6.9" fill="#aadeb6"/>
<rect x="1582.2" y="333.0" width="15.1" height="6.9" fill="#3da1c9"/>
<rect x="1597.0" y="333.0" width="15.1" height="6.9" fill="#0862a5"/>
<rect x="1611.8" y="333.0" width="29.9" height="6.9" fill="#084081"/>
<rect x="1182.6" y="339.6" width="15.1" height="6.9" fill="#5fbccd"/>
<rect x="1197.4" y="339.6" width="29.9" height="6.9" fill="#84d0c1"/>
<rect x="1227.0" y="339.6" width="15.1" height="6.9" fill="#72c7c7"/>
<rect x="1241.8" y="339.6" width="15.1" height="6.9" fill="#3da1c9"/>
<rect x="1256.6" y="339.6" width="15.1" height="6.9" fill="#1171b1"/>
<rect x="1271.4" y="339.6" width="29.9" height="6.9" fill="#084081"/>
<rect x="1301.0" y="339.6" width="15.1" height="6.9" fill="#085193"/>
<rect x="1315.8" y="339.6" width="15.1" height="6.9" fill="#2081b8"/>
<rect x="1330.6" y="339.6" width="15.1" height="6.9" fill="#5fbccd"/>
<rect x="1345.4" y="339.6" width="15.1" height="6.9" fill="#97d7bb"/>
<rect x="1360.2" y="339.6" width="29.9" height="6.9" fill="#c8eac3"/>
<rect x="1389.8" y="339.6" width="15.1" height="6.9" fill="#aadeb6"/>
<rect x="1404.6" y="339.6" width="15.1" height="6.9" fill="#5fbccd"/>
<rect x="1419.4" y="339.6" width="15.1" height="6.9" fill="#2081b8"/>
<rect x="1434.2" y="339.6" width="15.1" height="6.9" fill="#085193"/>
<rect x="1449.0" y="339.6" width="15.1" height="6.9" fill="#084081"/>
<rect x="1463.8" y="339.6" width="15.1" height="6.9" fill="#085193"/>
<rect x="1478.6" y="339.6" width="15.1" height="6.9" fill="#2f90c0"/>
<rect x="1493.4" y="339.6" width="15.1" height="6.9" fill="#84d0c1"/>
<rect x="1508.2" y="339.6" width="15.1" height="6.9" fill="#c8eac3"/>
<rect x="1523.0" y="339.6" width="29.9" height="6.9" fill="#e4f4de"/>
<rect x="1552.6" y="339.6" width="15.1" height="6.9" fill="#d2eecc"/>
<rect x="1567.4" y="339.6" width="15.1" height="6.9" fill="#84d0c1"/>
<rect x="1582.2" y="339.6" width="15.1" height="6.9" fill="#2f90c0"/>
<rect x="1597.0" y="339.6" width="15.1" height="6.9" fill="#085193"/>
<rect x="1611.8" y="339.6" width="15.1" height="6.9" fill="#084081"/>
<rect x="1626.6" y="339.6" width="15.1" height="6.9" fill="#085193"/>
<rect x="1182.6" y="346.2" width="15.1" height="6.9" fill="#72c7c7"/>
<rect x="1197.4" y="346.2" width="29.9" height="6.9" fill="#84d0c1"/>
<rect x="1227.0" y="346.2" width="15.1" height="6.9" fill="#5fbccd"/>
<rect x="1241.8" y="346.2" width="15.1" height="6.9" fill="#2f90c0"/>
<rect x="1256.6" y="346.2" width="15.1" height="6.9" fill="#0862a5"/>
<rect x="1271.4" y="346.2" width="29.9" height="6.9" fill="#084081"/>
<rect x="1301.0" y="346.2" width="15.1" height="6.9" fill="#0862a5"/>
<rect x="1315.8" y="346.2" width="15.1" height="6.9" fill="#2f90c0"/>
<rect x="1330.6" y="346.2" width="15.1" height="6.9" fill="#72c7c7"/>
<rect x="1345.4" y="346.2" width="15.1" height="6.9" fill="#aadeb6"/>
<rect x="1360.2" y="346.2" width="15.1" height="6.9" fill="#c8eac3"/>
<rect x="1375.0" y="346.2" width="15.1" height="6.9" fill="#b9e4bd"/>
<rect x="1389.8" y="346.2" width="15.1" height="6.9" fill="#84d0c1"/>
<rect x="1404.6" y="346.2" width="15.1" height="6.9" fill="#3da1c9"/>
<rect x="1419.4" y="346.2" width="15.1" height="6.9" fill="#0862a5"/>
<rect x="1434.2" y="346.2" width="29.9" height="6.9" fill="#084081"/>
<rect x="1463.8" y="346.2" width="15.1" height="6.9" fill="#0862a5"/>
<rect x="1478.6" y="346.2" width="15.1" height="6.9" fill="#3da1c9"/>
<rect x="1493.4" y="346.2" width="15.1" height="6.9" fill="#97d7bb"/>
<rect x="1508.2" y="346.2" width="15.1" height="6.9" fill="#d2eecc"/>
<rect x="1523.0" y="346.2" width="15.1" height="6.9" fill="#e4f4de"/>
<rect x="1537.8" y="346.2" width="15.1" height="6.9" fill="#dbf1d5"/>
<rect x="1552.6" y="346.2" width="15.1" height="6.9" fill="#b9e4bd"/>
<rect x="1567.4" y="346.2" width="15.1" height="6.9" fill="#5fbccd"/>
<rect x="1582.2" y="346.2" width="15.1" height="6.9" fill="#1171b1"/>
<rect x="1597.0" y="346.2" width="29.9" height="6.9" fill="#084081"/>
<rect x="1626.6" y="346.2" width="15.1" height="6.9" fill="#1171b1"/>
<rect x="1182.6" y="352.8" width="29.9" height="6.9" fill="#84d0c1"/>
<rect x="1212.2" y="352.8" width="15.1" height="6.9" fill="#72c7c7"/>
<rect x="1227.0" y="352.8" width="15.1" height="6.9" fill="#4cb1d2"/>
<rect x="1241.8" y="352.8" width="15.1" height="6.9" fill="#2081b8"/>
<rect x="1256.6" y="352.8" width="15.1" height="6.9" fill="#085193"/>
<rect x="1271.4" y="352.8" width="29.9" height="6.9" fill="#084081"/>
<rect x="1301.0" y="352.8" width="15.1" height="6.9" fill="#1171b1"/>
<rect x="1315.8" y="352.8" width="15.1" height="6.9" fill="#3da1c9"/>
<rect x="1330.6" y="352.8" width="15.1" height="6.9" fill="#84d0c1"/>
<rect x="1345.4" y="352.8" width="15.1" height="6.9" fill="#b9e4bd"/>
<rect x="1360.2" y="352.8" width="15.1" height="6.9" fill="#c8eac3"/>
<rect x="1375.0" y="352.8" width="15.1" height="6.9" fill="#aadeb6"/>
<rect x="1389.8" y="352.8" width="15.1" height="6.9" fill="#72c7c7"/>
<rect x="1404.6" y="352.8" width="15.1" height="6.9" fill="#2f90c0"/>
<rect x="1419.4" y="352.8" width="15.1" height="6.9" fill="#085193"/>
<rect x="1434.2" y="352.8" width="29.9" height="6.9" fill="#084081"/>
<rect x="1463.8" y="352.8" width="15.1" height="6.9" fill="#1171b1"/>
<rect x="1478.6" y="352.8" width="15.1" height="6.9" fill="#5fbccd"/>
<rect x="1493.4" y="352.8" width="15.1" height="6.9" fill="#b9e4bd"/>
<rect x="1508.2" y="352.8" width="15.1" height="6.9" fill="#dbf1d5"/>
<rect x="1523.0" y="352.8" width="15.1" height="6.9" fill="#e4f4de"/>
<rect x="1537.8" y="352.8" width="15.1" height="6.9" fill="#d2eecc"/>
<rect x="1552.6" y="352.8" width="15.1" height="6.9" fill="#97d7bb"/>
<rect x="1567.4" y="352.8" width="15.1" height="6.9" fill="#3da1c9"/>
<rect x="1582.2" y="352.8" width="15.1" height="6.9" fill="#0862a5"/>
<rect x="1597.0" y="352.8" width="29.9" height="6.9" fill="#084081"/>
<rect x="1626.6" y="352.8" width="15.1" height="6.9" fill="#2081b8"/>
<rect x="1182.6" y="359.4" width="29.9" height="6.9" fill="#84d0c1"/>
<rect x="1212.2" y="359.4" width="15.1" height="6.9" fill="#5fbccd"/>
<rect x="1227.0" y="359.4" width="15.1" height="6.9" fill="#3da1c9"/>
<rect x="1241.8" y="359.4" width="15.1" height="6.9" fill="#1171b1"/>
<rect x="1256.6" y="359.4" width="29.9" height="6.9" fill="#084081"/>
<rect x="1286.2" y="359.4" width="15.1" height="6.9" fill="#085193"/>
<rect x="1301.0" y="359.4" width="15.1" height="6.9" fill="#2081b8"/>
<rect x="1315.8" y="359.4" width="15.1" height="6.9" fill="#5fbccd"/>
<rect x="1330.6" y="359.4" width="15.1" height="6.9" fill="#97d7bb"/>
<rect x="1345.4" y="359.4" width="29.9" height="6.9" fill="#b9e4bd"/>
<rect x="1375.0" y="359.4" width="15.1" height="6.9" fill="#97d7bb"/>
<rect x="1389.8" y="359.4" width="15.1" height="6.9" fill="#5fbccd"/>
<rect x="1404.6" y="359.4" width="15.1" height="6.9" fill="#2081b8"/>
<rect x="1419.4" y="359.4" width="29.9" height="6.9" fill="#084081"/>
<rect x="1449.0" y="359.4" width="15.1" height="6.9" fill="#085193"/>
<rect x="1463.8" y="359.4" width="15.1" height="6.9" fill="#2f90c0"/>
<rect x="1478.6" y="359.4" width="15.1" height="6.9" fill="#84d0c1"/>
<rect x="1493.4" y="359.4" width="15.1" height="6.9" fill="#c8eac3"/>
<rect x="1508.2" y="359.4" width="29.9" height="6.9" fill="#e4f4de"/>
<rect x="1537.8" y="359.4" width="15.1" height="6.9" fill="#c8eac3"/>
<rect x="1552.6" y="359.4" width="15.1" height="6.9" fill="#84d0c1"/>
<rect x="1567.4" y="359.4" width="15.1" height="6.9" fill="#2081b8"/>
<rect x="1582.2" y="359.4" width="15.1" height="6.9" fill="#085193"/>
<rect x="1597.0" y="359.4" width="15.1" height="6.9" fill="#084081"/>
<rect x="1611.8" y="359.4" width="15.1" height="6.9" fill="#085193"/>
<rect x="1626.6" y="359.4" width="15.1" height="6.9" fill="#3da1c9"/>
<rect x="1182.6" y="366.0" width="29.9" height="6.9" fill="#84d0c1"/>
<rect x="1212.2" y="366.0" width="15.1" height="6.9" fill="#5fbccd"/>
<rect x="1227.0" y="366.0" width="15.1" height="6.9" fill="#2f90c0"/>
<rect x="1241.8" y="366.0" width="15.1" height="6.9" fill="#0862a5"/>
<rect x="1256.6" y="366.0" width="29.9" height="6.9" fill="#084081"/>
<rect x="1286.2" y="366.0" width="15.1" height="6.9" fill="#0862a5"/>
<rect x="1301.0" y="366.0" width="15.1" height="6.9" fill="#2f90c0"/>
<rect x="1315.8" y="366.0" width="15.1" height="6.9" fill="#72c7c7"/>
<rect x="1330.6" y="366.0" width="15.1" height="6.9" fill="#aadeb6"/>
<rect x="1345.4" y="366.0" width="15.1" height="6.9" fill="#c8eac3"/>
<rect x="1360.2" y="366.0" width="15.1" height="6.9" fill="#b9e4bd"/>
<rect x="1375.0" y="366.0" width="15.1" height="6.9" fill="#84d0c1"/>
<rect x="1389.8" y="366.0" width="15.1" height="6.9" fill="#3da1c9"/>
<rect x="1404.6" y="366.0" width="15.1" height="6.9" fill="#0862a5"/>
<rect x="1419.4" y="366.0" width="29.9" height="6.9" fill="#084081"/>
<rect x="1449.0" y="366.0" width="15.1" height="6.9" fill="#0862a5"/>
<rect x="1463.8" y="366.0" width="15.1" height="6.9" fill="#3da1c9"/>
<rect x="1478.6" y="366.0" width="15.1" height="6.9" fill="#97d7bb"/>
<rect x="1493.4" y="366.0" width="15.1" height="6.9" fill="#d2eecc"/>
<rect x="1508.2" y="366.0" width="15.1" height="6.9" fill="#e4f4de"/>
<rect x="1523.0" y="366.0" width="15.1" height="6.9" fill="#dbf1d5"/>
<rect x="1537.8" y="366.0" width="15.1" height="6.9" fill="#b9e4bd"/>
<rect x="1552.6" y="366.0" width="15.1" height="6.9" fill="#5fbccd"/>
<rect x="1567.4" y="366.0" width="15.1" height="6.9" fill="#1171b1"/>
<rect x="1582.2" y="366.0" width="29.9" height="6.9" fill="#084081"/>
<rect x="1611.8" y="366.0" width="15.1" height="6.9" fill="#1171b1"/>
<rect x="1626.6" y="366.0" width="15.1" height="6.9" fill="#5fbccd"/>
<rect x="1182.6" y="372.6" width="15.1" height="6.9" fill="#84d0c1"/>
<rect x="1197.4" y="372.6" width="15.1" height="6.9" fill="#72c7c7"/>
<rect x="1212.2" y="372.6" width="15.1" height="6.9" fill="#3da1c9"/>
<rect x="1227.0" y="372.6" width="15.1" height="6.9" fill="#1171b1"/>
<rect x="1241.8" y="372.6" width="15.1" height="6.9" fill="#085193"/>
<rect x="1256.6" y="372.6" width="29.9" height="6.9" fill="#084081"/>
<rect x="1286.2" y="372.6" width="15.1" height="6.9" fill="#1171b1"/>
<rect x="1301.0" y="372.6" width="15.1" height="6.9" fill="#3da1c9"/>
<rect x="1315.8" y="372.6" width="15.1" height="6.9" fill="#84d0c1"/>
<rect x="1330.6" y="372.6" width="29.9" height="6.9" fill="#b9e4bd"/>
<rect x="1360.2" y="372.6" width="15.1" height="6.9" fill="#aadeb6"/>
<rect x="1375.0" y="372.6" width="15.1" height="6.9" fill="#72c7c7"/>
<rect x="1389.8" y="372.6" width="15.1" height="6.9" fill="#2f90c0"/>
<rect x="1404.6" y="372.6" width="15.1" height="6.9" fill="#085193"/>
<rect x="1419.4" y="372.6" width="29.9" height="6.9" fill="#084081"/>
<rect x="1449.0" y="372.6" width="15.1" height="6.9" fill="#1171b1"/>
<rect x="1463.8" y="372.6" width="15.1" height="6.9" fill="#5fbccd"/>
<rect x="1478.6" y="372.6" width="15.1" height="6.9" fill="#b9e4bd"/>
<rect x="1493.4" y="372.6" width="15.1" height="6.9" fill="#dbf1d5"/>
<rect x="1508.2" y="372.6" width="15.1" height="6.9" fill="#e4f4de"/>
<rect x="1523.0" y="372.6" width="15.1" height="6.9" fill="#d2eecc"/>
<rect x="1537.8" y="372.6" width="15.1" height="6.9" fill="#97d7bb"/>
<rect x="1552.6" y="372.6" width="15.1" height="6.9" fill="#3da1c9"/>
<rect x="1567.4" y="372.6" width="15.1" height="6.9" fill="#0862a5"/>
<rect x="1582.2" y="372.6" width="15.1" height="6.9" fill="#084081"/>
<rect x="1597.0" y="372.6" width="15.1" height="6.9" fill="#085193"/>
<rect x="1611.8" y="372.6" width="15.1" height="6.9" fill="#2081b8"/>
<rect x="1626.6" y="372.6" width="15.1" height="6.9" fill="#84d0c1"/>
<rect x="1182.6" y="379.2" width="15.1" height="6.9" fill="#84d0c1"/>
<rect x="1197.4" y="379.2" width="15.1" height="6.9" fill="#5fbccd"/>
<rect x="1212.2" y="379.2" width="15.1" height="6.9" fill="#2f90c0"/>
<rect x="1227.0" y="379.2" width="15.1" height="6.9" fill="#0862a5"/>
<rect x="1241.8" y="379.2" width="29.9" height="6.9" fill="#084081"/>
<rect x="1271.4" y="379.2" width="15.1" height="6.9" fill="#085193"/>
<rect x="1286.2" y="379.2" width="15.1" height="6.9" fill="#2081b8"/>
<rect x="1301.0" y="379.2" width="15.1" height="6.9" fill="#4cb1d2"/>
<rect x="1315.8" y="379.2" width="15.1" height="6.9" fill="#97d7bb"/>
<rect x="1330.6" y="379.2" width="29.9" height="6.9" fill="#b9e4bd"/>
<rect x="1360.2" y="379.2" width="15.1" height="6.9" fill="#97d7bb"/>
<rect x="1375.0" y="379.2" width="15.1" height="6.9" fill="#4cb1d2"/>
<rect x="1389.8" y="379.2" width="15.1" height="6.9" fill="#1171b1"/>
<rect x="1404.6" y="379.2" width="29.9" height="6.9" fill="#084081"/>
<rect x="1434.2" y="379.2" width="15.1" height="6.9" fill="#085193"/>
<rect x="1449.0" y="379.2" width="15.1" height="6.9" fill="#2f90c0"/>
<rect x="1463.8" y="379.2" width="15.1" height="6.9" fill="#84d0c1"/>
<rect x="1478.6" y="379.2" width="15.1" height="6.9" fill="#c8eac3"/>
<rect x="1493.4" y="379.2" width="29.9" height="6.9" fill="#e4f4de"/>
<rect x="1523.0" y="379.2" width="15.1" height="6.9" fill="#c8eac3"/>
<rect x="1537.8" y="379.2" width="15.1" height="6.9" fill="#72c7c7"/>
<rect x="1552.6" y="379.2" width="15.1" height="6.9" fill="#2081b8"/>
<rect x="1567.4" y="379.2" width="15.1" height="6.9" fill="#085193"/>
<rect x="1582.2" y="379.2" width="15.1" height="6.9" fill="#084081"/>
<rect x="1597.0" y="379.2" width="15.1" height="6.9" fill="#0862a5"/>
<rect x="1611.8" y="379.2" width="15.1" height="6.9" fill="#3da1c9"/>
<rect x="1626.6" y="379.2" width="15.1" height="6.9" fill="#aadeb6"/>
<rect x="1182.6" y="385.8" width="15.1" height="6.9" fill="#72c7c7"/>
<rect x="1197.4" y="385.8" width="15.1" height="6.9" fill="#4cb1d2"/>
<rect x="1212.2" y="385.8" width="15.1" height="6.9" fill="#2081b8"/>
<rect x="1227.0" y="385.8" width="15.1" height="6.9" fill="#0862a5"/>
<rect x="1241.8" y="385.8" width="29.9" height="6.9" fill="#084081"/>
<rect x="1271.4" y="385.8" width="15.1" height="6.9" fill="#0862a5"/>
<rect x="1286.2" y="385.8" width="15.1" height="6.9" fill="#2f90c0"/>
<rect x="1301.0" y="385.8" width="15.1" height="6.9" fill="#72c7c7"/>
<rect x="1315.8" y="385.8" width="15.1" height="6.9" fill="#aadeb6"/>
<rect x="1330.6" y="385.8" width="15.1" height="6.9" fill="#b9e4bd"/>
<rect x="1345.4" y="385.8" width="15.1" height="6.9" fill="#aadeb6"/>
<rect x="1360.2" y="385.8" width="15.1" height="6.9" fill="#84d0c1"/>
<rect x="1375.0" y="385.8" width="15.1" height="6.9" fill="#3da1c9"/>
<rect x="1389.8" y="385.8" width="15.1" height="6.9" fill="#0862a5"/>
<rect x="1404.6" y="385.8" width="29.9" height="6.9" fill="#084081"/>
<rect x="1434.2" y="385.8" width="15.1" height="6.9" fill="#0862a5"/>
<rect x="1449.0" y="385.8" width="15.1" height="6.9" fill="#3da1c9"/>
<rect x="1463.8" y="385.8" width="15.1" height="6.9" fill="#97d7bb"/>
<rect x="1478.6" y="385.8" width="15.1" height="6.9" fill="#d2eecc"/>
<rect x="1493.4" y="385.8" width="15.1" height="6.9" fill="#e4f4de"/>
<rect x="1508.2" y="385.8" width="15.1" height="6.9" fill="#dbf1d5"/>
<rect x="1523.0" y="385.8" width="15.1" height="6.9" fill="#aadeb6"/>
<rect x="1537.8" y="385.8" width="15.1" height="6.9" fill="#4cb1d2"/>
<rect x="1552.6" y="385.8" width="15.1" height="6.9" fill="#1171b1"/>
<rect x="1567.4" y="385.8" width="29.9" height="6.9" fill="#084081"/>
<rect x="1597.0" y="385.8" width="15.1" height="6.9" fill="#1171b1"/>
<rect x="1611.8" y="385.8" width="15.1" height="6.9" fill="#5fbccd"/>
<rect x="1626.6" y="385.8" width="15.1" height="6.9" fill="#c8eac3"/>
<rect x="1182.6" y="392.4" width="15.1" height="6.9" fill="#72c7c7"/>
<rect x="1197.4" y="392.4" width="15.1" height="6.9" fill="#3da1c9"/>
<rect x="1212.2" y="392.4" width="15.1" height="6.9" fill="#1171b1"/>
<rect x="1227.0" y="392.4" width="15.1" height="6.9" fill="#085193"/>
<rect x="1241.8" y="392.4" width="29.9" height="6.9" fill="#084081"/>
<rect x="1271.4" y="392.4" width="15.1" height="6.9" fill="#1171b1"/>
<rect x="1286.2" y="392.4" width="15.1" height="6.9" fill="#3da1c9"/>
<rect x="1301.0" y="392.4" width="15.1" height="6.9" fill="#84d0c1"/>
<rect x="1315.8" y="392.4" width="15.1" height="6.9" fill="#aadeb6"/>
<rect x="1330.6" y="392.4" width="15.1" height="6.9" fill="#b9e4bd"/>
<rect x="1345.4" y="392.4" width="15.1" height="6.9" fill="#aadeb6"/>
<rect x="1360.2" y="392.4" width="15.1" height="6.9" fill="#5fbccd"/>
<rect x="1375.0" y="392.4" width="15.1" height="6.9" fill="#2081b8"/>
<rect x="1389.8" y="392.4" width="15.1" height="6.9" fill="#085193"/>
<rect x="1404.6" y="392.4" width="29.9" height="6.9" fill="#084081"/>
<rect x="1434.2" y="392.4" width="15.1" height="6.9" fill="#1171b1"/>
<rect x="1449.0" y="392.4" width="15.1" height="6.9" fill="#5fbccd"/>
<rect x="1463.8" y="392.4" width="15.1" height="6.9" fill="#b9e4bd"/>
<rect x="1478.6" y="392.4" width="15.1" height="6.9" fill="#dbf1d5"/>
<rect x="1493.4" y="392.4" width="15.1" height="6.9" fill="#e4f4de"/>
<rect x="1508.2" y="392.4" width="15.1" height="6.9" fill="#d2eecc"/>
<rect x="1523.0" y="392.4" width="15.1" height="6.9" fill="#97d7bb"/>
<rect x="1537.8" y="392.4" width="15.1" height="6.9" fill="#3da1c9"/>
<rect x="1552.6" y="392.4" width="15.1" height="6.9" fill="#085193"/>
<rect x="1567.4" y="392.4" width="15.1" height="6.9" fill="#084081"/>
<rect x="1582.2" y="392.4" width="15.1" height="6.9" fill="#085193"/>
<rect x="1597.0" y="392.4" width="15.1" height="6.9" fill="#2081b8"/>
<rect x="1611.8" y="392.4" width="15.1" height="6.9" fill="#84d0c1"/>
<rect x="1626.6" y="392.4" width="15.1" height="6.9" fill="#d2eecc"/>
<rect x="1182.6" y="399.0" width="15.1" height="6.9" fill="#5fbccd"/>
<rect x="1197.4" y="399.0" width="15.1" height="6.9" fill="#2f90c0"/>
<rect x="1212.2" y="399.0" width="15.1" height="6.9" fill="#0862a5"/>
<rect x="1227.0" y="399.0" width="29.9" height="6.9" fill="#084081"/>
<rect x="1256.6" y="399.0" width="15.1" height="6.9" fill="#085193"/>
<rect x="1271.4" y="399.0" width="15.1" height="6.9" fill="#2081b8"/>
<rect x="1286.2" y="399.0" width="15.1" height="6.9" fill="#4cb1d2"/>
<rect x="1301.0" y="399.0" width="15.1" height="6.9" fill="#97d7bb"/>
<rect x="1315.8" y="399.0" width="29.9" height="6.9" fill="#b9e4bd"/>
<rect x="1345.4" y="399.0" width="15.1" height="6.9" fill="#97d7bb"/>
<rect x="1360.2" y="399.0" width="15.1" height="6.9" fill="#4cb1d2"/>
<rect x="1375.0" y="399.0" width="15.1" height="6.9" fill="#1171b1"/>
<rect x="1389.8" y="399.0" width="29.9" height="6.9" fill="#084081"/>
<rect x="1419.4" y="399.0" width="15.1" height="6.9" fill="#085193"/>
<rect x="1434.2" y="399.0" width="15.1" height="6.9" fill="#2f90c0"/>
<rect x="1449.0" y="399.0" width="15.1" height="6.9" fill="#84d0c1"/>
<rect x="1463.8" y="399.0" width="15.1" height="6.9" fill="#c8eac3"/>
<rect x="1478.6" y="399.0" width="29.9" height="6.9" fill="#dbf1d5"/>
<rect x="1508.2" y="399.0" width="15.1" height="6.9" fill="#b9e4bd"/>
<rect x="1523.0" y="399.0" width="15.1" height="6.9" fill="#72c7c7"/>
<rect x="1537.8" y="399.0" width="15.1" height="6.9" fill="#2081b8"/>
<rect x="1552.6" y="399.0" width="15.1" height="6.9" fill="#085193"/>
<rect x="1567.4" y="399.0" width="15.1" height="6.9" fill="#084081"/>
<rect x="1582.2" y="399.0" width="15.1" height="6.9" fill="#0862a5"/>
<rect x="1597.0" y="399.0" width="15.1" height="6.9" fill="#3da1c9"/>
<rect x="1611.8" y="399.0" width="15.1" height="6.9" fill="#aadeb6"/>
<rect x="1626.6" y="399.0" width="15.1" height="6.9" fill="#e4f4de"/>
<rect x="1182.6" y="405.6" width="15.1" height="6.9" fill="#4cb1d2"/>
<rect x="1197.4" y="405.6" width="15.1" height="6.9" fill="#2081b8"/>
<rect x="1212.2" y="405.6" width="15.1" height="6.9" fill="#085193"/>
<rect x="1227.0" y="405.6" width="29.9" height="6.9" fill="#084081"/>
<rect x="1256.6" y="405.6" width="15.1" height="6.9" fill="#0862a5"/>
<rect x="1271.4" y="405.6" width="15.1" height="6.9" fill="#2f90c0"/>
<rect x="1286.2" y="405.6" width="15.1" height="6.9" fill="#72c7c7"/>
<rect x="1301.0" y="405.6" width="15.1" height="6.9" fill="#aadeb6"/>
<rect x="1315.8" y="405.6" width="15.1" height="6.9" fill="#b9e4bd"/>
<rect x="1330.6" y="405.6" width="15.1" height="6.9" fill="#aadeb6"/>
<rect x="1345.4" y="405.6" width="15.1" height="6.9" fill="#72c7c7"/>
<rect x="1360.2" y="405.6" width="15.1" height="6.9" fill="#3da1c9"/>
<rect x="1375.0" y="405.6" width="15.1" height="6.9" fill="#0862a5"/>
<rect x="1389.8" y="405.6" width="29.9" height="6.9" fill="#084081"/>
<rect x="1419.4" y="405.6" width="15.1" height="6.9" fill="#0862a5"/>
<rect x="1434.2" y="405.6" width="15.1" height="6.9" fill="#3da1c9"/>
<rect x="1449.0" y="405.6" width="15.1" height="6.9" fill="#97d7bb"/>
<rect x="1463.8" y="405.6" width="15.1" height="6.9" fill="#d2eecc"/>
<rect x="1478.6" y="405.6" width="15.1" height="6.9" fill="#dbf1d5"/>
<rect x="1493.4" y="405.6" width="15.1" height="6.9" fill="#d2eecc"/>
<rect x="1508.2" y="405.6" width="15.1" height="6.9" fill="#aadeb6"/>
<rect x="1523.0" y="405.6" width="15.1" height="6.9" fill="#4cb1d2"/>
<rect x="1537.8" y="405.6" width="15.1" height="6.9" fill="#1171b1"/>
<rect x="1552.6" y="405.6" width="29.9" height="6.9" fill="#084081"/>
<rect x="1582.2" y="405.6" width="15.1" height="6.9" fill="#1171b1"/>
<rect x="1597.0" y="405.6" width="15.1" height="6.9" fill="#5fbccd"/>
<rect x="1611.8" y="405.6" width="15.1" height="6.9" fill="#c8eac3"/>
<rect x="1626.6" y="405.6" width="15.1" height="6.9" fill="#edf8e7"/>
<rect x="1182.6" y="412.2" width="15.1" height="6.9" fill="#3da1c9"/>
<rect x="1197.4" y="412.2" width="15.1" height="6.9" fill="#1171b1"/>
<rect x="1212.2" y="412.2" width="15.1" height="6.9" fill="#085193"/>
<rect x="1227.0" y="412.2" width="29.9" height="6.9" fill="#084081"/>
<rect x="1256.6" y="412.2" width="15.1" height="6.9" fill="#1171b1"/>
<rect x="1271.4" y="412.2" width="15.1" height="6.9" fill="#3da1c9"/>
<rect x="1286.2" y="412.2" width="15.1" height="6.9" fill="#84d0c1"/>
<rect x="1301.0" y="412.2" width="15.1" height="6.9" fill="#aadeb6"/>
<rect x="1315.8" y="412.2" width="15.1" height="6.9" fill="#b9e4bd"/>
<rect x="1330.6" y="412.2" width="15.1" height="6.9" fill="#97d7bb"/>
<rect x="1345.4" y="412.2" width="15.1" height="6.9" fill="#5fbccd"/>
<rect x="1360.2" y="412.2" width="15.1" height="6.9" fill="#2081b8"/>
<rect x="1375.0" y="412.2" width="15.1" height="6.9" fill="#085193"/>
<rect x="1389.8" y="412.2" width="29.9" height="6.9" fill="#084081"/>
<rect x="1419.4" y="412.2" width="15.1" height="6.9" fill="#2081b8"/>
<rect x="1434.2" y="412.2" width="15.1" height="6.9" fill="#5fbccd"/>
<rect x="1449.0" y="412.2" width="15.1" height="6.9" fill="#aadeb6"/>
<rect x="1463.8" y="412.2" width="29.9" height="6.9" fill="#dbf1d5"/>
<rect x="1493.4" y="412.2" width="15.1" height="6.9" fill="#c8eac3"/>
<rect x="1508.2" y="412.2" width="15.1" height="6.9" fill="#84d0c1"/>
<rect x="1523.0" y="412.2" width="15.1" height="6.9" fill="#2f90c0"/>
<rect x="1537.8" y="412.2" width="15.1" height="6.9" fill="#085193"/>
<rect x="1552.6" y="412.2" width="15.1" height="6.9" fill="#084081"/>
<rect x="1567.4" y="412.2" width="15.1" height="6.9" fill="#085193"/>
<rect x="1582.2" y="412.2" width="15.1" height="6.9" fill="#2081b8"/>
<rect x="1597.0" y="412.2" width="15.1" height="6.9" fill="#84d0c1"/>
<rect x="1611.8" y="412.2" width="15.1" height="6.9" fill="#d2eecc"/>
<rect x="1626.6" y="412.2" width="15.1" height="6.9" fill="#f7fcf0"/>
<rect x="1182.6" y="418.8" width="15.1" height="6.9" fill="#2f90c0"/>
<rect x="1197.4" y="418.8" width="15.1" height="6.9" fill="#0862a5"/>
<rect x="1212.2" y="418.8" width="29.9" height="6.9" fill="#084081"/>
<rect x="1241.8" y="418.8" width="15.1" height="6.9" fill="#085193"/>
<rect x="1256.6" y="418.8" width="15.1" height="6.9" fill="#2081b8"/>
<rect x="1271.4" y="418.8" width="15.1" height="6.9" fill="#4cb1d2"/>
<rect x="1286.2" y="418.8" width="15.1" height="6.9" fill="#97d7bb"/>
<rect x="1301.0" y="418.8" width="29.9" height="6.9" fill="#aadeb6"/>
<rect x="1330.6" y="418.8" width="15.1" height="6.9" fill="#84d0c1"/>
<rect x="1345.4" y="418.8" width="15.1" height="6.9" fill="#4cb1d2"/>
<rect x="1360.2" y="418.8" width="15.1" height="6.9" fill="#1171b1"/>
<rect x="1375.0" y="418.8" width="29.9" height="6.9" fill="#084081"/>
<rect x="1404.6" y="418.8" width="15.1" height="6.9" fill="#085193"/>
<rect x="1419.4" y="418.8" width="15.1" height="6.9" fill="#2f90c0"/>
<rect x="1434.2" y="418.8" width="15.1" height="6.9" fill="#84d0c1"/>
<rect x="1449.0" y="418.8" width="15.1" height="6.9" fill="#c8eac3"/>
<rect x="1463.8" y="418.8" width="29.9" height="6.9" fill="#dbf1d5"/>
<rect x="1493.4" y="418.8" width="15.1" height="6.9" fill="#b9e4bd"/>
<rect x="1508.2" y="418.8" width="15.1" height="6.9" fill="#72c7c7"/>
<rect x="1523.0" y="418.8" width="15.1" height="6.9" fill="#2081b8"/>
<rect x="1537.8" y="418.8" width="29.9" height="6.9" fill="#084081"/>
<rect x="1567.4" y="418.8" width="15.1" height="6.9" fill="#0862a5"/>
<rect x="1582.2" y="418.8" width="15.1" height="6.9" fill="#3da1c9"/>
<rect x="1597.0" y="418.8" width="15.1" height="6.9" fill="#aadeb6"/>
<rect x="1611.8" y="418.8" width="15.1" height="6.9" fill="#e4f4de"/>
<rect x="1626.6" y="418.8" width="15.1" height="6.9" fill="#f7fcf0"/>
<rect x="1182.6" y="425.4" width="15.1" height="6.9" fill="#2081b8"/>
<rect x="1197.4" y="425.4" width="15.1" height="6.9" fill="#085193"/>
<rect x="1212.2" y="425.4" width="29.9" height="6.9" fill="#084081"/>
<rect x="1241.8" y="425.4" width="15.1" height="6.9" fill="#0862a5"/>
<rect x="1256.6" y="425.4" width="15.1" height="6.9" fill="#2f90c0"/>
<rect x="1271.4" y="425.4" width="15.1" height="6.9" fill="#5fbccd"/>
<rect x="1286.2" y="425.4" width="15.1" height="6.9" fill="#97d7bb"/>
<rect x="1301.0" y="425.4" width="15.1" height="6.9" fill="#b9e4bd"/>
<rect x="1315.8" y="425.4" width="15.1" height="6.9" fill="#aadeb6"/>
<rect x="1330.6" y="425.4" width="15.1" height="6.9" fill="#72c7c7"/>
<rect x="1345.4" y="425.4" width="15.1" height="6.9" fill="#2f90c0"/>
<rect x="1360.2" y="425.4" width="15.1" height="6.9" fill="#0862a5"/>
<rect x="1375.0" y="425.4" width="29.9" height="6.9" fill="#084081"/>
<rect x="1404.6" y="425.4" width="15.1" height="6.9" fill="#0862a5"/>
<rect x="1419.4" y="425.4" width="15.1" height="6.9" fill="#3da1c9"/>
<rect x="1434.2" y="425.4" width="15.1" height="6.9" fill="#97d7bb"/>
<rect x="1449.0" y="425.4" width="15.1" height="6.9" fill="#d2eecc"/>
<rect x="1463.8" y="425.4" width="15.1" height="6.9" fill="#dbf1d5"/>
<rect x="1478.6" y="425.4" width="15.1" height="6.9" fill="#d2eecc"/>
<rect x="1493.4" y="425.4" width="15.1" height="6.9" fill="#97d7bb"/>
<rect x="1508.2" y="425.4" width="15.1" height="6.9" fill="#4cb1d2"/>
<rect x="1523.0" y="425.4" width="15.1" height="6.9" fill="#0862a5"/>
<rect x="1537.8" y="425.4" width="29.9" height="6.9" fill="#084081"/>
<rect x="1567.4" y="425.4" width="15.1" height="6.9" fill="#1171b1"/>
<rect x="1582.2" y="425.4" width="15.1" height="6.9" fill="#5fbccd"/>
<rect x="1597.0" y="425.4" width="15.1" height="6.9" fill="#c8eac3"/>
<rect x="1611.8" y="425.4" width="15.1" height="6.9" fill="#edf8e7"/>
<rect x="1626.6" y="425.4" width="15.1" height="6.9" fill="#f7fcf0"/>
<rect x="1182.6" y="432.1" width="15.1" height="6.9" fill="#1171b1"/>
<rect x="1197.4" y="432.1" width="15.1" height="6.9" fill="#085193"/>
<rect x="1212.2" y="432.1" width="29.9" height="6.9" fill="#084081"/>
<rect x="1241.8" y="432.1" width="15.1" height="6.9" fill="#1171b1"/>
<rect x="1256.6" y="432.1" width="15.1" height="6.9" fill="#3da1c9"/>
<rect x="1271.4" y="432.1" width="15.1" height="6.9" fill="#72c7c7"/>
<rect x="1286.2" y="432.1" width="29.9" height="6.9" fill="#aadeb6"/>
<rect x="1315.8" y="432.1" width="15.1" height="6.9" fill="#97d7bb"/>
<rect x="1330.6" y="432.1" width="15.1" height="6.9" fill="#5fbccd"/>
<rect x="1345.4" y="432.1" width="15.1" height="6.9" fill="#2081b8"/>
<rect x="1360.2" y="432.1" width="15.1" height="6.9" fill="#085193"/>
<rect x="1375.0" y="432.1" width="29.9" height="6.9" fill="#084081"/>
<rect x="1404.6" y="432.1" width="15.1" height="6.9" fill="#2081b8"/>
<rect x="1419.4" y="432.1" width="15.1" height="6.9" fill="#5fbccd"/>
<rect x="1434.2" y="432.1" width="15.1" height="6.9" fill="#aadeb6"/>
<rect x="1449.0" y="432.1" width="15.1" height="6.9" fill="#d2eecc"/>
<rect x="1463.8" y="432.1" width="15.1" height="6.9" fill="#dbf1d5"/>
<rect x="1478.6" y="432.1" width="15.1" height="6.9" fill="#c8eac3"/>
<rect x="1493.4" y="432.1" width="15.1" height="6.9" fill="#84d0c1"/>
<rect x="1508.2" y="432.1" width="15.1" height="6.9" fill="#2f90c0"/>
<rect x="1523.0" y="432.1" width="15.1" height="6.9" fill="#085193"/>
<rect x="1537.8" y="432.1" width="15.1" height="6.9" fill="#084081"/>
<rect x="1552.6" y="432.1" width="15.1" height="6.9" fill="#085193"/>
<rect x="1567.4" y="432.1" width="15.1" height="6.9" fill="#2f90c0"/>
<rect x="1582.2" y="432.1" width="15.1" height="6.9" fill="#84d0c1"/>
<rect x="1597.0" y="432.1" width="15.1" height="6.9" fill="#d2eecc"/>
<rect x="1611.8" y="432.1" width="29.9" height="6.9" fill="#f7fcf0"/>
<rect x="1182.6" y="438.7" width="15.1" height="6.9" fill="#0862a5"/>
<rect x="1197.4" y="438.7" width="29.9" height="6.9" fill="#084081"/>
<rect x="1227.0" y="438.7" width="15.1" height="6.9" fill="#085193"/>
<rect x="1241.8" y="438.7" width="15.1" height="6.9" fill="#2081b8"/>
<rect x="1256.6" y="438.7" width="15.1" height="6.9" fill="#4cb1d2"/>
<rect x="1271.4" y="438.7" width="15.1" height="6.9" fill="#84d0c1"/>
<rect x="1286.2" y="438.7" width="29.9" height="6.9" fill="#aadeb6"/>
<rect x="1315.8" y="438.7" width="15.1" height="6.9" fill="#84d0c1"/>
<rect x="1330.6" y="438.7" width="15.1" height="6.9" fill="#3da1c9"/>
<rect x="1345.4" y="438.7" width="15.1" height="6.9" fill="#1171b1"/>
<rect x="1360.2" y="438.7" width="29.9" height="6.9" fill="#084081"/>
<rect x="1389.8" y="438.7" width="15.1" height="6.9" fill="#085193"/>
<rect x="1404.6" y="438.7" width="15.1" height="6.9" fill="#2f90c0"/>
<rect x="1419.4" y="438.7" width="15.1" height="6.9" fill="#72c7c7"/>
<rect x="1434.2" y="438.7" width="15.1" height="6.9" fill="#b9e4bd"/>
<rect x="1449.0" y="438.7" width="15.1" height="6.9" fill="#dbf1d5"/>
<rect x="1463.8" y="438.7" width="15.1" height="6.9" fill="#d2eecc"/>
<rect x="1478.6" y="438.7" width="15.1" height="6.9" fill="#b9e4bd"/>
<rect x="1493.4" y="438.7" width="15.1" height="6.9" fill="#5fbccd"/>
<rect x="1508.2" y="438.7" width="15.1" height="6.9" fill="#2081b8"/>
<rect x="1523.0" y="438.7" width="29.9" height="6.9" fill="#084081"/>
<rect x="1552.6" y="438.7" width="15.1" height="6.9" fill="#0862a5"/>
<rect x="1567.4" y="438.7" width="15.1" height="6.9" fill="#3da1c9"/>
<rect x="1582.2" y="438.7" width="15.1" height="6.9" fill="#aadeb6"/>
<rect x="1597.0" y="438.7" width="15.1" height="6.9" fill="#e4f4de"/>
<rect x="1611.8" y="438.7" width="29.9" height="6.9" fill="#f7fcf0"/>
<rect x="1182.6" y="445.3" width="15.1" height="6.9" fill="#085193"/>
<rect x="1197.4" y="445.3" width="29.9" height="6.9" fill="#084081"/>
<rect x="1227.0" y="445.3" width="15.1" height="6.9" fill="#0862a5"/>
<rect x="1241.8" y="445.3" width="15.1" height="6.9" fill="#2f90c0"/>
<rect x="1256.6" y="445.3" width="15.1" height="6.9" fill="#5fbccd"/>
<rect x="1271.4" y="445.3" width="15.1" height="6.9" fill="#97d7bb"/>
<rect x="1286.2" y="445.3" width="15.1" height="6.9" fill="#aadeb6"/>
<rect x="1301.0" y="445.3" width="15.1" height="6.9" fill="#97d7bb"/>
<rect x="1315.8" y="445.3" width="15.1" height="6.9" fill="#72c7c7"/>
<rect x="1330.6" y="445.3" width="15.1" height="6.9" fill="#2f90c0"/>
<rect x="1345.4" y="445.3" width="15.1" height="6.9" fill="#0862a5"/>
<rect x="1360.2" y="445.3" width="29.9" height="6.9" fill="#084081"/>
<rect x="1389.8" y="445.3" width="15.1" height="6.9" fill="#0862a5"/>
<rect x="1404.6" y="445.3" width="15.1" height="6.9" fill="#3da1c9"/>
<rect x="1419.4" y="445.3" width="15.1" height="6.9" fill="#97d7bb"/>
<rect x="1434.2" y="445.3" width="15.1" height="6.9" fill="#c8eac3"/>
<rect x="1449.0" y="445.3" width="15.1" height="6.9" fill="#dbf1d5"/>
<rect x="1463.8" y="445.3" width="15.1" height="6.9" fill="#d2eecc"/>
<rect x="1478.6" y="445.3" width="15.1" height="6.9" fill="#97d7bb"/>
<rect x="1493.4" y="445.3" width="15.1" height="6.9" fill="#4cb1d2"/>
<rect x="1508.2" y="445.3" width="15.1" height="6.9" fill="#0862a5"/>
<rect x="1523.0" y="445.3" width="29.9" height="6.9" fill="#084081"/>
<rect x="1552.6" y="445.3" width="15.1" height="6.9" fill="#1171b1"/>
<rect x="1567.4" y="445.3" width="15.1" height="6.9" fill="#5fbccd"/>
<rect x="1582.2" y="445.3" width="15.1" height="6.9" fill="#b9e4bd"/>
<rect x="1597.0" y="445.3" width="15.1" height="6.9" fill="#edf8e7"/>
<rect x="1611.8" y="445.3" width="15.1" height="6.9" fill="#f7fcf0"/>
<rect x="1626.6" y="445.3" width="15.1" height="6.9" fill="#edf8e7"/>
<rect x="1182.6" y="451.9" width="44.7" height="6.9" fill="#084081"/>
<rect x="1227.0" y="451.9" width="15.1" height="6.9" fill="#1171b1"/>
<rect x="1241.8" y="451.9" width="15.1" height="6.9" fill="#3da1c9"/>
<rect x="1256.6" y="451.9" width="15.1" height="6.9" fill="#72c7c7"/>
<rect x="1271.4" y="451.9" width="29.9" height="6.9" fill="#aadeb6"/>
<rect x="1301.0" y="451.9" width="15.1" height="6.9" fill="#97d7bb"/>
<rect x="1315.8" y="451.9" width="15.1" height="6.9" fill="#4cb1d2"/>
<rect x="1330.6" y="451.9" width="15.1" height="6.9" fill="#2081b8"/>
<rect x="1345.4" y="451.9" width="15.1" height="6.9" fill="#085193"/>
<rect x="1360.2" y="451.9" width="15.1" height="6.9" fill="#084081"/>
<rect x="1375.0" y="451.9" width="15.1" height="6.9" fill="#085193"/>
<rect x="1389.8" y="451.9" width="15.1" height="6.9" fill="#2081b8"/>
<rect x="1404.6" y="451.9" width="15.1" height="6.9" fill="#5fbccd"/>
<rect x="1419.4" y="451.9" width="15.1" height="6.9" fill="#aadeb6"/>
<rect x="1434.2" y="451.9" width="15.1" height="6.9" fill="#d2eecc"/>
<rect x="1449.0" y="451.9" width="15.1" height="6.9" fill="#dbf1d5"/>
<rect x="1463.8" y="451.9" width="15.1" height="6.9" fill="#c8eac3"/>
<rect x="1478.6" y="451.9" width="15.1" height="6.9" fill="#84d0c1"/>
<rect x="1493.4" y="451.9" width="15.1" height="6.9" fill="#2f90c0"/>
<rect x="1508.2" y="451.9" width="15.1" height="6.9" fill="#085193"/>
<rect x="1523.0" y="451.9" width="15.1" height="6.9" fill="#084081"/>
<rect x="1537.8" y="451.9" width="15.1" height="6.9" fill="#085193"/>
<rect x="1552.6" y="451.9" width="15.1" height="6.9" fill="#2f90c0"/>
<rect x="1567.4" y="451.9" width="15.1" height="6.9" fill="#84d0c1"/>
<rect x="1582.2" y="451.9" width="15.1" height="6.9" fill="#d2eecc"/>
<rect x="1597.0" y="451.9" width="29.9" height="6.9" fill="#f7fcf0"/>
<rect x="1626.6" y="451.9" width="15.1" height="6.9" fill="#e4f4de"/>
<rect x="1182.6" y="458.5" width="29.9" height="6.9" fill="#084081"/>
<rect x="1212.2" y="458.5" width="15.1" height="6.9" fill="#085193"/>
<rect x="1227.0" y="458.5" width="15.1" height="6.9" fill="#2081b8"/>
<rect x="1241.8" y="458.5" width="15.1" height="6.9" fill="#4cb1d2"/>
<rect x="1256.6" y="458.5" width="15.1" height="6.9" fill="#84d0c1"/>
<rect x="1271.4" y="458.5" width="29.9" height="6.9" fill="#aadeb6"/>
<rect x="1301.0" y="458.5" width="15.1" height="6.9" fill="#84d0c1"/>
<rect x="1315.8" y="458.5" width="15.1" height="6.9" fill="#3da1c9"/>
<rect x="1330.6" y="458.5" width="15.1" height="6.9" fill="#1171b1"/>
<rect x="1345.4" y="458.5" width="29.9" height="6.9" fill="#084081"/>
<rect x="1375.0" y="458.5" width="15.1" height="6.9" fill="#085193"/>
<rect x="1389.8" y="458.5" width="15.1" height="6.9" fill="#2f90c0"/>
<rect x="1404.6" y="458.5" width="15.1" height="6.9" fill="#72c7c7"/>
<rect x="1419.4" y="458.5" width="15.1" height="6.9" fill="#b9e4bd"/>
<rect x="1434.2" y="458.5" width="29.9" height="6.9" fill="#d2eecc"/>
<rect x="1463.8" y="458.5" width="15.1" height="6.9" fill="#aadeb6"/>
<rect x="1478.6" y="458.5" width="15.1" height="6.9" fill="#5fbccd"/>
<rect x="1493.4" y="458.5" width="15.1" height="6.9" fill="#1171b1"/>
<rect x="1508.2" y="458.5" width="29.9" height="6.9" fill="#084081"/>
<rect x="1537.8" y="458.5" width="15.1" height="6.9" fill="#0862a5"/>
<rect x="1552.6" y="458.5" width="15.1" height="6.9" fill="#3da1c9"/>
<rect x="1567.4" y="458.5" width="15.1" height="6.9" fill="#aadeb6"/>
<rect x="1582.2" y="458.5" width="15.1" height="6.9" fill="#dbf1d5"/>
<rect x="1597.0" y="458.5" width="15.1" height="6.9" fill="#f7fcf0"/>
<rect x="1611.8" y="458.5" width="15.1" height="6.9" fill="#edf8e7"/>
<rect x="1626.6" y="458.5" width="15.1" height="6.9" fill="#d2eecc"/>
<rect x="1182.6" y="465.1" width="29.9" height="6.9" fill="#084081"/>
<rect x="1212.2" y="465.1" width="15.1" height="6.9" fill="#0862a5"/>
<rect x="1227.0" y="465.1" width="15.1" height="6.9" fill="#2f90c0"/>
<rect x="1241.8" y="465.1" width="15.1" height="6.9" fill="#5fbccd"/>
<rect x="1256.6" y="465.1" width="15.1" height="6.9" fill="#97d7bb"/>
<rect x="1271.4" y="465.1" width="15.1" height="6.9" fill="#aadeb6"/>
<rect x="1286.2" y="465.1" width="15.1" height="6.9" fill="#97d7bb"/>
<rect x="1301.0" y="465.1" width="15.1" height="6.9" fill="#5fbccd"/>
<rect x="1315.8" y="465.1" width="15.1" height="6.9" fill="#2f90c0"/>
<rect x="1330.6" y="465.1" width="15.1" height="6.9" fill="#0862a5"/>
<rect x="1345.4" y="465.1" width="29.9" height="6.9" fill="#084081"/>
<rect x="1375.0" y="465.1" width="15.1" height="6.9" fill="#0862a5"/>
<rect x="1389.8" y="465.1" width="15.1" height="6.9" fill="#3da1c9"/>
<rect x="1404.6" y="465.1" width="15.1" height="6.9" fill="#97d7bb"/>
<rect x="1419.4" y="465.1" width="15.1" height="6.9" fill="#c8eac3"/>
<rect x="1434.2" y="465.1" width="15.1" height="6.9" fill="#d2eecc"/>
<rect x="1449.0" y="465.1" width="15.1" height="6.9" fill="#c8eac3"/>
<rect x="1463.8" y="465.1" width="15.1" height="6.9" fill="#97d7bb"/>
<rect x="1478.6" y="465.1" width="15.1" height="6.9" fill="#3da1c9"/>
<rect x="1493.4" y="465.1" width="15.1" height="6.9" fill="#0862a5"/>
<rect x="1508.2" y="465.1" width="29.9" height="6.9" fill="#084081"/>
<rect x="1537.8" y="465.1" width="15.1" height="6.9" fill="#1171b1"/>
<rect x="1552.6" y="465.1" width="15.1" height="6.9" fill="#5fbccd"/>
<rect x="1567.4" y="465.1" width="15.1" height="6.9" fill="#b9e4bd"/>
<rect x="1582.2" y="465.1" width="15.1" height="6.9" fill="#e4f4de"/>
<rect x="1597.0" y="465.1" width="15.1" height="6.9" fill="#f7fcf0"/>
<rect x="1611.8" y="465.1" width="15.1" height="6.9" fill="#e4f4de"/>
<rect x="1626.6" y="465.1" width="15.1" height="6.9" fill="#b9e4bd"/>
<rect x="1182.6" y="471.7" width="29.9" height="6.9" fill="#084081"/>
<rect x="1212.2" y="471.7" width="15.1" height="6.9" fill="#1171b1"/>
<rect x="1227.0" y="471.7" width="15.1" height="6.9" fill="#3da1c9"/>
<rect x="1241.8" y="471.7" width="15.1" height="6.9" fill="#72c7c7"/>
<rect x="1256.6" y="471.7" width="15.1" height="6.9" fill="#97d7bb"/>
<rect x="1271.4" y="471.7" width="15.1" height="6.9" fill="#aadeb6"/>
<rect x="1286.2" y="471.7" width="15.1" height="6.9" fill="#84d0c1"/>
<rect x="1301.0" y="471.7" width="15.1" height="6.9" fill="#4cb1d2"/>
<rect x="1315.8" y="471.7" width="15.1" height="6.9" fill="#2081b8"/>
<rect x="1330.6" y="471.7" width="15.1" height="6.9" fill="#085193"/>
<rect x="1345.4" y="471.7" width="15.1" height="6.9" fill="#084081"/>
<rect x="1360.2" y="471.7" width="15.1" height="6.9" fill="#085193"/>
<rect x="1375.0" y="471.7" width="15.1" height="6.9" fill="#2081b8"/>
<rect x="1389.8" y="471.7" width="15.1" height="6.9" fill="#5fbccd"/>
<rect x="1404.6" y="471.7" width="15.1" height="6.9" fill="#aadeb6"/>
<rect x="1419.4" y="471.7" width="29.9" height="6.9" fill="#d2eecc"/>
<rect x="1449.0" y="471.7" width="15.1" height="6.9" fill="#b9e4bd"/>
<rect x="1463.8" y="471.7" width="15.1" height="6.9" fill="#72c7c7"/>
<rect x="1478.6" y="471.7" width="15.1" height="6.9" fill="#2f90c0"/>
<rect x="1493.4" y="471.7" width="15.1" height="6.9" fill="#085193"/>
<rect x="1508.2" y="471.7" width="15.1" height="6.9" fill="#084081"/>
<rect x="1523.0" y="471.7" width="15.1" height="6.9" fill="#085193"/>
<rect x="1537.8" y="471.7" width="15.1" height="6.9" fill="#2f90c0"/>
<rect x="1552.6" y="471.7" width="15.1" height="6.9" fill="#84d0c1"/>
<rect x="1567.4" y="471.7" width="15.1" height="6.9" fill="#d2eecc"/>
<rect x="1582.2" y="471.7" width="15.1" height="6.9" fill="#edf8e7"/>
<rect x="1597.0" y="471.7" width="15.1" height="6.9" fill="#f7fcf0"/>
<rect x="1611.8" y="471.7" width="15.1" height="6.9" fill="#dbf1d5"/>
<rect x="1626.6" y="471.7" width="15.1" height="6.9" fill="#97d7bb"/>
</g>
<line x1="1190.0" y1="55.5" x2="1190.0" y2="478.3" stroke="#262626" stroke-opacity="0.17" stroke-width="2"/>
<line x1="1190.0" y1="478.3" x2="1190.0" y2="473.3" stroke="#262626" stroke-width="1.4"/>
<line x1="1190.0" y1="55.5" x2="1190.0" y2="60.5" stroke="#262626" stroke-width="1.4"/>
<line x1="1338.0" y1="55.5" x2="1338.0" y2="478.3" stroke="#262626" stroke-opacity="0.17" stroke-width="2"/>
<line x1="1338.0" y1="478.3" x2="1338.0" y2="473.3" stroke="#262626" stroke-width="1.4"/>
<line x1="1338.0" y1="55.5" x2="1338.0" y2="60.5" stroke="#262626" stroke-width="1.4"/>
<line x1="1486.0" y1="55.5" x2="1486.0" y2="478.3" stroke="#262626" stroke-opacity="0.17" stroke-width="2"/>
<line x1="1486.0" y1="478.3" x2="1486.0" y2="473.3" stroke="#262626" stroke-width="1.4"/>
<line x1="1486.0" y1="55.5" x2="1486.0" y2="60.5" stroke="#262626" stroke-width="1.4"/>
<line x1="1634.0" y1="55.5" x2="1634.0" y2="478.3" stroke="#262626" stroke-opacity="0.17" stroke-width="2"/>
<line x1="1634.0" y1="478.3" x2="1634.0" y2="473.3" stroke="#262626" stroke-width="1.4"/>
<line x1="1634.0" y1="55.5" x2="1634.0" y2="60.5" stroke="#262626" stroke-width="1.4"/>
<line x1="1182.6" y1="135.3" x2="1641.4" y2="135.3" stroke="#262626" stroke-opacity="0.17" stroke-width="2"/>
<line x1="1182.6" y1="135.3" x2="1187.6" y2="135.3" stroke="#262626" stroke-width="1.4"/>
<line x1="1641.4" y1="135.3" x2="1636.4" y2="135.3" stroke="#262626" stroke-width="1.4"/>
<line x1="1182.6" y1="269.5" x2="1641.4" y2="269.5" stroke="#262626" stroke-opacity="0.17" stroke-width="2"/>
<line x1="1182.6" y1="269.5" x2="1187.6" y2="269.5" stroke="#262626" stroke-width="1.4"/>
<line x1="1641.4" y1="269.5" x2="1636.4" y2="269.5" stroke="#262626" stroke-width="1.4"/>
<line x1="1182.6" y1="403.7" x2="1641.4" y2="403.7" stroke="#262626" stroke-opacity="0.17" stroke-width="2"/>
<line x1="1182.6" y1="403.7" x2="1187.6" y2="403.7" stroke="#262626" stroke-width="1.4"/>
<line x1="1641.4" y1="403.7" x2="1636.4" y2="403.7" stroke="#262626" stroke-width="1.4"/>
<line x1="1182.6" y1="477.1" x2="1641.4" y2="477.1" stroke="#fff" stroke-width="1.2"/>
<rect x="1182.6" y="55.5" width="458.8" height="422.8" fill="none" stroke="#262626" stroke-width="1.7"/>
<text x="1410.4" y="40.4" text-anchor="middle" font-size="33.7" font-weight="bold" fill="#000">CRESL</text>
<text transform="translate(85.9,319.5) rotate(-90)" font-size="33.5" fill="#262626"><tspan font-weight="200" font-style="oblique" font-size="32" dy="-3" stroke="#262626" stroke-width="0.4" font-family="'DejaVu Sans ExtraLight','DejaVu Sans Light','DejaVu Sans',sans-serif">φ</tspan><tspan dy="3"> </tspan><tspan x="26.6" textLength="15.68" lengthAdjust="spacingAndGlyphs">(</tspan><tspan x="41.3">rad</tspan><tspan x="94.9" textLength="15.68" lengthAdjust="spacingAndGlyphs">)</tspan></text>
<text transform="translate(52.9,748) rotate(-90)" font-size="34" fill="#262626">M/M<tspan font-size="29" dy="15.3" dx="2">0</tspan></text>
<g shape-rendering="crispEdges">
<rect x="1689.6" y="458.0" width="26.8" height="21.4" fill="#f7fcf0"/>
<rect x="1689.6" y="436.8" width="26.8" height="21.4" fill="#edf8e7"/>
<rect x="1689.6" y="415.7" width="26.8" height="21.4" fill="#e4f4de"/>
<rect x="1689.6" y="394.5" width="26.8" height="21.4" fill="#dbf1d5"/>
<rect x="1689.6" y="373.4" width="26.8" height="21.4" fill="#d2eecc"/>
<rect x="1689.6" y="352.3" width="26.8" height="21.4" fill="#c8eac3"/>
<rect x="1689.6" y="331.1" width="26.8" height="21.4" fill="#b9e4bd"/>
<rect x="1689.6" y="310.0" width="26.8" height="21.4" fill="#aadeb6"/>
<rect x="1689.6" y="288.8" width="26.8" height="21.4" fill="#97d7bb"/>
<rect x="1689.6" y="267.7" width="26.8" height="21.4" fill="#84d0c1"/>
<rect x="1689.6" y="246.6" width="26.8" height="21.4" fill="#72c7c7"/>
<rect x="1689.6" y="225.4" width="26.8" height="21.4" fill="#5fbccd"/>
<rect x="1689.6" y="204.3" width="26.8" height="21.4" fill="#4cb1d2"/>
<rect x="1689.6" y="183.1" width="26.8" height="21.4" fill="#3da1c9"/>
<rect x="1689.6" y="162.0" width="26.8" height="21.4" fill="#2f90c0"/>
<rect x="1689.6" y="140.9" width="26.8" height="21.4" fill="#2081b8"/>
<rect x="1689.6" y="119.7" width="26.8" height="21.4" fill="#1171b1"/>
<rect x="1689.6" y="98.6" width="26.8" height="21.4" fill="#0862a5"/>
<rect x="1689.6" y="77.4" width="26.8" height="21.4" fill="#085193"/>
<rect x="1689.6" y="55.5" width="26.8" height="21.4" fill="#084081"/>
</g>
<rect x="1689.6" y="55.5" width="26.8" height="422.8" fill="none" stroke="#262626" stroke-width="1.1"/>
<text x="1728" y="66.3" font-size="28.7" fill="#262626">1</text>
<line x1="1716.4" y1="141.8" x2="1712.4" y2="141.8" stroke="#262626" stroke-width="1.2"/>
<text x="1728" y="152.6" font-size="28.7" fill="#262626">0.9</text>
<line x1="1716.4" y1="228.0" x2="1712.4" y2="228.0" stroke="#262626" stroke-width="1.2"/>
<text x="1728" y="238.8" font-size="28.7" fill="#262626">0.8</text>
<line x1="1716.4" y1="314.3" x2="1712.4" y2="314.3" stroke="#262626" stroke-width="1.2"/>
<text x="1728" y="325.1" font-size="28.7" fill="#262626">0.7</text>
<line x1="1716.4" y1="400.5" x2="1712.4" y2="400.5" stroke="#262626" stroke-width="1.2"/>
<text x="1728" y="411.3" font-size="28.7" fill="#262626">0.6</text>
<text x="1662.4" y="24.9" font-size="34" fill="#000">M/M<tspan font-size="24.5" dy="6.8" x="1731.5">0</tspan></text>
<!-- plot b 0 -->
<line x1="295.5" y1="490.4" x2="295.5" y2="912.9" stroke="#e0e0e0" stroke-width="2"/>
<line x1="447.3" y1="490.4" x2="447.3" y2="912.9" stroke="#e0e0e0" stroke-width="2"/>
<line x1="143.6" y1="833.7" x2="599.2" y2="833.7" stroke="#dfdfdf" stroke-width="2.2"/>
<line x1="143.6" y1="728.1" x2="599.2" y2="728.1" stroke="#dfdfdf" stroke-width="2.2"/>
<line x1="143.6" y1="622.4" x2="599.2" y2="622.4" stroke="#dfdfdf" stroke-width="3.0"/>
<line x1="143.6" y1="516.8" x2="599.2" y2="516.8" stroke="#dfdfdf" stroke-width="1.5"/>
<line x1="143.6" y1="912.9" x2="143.6" y2="907.9" stroke="#262626" stroke-width="1.4"/>
<line x1="143.6" y1="490.4" x2="143.6" y2="495.4" stroke="#262626" stroke-width="1.4"/>
<text x="143.6" y="953" text-anchor="middle" font-size="31" fill="#262626">70</text>
<line x1="295.5" y1="912.9" x2="295.5" y2="907.9" stroke="#262626" stroke-width="1.4"/>
<line x1="295.5" y1="490.4" x2="295.5" y2="495.4" stroke="#262626" stroke-width="1.4"/>
<text x="295.5" y="953" text-anchor="middle" font-size="31" fill="#262626">80</text>
<line x1="447.3" y1="912.9" x2="447.3" y2="907.9" stroke="#262626" stroke-width="1.4"/>
<line x1="447.3" y1="490.4" x2="447.3" y2="495.4" stroke="#262626" stroke-width="1.4"/>
<text x="447.3" y="953" text-anchor="middle" font-size="31" fill="#262626">90</text>
<line x1="599.2" y1="912.9" x2="599.2" y2="907.9" stroke="#262626" stroke-width="1.4"/>
<line x1="599.2" y1="490.4" x2="599.2" y2="495.4" stroke="#262626" stroke-width="1.4"/>
<text x="597.8" y="953" text-anchor="middle" font-size="31" fill="#262626">100</text>
<line x1="143.6" y1="833.7" x2="148.6" y2="833.7" stroke="#262626" stroke-width="1.4"/>
<line x1="599.2" y1="833.7" x2="594.2" y2="833.7" stroke="#262626" stroke-width="1.4"/>
<text x="132.0" y="845.0" text-anchor="end" font-size="31" fill="#262626">0.6</text>
<line x1="143.6" y1="728.1" x2="148.6" y2="728.1" stroke="#262626" stroke-width="1.4"/>
<line x1="599.2" y1="728.1" x2="594.2" y2="728.1" stroke="#262626" stroke-width="1.4"/>
<text x="132.0" y="739.4" text-anchor="end" font-size="31" fill="#262626">0.8</text>
<line x1="143.6" y1="622.4" x2="148.6" y2="622.4" stroke="#262626" stroke-width="1.4"/>
<line x1="599.2" y1="622.4" x2="594.2" y2="622.4" stroke="#262626" stroke-width="1.4"/>
<text x="132.6" y="633.7" text-anchor="end" font-size="31" fill="#262626">1</text>
<line x1="143.6" y1="516.8" x2="148.6" y2="516.8" stroke="#262626" stroke-width="1.4"/>
<line x1="599.2" y1="516.8" x2="594.2" y2="516.8" stroke="#262626" stroke-width="1.4"/>
<text x="131.1" y="528.1" text-anchor="end" font-size="31" fill="#262626">1.2</text>
<rect x="143.6" y="490.4" width="455.6" height="422.5" fill="none" stroke="#262626" stroke-width="1.7"/>
<text y="996.0" font-size="32.8" fill="#262626"><tspan x="306.3">T</tspan><tspan x="324.6" dy="4" font-size="25">SL</tspan><tspan dy="-4"> </tspan><tspan x="359.8" textLength="15.99" lengthAdjust="spacingAndGlyphs">(</tspan><tspan x="375.3">ms</tspan><tspan x="423.5" textLength="15.99" lengthAdjust="spacingAndGlyphs">)</tspan></text>
<polyline points="143.6,751.7 219.5,771.6 295.5,791.4 360.8,808.3 377.5,814.1 447.3,833.7 523.3,855.9 599.2,878.8" fill="none" stroke="#000" stroke-width="1.25" stroke-dasharray="29.8 19"/>
<polyline points="143.6,751.7 158.8,754.0 174.0,755.1 189.2,755.8 204.3,759.7 219.5,767.8 234.7,776.5 249.9,779.7 265.1,781.5 280.3,782.7 295.5,787.9 310.7,794.1 325.8,796.6 341.0,797.6 356.2,799.8 371.4,804.4 386.6,812.5 401.8,821.6 417.0,826.9 432.1,827.8 447.3,828.5 462.5,833.0 477.7,840.4 492.9,845.7 508.1,846.4 523.3,846.8 538.5,850.2 553.6,860.6 568.8,870.9 584.0,876.6 599.2,879.1" fill="none" stroke="#000" stroke-width="1.25" stroke-linejoin="round"/>
<g fill="#77ac30">
<circle cx="143.6" cy="558.0" r="7.6"/>
<circle cx="158.8" cy="521.6" r="7.6"/>
<circle cx="174.0" cy="524.2" r="7.6"/>
<circle cx="189.2" cy="567.8" r="7.6"/>
<circle cx="204.3" cy="633.0" r="7.6"/>
<circle cx="219.5" cy="696.4" r="7.6"/>
<circle cx="234.7" cy="739.1" r="7.6"/>
<circle cx="249.9" cy="754.5" r="7.6"/>
<circle cx="265.1" cy="739.1" r="7.6"/>
<circle cx="280.3" cy="699.7" r="7.6"/>
<circle cx="295.5" cy="644.6" r="7.6"/>
<circle cx="310.7" cy="586.8" r="7.6"/>
<circle cx="325.8" cy="546.1" r="7.6"/>
<circle cx="341.0" cy="542.2" r="7.6"/>
<circle cx="356.2" cy="580.7" r="7.6"/>
<circle cx="371.4" cy="643.0" r="7.6"/>
<circle cx="386.6" cy="705.9" r="7.6"/>
<circle cx="401.8" cy="751.8" r="7.6"/>
<circle cx="417.0" cy="771.6" r="7.6"/>
<circle cx="432.1" cy="762.0" r="7.6"/>
<circle cx="447.3" cy="728.3" r="7.6"/>
<circle cx="462.5" cy="675.8" r="7.6"/>
<circle cx="477.7" cy="617.1" r="7.6"/>
<circle cx="492.9" cy="574.6" r="7.6"/>
<circle cx="508.1" cy="565.9" r="7.6"/>
<circle cx="523.3" cy="596.6" r="7.6"/>
<circle cx="538.5" cy="653.6" r="7.6"/>
<circle cx="553.6" cy="714.3" r="7.6"/>
<circle cx="568.8" cy="763.7" r="7.6"/>
<circle cx="584.0" cy="788.8" r="7.6"/>
<circle cx="599.2" cy="783.1" r="7.6"/>
</g>
<g fill="#7e2f8e">
<path d="M143.6 709.3 L152.1 724.1 L135.1 724.1Z"/>
<path d="M158.8 710.0 L167.3 724.8 L150.3 724.8Z"/>
<path d="M174.0 710.4 L182.5 725.2 L165.5 725.2Z"/>
<path d="M189.2 713.8 L197.7 728.6 L180.7 728.6Z"/>
<path d="M204.3 718.4 L212.8 733.2 L195.8 733.2Z"/>
<path d="M219.5 724.2 L228.0 739.0 L211.0 739.0Z"/>
<path d="M234.7 728.7 L243.2 743.5 L226.2 743.5Z"/>
<path d="M249.9 731.0 L258.4 745.8 L241.4 745.8Z"/>
<path d="M265.1 731.5 L273.6 746.3 L256.6 746.3Z"/>
<path d="M280.3 728.7 L288.8 743.5 L271.8 743.5Z"/>
<path d="M295.5 727.6 L304.0 742.4 L287.0 742.4Z"/>
<path d="M310.7 721.9 L319.2 736.7 L302.2 736.7Z"/>
<path d="M325.8 722.6 L334.3 737.4 L317.3 737.4Z"/>
<path d="M341.0 723.5 L349.5 738.3 L332.5 738.3Z"/>
<path d="M356.2 727.6 L364.7 742.4 L347.7 742.4Z"/>
<path d="M371.4 732.2 L379.9 747.0 L362.9 747.0Z"/>
<path d="M386.6 736.8 L395.1 751.6 L378.1 751.6Z"/>
<path d="M401.8 741.3 L410.3 756.1 L393.3 756.1Z"/>
<path d="M417.0 744.1 L425.5 758.9 L408.5 758.9Z"/>
<path d="M432.1 744.1 L440.6 758.9 L423.6 758.9Z"/>
<path d="M447.3 744.1 L455.8 758.9 L438.8 758.9Z"/>
<path d="M462.5 740.2 L471.0 755.0 L454.0 755.0Z"/>
<path d="M477.7 736.8 L486.2 751.6 L469.2 751.6Z"/>
<path d="M492.9 735.6 L501.4 750.4 L484.4 750.4Z"/>
<path d="M508.1 735.6 L516.6 750.4 L499.6 750.4Z"/>
<path d="M523.3 739.0 L531.8 753.8 L514.8 753.8Z"/>
<path d="M538.5 744.1 L547.0 758.9 L530.0 758.9Z"/>
<path d="M553.6 748.9 L562.1 763.7 L545.1 763.7Z"/>
<path d="M568.8 752.8 L577.3 767.6 L560.3 767.6Z"/>
<path d="M584.0 755.8 L592.5 770.6 L575.5 770.6Z"/>
<path d="M599.2 756.2 L607.7 771.0 L590.7 771.0Z"/>
</g>
<!-- plot b 1 -->
<line x1="805.8" y1="490.4" x2="805.8" y2="912.9" stroke="#e0e0e0" stroke-width="2"/>
<line x1="957.7" y1="490.4" x2="957.7" y2="912.9" stroke="#e0e0e0" stroke-width="2"/>
<line x1="653.8" y1="833.7" x2="1109.7" y2="833.7" stroke="#dfdfdf" stroke-width="2.2"/>
<line x1="653.8" y1="728.1" x2="1109.7" y2="728.1" stroke="#dfdfdf" stroke-width="2.2"/>
<line x1="653.8" y1="622.4" x2="1109.7" y2="622.4" stroke="#dfdfdf" stroke-width="3.0"/>
<line x1="653.8" y1="516.8" x2="1109.7" y2="516.8" stroke="#dfdfdf" stroke-width="1.5"/>
<line x1="653.8" y1="912.9" x2="653.8" y2="907.9" stroke="#262626" stroke-width="1.4"/>
<line x1="653.8" y1="490.4" x2="653.8" y2="495.4" stroke="#262626" stroke-width="1.4"/>
<text x="653.8" y="953" text-anchor="middle" font-size="31" fill="#262626">70</text>
<line x1="805.8" y1="912.9" x2="805.8" y2="907.9" stroke="#262626" stroke-width="1.4"/>
<line x1="805.8" y1="490.4" x2="805.8" y2="495.4" stroke="#262626" stroke-width="1.4"/>
<text x="805.8" y="953" text-anchor="middle" font-size="31" fill="#262626">80</text>
<line x1="957.7" y1="912.9" x2="957.7" y2="907.9" stroke="#262626" stroke-width="1.4"/>
<line x1="957.7" y1="490.4" x2="957.7" y2="495.4" stroke="#262626" stroke-width="1.4"/>
<text x="957.7" y="953" text-anchor="middle" font-size="31" fill="#262626">90</text>
<line x1="1109.7" y1="912.9" x2="1109.7" y2="907.9" stroke="#262626" stroke-width="1.4"/>
<line x1="1109.7" y1="490.4" x2="1109.7" y2="495.4" stroke="#262626" stroke-width="1.4"/>
<text x="1108.3" y="953" text-anchor="middle" font-size="31" fill="#262626">100</text>
<line x1="653.8" y1="833.7" x2="658.8" y2="833.7" stroke="#262626" stroke-width="1.4"/>
<line x1="1109.7" y1="833.7" x2="1104.7" y2="833.7" stroke="#262626" stroke-width="1.4"/>
<line x1="653.8" y1="728.1" x2="658.8" y2="728.1" stroke="#262626" stroke-width="1.4"/>
<line x1="1109.7" y1="728.1" x2="1104.7" y2="728.1" stroke="#262626" stroke-width="1.4"/>
<line x1="653.8" y1="622.4" x2="658.8" y2="622.4" stroke="#262626" stroke-width="1.4"/>
<line x1="1109.7" y1="622.4" x2="1104.7" y2="622.4" stroke="#262626" stroke-width="1.4"/>
<line x1="653.8" y1="516.8" x2="658.8" y2="516.8" stroke="#262626" stroke-width="1.4"/>
<line x1="1109.7" y1="516.8" x2="1104.7" y2="516.8" stroke="#262626" stroke-width="1.4"/>
<path d="M653.8 490.4 H1109.7 V912.9 H653.8" fill="none" stroke="#262626" stroke-width="1.7"/>
<line x1="654.0" y1="490.4" x2="654.0" y2="912.9" stroke="#666" stroke-width="1.2"/>
<text y="996.0" font-size="32.8" fill="#262626"><tspan x="816.7">T</tspan><tspan x="835.0" dy="4" font-size="25">SL</tspan><tspan dy="-4"> </tspan><tspan x="870.1" textLength="15.99" lengthAdjust="spacingAndGlyphs">(</tspan><tspan x="885.7">ms</tspan><tspan x="933.9" textLength="15.99" lengthAdjust="spacingAndGlyphs">)</tspan></text>
<polyline points="653.8,690.8 684.2,690.0 702.4,689.7 731.3,690.8 749.5,695.8 779.9,704.1 796.6,709.1 827.0,713.0 843.8,711.9 875.7,710.3 893.9,711.9 924.3,719.0 941.0,725.6 969.9,733.7 988.1,735.9 1017.0,734.8 1035.2,733.7 1067.1,735.0 1083.9,740.7 1109.7,749.9" fill="none" stroke="#000" stroke-width="1.25" stroke-dasharray="29.8 19"/>
<polyline points="653.8,712.6 669.0,743.5 684.2,760.0 699.4,753.8 714.6,725.2 729.8,687.4 745.0,654.1 760.2,626.7 775.4,621.0 790.6,638.1 805.8,679.4 821.0,734.3 836.2,777.9 851.4,802.6 866.6,797.3 881.8,762.4 896.9,718.3 912.1,669.0 927.3,631.3 942.5,619.3 957.7,638.8 972.9,691.9 988.1,759.1 1003.3,815.6 1018.5,849.8 1033.7,847.1 1048.9,807.6 1064.1,754.2 1079.3,686.2 1094.5,637.0 1109.7,618.6" fill="none" stroke="#000" stroke-width="1.25" stroke-linejoin="round"/>
<g fill="#77ac30">
<circle cx="653.8" cy="627.8" r="7.6"/>
<circle cx="669.0" cy="657.1" r="7.6"/>
<circle cx="684.2" cy="691.9" r="7.6"/>
<circle cx="699.4" cy="722.9" r="7.6"/>
<circle cx="714.6" cy="742.3" r="7.6"/>
<circle cx="729.8" cy="737.8" r="7.6"/>
<circle cx="745.0" cy="711.4" r="7.6"/>
<circle cx="760.2" cy="674.8" r="7.6"/>
<circle cx="775.4" cy="635.8" r="7.6"/>
<circle cx="790.6" cy="613.6" r="7.6"/>
<circle cx="805.8" cy="613.6" r="7.6"/>
<circle cx="821.0" cy="632.8" r="7.6"/>
<circle cx="836.2" cy="662.6" r="7.6"/>
<circle cx="851.4" cy="695.8" r="7.6"/>
<circle cx="866.6" cy="725.2" r="7.6"/>
<circle cx="881.8" cy="742.7" r="7.6"/>
<circle cx="896.9" cy="737.8" r="7.6"/>
<circle cx="912.1" cy="712.6" r="7.6"/>
<circle cx="927.3" cy="675.9" r="7.6"/>
<circle cx="942.5" cy="637.0" r="7.6"/>
<circle cx="957.7" cy="618.6" r="7.6"/>
<circle cx="972.9" cy="625.5" r="7.6"/>
<circle cx="988.1" cy="656.9" r="7.6"/>
<circle cx="1003.3" cy="700.6" r="7.6"/>
<circle cx="1018.5" cy="745.3" r="7.6"/>
<circle cx="1033.7" cy="779.4" r="7.6"/>
<circle cx="1048.9" cy="792.8" r="7.6"/>
<circle cx="1064.1" cy="777.9" r="7.6"/>
<circle cx="1079.3" cy="740.5" r="7.6"/>
<circle cx="1094.5" cy="689.0" r="7.6"/>
<circle cx="1109.7" cy="639.3" r="7.6"/>
</g>
<g fill="#7e2f8e">
<path d="M653.8 713.6 L662.3 728.4 L645.3 728.4Z"/>
<path d="M669.0 713.6 L677.5 728.4 L660.5 728.4Z"/>
<path d="M684.2 715.5 L692.7 730.3 L675.7 730.3Z"/>
<path d="M699.4 714.8 L707.9 729.6 L690.9 729.6Z"/>
<path d="M714.6 721.7 L723.1 736.5 L706.1 736.5Z"/>
<path d="M729.8 722.8 L738.3 737.6 L721.3 737.6Z"/>
<path d="M745.0 728.5 L753.5 743.3 L736.5 743.3Z"/>
<path d="M760.2 727.8 L768.7 742.6 L751.7 742.6Z"/>
<path d="M775.4 732.6 L783.9 747.4 L766.9 747.4Z"/>
<path d="M790.6 731.5 L799.1 746.3 L782.1 746.3Z"/>
<path d="M805.8 728.0 L814.3 742.8 L797.3 742.8Z"/>
<path d="M821.0 724.6 L829.5 739.4 L812.5 739.4Z"/>
<path d="M836.2 720.5 L844.7 735.3 L827.7 735.3Z"/>
<path d="M851.4 721.2 L859.9 736.0 L842.9 736.0Z"/>
<path d="M866.6 720.0 L875.1 734.8 L858.1 734.8Z"/>
<path d="M881.8 725.1 L890.2 739.9 L873.2 739.9Z"/>
<path d="M896.9 726.9 L905.4 741.7 L888.4 741.7Z"/>
<path d="M912.1 727.4 L920.6 742.2 L903.6 742.2Z"/>
<path d="M927.3 732.0 L935.8 746.8 L918.8 746.8Z"/>
<path d="M942.5 738.4 L951.0 753.2 L934.0 753.2Z"/>
<path d="M957.7 743.4 L966.2 758.2 L949.2 758.2Z"/>
<path d="M972.9 743.9 L981.4 758.7 L964.4 758.7Z"/>
<path d="M988.1 743.9 L996.6 758.7 L979.6 758.7Z"/>
<path d="M1003.3 742.3 L1011.8 757.1 L994.8 757.1Z"/>
<path d="M1018.5 740.0 L1027.0 754.8 L1010.0 754.8Z"/>
<path d="M1033.7 746.4 L1042.2 761.2 L1025.2 761.2Z"/>
<path d="M1048.9 746.4 L1057.4 761.2 L1040.4 761.2Z"/>
<path d="M1064.1 750.3 L1072.6 765.1 L1055.6 765.1Z"/>
<path d="M1079.3 751.4 L1087.8 766.2 L1070.8 766.2Z"/>
<path d="M1094.5 754.4 L1103.0 769.2 L1086.0 769.2Z"/>
<path d="M1109.7 748.0 L1118.2 762.8 L1101.2 762.8Z"/>
</g>
<!-- plot b 2 -->
<line x1="1335.5" y1="490.4" x2="1335.5" y2="912.9" stroke="#e0e0e0" stroke-width="2"/>
<line x1="1488.5" y1="490.4" x2="1488.5" y2="912.9" stroke="#e0e0e0" stroke-width="2"/>
<line x1="1182.6" y1="833.7" x2="1641.4" y2="833.7" stroke="#dfdfdf" stroke-width="2.2"/>
<line x1="1182.6" y1="728.1" x2="1641.4" y2="728.1" stroke="#dfdfdf" stroke-width="2.2"/>
<line x1="1182.6" y1="622.4" x2="1641.4" y2="622.4" stroke="#dfdfdf" stroke-width="3.0"/>
<line x1="1182.6" y1="516.8" x2="1641.4" y2="516.8" stroke="#dfdfdf" stroke-width="1.5"/>
<line x1="1182.6" y1="912.9" x2="1182.6" y2="907.9" stroke="#262626" stroke-width="1.4"/>
<line x1="1182.6" y1="490.4" x2="1182.6" y2="495.4" stroke="#262626" stroke-width="1.4"/>
<text x="1182.6" y="953" text-anchor="middle" font-size="31" fill="#262626">70</text>
<line x1="1335.5" y1="912.9" x2="1335.5" y2="907.9" stroke="#262626" stroke-width="1.4"/>
<line x1="1335.5" y1="490.4" x2="1335.5" y2="495.4" stroke="#262626" stroke-width="1.4"/>
<text x="1335.5" y="953" text-anchor="middle" font-size="31" fill="#262626">80</text>
<line x1="1488.5" y1="912.9" x2="1488.5" y2="907.9" stroke="#262626" stroke-width="1.4"/>
<line x1="1488.5" y1="490.4" x2="1488.5" y2="495.4" stroke="#262626" stroke-width="1.4"/>
<text x="1488.5" y="953" text-anchor="middle" font-size="31" fill="#262626">90</text>
<line x1="1641.4" y1="912.9" x2="1641.4" y2="907.9" stroke="#262626" stroke-width="1.4"/>
<line x1="1641.4" y1="490.4" x2="1641.4" y2="495.4" stroke="#262626" stroke-width="1.4"/>
<text x="1640.0" y="953" text-anchor="middle" font-size="31" fill="#262626">100</text>
<line x1="1182.6" y1="833.7" x2="1187.6" y2="833.7" stroke="#262626" stroke-width="1.4"/>
<line x1="1641.4" y1="833.7" x2="1636.4" y2="833.7" stroke="#262626" stroke-width="1.4"/>
<line x1="1182.6" y1="728.1" x2="1187.6" y2="728.1" stroke="#262626" stroke-width="1.4"/>
<line x1="1641.4" y1="728.1" x2="1636.4" y2="728.1" stroke="#262626" stroke-width="1.4"/>
<line x1="1182.6" y1="622.4" x2="1187.6" y2="622.4" stroke="#262626" stroke-width="1.4"/>
<line x1="1641.4" y1="622.4" x2="1636.4" y2="622.4" stroke="#262626" stroke-width="1.4"/>
<line x1="1182.6" y1="516.8" x2="1187.6" y2="516.8" stroke="#262626" stroke-width="1.4"/>
<line x1="1641.4" y1="516.8" x2="1636.4" y2="516.8" stroke="#262626" stroke-width="1.4"/>
<path d="M1182.6 490.4 H1641.4 V912.9 H1182.6" fill="none" stroke="#262626" stroke-width="1.7"/>
<line x1="1182.6" y1="489.6" x2="1182.6" y2="913.7" stroke="#262626" stroke-width="1.7"/>
<text y="996.0" font-size="32.8" fill="#262626"><tspan x="1346.9">T</tspan><tspan x="1365.2" dy="4" font-size="25">SL</tspan><tspan dy="-4"> </tspan><tspan x="1400.4" textLength="15.99" lengthAdjust="spacingAndGlyphs">(</tspan><tspan x="1415.9">ms</tspan><tspan x="1464.1" textLength="15.99" lengthAdjust="spacingAndGlyphs">)</tspan></text>
<polyline points="1182.6,692.4 1211.7,698.1 1230.0,700.0 1260.6,699.3 1278.2,698.1 1308.0,700.4 1326.4,705.7 1355.4,714.9 1372.2,720.1 1402.8,722.9 1421.2,722.2 1451.0,720.6 1469.3,721.7 1499.2,729.1 1516.0,735.9 1545.1,745.3 1563.4,747.6 1592.5,746.9 1610.8,744.6 1641.4,746.5" fill="none" stroke="#000" stroke-width="1.25" stroke-dasharray="29.8 19"/>
<polyline points="1182.6,622.1 1197.9,639.3 1213.2,674.8 1228.5,722.9 1243.8,759.5 1259.1,778.5 1274.4,772.8 1289.7,745.8 1304.9,704.6 1320.2,661.0 1335.5,628.9 1350.8,620.3 1366.1,640.4 1381.4,681.6 1396.7,736.6 1412.0,795.9 1427.3,822.7 1442.6,819.5 1457.9,786.1 1473.2,727.5 1488.5,669.0 1503.8,632.4 1519.1,619.3 1534.3,640.0 1549.6,697.7 1564.9,769.5 1580.2,833.1 1595.5,871.3 1610.8,871.3 1626.1,829.9 1641.4,770.3" fill="none" stroke="#000" stroke-width="1.25" stroke-linejoin="round"/>
<g fill="#77ac30">
<circle cx="1182.6" cy="643.4" r="7.6"/>
<circle cx="1197.9" cy="677.0" r="7.6"/>
<circle cx="1213.2" cy="722.9" r="7.6"/>
<circle cx="1228.5" cy="767.1" r="7.6"/>
<circle cx="1243.8" cy="797.3" r="7.6"/>
<circle cx="1259.1" cy="807.6" r="7.6"/>
<circle cx="1274.4" cy="793.9" r="7.6"/>
<circle cx="1289.7" cy="757.9" r="7.6"/>
<circle cx="1304.9" cy="706.8" r="7.6"/>
<circle cx="1320.2" cy="659.4" r="7.6"/>
<circle cx="1335.5" cy="628.9" r="7.6"/>
<circle cx="1350.8" cy="628.2" r="7.6"/>
<circle cx="1366.1" cy="654.9" r="7.6"/>
<circle cx="1381.4" cy="699.3" r="7.6"/>
<circle cx="1396.7" cy="744.6" r="7.6"/>
<circle cx="1412.0" cy="776.7" r="7.6"/>
<circle cx="1427.3" cy="785.7" r="7.6"/>
<circle cx="1442.6" cy="773.3" r="7.6"/>
<circle cx="1457.9" cy="738.2" r="7.6"/>
<circle cx="1473.2" cy="693.1" r="7.6"/>
<circle cx="1488.5" cy="652.5" r="7.6"/>
<circle cx="1503.8" cy="634.7" r="7.6"/>
<circle cx="1519.1" cy="649.1" r="7.6"/>
<circle cx="1534.3" cy="694.3" r="7.6"/>
<circle cx="1549.6" cy="759.1" r="7.6"/>
<circle cx="1564.9" cy="820.8" r="7.6"/>
<circle cx="1580.2" cy="864.6" r="7.6"/>
<circle cx="1595.5" cy="879.0" r="7.6"/>
<circle cx="1610.8" cy="862.3" r="7.6"/>
<circle cx="1626.1" cy="814.3" r="7.6"/>
<circle cx="1641.4" cy="746.9" r="7.6"/>
</g>
<g fill="#7e2f8e">
<path d="M1182.6 704.5 L1191.1 719.3 L1174.1 719.3Z"/>
<path d="M1197.9 707.2 L1206.4 722.0 L1189.4 722.0Z"/>
<path d="M1213.2 704.5 L1221.7 719.3 L1204.7 719.3Z"/>
<path d="M1228.5 704.0 L1237.0 718.8 L1220.0 718.8Z"/>
<path d="M1243.8 704.0 L1252.3 718.8 L1235.3 718.8Z"/>
<path d="M1259.1 702.6 L1267.6 717.4 L1250.6 717.4Z"/>
<path d="M1274.4 702.9 L1282.9 717.7 L1265.9 717.7Z"/>
<path d="M1289.7 701.5 L1298.2 716.3 L1281.2 716.3Z"/>
<path d="M1304.9 701.5 L1313.4 716.3 L1296.4 716.3Z"/>
<path d="M1320.2 709.0 L1328.7 723.8 L1311.7 723.8Z"/>
<path d="M1335.5 711.4 L1344.0 726.2 L1327.0 726.2Z"/>
<path d="M1350.8 716.6 L1359.3 731.4 L1342.3 731.4Z"/>
<path d="M1366.1 717.1 L1374.6 731.9 L1357.6 731.9Z"/>
<path d="M1381.4 714.8 L1389.9 729.6 L1372.9 729.6Z"/>
<path d="M1396.7 718.2 L1405.2 733.0 L1388.2 733.0Z"/>
<path d="M1412.0 712.5 L1420.5 727.3 L1403.5 727.3Z"/>
<path d="M1427.3 714.8 L1435.8 729.6 L1418.8 729.6Z"/>
<path d="M1442.6 717.1 L1451.1 731.9 L1434.1 731.9Z"/>
<path d="M1457.9 714.3 L1466.4 729.1 L1449.4 729.1Z"/>
<path d="M1473.2 714.8 L1481.7 729.6 L1464.7 729.6Z"/>
<path d="M1488.5 720.5 L1497.0 735.3 L1480.0 735.3Z"/>
<path d="M1503.8 723.5 L1512.3 738.3 L1495.3 738.3Z"/>
<path d="M1519.1 733.5 L1527.6 748.3 L1510.6 748.3Z"/>
<path d="M1534.3 735.9 L1542.8 750.7 L1525.8 750.7Z"/>
<path d="M1549.6 733.5 L1558.1 748.3 L1541.1 748.3Z"/>
<path d="M1564.9 732.0 L1573.4 746.8 L1556.4 746.8Z"/>
<path d="M1580.2 736.6 L1588.7 751.4 L1571.7 751.4Z"/>
<path d="M1595.5 730.8 L1604.0 745.6 L1587.0 745.6Z"/>
<path d="M1610.8 725.6 L1619.3 740.4 L1602.3 740.4Z"/>
<path d="M1626.1 732.0 L1634.6 746.8 L1617.6 746.8Z"/>
<path d="M1641.4 732.4 L1649.9 747.2 L1632.9 747.2Z"/>
</g>
<rect x="1394.5" y="490.7" width="246.9" height="125.4" fill="#fff" stroke="#262626" stroke-width="0.9"/>
<circle cx="1420.6" cy="506.5" r="6.7" fill="#77ac30"/>
<path d="M1420.7 532.9 L1429.3 547.1 L1412.1 547.1Z" fill="#7e2f8e"/>
<line x1="1403.2" y1="571.3" x2="1438.9" y2="571.3" stroke="#000" stroke-width="1"/>
<line x1="1403.2" y1="597.3" x2="1438.9" y2="597.3" stroke="#000" stroke-width="1" stroke-dasharray="13.9 7.1"/>
<text y="516.6" font-size="22.6" fill="#000"><tspan x="1449.8" stroke="#000" stroke-width="0.25">meas </tspan><tspan x="1517.4" dy="-3" font-size="19.5" stroke="#000" stroke-width="0.35" font-family="'DejaVu Sans ExtraLight','DejaVu Sans Light','DejaVu Sans',sans-serif" font-weight="200" font-style="oblique">φ</tspan><tspan dy="3"> </tspan><tspan x="1540.3">= </tspan><tspan x="1566.4">0</tspan></text>
<text y="546.3" font-size="22.6" fill="#000"><tspan x="1449.8" stroke="#000" stroke-width="0.25">meas </tspan><tspan x="1517.2" dy="-3" font-size="19.5" stroke="#000" stroke-width="0.35" font-family="'DejaVu Sans ExtraLight','DejaVu Sans Light','DejaVu Sans',sans-serif" font-weight="200" font-style="oblique">φ</tspan><tspan dy="3"> </tspan><tspan x="1542.6" font-size="17.5">∈ </tspan><tspan x="1564.9">[-</tspan><tspan x="1581.9" font-size="19" stroke="#000" stroke-width="0.35" font-family="'DejaVu Sans ExtraLight','DejaVu Sans Light','DejaVu Sans',sans-serif" font-weight="200" font-style="oblique">π</tspan><tspan x="1595.4">, </tspan><tspan x="1610.5" font-size="19" stroke="#000" stroke-width="0.35" font-family="'DejaVu Sans ExtraLight','DejaVu Sans Light','DejaVu Sans',sans-serif" font-weight="200" font-style="oblique">π</tspan><tspan x="1624.3">]</tspan></text>
<text y="576.0" font-size="22.6" fill="#000"><tspan x="1449.8" stroke="#000" stroke-width="0.25">sim </tspan><tspan x="1497.6" dy="-3" font-size="19.5" stroke="#000" stroke-width="0.35" font-family="'DejaVu Sans ExtraLight','DejaVu Sans Light','DejaVu Sans',sans-serif" font-weight="200" font-style="oblique">φ</tspan><tspan dy="3"> </tspan><tspan x="1520.5">= </tspan><tspan x="1546.7">0</tspan></text>
<text y="602.9" font-size="22.6" fill="#000"><tspan x="1449.8" stroke="#000" stroke-width="0.25">sim </tspan><tspan x="1495.3" dy="-3" font-size="19.5" stroke="#000" stroke-width="0.35" font-family="'DejaVu Sans ExtraLight','DejaVu Sans Light','DejaVu Sans',sans-serif" font-weight="200" font-style="oblique">φ</tspan><tspan dy="3"> </tspan><tspan x="1519.8" font-size="17.5">∈ </tspan><tspan x="1543.1">[-</tspan><tspan x="1560.9" font-size="19" stroke="#000" stroke-width="0.35" font-family="'DejaVu Sans ExtraLight','DejaVu Sans Light','DejaVu Sans',sans-serif" font-weight="200" font-style="oblique">π</tspan><tspan x="1574.0">, </tspan><tspan x="1588.6" font-size="19" stroke="#000" stroke-width="0.35" font-family="'DejaVu Sans ExtraLight','DejaVu Sans Light','DejaVu Sans',sans-serif" font-weight="200" font-style="oblique">π</tspan><tspan x="1602.4">]</tspan></text>
<text x="-3.8" y="43.9" font-size="48" font-weight="bold" fill="#000">a<tspan x="26.4" textLength="26.32" lengthAdjust="spacingAndGlyphs" y="46.4">)</tspan><tspan x="52.5" y="46.8" font-size="45">i.</tspan></text>
<text x="607.6" y="52" font-size="45" font-weight="bold" fill="#000">ii.</text>
<text x="1120.3" y="52" font-size="45" font-weight="bold" fill="#000">iii.</text>
<text x="-6.3" y="526.3" font-size="48" font-weight="bold" fill="#000">b<tspan x="26.4" textLength="26.32" lengthAdjust="spacingAndGlyphs">)</tspan><tspan x="52.5" y="526.6" font-size="45">i.</tspan></text>
<text x="607.6" y="526.7" font-size="45" font-weight="bold" fill="#000">ii.</text>
<text x="1120.3" y="526.7" font-size="45" font-weight="bold" fill="#000">iii.</text>
</svg></body></html>
